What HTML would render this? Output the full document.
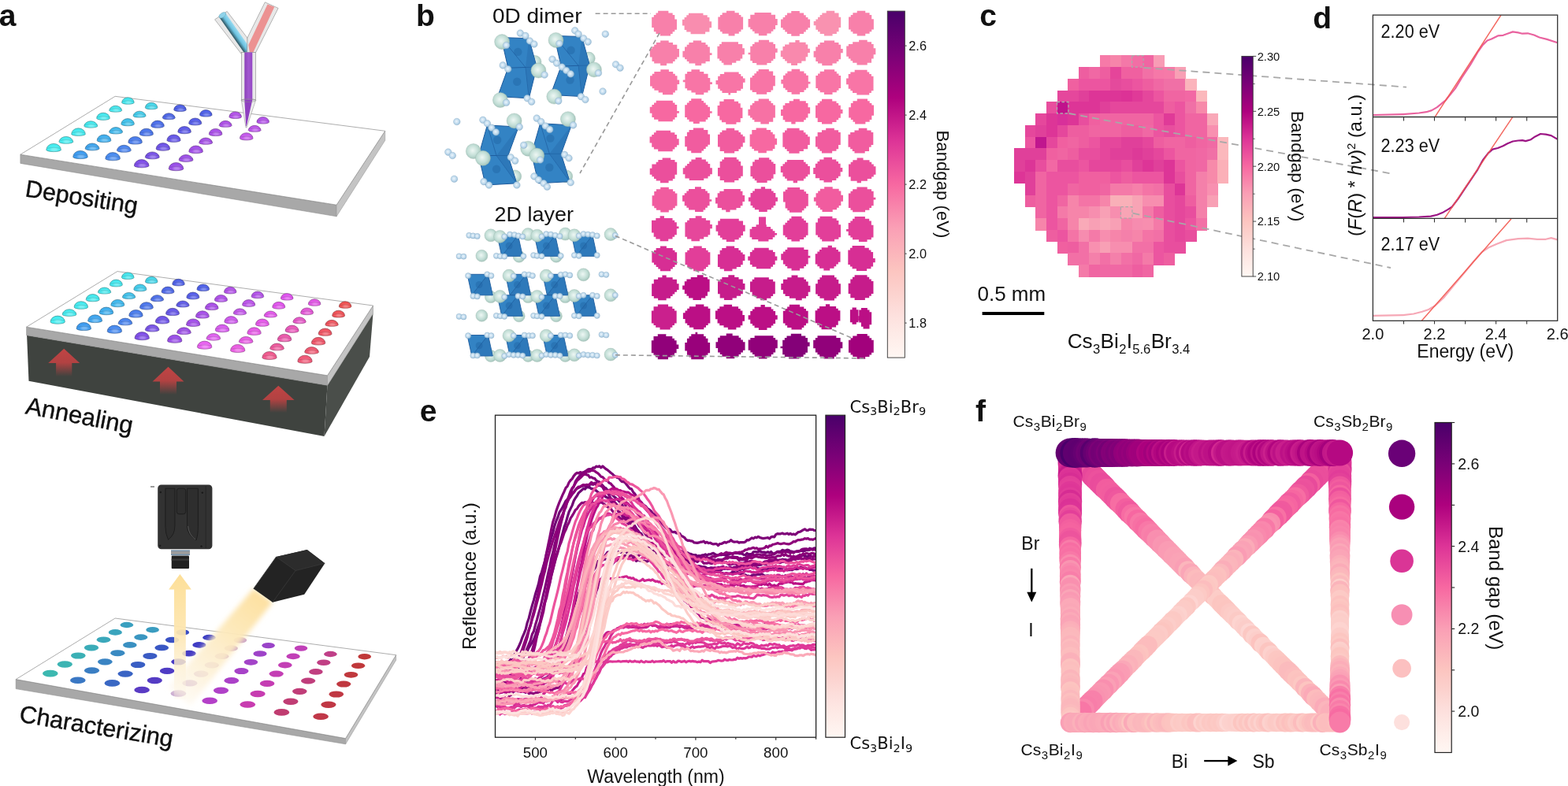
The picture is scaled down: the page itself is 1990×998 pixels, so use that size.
<!DOCTYPE html>
<html><head><meta charset="utf-8"><title>Figure</title>
<style>
html,body{margin:0;padding:0;background:#fff;overflow:hidden}
svg{display:block}
.t{font-family:"Liberation Sans",Arial,sans-serif;fill:#111}
.dj{font-family:"DejaVu Sans","Liberation Sans",sans-serif;fill:#111}
</style></head><body>
<svg width="1990" height="998" viewBox="0 0 1990 998">
<defs>
<linearGradient id="redfade" x1="0" y1="0" x2="0" y2="1">
 <stop offset="0" stop-color="#c04444"/><stop offset="0.5" stop-color="#b24242"/><stop offset="1" stop-color="#b24242" stop-opacity="0"/>
</linearGradient>
<linearGradient id="yelfade" x1="0" y1="0" x2="0" y2="1">
 <stop offset="0" stop-color="#fddf98"/><stop offset="0.45" stop-color="#fde6b0" stop-opacity="0.95"/><stop offset="0.75" stop-color="#fdf0d2" stop-opacity="0.8"/><stop offset="1" stop-color="#fdf4e0" stop-opacity="0.2"/>
</linearGradient>
<filter id="soft" x="-0.2" y="-0.2" width="1.4" height="1.4"><feGaussianBlur stdDeviation="3.2"/></filter>
<filter id="blur1" x="-0.5" y="-0.5" width="2" height="2"><feGaussianBlur stdDeviation="0.8"/></filter>
<linearGradient id="beam" gradientUnits="userSpaceOnUse" x1="334" y1="756" x2="228" y2="885">
 <stop offset="0" stop-color="#fde0a0"/><stop offset="0.35" stop-color="#fde8b8" stop-opacity="0.95"/><stop offset="0.75" stop-color="#fdf1d8" stop-opacity="0.85"/><stop offset="1" stop-color="#fdf6e8" stop-opacity="0.5"/>
</linearGradient>
<linearGradient id="bluetube" gradientUnits="userSpaceOnUse" x1="294.3" y1="43.6" x2="301.7" y2="38.4">
 <stop offset="0" stop-color="#35606e"/><stop offset="0.45" stop-color="#6cc2e0"/><stop offset="1" stop-color="#9adcf2"/>
</linearGradient>
<linearGradient id="purptube" x1="0" y1="0" x2="1" y2="0">
 <stop offset="0" stop-color="#8a40b8"/><stop offset="0.5" stop-color="#a258d0"/><stop offset="1" stop-color="#9448c4"/>
</linearGradient>
<linearGradient id="bgrad_b" x1="0" y1="0" x2="0" y2="1"><stop offset="0.0000" stop-color="#49006a"/><stop offset="0.0625" stop-color="#620070"/><stop offset="0.1250" stop-color="#7a0177"/><stop offset="0.1875" stop-color="#94017a"/><stop offset="0.2500" stop-color="#ae017e"/><stop offset="0.3125" stop-color="#c61a8a"/><stop offset="0.3750" stop-color="#dd3497"/><stop offset="0.4375" stop-color="#ea4e9c"/><stop offset="0.5000" stop-color="#f768a1"/><stop offset="0.5625" stop-color="#f884ab"/><stop offset="0.6250" stop-color="#fa9fb5"/><stop offset="0.6875" stop-color="#fbb2ba"/><stop offset="0.7500" stop-color="#fcc5c0"/><stop offset="0.8125" stop-color="#fcd2ce"/><stop offset="0.8750" stop-color="#fde0dd"/><stop offset="0.9375" stop-color="#feece8"/><stop offset="1.0000" stop-color="#fff7f3"/></linearGradient>
<radialGradient id="csg" cx="0.45" cy="0.45" r="0.6"><stop offset="0" stop-color="#eef7f4"/><stop offset="0.6" stop-color="#c2ded6"/><stop offset="1" stop-color="#9fc0b6"/></radialGradient>
<radialGradient id="hg" cx="0.45" cy="0.45" r="0.6"><stop offset="0" stop-color="#eef6fc"/><stop offset="0.6" stop-color="#bcd8ec"/><stop offset="1" stop-color="#94b8d4"/></radialGradient>
<linearGradient id="egrad" x1="0" y1="0" x2="0" y2="1"><stop offset="0.0000" stop-color="#49006a"/><stop offset="0.0625" stop-color="#620070"/><stop offset="0.1250" stop-color="#7a0177"/><stop offset="0.1875" stop-color="#94017a"/><stop offset="0.2500" stop-color="#ae017e"/><stop offset="0.3125" stop-color="#c61a8a"/><stop offset="0.3750" stop-color="#dd3497"/><stop offset="0.4375" stop-color="#ea4e9c"/><stop offset="0.5000" stop-color="#f768a1"/><stop offset="0.5625" stop-color="#f884ab"/><stop offset="0.6250" stop-color="#fa9fb5"/><stop offset="0.6875" stop-color="#fbb2ba"/><stop offset="0.7500" stop-color="#fcc5c0"/><stop offset="0.8125" stop-color="#fcd2ce"/><stop offset="0.8750" stop-color="#fde0dd"/><stop offset="0.9375" stop-color="#feece8"/><stop offset="1.0000" stop-color="#fff7f3"/></linearGradient><linearGradient id="fgrad" x1="0" y1="0" x2="0" y2="1"><stop offset="0.0000" stop-color="#49006a"/><stop offset="0.0625" stop-color="#620070"/><stop offset="0.1250" stop-color="#7a0177"/><stop offset="0.1875" stop-color="#94017a"/><stop offset="0.2500" stop-color="#ae017e"/><stop offset="0.3125" stop-color="#c61a8a"/><stop offset="0.3750" stop-color="#dd3497"/><stop offset="0.4375" stop-color="#ea4e9c"/><stop offset="0.5000" stop-color="#f768a1"/><stop offset="0.5625" stop-color="#f884ab"/><stop offset="0.6250" stop-color="#fa9fb5"/><stop offset="0.6875" stop-color="#fbb2ba"/><stop offset="0.7500" stop-color="#fcc5c0"/><stop offset="0.8125" stop-color="#fcd2ce"/><stop offset="0.8750" stop-color="#fde0dd"/><stop offset="0.9375" stop-color="#feece8"/><stop offset="1.0000" stop-color="#fff7f3"/></linearGradient><linearGradient id="cgrad" x1="0" y1="0" x2="0" y2="1"><stop offset="0.0000" stop-color="#49006a"/><stop offset="0.0625" stop-color="#620070"/><stop offset="0.1250" stop-color="#7a0177"/><stop offset="0.1875" stop-color="#94017a"/><stop offset="0.2500" stop-color="#ae017e"/><stop offset="0.3125" stop-color="#c61a8a"/><stop offset="0.3750" stop-color="#dd3497"/><stop offset="0.4375" stop-color="#ea4e9c"/><stop offset="0.5000" stop-color="#f768a1"/><stop offset="0.5625" stop-color="#f884ab"/><stop offset="0.6250" stop-color="#fa9fb5"/><stop offset="0.6875" stop-color="#fbb2ba"/><stop offset="0.7500" stop-color="#fcc5c0"/><stop offset="0.8125" stop-color="#fcd2ce"/><stop offset="0.8750" stop-color="#fde0dd"/><stop offset="0.9375" stop-color="#feece8"/><stop offset="1.0000" stop-color="#fff7f3"/></linearGradient></defs>
<rect width="1990" height="998" fill="#fff"/>
<text x="-1.2" y="33.3" font-size="39" font-weight="bold" class="t">a</text>
<polygon points="25.9,196.2 427.1,260.2 427.1,274.8 25.9,207.4" fill="#a8a8a8" stroke="#8f8f8f" stroke-width="0.6"/>
<polygon points="427.1,260.2 488.7,166.3 488.7,178.3 427.1,274.8" fill="#c4c4c4" stroke="#9a9a9a" stroke-width="0.6"/>
<polygon points="25.9,196.2 146.1,122.3 488.7,166.3 427.1,260.2" fill="#ffffff" stroke="#8a8a8a" stroke-width="0.7"/>
<path d="M58.8,190.2 A9.3,7.8 0 0 1 77.4,190.2 A9.3,2.4 0 0 1 58.8,190.2 Z" fill="#46ecef" stroke="#237678" stroke-width="0.55"/><ellipse cx="68.9" cy="189.6" rx="4.7" ry="2.3" fill="#acf6f8" opacity="0.6" filter="url(#blur1)"/><path d="M59.5,188.2 Q68.1,186.4 76.7,188.2" fill="none" stroke="#237678" stroke-width="0.45" opacity="0.55"/>
<path d="M74.8,180.2 A9.1,7.6 0 0 1 92.9,180.2 A9.1,2.4 0 0 1 74.8,180.2 Z" fill="#46ebef" stroke="#237678" stroke-width="0.55"/><ellipse cx="84.6" cy="179.6" rx="4.5" ry="2.3" fill="#acf6f8" opacity="0.6" filter="url(#blur1)"/><path d="M75.5,178.3 Q83.8,176.6 92.1,178.3" fill="none" stroke="#237678" stroke-width="0.45" opacity="0.55"/>
<path d="M90.7,170.2 A8.8,7.4 0 0 1 108.3,170.2 A8.8,2.3 0 0 1 90.7,170.2 Z" fill="#46eaef" stroke="#237578" stroke-width="0.55"/><ellipse cx="100.3" cy="169.6" rx="4.4" ry="2.2" fill="#acf6f8" opacity="0.6" filter="url(#blur1)"/><path d="M91.4,168.4 Q99.5,166.7 107.6,168.4" fill="none" stroke="#237578" stroke-width="0.45" opacity="0.55"/>
<path d="M106.7,160.2 A8.6,7.2 0 0 1 123.8,160.2 A8.6,2.2 0 0 1 106.7,160.2 Z" fill="#46e9ee" stroke="#237477" stroke-width="0.55"/><ellipse cx="116" cy="159.7" rx="4.3" ry="2.2" fill="#acf5f7" opacity="0.6" filter="url(#blur1)"/><path d="M107.4,158.4 Q115.2,156.8 123.1,158.4" fill="none" stroke="#237477" stroke-width="0.45" opacity="0.55"/>
<path d="M122.7,150.2 A8.3,7 0 0 1 139.3,150.2 A8.3,2.2 0 0 1 122.7,150.2 Z" fill="#46e8ee" stroke="#237477" stroke-width="0.55"/><ellipse cx="131.8" cy="149.7" rx="4.2" ry="2.1" fill="#acf5f7" opacity="0.6" filter="url(#blur1)"/><path d="M123.3,148.5 Q131,146.9 138.6,148.5" fill="none" stroke="#237477" stroke-width="0.45" opacity="0.55"/>
<path d="M138.6,140.3 A8.1,6.8 0 0 1 154.7,140.3 A8.1,2.1 0 0 1 138.6,140.3 Z" fill="#46e7ee" stroke="#237477" stroke-width="0.55"/><ellipse cx="147.5" cy="139.7" rx="4" ry="2" fill="#acf4f7" opacity="0.6" filter="url(#blur1)"/><path d="M139.3,138.6 Q146.7,137 154.1,138.6" fill="none" stroke="#237477" stroke-width="0.45" opacity="0.55"/>
<path d="M154.6,130.3 A7.8,6.6 0 0 1 170.2,130.3 A7.8,2 0 0 1 154.6,130.3 Z" fill="#46e6ee" stroke="#237377" stroke-width="0.55"/><ellipse cx="163.2" cy="129.7" rx="3.9" ry="2" fill="#acf4f7" opacity="0.6" filter="url(#blur1)"/><path d="M155.2,128.6 Q162.4,127.1 169.6,128.6" fill="none" stroke="#237377" stroke-width="0.45" opacity="0.55"/>
<path d="M92.7,199.2 A9.3,7.8 0 0 1 111.3,199.2 A9.3,2.4 0 0 1 92.7,199.2 Z" fill="#3f9cf0" stroke="#204e78" stroke-width="0.55"/><ellipse cx="102.8" cy="198.6" rx="4.7" ry="2.3" fill="#a9d2f8" opacity="0.6" filter="url(#blur1)"/><path d="M93.4,197.2 Q102,195.4 110.6,197.2" fill="none" stroke="#204e78" stroke-width="0.45" opacity="0.55"/>
<path d="M108,188.8 A9.1,7.6 0 0 1 126.1,188.8 A9.1,2.4 0 0 1 108,188.8 Z" fill="#40a6ef" stroke="#205378" stroke-width="0.55"/><ellipse cx="117.8" cy="188.2" rx="4.5" ry="2.3" fill="#a9d7f8" opacity="0.6" filter="url(#blur1)"/><path d="M108.7,186.9 Q117,185.1 125.3,186.9" fill="none" stroke="#205378" stroke-width="0.45" opacity="0.55"/>
<path d="M123.2,178.4 A8.8,7.4 0 0 1 140.8,178.4 A8.8,2.3 0 0 1 123.2,178.4 Z" fill="#41afee" stroke="#205877" stroke-width="0.55"/><ellipse cx="132.8" cy="177.8" rx="4.4" ry="2.2" fill="#aadbf7" opacity="0.6" filter="url(#blur1)"/><path d="M123.9,176.5 Q132,174.8 140.1,176.5" fill="none" stroke="#205877" stroke-width="0.45" opacity="0.55"/>
<path d="M138.5,168 A8.6,7.2 0 0 1 155.6,168 A8.6,2.2 0 0 1 138.5,168 Z" fill="#42b9ed" stroke="#215c76" stroke-width="0.55"/><ellipse cx="147.8" cy="167.4" rx="4.3" ry="2.2" fill="#aae0f7" opacity="0.6" filter="url(#blur1)"/><path d="M139.2,166.2 Q147,164.5 154.9,166.2" fill="none" stroke="#215c76" stroke-width="0.45" opacity="0.55"/>
<path d="M153.8,157.6 A8.3,7 0 0 1 170.4,157.6 A8.3,2.2 0 0 1 153.8,157.6 Z" fill="#43c3ec" stroke="#226276" stroke-width="0.55"/><ellipse cx="162.9" cy="157" rx="4.2" ry="2.1" fill="#aae4f6" opacity="0.6" filter="url(#blur1)"/><path d="M154.4,155.8 Q162.1,154.2 169.7,155.8" fill="none" stroke="#226276" stroke-width="0.45" opacity="0.55"/>
<path d="M169,147.2 A8.1,6.8 0 0 1 185.1,147.2 A8.1,2.1 0 0 1 169,147.2 Z" fill="#44cceb" stroke="#226676" stroke-width="0.55"/><ellipse cx="177.9" cy="146.6" rx="4" ry="2" fill="#abe8f6" opacity="0.6" filter="url(#blur1)"/><path d="M169.7,145.5 Q177.1,143.9 184.5,145.5" fill="none" stroke="#226676" stroke-width="0.45" opacity="0.55"/>
<path d="M184.3,136.8 A7.8,6.6 0 0 1 199.9,136.8 A7.8,2 0 0 1 184.3,136.8 Z" fill="#45d6ea" stroke="#226b75" stroke-width="0.55"/><ellipse cx="192.9" cy="136.2" rx="3.9" ry="2" fill="#abedf6" opacity="0.6" filter="url(#blur1)"/><path d="M184.9,135.1 Q192.1,133.6 199.3,135.1" fill="none" stroke="#226b75" stroke-width="0.45" opacity="0.55"/>
<path d="M133.8,201.4 A9.3,7.8 0 0 1 152.4,201.4 A9.3,2.4 0 0 1 133.8,201.4 Z" fill="#4a8cf0" stroke="#254678" stroke-width="0.55"/><ellipse cx="143.9" cy="200.8" rx="4.7" ry="2.3" fill="#aecbf8" opacity="0.6" filter="url(#blur1)"/><path d="M134.5,199.4 Q143.1,197.6 151.7,199.4" fill="none" stroke="#254678" stroke-width="0.45" opacity="0.55"/>
<path d="M148.3,191.1 A9.1,7.6 0 0 1 166.4,191.1 A9.1,2.4 0 0 1 148.3,191.1 Z" fill="#4b85ef" stroke="#264278" stroke-width="0.55"/><ellipse cx="158.1" cy="190.5" rx="4.5" ry="2.3" fill="#aec8f8" opacity="0.6" filter="url(#blur1)"/><path d="M149,189.2 Q157.3,187.4 165.7,189.2" fill="none" stroke="#264278" stroke-width="0.45" opacity="0.55"/>
<path d="M162.8,180.8 A8.8,7.4 0 0 1 180.4,180.8 A8.8,2.3 0 0 1 162.8,180.8 Z" fill="#4c7eed" stroke="#263f76" stroke-width="0.55"/><ellipse cx="172.4" cy="180.2" rx="4.4" ry="2.2" fill="#aec5f7" opacity="0.6" filter="url(#blur1)"/><path d="M163.5,178.9 Q171.6,177.2 179.7,178.9" fill="none" stroke="#263f76" stroke-width="0.45" opacity="0.55"/>
<path d="M177.2,170.4 A8.6,7.2 0 0 1 194.4,170.4 A8.6,2.2 0 0 1 177.2,170.4 Z" fill="#4d77ec" stroke="#263c76" stroke-width="0.55"/><ellipse cx="186.6" cy="169.9" rx="4.3" ry="2.2" fill="#afc2f6" opacity="0.6" filter="url(#blur1)"/><path d="M177.9,168.6 Q185.8,167 193.7,168.6" fill="none" stroke="#263c76" stroke-width="0.45" opacity="0.55"/>
<path d="M191.7,160.1 A8.3,7 0 0 1 208.3,160.1 A8.3,2.2 0 0 1 191.7,160.1 Z" fill="#4e70eb" stroke="#273876" stroke-width="0.55"/><ellipse cx="200.8" cy="159.5" rx="4.2" ry="2.1" fill="#afbff6" opacity="0.6" filter="url(#blur1)"/><path d="M192.4,158.4 Q200,156.8 207.7,158.4" fill="none" stroke="#273876" stroke-width="0.45" opacity="0.55"/>
<path d="M206.2,149.8 A8.1,6.8 0 0 1 222.3,149.8 A8.1,2.1 0 0 1 206.2,149.8 Z" fill="#4f69e9" stroke="#283474" stroke-width="0.55"/><ellipse cx="215.1" cy="149.2" rx="4" ry="2" fill="#b0bcf5" opacity="0.6" filter="url(#blur1)"/><path d="M206.9,148.1 Q214.3,146.5 221.7,148.1" fill="none" stroke="#283474" stroke-width="0.45" opacity="0.55"/>
<path d="M220.7,139.5 A7.8,6.6 0 0 1 236.3,139.5 A7.8,2 0 0 1 220.7,139.5 Z" fill="#5062e8" stroke="#283174" stroke-width="0.55"/><ellipse cx="229.3" cy="138.9" rx="3.9" ry="2" fill="#b0b8f5" opacity="0.6" filter="url(#blur1)"/><path d="M221.3,137.8 Q228.5,136.3 235.7,137.8" fill="none" stroke="#283174" stroke-width="0.45" opacity="0.55"/>
<path d="M170.4,210.4 A9.3,7.8 0 0 1 189,210.4 A9.3,2.4 0 0 1 170.4,210.4 Z" fill="#8050e8" stroke="#402874" stroke-width="0.55"/><ellipse cx="180.5" cy="209.8" rx="4.7" ry="2.3" fill="#c6b0f5" opacity="0.6" filter="url(#blur1)"/><path d="M171.1,208.4 Q179.7,206.6 188.3,208.4" fill="none" stroke="#402874" stroke-width="0.45" opacity="0.55"/>
<path d="M184.2,199.7 A9.1,7.6 0 0 1 202.3,199.7 A9.1,2.4 0 0 1 184.2,199.7 Z" fill="#7853e8" stroke="#3c2a74" stroke-width="0.55"/><ellipse cx="194.1" cy="199.1" rx="4.5" ry="2.3" fill="#c2b2f5" opacity="0.6" filter="url(#blur1)"/><path d="M185,197.8 Q193.3,196 201.6,197.8" fill="none" stroke="#3c2a74" stroke-width="0.45" opacity="0.55"/>
<path d="M198.1,189 A8.8,7.4 0 0 1 215.7,189 A8.8,2.3 0 0 1 198.1,189 Z" fill="#7056e9" stroke="#382b74" stroke-width="0.55"/><ellipse cx="207.7" cy="188.4" rx="4.4" ry="2.2" fill="#bfb3f5" opacity="0.6" filter="url(#blur1)"/><path d="M198.8,187.1 Q206.9,185.4 215,187.1" fill="none" stroke="#382b74" stroke-width="0.45" opacity="0.55"/>
<path d="M211.9,178.2 A8.6,7.2 0 0 1 229.1,178.2 A8.6,2.2 0 0 1 211.9,178.2 Z" fill="#6859e9" stroke="#342c74" stroke-width="0.55"/><ellipse cx="221.3" cy="177.7" rx="4.3" ry="2.2" fill="#bbb4f5" opacity="0.6" filter="url(#blur1)"/><path d="M212.6,176.4 Q220.5,174.8 228.4,176.4" fill="none" stroke="#342c74" stroke-width="0.45" opacity="0.55"/>
<path d="M225.8,167.5 A8.3,7 0 0 1 242.4,167.5 A8.3,2.2 0 0 1 225.8,167.5 Z" fill="#5f5ce9" stroke="#302e74" stroke-width="0.55"/><ellipse cx="234.9" cy="166.9" rx="4.2" ry="2.1" fill="#b7b6f5" opacity="0.6" filter="url(#blur1)"/><path d="M226.5,165.8 Q234.1,164.2 241.7,165.8" fill="none" stroke="#302e74" stroke-width="0.45" opacity="0.55"/>
<path d="M239.6,156.8 A8.1,6.8 0 0 1 255.8,156.8 A8.1,2.1 0 0 1 239.6,156.8 Z" fill="#575fea" stroke="#2c3075" stroke-width="0.55"/><ellipse cx="248.5" cy="156.2" rx="4" ry="2" fill="#b3b7f6" opacity="0.6" filter="url(#blur1)"/><path d="M240.3,155.1 Q247.7,153.5 255.1,155.1" fill="none" stroke="#2c3075" stroke-width="0.45" opacity="0.55"/>
<path d="M253.5,146.1 A7.8,6.6 0 0 1 269.1,146.1 A7.8,2 0 0 1 253.5,146.1 Z" fill="#4f62ea" stroke="#283175" stroke-width="0.55"/><ellipse cx="262.1" cy="145.5" rx="3.9" ry="2" fill="#b0b8f6" opacity="0.6" filter="url(#blur1)"/><path d="M254.1,144.4 Q261.3,142.9 268.5,144.4" fill="none" stroke="#283175" stroke-width="0.45" opacity="0.55"/>
<path d="M214.2,214.3 A9.3,7.8 0 0 1 232.8,214.3 A9.3,2.4 0 0 1 214.2,214.3 Z" fill="#9a50e8" stroke="#4d2874" stroke-width="0.55"/><ellipse cx="224.3" cy="213.7" rx="4.7" ry="2.3" fill="#d2b0f5" opacity="0.6" filter="url(#blur1)"/><path d="M214.9,212.3 Q223.5,210.5 232.1,212.3" fill="none" stroke="#4d2874" stroke-width="0.45" opacity="0.55"/>
<path d="M227,203.3 A9.1,7.6 0 0 1 245.1,203.3 A9.1,2.4 0 0 1 227,203.3 Z" fill="#9e50e8" stroke="#4f2874" stroke-width="0.55"/><ellipse cx="236.8" cy="202.7" rx="4.5" ry="2.3" fill="#d3b0f5" opacity="0.6" filter="url(#blur1)"/><path d="M227.7,201.4 Q236,199.7 244.4,201.4" fill="none" stroke="#4f2874" stroke-width="0.45" opacity="0.55"/>
<path d="M239.8,192.4 A8.8,7.4 0 0 1 257.4,192.4 A8.8,2.3 0 0 1 239.8,192.4 Z" fill="#a351e9" stroke="#522874" stroke-width="0.55"/><ellipse cx="249.4" cy="191.8" rx="4.4" ry="2.2" fill="#d6b1f5" opacity="0.6" filter="url(#blur1)"/><path d="M240.5,190.5 Q248.6,188.8 256.7,190.5" fill="none" stroke="#522874" stroke-width="0.45" opacity="0.55"/>
<path d="M252.6,181.4 A8.6,7.2 0 0 1 269.7,181.4 A8.6,2.2 0 0 1 252.6,181.4 Z" fill="#a751e9" stroke="#542874" stroke-width="0.55"/><ellipse cx="261.9" cy="180.8" rx="4.3" ry="2.2" fill="#d7b1f5" opacity="0.6" filter="url(#blur1)"/><path d="M253.2,179.6 Q261.1,177.9 269,179.6" fill="none" stroke="#542874" stroke-width="0.45" opacity="0.55"/>
<path d="M265.3,170.4 A8.3,7 0 0 1 281.9,170.4 A8.3,2.2 0 0 1 265.3,170.4 Z" fill="#ab51e9" stroke="#562874" stroke-width="0.55"/><ellipse cx="274.4" cy="169.8" rx="4.2" ry="2.1" fill="#d9b1f5" opacity="0.6" filter="url(#blur1)"/><path d="M266,168.7 Q273.6,167.1 281.3,168.7" fill="none" stroke="#562874" stroke-width="0.45" opacity="0.55"/>
<path d="M278.1,159.4 A8.1,6.8 0 0 1 294.2,159.4 A8.1,2.1 0 0 1 278.1,159.4 Z" fill="#b052ea" stroke="#582975" stroke-width="0.55"/><ellipse cx="287" cy="158.9" rx="4" ry="2" fill="#dbb1f6" opacity="0.6" filter="url(#blur1)"/><path d="M278.8,157.7 Q286.2,156.2 293.6,157.7" fill="none" stroke="#582975" stroke-width="0.45" opacity="0.55"/>
<path d="M290.9,148.5 A7.8,6.6 0 0 1 306.5,148.5 A7.8,2 0 0 1 290.9,148.5 Z" fill="#b452ea" stroke="#5a2975" stroke-width="0.55"/><ellipse cx="299.5" cy="147.9" rx="3.9" ry="2" fill="#ddb1f6" opacity="0.6" filter="url(#blur1)"/><path d="M291.5,146.8 Q298.7,145.3 305.9,146.8" fill="none" stroke="#5a2975" stroke-width="0.45" opacity="0.55"/>
<path d="M304.4,175.7 A8.3,7 0 0 1 321,175.7 A8.3,2.2 0 0 1 304.4,175.7 Z" fill="#c559ec" stroke="#622c76" stroke-width="0.55"/><ellipse cx="313.5" cy="175.1" rx="4.2" ry="2.1" fill="#e5b4f6" opacity="0.6" filter="url(#blur1)"/><path d="M305,174 Q312.7,172.4 320.3,174" fill="none" stroke="#622c76" stroke-width="0.45" opacity="0.55"/>
<path d="M315.1,165.4 A8.1,6.8 0 0 1 331.2,165.4 A8.1,2.1 0 0 1 315.1,165.4 Z" fill="#bd56eb" stroke="#5e2b76" stroke-width="0.55"/><ellipse cx="324" cy="164.8" rx="4" ry="2" fill="#e1b3f6" opacity="0.6" filter="url(#blur1)"/><path d="M315.8,163.7 Q323.2,162.1 330.6,163.7" fill="none" stroke="#5e2b76" stroke-width="0.45" opacity="0.55"/>
<path d="M325.9,155.1 A7.8,6.6 0 0 1 341.5,155.1 A7.8,2 0 0 1 325.9,155.1 Z" fill="#b454ea" stroke="#5a2a75" stroke-width="0.55"/><ellipse cx="334.5" cy="154.5" rx="3.9" ry="2" fill="#ddb2f6" opacity="0.6" filter="url(#blur1)"/><path d="M326.5,153.4 Q333.7,151.9 340.9,153.4" fill="none" stroke="#5a2a75" stroke-width="0.45" opacity="0.55"/>
<polygon points="272.6,24.8 288.2,14.4 313.9,48.1 318.5,66.5 306.7,68.9" fill="#e6e6e6" stroke="#7a7a7a" stroke-width="0.6" opacity="0.9"/>
<polygon points="278,21.5 286.5,17 318,62 317.5,68 310.5,68" fill="url(#bluetube)"/>
<ellipse cx="282.3" cy="19.3" rx="5" ry="2.8" transform="rotate(-33 282.3 19.3)" fill="#8fd3ea" stroke="#6a9aaa" stroke-width="0.4"/>
<polygon points="336.3,2.8 353.1,10.4 324.7,66.5 313.5,66.5 313.9,48.1" fill="#e6e6e6" stroke="#7a7a7a" stroke-width="0.6" opacity="0.9"/>
<polygon points="339.5,5.6 348.3,8.8 321.5,66.3 316.8,66.3 315.3,57" fill="#ec9292"/>
<rect x="306.3" y="66.5" width="18.4" height="60.5" fill="#e9e9e9" stroke="#8a8a8a" stroke-width="0.6"/>
<rect x="310.3" y="66.5" width="10" height="62" fill="url(#purptube)"/>
<polygon points="306.3,127 324.7,127 313,162 312,162" fill="#ececec" stroke="#8a8a8a" stroke-width="0.5"/>
<polygon points="310.3,127 320.3,127 312.9,160 312.2,160" fill="#8e40c0"/>
<ellipse cx="315.5" cy="127.5" rx="9.2" ry="2" fill="none" stroke="#8a8a8a" stroke-width="0.5"/>
<text transform="translate(30.9,249.3) rotate(8.9)" font-size="30.5" class="t" stroke="#000" stroke-width="0.35">Depositing</text>
<polygon points="34.1,425.7 415.5,489.3 411.5,553.9 36.5,483.8" fill="#3f433f"/>
<polygon points="415.5,489.3 473.5,398 469,453 411.5,553.9" fill="#4a4e4a"/>
<polygon points="33.6,415.2 415.5,476.8 415.5,489.3 33.6,425.7" fill="#a8a8a8" stroke="#8f8f8f" stroke-width="0.6"/>
<polygon points="415.5,476.8 473.5,388 473.5,398 415.5,489.3" fill="#c4c4c4" stroke="#9a9a9a" stroke-width="0.6"/>
<polygon points="33.6,415.2 148.9,344.6 473.5,388 415.5,476.8" fill="#ffffff" stroke="#8a8a8a" stroke-width="0.7"/>
<polygon points="81.2,442.8 101.2,461 91.3,461 91.3,478 71.1,478 71.1,461 61.2,461" fill="url(#redfade)"/>
<polygon points="213.5,465.8 233.5,484.6 224,484.6 224,501 203,501 203,484.6 193.5,484.6" fill="url(#redfade)"/>
<polygon points="353.3,489.8 373.6,508 363.8,508 363.8,524 342.8,524 342.8,508 333,508" fill="url(#redfade)"/>
<path d="M64,408.8 A9.2,7.7 0 0 1 82.4,408.8 A9.2,2.4 0 0 1 64,408.8 Z" fill="#46ecef" stroke="#237678" stroke-width="0.55"/><ellipse cx="74" cy="408.1" rx="4.6" ry="2.3" fill="#acf6f8" opacity="0.6" filter="url(#blur1)"/><path d="M64.7,406.8 Q73.2,405.1 81.7,406.8" fill="none" stroke="#237678" stroke-width="0.45" opacity="0.55"/>
<path d="M79.1,399.4 A9,7.5 0 0 1 97,399.4 A9,2.3 0 0 1 79.1,399.4 Z" fill="#46ebef" stroke="#237678" stroke-width="0.55"/><ellipse cx="88.8" cy="398.8" rx="4.5" ry="2.3" fill="#acf6f8" opacity="0.6" filter="url(#blur1)"/><path d="M79.8,397.5 Q88,395.8 96.3,397.5" fill="none" stroke="#237678" stroke-width="0.45" opacity="0.55"/>
<path d="M94.1,390 A8.7,7.3 0 0 1 111.6,390 A8.7,2.3 0 0 1 94.1,390 Z" fill="#46eaef" stroke="#237578" stroke-width="0.55"/><ellipse cx="103.7" cy="389.4" rx="4.4" ry="2.2" fill="#acf6f8" opacity="0.6" filter="url(#blur1)"/><path d="M94.8,388.2 Q102.9,386.5 110.9,388.2" fill="none" stroke="#237578" stroke-width="0.45" opacity="0.55"/>
<path d="M109.2,380.6 A8.5,7.1 0 0 1 126.2,380.6 A8.5,2.2 0 0 1 109.2,380.6 Z" fill="#46e9ee" stroke="#237477" stroke-width="0.55"/><ellipse cx="118.5" cy="380" rx="4.2" ry="2.1" fill="#acf5f7" opacity="0.6" filter="url(#blur1)"/><path d="M109.9,378.8 Q117.7,377.2 125.5,378.8" fill="none" stroke="#237477" stroke-width="0.45" opacity="0.55"/>
<path d="M124.3,371.2 A8.3,6.9 0 0 1 140.8,371.2 A8.3,2.1 0 0 1 124.3,371.2 Z" fill="#46e8ee" stroke="#237477" stroke-width="0.55"/><ellipse cx="133.3" cy="370.7" rx="4.1" ry="2.1" fill="#acf5f7" opacity="0.6" filter="url(#blur1)"/><path d="M124.9,369.5 Q132.5,367.9 140.1,369.5" fill="none" stroke="#237477" stroke-width="0.45" opacity="0.55"/>
<path d="M139.3,361.8 A8,6.7 0 0 1 155.4,361.8 A8,2.1 0 0 1 139.3,361.8 Z" fill="#46e7ee" stroke="#237477" stroke-width="0.55"/><ellipse cx="148.2" cy="361.3" rx="4" ry="2" fill="#acf4f7" opacity="0.6" filter="url(#blur1)"/><path d="M140,360.2 Q147.4,358.6 154.8,360.2" fill="none" stroke="#237477" stroke-width="0.45" opacity="0.55"/>
<path d="M154.4,352.5 A7.8,6.6 0 0 1 170,352.5 A7.8,2 0 0 1 154.4,352.5 Z" fill="#46e6ee" stroke="#237377" stroke-width="0.55"/><ellipse cx="163" cy="351.9" rx="3.9" ry="2" fill="#acf4f7" opacity="0.6" filter="url(#blur1)"/><path d="M155,350.8 Q162.2,349.3 169.4,350.8" fill="none" stroke="#237377" stroke-width="0.45" opacity="0.55"/>
<path d="M97.1,417.2 A9.2,7.7 0 0 1 115.5,417.2 A9.2,2.4 0 0 1 97.1,417.2 Z" fill="#3f9cf0" stroke="#204e78" stroke-width="0.55"/><ellipse cx="107.1" cy="416.5" rx="4.6" ry="2.3" fill="#a9d2f8" opacity="0.6" filter="url(#blur1)"/><path d="M97.8,415.2 Q106.3,413.5 114.8,415.2" fill="none" stroke="#204e78" stroke-width="0.45" opacity="0.55"/>
<path d="M111.6,407.3 A9,7.5 0 0 1 129.6,407.3 A9,2.3 0 0 1 111.6,407.3 Z" fill="#40a6ef" stroke="#205378" stroke-width="0.55"/><ellipse cx="121.4" cy="406.7" rx="4.5" ry="2.3" fill="#a9d7f8" opacity="0.6" filter="url(#blur1)"/><path d="M112.4,405.4 Q120.6,403.7 128.9,405.4" fill="none" stroke="#205378" stroke-width="0.45" opacity="0.55"/>
<path d="M126.2,397.4 A8.7,7.3 0 0 1 143.7,397.4 A8.7,2.3 0 0 1 126.2,397.4 Z" fill="#41afee" stroke="#205877" stroke-width="0.55"/><ellipse cx="135.7" cy="396.8" rx="4.4" ry="2.2" fill="#aadbf7" opacity="0.6" filter="url(#blur1)"/><path d="M126.9,395.6 Q134.9,393.9 143,395.6" fill="none" stroke="#205877" stroke-width="0.45" opacity="0.55"/>
<path d="M140.8,387.5 A8.5,7.1 0 0 1 157.8,387.5 A8.5,2.2 0 0 1 140.8,387.5 Z" fill="#42b9ed" stroke="#215c76" stroke-width="0.55"/><ellipse cx="150.1" cy="386.9" rx="4.2" ry="2.1" fill="#aae0f7" opacity="0.6" filter="url(#blur1)"/><path d="M141.4,385.7 Q149.2,384.1 157.1,385.7" fill="none" stroke="#215c76" stroke-width="0.45" opacity="0.55"/>
<path d="M155.3,377.6 A8.3,6.9 0 0 1 171.8,377.6 A8.3,2.1 0 0 1 155.3,377.6 Z" fill="#43c3ec" stroke="#226276" stroke-width="0.55"/><ellipse cx="164.4" cy="377.1" rx="4.1" ry="2.1" fill="#aae4f6" opacity="0.6" filter="url(#blur1)"/><path d="M156,375.9 Q163.6,374.3 171.2,375.9" fill="none" stroke="#226276" stroke-width="0.45" opacity="0.55"/>
<path d="M169.8,367.7 A8,6.7 0 0 1 185.9,367.7 A8,2.1 0 0 1 169.8,367.7 Z" fill="#44cceb" stroke="#226676" stroke-width="0.55"/><ellipse cx="178.7" cy="367.2" rx="4" ry="2" fill="#abe8f6" opacity="0.6" filter="url(#blur1)"/><path d="M170.5,366.1 Q177.9,364.5 185.3,366.1" fill="none" stroke="#226676" stroke-width="0.45" opacity="0.55"/>
<path d="M184.4,357.9 A7.8,6.6 0 0 1 200,357.9 A7.8,2 0 0 1 184.4,357.9 Z" fill="#45d6ea" stroke="#226b75" stroke-width="0.55"/><ellipse cx="193" cy="357.3" rx="3.9" ry="2" fill="#abedf6" opacity="0.6" filter="url(#blur1)"/><path d="M185,356.2 Q192.2,354.7 199.4,356.2" fill="none" stroke="#226b75" stroke-width="0.45" opacity="0.55"/>
<path d="M136.2,420.8 A9.2,7.7 0 0 1 154.6,420.8 A9.2,2.4 0 0 1 136.2,420.8 Z" fill="#4a8cf0" stroke="#254678" stroke-width="0.55"/><ellipse cx="146.2" cy="420.1" rx="4.6" ry="2.3" fill="#aecbf8" opacity="0.6" filter="url(#blur1)"/><path d="M136.9,418.8 Q145.4,417.1 153.9,418.8" fill="none" stroke="#254678" stroke-width="0.45" opacity="0.55"/>
<path d="M150,410.8 A9,7.5 0 0 1 167.9,410.8 A9,2.3 0 0 1 150,410.8 Z" fill="#4b85ef" stroke="#264278" stroke-width="0.55"/><ellipse cx="159.7" cy="410.2" rx="4.5" ry="2.3" fill="#aec8f8" opacity="0.6" filter="url(#blur1)"/><path d="M150.7,408.9 Q158.9,407.2 167.2,408.9" fill="none" stroke="#264278" stroke-width="0.45" opacity="0.55"/>
<path d="M163.7,400.8 A8.7,7.3 0 0 1 181.2,400.8 A8.7,2.3 0 0 1 163.7,400.8 Z" fill="#4c7eed" stroke="#263f76" stroke-width="0.55"/><ellipse cx="173.2" cy="400.2" rx="4.4" ry="2.2" fill="#aec5f7" opacity="0.6" filter="url(#blur1)"/><path d="M164.4,399 Q172.4,397.3 180.5,399" fill="none" stroke="#263f76" stroke-width="0.45" opacity="0.55"/>
<path d="M177.4,390.8 A8.5,7.1 0 0 1 194.4,390.8 A8.5,2.2 0 0 1 177.4,390.8 Z" fill="#4d77ec" stroke="#263c76" stroke-width="0.55"/><ellipse cx="186.8" cy="390.2" rx="4.2" ry="2.1" fill="#afc2f6" opacity="0.6" filter="url(#blur1)"/><path d="M178.1,389 Q185.9,387.4 193.8,389" fill="none" stroke="#263c76" stroke-width="0.45" opacity="0.55"/>
<path d="M191.2,380.8 A8.3,6.9 0 0 1 207.7,380.8 A8.3,2.1 0 0 1 191.2,380.8 Z" fill="#4e70eb" stroke="#273876" stroke-width="0.55"/><ellipse cx="200.3" cy="380.3" rx="4.1" ry="2.1" fill="#afbff6" opacity="0.6" filter="url(#blur1)"/><path d="M191.9,379.1 Q199.5,377.5 207.1,379.1" fill="none" stroke="#273876" stroke-width="0.45" opacity="0.55"/>
<path d="M205,370.8 A8,6.7 0 0 1 221,370.8 A8,2.1 0 0 1 205,370.8 Z" fill="#4f69e9" stroke="#283474" stroke-width="0.55"/><ellipse cx="213.8" cy="370.3" rx="4" ry="2" fill="#b0bcf5" opacity="0.6" filter="url(#blur1)"/><path d="M205.6,369.2 Q213,367.6 220.4,369.2" fill="none" stroke="#283474" stroke-width="0.45" opacity="0.55"/>
<path d="M218.7,360.9 A7.8,6.6 0 0 1 234.3,360.9 A7.8,2 0 0 1 218.7,360.9 Z" fill="#5062e8" stroke="#283174" stroke-width="0.55"/><ellipse cx="227.3" cy="360.3" rx="3.9" ry="2" fill="#b0b8f5" opacity="0.6" filter="url(#blur1)"/><path d="M219.3,359.2 Q226.5,357.7 233.7,359.2" fill="none" stroke="#283174" stroke-width="0.45" opacity="0.55"/>
<path d="M171,429.3 A9.2,7.7 0 0 1 189.4,429.3 A9.2,2.4 0 0 1 171,429.3 Z" fill="#8050e8" stroke="#402874" stroke-width="0.55"/><ellipse cx="181" cy="428.6" rx="4.6" ry="2.3" fill="#c6b0f5" opacity="0.6" filter="url(#blur1)"/><path d="M171.7,427.3 Q180.2,425.6 188.7,427.3" fill="none" stroke="#402874" stroke-width="0.45" opacity="0.55"/>
<path d="M184.2,419 A9,7.5 0 0 1 202.1,419 A9,2.3 0 0 1 184.2,419 Z" fill="#7853e8" stroke="#3c2a74" stroke-width="0.55"/><ellipse cx="193.9" cy="418.4" rx="4.5" ry="2.3" fill="#c2b2f5" opacity="0.6" filter="url(#blur1)"/><path d="M184.9,417.1 Q193.1,415.4 201.4,417.1" fill="none" stroke="#3c2a74" stroke-width="0.45" opacity="0.55"/>
<path d="M197.3,408.7 A8.7,7.3 0 0 1 214.8,408.7 A8.7,2.3 0 0 1 197.3,408.7 Z" fill="#7056e9" stroke="#382b74" stroke-width="0.55"/><ellipse cx="206.9" cy="408.1" rx="4.4" ry="2.2" fill="#bfb3f5" opacity="0.6" filter="url(#blur1)"/><path d="M198,406.8 Q206.1,405.1 214.1,406.8" fill="none" stroke="#382b74" stroke-width="0.45" opacity="0.55"/>
<path d="M210.5,398.4 A8.5,7.1 0 0 1 227.5,398.4 A8.5,2.2 0 0 1 210.5,398.4 Z" fill="#6859e9" stroke="#342c74" stroke-width="0.55"/><ellipse cx="219.8" cy="397.8" rx="4.2" ry="2.1" fill="#bbb4f5" opacity="0.6" filter="url(#blur1)"/><path d="M211.2,396.6 Q219,394.9 226.8,396.6" fill="none" stroke="#342c74" stroke-width="0.45" opacity="0.55"/>
<path d="M223.7,388.1 A8.3,6.9 0 0 1 240.2,388.1 A8.3,2.1 0 0 1 223.7,388.1 Z" fill="#5f5ce9" stroke="#302e74" stroke-width="0.55"/><ellipse cx="232.7" cy="387.5" rx="4.1" ry="2.1" fill="#b7b6f5" opacity="0.6" filter="url(#blur1)"/><path d="M224.3,386.3 Q231.9,384.7 239.5,386.3" fill="none" stroke="#302e74" stroke-width="0.45" opacity="0.55"/>
<path d="M236.8,377.8 A8,6.7 0 0 1 252.9,377.8 A8,2.1 0 0 1 236.8,377.8 Z" fill="#575fea" stroke="#2c3075" stroke-width="0.55"/><ellipse cx="245.7" cy="377.2" rx="4" ry="2" fill="#b3b7f6" opacity="0.6" filter="url(#blur1)"/><path d="M237.5,376.1 Q244.9,374.5 252.3,376.1" fill="none" stroke="#2c3075" stroke-width="0.45" opacity="0.55"/>
<path d="M250,367.5 A7.8,6.6 0 0 1 265.6,367.5 A7.8,2 0 0 1 250,367.5 Z" fill="#4f62ea" stroke="#283175" stroke-width="0.55"/><ellipse cx="258.6" cy="366.9" rx="3.9" ry="2" fill="#b0b8f6" opacity="0.6" filter="url(#blur1)"/><path d="M250.6,365.8 Q257.8,364.3 265,365.8" fill="none" stroke="#283175" stroke-width="0.45" opacity="0.55"/>
<path d="M212.5,432.9 A9.2,7.7 0 0 1 230.9,432.9 A9.2,2.4 0 0 1 212.5,432.9 Z" fill="#9a50e8" stroke="#4d2874" stroke-width="0.55"/><ellipse cx="222.5" cy="432.2" rx="4.6" ry="2.3" fill="#d2b0f5" opacity="0.6" filter="url(#blur1)"/><path d="M213.2,430.9 Q221.7,429.2 230.2,430.9" fill="none" stroke="#4d2874" stroke-width="0.45" opacity="0.55"/>
<path d="M224.5,422.5 A9,7.5 0 0 1 242.4,422.5 A9,2.3 0 0 1 224.5,422.5 Z" fill="#9e50e8" stroke="#4f2874" stroke-width="0.55"/><ellipse cx="234.2" cy="421.9" rx="4.5" ry="2.3" fill="#d3b0f5" opacity="0.6" filter="url(#blur1)"/><path d="M225.2,420.7 Q233.4,418.9 241.7,420.7" fill="none" stroke="#4f2874" stroke-width="0.45" opacity="0.55"/>
<path d="M236.5,412.2 A8.7,7.3 0 0 1 253.9,412.2 A8.7,2.3 0 0 1 236.5,412.2 Z" fill="#a351e9" stroke="#522874" stroke-width="0.55"/><ellipse cx="246" cy="411.6" rx="4.4" ry="2.2" fill="#d6b1f5" opacity="0.6" filter="url(#blur1)"/><path d="M237.2,410.4 Q245.2,408.7 253.2,410.4" fill="none" stroke="#522874" stroke-width="0.45" opacity="0.55"/>
<path d="M248.4,401.9 A8.5,7.1 0 0 1 265.4,401.9 A8.5,2.2 0 0 1 248.4,401.9 Z" fill="#a751e9" stroke="#542874" stroke-width="0.55"/><ellipse cx="257.8" cy="401.3" rx="4.2" ry="2.1" fill="#d7b1f5" opacity="0.6" filter="url(#blur1)"/><path d="M249.1,400.1 Q256.9,398.4 264.8,400.1" fill="none" stroke="#542874" stroke-width="0.45" opacity="0.55"/>
<path d="M260.4,391.5 A8.3,6.9 0 0 1 277,391.5 A8.3,2.1 0 0 1 260.4,391.5 Z" fill="#ab51e9" stroke="#562874" stroke-width="0.55"/><ellipse cx="269.5" cy="391" rx="4.1" ry="2.1" fill="#d9b1f5" opacity="0.6" filter="url(#blur1)"/><path d="M261.1,389.8 Q268.7,388.2 276.3,389.8" fill="none" stroke="#562874" stroke-width="0.45" opacity="0.55"/>
<path d="M272.4,381.2 A8,6.7 0 0 1 288.5,381.2 A8,2.1 0 0 1 272.4,381.2 Z" fill="#b052ea" stroke="#582975" stroke-width="0.55"/><ellipse cx="281.2" cy="380.7" rx="4" ry="2" fill="#dbb1f6" opacity="0.6" filter="url(#blur1)"/><path d="M273.1,379.5 Q280.4,378 287.8,379.5" fill="none" stroke="#582975" stroke-width="0.45" opacity="0.55"/>
<path d="M284.4,370.9 A7.8,6.6 0 0 1 300,370.9 A7.8,2 0 0 1 284.4,370.9 Z" fill="#b452ea" stroke="#5a2975" stroke-width="0.55"/><ellipse cx="293" cy="370.3" rx="3.9" ry="2" fill="#ddb1f6" opacity="0.6" filter="url(#blur1)"/><path d="M285,369.2 Q292.2,367.7 299.4,369.2" fill="none" stroke="#5a2975" stroke-width="0.45" opacity="0.55"/>
<path d="M250.4,440.8 A9.2,7.7 0 0 1 268.8,440.8 A9.2,2.4 0 0 1 250.4,440.8 Z" fill="#e862f0" stroke="#743178" stroke-width="0.55"/><ellipse cx="260.4" cy="440.1" rx="4.6" ry="2.3" fill="#f5b8f8" opacity="0.6" filter="url(#blur1)"/><path d="M251.1,438.8 Q259.6,437.1 268.1,438.8" fill="none" stroke="#743178" stroke-width="0.45" opacity="0.55"/>
<path d="M261.9,430.1 A9,7.5 0 0 1 279.8,430.1 A9,2.3 0 0 1 261.9,430.1 Z" fill="#df60ef" stroke="#703078" stroke-width="0.55"/><ellipse cx="271.6" cy="429.5" rx="4.5" ry="2.3" fill="#f1b7f8" opacity="0.6" filter="url(#blur1)"/><path d="M262.6,428.2 Q270.8,426.5 279.1,428.2" fill="none" stroke="#703078" stroke-width="0.45" opacity="0.55"/>
<path d="M273.3,419.4 A8.7,7.3 0 0 1 290.8,419.4 A8.7,2.3 0 0 1 273.3,419.4 Z" fill="#d75dee" stroke="#6c2e77" stroke-width="0.55"/><ellipse cx="282.8" cy="418.8" rx="4.4" ry="2.2" fill="#edb6f7" opacity="0.6" filter="url(#blur1)"/><path d="M274,417.6 Q282,415.9 290.1,417.6" fill="none" stroke="#6c2e77" stroke-width="0.45" opacity="0.55"/>
<path d="M284.8,408.7 A8.5,7.1 0 0 1 301.8,408.7 A8.5,2.2 0 0 1 284.8,408.7 Z" fill="#ce5bed" stroke="#672e76" stroke-width="0.55"/><ellipse cx="294.1" cy="408.1" rx="4.2" ry="2.1" fill="#e9b5f7" opacity="0.6" filter="url(#blur1)"/><path d="M285.4,406.9 Q293.2,405.3 301.1,406.9" fill="none" stroke="#672e76" stroke-width="0.45" opacity="0.55"/>
<path d="M296.2,398 A8.3,6.9 0 0 1 312.7,398 A8.3,2.1 0 0 1 296.2,398 Z" fill="#c559ec" stroke="#622c76" stroke-width="0.55"/><ellipse cx="305.3" cy="397.5" rx="4.1" ry="2.1" fill="#e5b4f6" opacity="0.6" filter="url(#blur1)"/><path d="M296.9,396.3 Q304.5,394.7 312.1,396.3" fill="none" stroke="#622c76" stroke-width="0.45" opacity="0.55"/>
<path d="M307.6,387.3 A8,6.7 0 0 1 323.7,387.3 A8,2.1 0 0 1 307.6,387.3 Z" fill="#bd56eb" stroke="#5e2b76" stroke-width="0.55"/><ellipse cx="316.5" cy="386.8" rx="4" ry="2" fill="#e1b3f6" opacity="0.6" filter="url(#blur1)"/><path d="M308.3,385.7 Q315.7,384.1 323.1,385.7" fill="none" stroke="#5e2b76" stroke-width="0.45" opacity="0.55"/>
<path d="M319.1,376.7 A7.8,6.6 0 0 1 334.7,376.7 A7.8,2 0 0 1 319.1,376.7 Z" fill="#b454ea" stroke="#5a2a75" stroke-width="0.55"/><ellipse cx="327.7" cy="376.1" rx="3.9" ry="2" fill="#ddb2f6" opacity="0.6" filter="url(#blur1)"/><path d="M319.7,375 Q326.9,373.5 334.1,375" fill="none" stroke="#5a2a75" stroke-width="0.45" opacity="0.55"/>
<path d="M292.5,445.1 A9.2,7.7 0 0 1 310.9,445.1 A9.2,2.4 0 0 1 292.5,445.1 Z" fill="#ea5ee2" stroke="#752f71" stroke-width="0.55"/><ellipse cx="302.5" cy="444.4" rx="4.6" ry="2.3" fill="#f6b7f2" opacity="0.6" filter="url(#blur1)"/><path d="M293.2,443.1 Q301.7,441.4 310.2,443.1" fill="none" stroke="#752f71" stroke-width="0.45" opacity="0.55"/>
<path d="M303.2,434.1 A9,7.5 0 0 1 321.1,434.1 A9,2.3 0 0 1 303.2,434.1 Z" fill="#e85ce4" stroke="#742e72" stroke-width="0.55"/><ellipse cx="312.9" cy="433.5" rx="4.5" ry="2.3" fill="#f5b6f3" opacity="0.6" filter="url(#blur1)"/><path d="M303.9,432.2 Q312.1,430.5 320.4,432.2" fill="none" stroke="#742e72" stroke-width="0.45" opacity="0.55"/>
<path d="M313.8,423.1 A8.7,7.3 0 0 1 331.3,423.1 A8.7,2.3 0 0 1 313.8,423.1 Z" fill="#e75be7" stroke="#742e74" stroke-width="0.55"/><ellipse cx="323.3" cy="422.5" rx="4.4" ry="2.2" fill="#f4b5f4" opacity="0.6" filter="url(#blur1)"/><path d="M314.5,421.2 Q322.5,419.5 330.6,421.2" fill="none" stroke="#742e74" stroke-width="0.45" opacity="0.55"/>
<path d="M324.4,412.1 A8.5,7.1 0 0 1 341.4,412.1 A8.5,2.2 0 0 1 324.4,412.1 Z" fill="#e559e9" stroke="#722c74" stroke-width="0.55"/><ellipse cx="333.8" cy="411.5" rx="4.2" ry="2.1" fill="#f3b4f5" opacity="0.6" filter="url(#blur1)"/><path d="M325.1,410.3 Q332.9,408.6 340.8,410.3" fill="none" stroke="#722c74" stroke-width="0.45" opacity="0.55"/>
<path d="M335.1,401.1 A8.3,6.9 0 0 1 351.6,401.1 A8.3,2.1 0 0 1 335.1,401.1 Z" fill="#e357eb" stroke="#722c76" stroke-width="0.55"/><ellipse cx="344.2" cy="400.5" rx="4.1" ry="2.1" fill="#f2b3f6" opacity="0.6" filter="url(#blur1)"/><path d="M335.8,399.3 Q343.4,397.7 351,399.3" fill="none" stroke="#722c76" stroke-width="0.45" opacity="0.55"/>
<path d="M345.7,390.1 A8,6.7 0 0 1 361.8,390.1 A8,2.1 0 0 1 345.7,390.1 Z" fill="#e256ee" stroke="#712b77" stroke-width="0.55"/><ellipse cx="354.6" cy="389.5" rx="4" ry="2" fill="#f2b3f7" opacity="0.6" filter="url(#blur1)"/><path d="M346.4,388.4 Q353.8,386.8 361.2,388.4" fill="none" stroke="#712b77" stroke-width="0.45" opacity="0.55"/>
<path d="M356.4,379.1 A7.8,6.6 0 0 1 372,379.1 A7.8,2 0 0 1 356.4,379.1 Z" fill="#e054f0" stroke="#702a78" stroke-width="0.55"/><ellipse cx="365" cy="378.5" rx="3.9" ry="2" fill="#f1b2f8" opacity="0.6" filter="url(#blur1)"/><path d="M357,377.4 Q364.2,375.9 371.4,377.4" fill="none" stroke="#702a78" stroke-width="0.45" opacity="0.55"/>
<path d="M332.8,454.1 A9.2,7.7 0 0 1 351.2,454.1 A9.2,2.4 0 0 1 332.8,454.1 Z" fill="#f05a8e" stroke="#782d47" stroke-width="0.55"/><ellipse cx="342.8" cy="453.4" rx="4.6" ry="2.3" fill="#f8b5cc" opacity="0.6" filter="url(#blur1)"/><path d="M333.5,452.1 Q342,450.4 350.5,452.1" fill="none" stroke="#782d47" stroke-width="0.45" opacity="0.55"/>
<path d="M342.6,442.8 A9,7.5 0 0 1 360.5,442.8 A9,2.3 0 0 1 342.6,442.8 Z" fill="#ee5a9d" stroke="#772d4e" stroke-width="0.55"/><ellipse cx="352.3" cy="442.2" rx="4.5" ry="2.3" fill="#f7b5d3" opacity="0.6" filter="url(#blur1)"/><path d="M343.3,440.9 Q351.5,439.2 359.8,440.9" fill="none" stroke="#772d4e" stroke-width="0.45" opacity="0.55"/>
<path d="M352.3,431.5 A8.7,7.3 0 0 1 369.8,431.5 A8.7,2.3 0 0 1 352.3,431.5 Z" fill="#eb59ab" stroke="#762c56" stroke-width="0.55"/><ellipse cx="361.8" cy="430.9" rx="4.4" ry="2.2" fill="#f6b4d9" opacity="0.6" filter="url(#blur1)"/><path d="M353,429.6 Q361,427.9 369.1,429.6" fill="none" stroke="#762c56" stroke-width="0.45" opacity="0.55"/>
<path d="M362.1,420.2 A8.5,7.1 0 0 1 379.1,420.2 A8.5,2.2 0 0 1 362.1,420.2 Z" fill="#e959ba" stroke="#742c5d" stroke-width="0.55"/><ellipse cx="371.4" cy="419.6" rx="4.2" ry="2.1" fill="#f5b4e0" opacity="0.6" filter="url(#blur1)"/><path d="M362.7,418.4 Q370.6,416.7 378.4,418.4" fill="none" stroke="#742c5d" stroke-width="0.45" opacity="0.55"/>
<path d="M371.8,408.9 A8.3,6.9 0 0 1 388.3,408.9 A8.3,2.1 0 0 1 371.8,408.9 Z" fill="#e759c9" stroke="#742c64" stroke-width="0.55"/><ellipse cx="380.9" cy="408.3" rx="4.1" ry="2.1" fill="#f4b4e7" opacity="0.6" filter="url(#blur1)"/><path d="M372.5,407.1 Q380.1,405.5 387.7,407.1" fill="none" stroke="#742c64" stroke-width="0.45" opacity="0.55"/>
<path d="M381.6,397.6 A8,6.7 0 0 1 397.6,397.6 A8,2.1 0 0 1 381.6,397.6 Z" fill="#e458d7" stroke="#722c6c" stroke-width="0.55"/><ellipse cx="390.4" cy="397" rx="4" ry="2" fill="#f3b4ed" opacity="0.6" filter="url(#blur1)"/><path d="M382.2,395.9 Q389.6,394.3 397,395.9" fill="none" stroke="#722c6c" stroke-width="0.45" opacity="0.55"/>
<path d="M391.3,386.3 A7.8,6.6 0 0 1 406.9,386.3 A7.8,2 0 0 1 391.3,386.3 Z" fill="#e258e6" stroke="#712c73" stroke-width="0.55"/><ellipse cx="399.9" cy="385.7" rx="3.9" ry="2" fill="#f2b4f4" opacity="0.6" filter="url(#blur1)"/><path d="M391.9,384.6 Q399.1,383.1 406.3,384.6" fill="none" stroke="#712c73" stroke-width="0.45" opacity="0.55"/>
<path d="M377.8,458.9 A9.2,7.7 0 0 1 396.2,458.9 A9.2,2.4 0 0 1 377.8,458.9 Z" fill="#f05a78" stroke="#782d3c" stroke-width="0.55"/><ellipse cx="387.8" cy="458.2" rx="4.6" ry="2.3" fill="#f8b5c2" opacity="0.6" filter="url(#blur1)"/><path d="M378.5,456.9 Q387,455.2 395.5,456.9" fill="none" stroke="#782d3c" stroke-width="0.45" opacity="0.55"/>
<path d="M386.6,447.3 A9,7.5 0 0 1 404.5,447.3 A9,2.3 0 0 1 386.6,447.3 Z" fill="#f05972" stroke="#782c39" stroke-width="0.55"/><ellipse cx="396.3" cy="446.7" rx="4.5" ry="2.3" fill="#f8b4c0" opacity="0.6" filter="url(#blur1)"/><path d="M387.3,445.4 Q395.5,443.7 403.8,445.4" fill="none" stroke="#782c39" stroke-width="0.45" opacity="0.55"/>
<path d="M395.3,435.7 A8.7,7.3 0 0 1 412.8,435.7 A8.7,2.3 0 0 1 395.3,435.7 Z" fill="#f0576b" stroke="#782c36" stroke-width="0.55"/><ellipse cx="404.8" cy="435.1" rx="4.4" ry="2.2" fill="#f8b3bc" opacity="0.6" filter="url(#blur1)"/><path d="M396,433.8 Q404,432.1 412.1,433.8" fill="none" stroke="#782c36" stroke-width="0.45" opacity="0.55"/>
<path d="M404.1,424.1 A8.5,7.1 0 0 1 421.1,424.1 A8.5,2.2 0 0 1 404.1,424.1 Z" fill="#f05665" stroke="#782b32" stroke-width="0.55"/><ellipse cx="413.4" cy="423.5" rx="4.2" ry="2.1" fill="#f8b3ba" opacity="0.6" filter="url(#blur1)"/><path d="M404.7,422.3 Q412.6,420.6 420.4,422.3" fill="none" stroke="#782b32" stroke-width="0.45" opacity="0.55"/>
<path d="M412.8,412.5 A8.3,6.9 0 0 1 429.3,412.5 A8.3,2.1 0 0 1 412.8,412.5 Z" fill="#f0555f" stroke="#782a30" stroke-width="0.55"/><ellipse cx="421.9" cy="411.9" rx="4.1" ry="2.1" fill="#f8b2b7" opacity="0.6" filter="url(#blur1)"/><path d="M413.5,410.7 Q421.1,409.1 428.7,410.7" fill="none" stroke="#782a30" stroke-width="0.45" opacity="0.55"/>
<path d="M421.6,400.9 A8,6.7 0 0 1 437.6,400.9 A8,2.1 0 0 1 421.6,400.9 Z" fill="#f05358" stroke="#782a2c" stroke-width="0.55"/><ellipse cx="430.4" cy="400.3" rx="4" ry="2" fill="#f8b2b4" opacity="0.6" filter="url(#blur1)"/><path d="M422.2,399.2 Q429.6,397.6 437,399.2" fill="none" stroke="#782a2c" stroke-width="0.45" opacity="0.55"/>
<path d="M430.3,389.3 A7.8,6.6 0 0 1 445.9,389.3 A7.8,2 0 0 1 430.3,389.3 Z" fill="#f05252" stroke="#782929" stroke-width="0.55"/><ellipse cx="438.9" cy="388.7" rx="3.9" ry="2" fill="#f8b1b1" opacity="0.6" filter="url(#blur1)"/><path d="M430.9,387.6 Q438.1,386.1 445.3,387.6" fill="none" stroke="#782929" stroke-width="0.45" opacity="0.55"/>
<text transform="translate(31.2,525) rotate(10.8)" font-size="31" class="t" stroke="#000" stroke-width="0.35">Annealing</text>
<polygon points="20.2,862.6 438.6,937.6 438.6,944.8 20.2,874.6" fill="#a8a8a8" stroke="#8f8f8f" stroke-width="0.6"/>
<polygon points="438.6,937.6 502.6,831.7 502.6,838.2 438.6,944.8" fill="#c4c4c4" stroke="#9a9a9a" stroke-width="0.6"/>
<polygon points="20.2,862.6 146.1,785 502.6,831.7 438.6,937.6" fill="#ffffff" stroke="#8a8a8a" stroke-width="0.7"/>
<ellipse cx="63.8" cy="855.1" rx="9.8" ry="4.3" fill="#3cb8b0"/>
<ellipse cx="82.3" cy="843.5" rx="9.6" ry="4.2" fill="#3cb4b3"/>
<ellipse cx="99.3" cy="832.5" rx="9.3" ry="4.1" fill="#3bb0b5"/>
<ellipse cx="116" cy="822.4" rx="9.1" ry="4" fill="#3bacb8"/>
<ellipse cx="131.5" cy="812.3" rx="8.8" ry="3.9" fill="#3ba8bb"/>
<ellipse cx="146.3" cy="802.9" rx="8.6" ry="3.8" fill="#3aa4bd"/>
<ellipse cx="160.9" cy="793.5" rx="8.3" ry="3.7" fill="#3aa0c0"/>
<ellipse cx="98.8" cy="863.7" rx="9.8" ry="4.3" fill="#3a78c4"/>
<ellipse cx="116.5" cy="851.4" rx="9.6" ry="4.2" fill="#3a7ec3"/>
<ellipse cx="133.3" cy="840.3" rx="9.3" ry="4.1" fill="#3a84c3"/>
<ellipse cx="149.3" cy="829.2" rx="9.1" ry="4" fill="#3a8ac2"/>
<ellipse cx="164.8" cy="818.9" rx="8.8" ry="3.9" fill="#3a90c1"/>
<ellipse cx="178.8" cy="809.1" rx="8.6" ry="3.8" fill="#3a96c1"/>
<ellipse cx="193.6" cy="799.7" rx="8.3" ry="3.7" fill="#3a9cc0"/>
<ellipse cx="142.4" cy="867.4" rx="9.8" ry="4.3" fill="#3a68c4"/>
<ellipse cx="159.1" cy="855.6" rx="9.6" ry="4.2" fill="#3a64c4"/>
<ellipse cx="175.1" cy="844" rx="9.3" ry="4.1" fill="#3a5fc4"/>
<ellipse cx="190.4" cy="832.9" rx="9.1" ry="4" fill="#3a5bc4"/>
<ellipse cx="205.2" cy="822.4" rx="8.8" ry="3.9" fill="#3a57c4"/>
<ellipse cx="218.5" cy="812.5" rx="8.6" ry="3.8" fill="#3a52c4"/>
<ellipse cx="231.8" cy="802.9" rx="8.3" ry="3.7" fill="#3a4ec4"/>
<ellipse cx="180.1" cy="876" rx="9.8" ry="4.3" fill="#5a3cc4"/>
<ellipse cx="196.3" cy="864" rx="9.6" ry="4.2" fill="#553cc4"/>
<ellipse cx="212.1" cy="851.9" rx="9.3" ry="4.1" fill="#4f3cc4"/>
<ellipse cx="226.4" cy="840.3" rx="9.1" ry="4" fill="#4a3cc4"/>
<ellipse cx="239.9" cy="829.7" rx="8.8" ry="3.9" fill="#453cc4"/>
<ellipse cx="252.9" cy="818.9" rx="8.6" ry="3.8" fill="#3f3cc4"/>
<ellipse cx="265.5" cy="809.5" rx="8.3" ry="3.7" fill="#3a3cc4"/>
<ellipse cx="226.4" cy="880.5" rx="9.8" ry="4.3" fill="#c8a8d0"/>
<ellipse cx="240.9" cy="867.4" rx="9.6" ry="4.2" fill="#c8a7cf"/>
<ellipse cx="255.2" cy="855.6" rx="9.3" ry="4.1" fill="#c8a5cd"/>
<ellipse cx="268.7" cy="844.5" rx="9.1" ry="4" fill="#c8a4cc"/>
<ellipse cx="281.5" cy="833.2" rx="8.8" ry="3.9" fill="#c8a3cb"/>
<ellipse cx="293.3" cy="823.1" rx="8.6" ry="3.8" fill="#c8a1c9"/>
<ellipse cx="304.9" cy="812.8" rx="8.3" ry="3.7" fill="#c8a0c8"/>
<ellipse cx="266.2" cy="889.8" rx="9.8" ry="4.3" fill="#b440c8"/>
<ellipse cx="280.5" cy="876.8" rx="9.6" ry="4.2" fill="#b041c8"/>
<ellipse cx="293.8" cy="864.2" rx="9.3" ry="4.1" fill="#ab41c8"/>
<ellipse cx="306.4" cy="852.1" rx="9.1" ry="4" fill="#a742c8"/>
<ellipse cx="318.4" cy="840.8" rx="8.8" ry="3.9" fill="#a343c8"/>
<ellipse cx="330" cy="830" rx="8.6" ry="3.8" fill="#9e43c8"/>
<ellipse cx="340.6" cy="819.6" rx="8.3" ry="3.7" fill="#9a44c8"/>
<ellipse cx="314.3" cy="894.5" rx="9.8" ry="4.3" fill="#c83cb0"/>
<ellipse cx="327.1" cy="881" rx="9.6" ry="4.2" fill="#c73db1"/>
<ellipse cx="339.1" cy="867.9" rx="9.3" ry="4.1" fill="#c53db3"/>
<ellipse cx="350.7" cy="855.6" rx="9.1" ry="4" fill="#c43eb4"/>
<ellipse cx="361.8" cy="844.5" rx="8.8" ry="3.9" fill="#c33fb5"/>
<ellipse cx="372.1" cy="833.4" rx="8.6" ry="3.8" fill="#c13fb7"/>
<ellipse cx="382" cy="823.1" rx="8.3" ry="3.7" fill="#c040b8"/>
<ellipse cx="357.4" cy="904.4" rx="9.8" ry="4.3" fill="#c03c70"/>
<ellipse cx="368.9" cy="890.8" rx="9.6" ry="4.2" fill="#c03d74"/>
<ellipse cx="380.3" cy="877.8" rx="9.3" ry="4.1" fill="#c03d78"/>
<ellipse cx="391.1" cy="864.5" rx="9.1" ry="4" fill="#c03e7c"/>
<ellipse cx="400.9" cy="852.9" rx="8.8" ry="3.9" fill="#c03f80"/>
<ellipse cx="410.8" cy="841.3" rx="8.6" ry="3.8" fill="#c03f84"/>
<ellipse cx="419.4" cy="830.5" rx="8.3" ry="3.7" fill="#c04088"/>
<ellipse cx="407.1" cy="909.8" rx="9.8" ry="4.3" fill="#c03848"/>
<ellipse cx="416.9" cy="894.8" rx="9.6" ry="4.2" fill="#c03845"/>
<ellipse cx="426.8" cy="881.5" rx="9.3" ry="4.1" fill="#c03843"/>
<ellipse cx="436.2" cy="868.6" rx="9.1" ry="4" fill="#c03840"/>
<ellipse cx="445.5" cy="856.8" rx="8.8" ry="3.9" fill="#c0383d"/>
<ellipse cx="454.6" cy="845.3" rx="8.6" ry="3.8" fill="#c0383b"/>
<ellipse cx="462.7" cy="833.7" rx="8.3" ry="3.7" fill="#c03838"/>
<rect x="200.2" y="615.4" width="69.2" height="81.8" rx="4.5" fill="#323232"/>
<path d="M261.2,617 L261.2,696" stroke="#262626" stroke-width="1"/>
<path d="M209.9,620.2 L221.9,620.2 L221.9,668 Q221.9,679 213.5,685.2 Q209.9,678 209.9,668 Z" fill="#2e2e2e" stroke="#1c1c1c" stroke-width="0.9"/>
<path d="M237.5,620.2 L251.4,620.2 L251.4,668 Q251.4,679 249,685.8 Q237.5,679 237.5,668 Z" fill="#2e2e2e" stroke="#1c1c1c" stroke-width="0.9"/>
<path d="M238.6,668 Q239.5,679 248,685" stroke="#5a5a5a" stroke-width="0.9" fill="none"/>
<rect x="224.3" y="620.2" width="11.4" height="32.5" rx="3" fill="#2e2e2e" stroke="#1c1c1c" stroke-width="0.9"/>
<circle cx="203.8" cy="625" r="1.7" fill="#1a1a1a" stroke="#444" stroke-width="0.4"/>
<circle cx="256.8" cy="625.6" r="1.7" fill="#1a1a1a" stroke="#444" stroke-width="0.4"/>
<circle cx="203.2" cy="693" r="1.7" fill="#1a1a1a" stroke="#444" stroke-width="0.4"/>
<circle cx="255.6" cy="693.6" r="1.7" fill="#1a1a1a" stroke="#444" stroke-width="0.4"/>
<rect x="217" y="698.5" width="24" height="6.5" fill="#9c9c9c"/>
<line x1="217" y1="699.2" x2="241" y2="699.2" stroke="#5d8db5" stroke-width="0.9"/>
<line x1="217" y1="704.3" x2="241" y2="704.3" stroke="#5d8db5" stroke-width="0.9"/>
<rect x="217.7" y="705.5" width="22.3" height="16.5" rx="1" fill="#202020"/>
<rect x="217.7" y="709.5" width="22.3" height="2.2" fill="#383838"/>
<line x1="191" y1="618" x2="196" y2="618" stroke="#222" stroke-width="0.9"/>
<polygon points="228.4,729 242.9,748.6 235.8,748.6 235.8,888 221,888 221,748.6 214.1,748.6" fill="url(#yelfade)"/>
<polygon points="322,747 346,764.7 242,896 213,873" fill="url(#beam)" filter="url(#soft)"/>
<polygon points="350.5,707 389.7,698 412.3,715.2 386.2,754.8 346,764.7 321.7,747.5" fill="#232323"/>
<polygon points="350.5,707 389.7,698 412.3,715.2 375,724.5" fill="#2c2c2c"/>
<polyline points="321.7,747.5 350.5,707 375,724.5 346,764.7" fill="none" stroke="#3a3a3a" stroke-width="0.8"/>
<line x1="375" y1="724.5" x2="412.3" y2="715.2" stroke="#3a3a3a" stroke-width="0.8"/>
<text transform="translate(23.4,916.3) rotate(9.4)" font-size="30.6" class="t" stroke="#000" stroke-width="0.35">Characterizing</text>
<text x="527.9" y="33.2" font-size="39" font-weight="bold" class="t">b</text>
<text x="625" y="28.8" font-size="26.4" class="t" textLength="113.5" lengthAdjust="spacingAndGlyphs">0D dimer</text>
<text x="627.6" y="280.8" font-size="26.4" class="t" textLength="100.5" lengthAdjust="spacingAndGlyphs">2D layer</text>
<circle cx="679" cy="78.5" r="8" fill="url(#csg)" stroke="#9fbcb4" stroke-width="0.4"/>
<circle cx="747.3" cy="74.1" r="8" fill="url(#csg)" stroke="#9fbcb4" stroke-width="0.4"/>
<circle cx="653.7" cy="223.9" r="8" fill="url(#csg)" stroke="#9fbcb4" stroke-width="0.4"/>
<circle cx="718.7" cy="223.9" r="8" fill="url(#csg)" stroke="#9fbcb4" stroke-width="0.4"/>
<polygon points="636,47.6 671.3,48.7 681.2,85.1 671.3,124.8 631.6,122.6 644.8,86.2" fill="#3383c4" stroke="#1d5a9c" stroke-width="1"/>
<polyline points="644.8,86.2 681.2,85.1" stroke="#1d5a9c" stroke-width="0.9" fill="none"/>
<polyline points="636,47.6 667,85.6 671.3,124.8" stroke="#1d5a9c" stroke-width="0.8" fill="none" opacity="0.8"/>
<polygon points="671.3,48.7 681.2,85.1 667,85.6" fill="#2a72b2" opacity="0.6"/>
<polygon points="681.2,85.1 671.3,124.8 667,85.6" fill="#2a72b2" opacity="0.6"/>
<circle cx="657.3" cy="65.9" r="5.2" fill="#1b5c9a" opacity="0.35"/>
<circle cx="656.2" cy="103.7" r="5.2" fill="#1b5c9a" opacity="0.35"/>
<polygon points="703.3,45.4 738.5,46.5 748.4,82.9 738.5,122.6 698.8,120.4 712.1,84" fill="#3383c4" stroke="#1d5a9c" stroke-width="1"/>
<polyline points="712.1,84 748.4,82.9" stroke="#1d5a9c" stroke-width="0.9" fill="none"/>
<polyline points="703.3,45.4 734.2,83.4 738.5,122.6" stroke="#1d5a9c" stroke-width="0.8" fill="none" opacity="0.8"/>
<polygon points="738.5,46.5 748.4,82.9 734.2,83.4" fill="#2a72b2" opacity="0.6"/>
<polygon points="748.4,82.9 738.5,122.6 734.2,83.4" fill="#2a72b2" opacity="0.6"/>
<circle cx="724.6" cy="63.7" r="5.2" fill="#1b5c9a" opacity="0.35"/>
<circle cx="723.5" cy="101.5" r="5.2" fill="#1b5c9a" opacity="0.35"/>
<polygon points="618.4,158.9 658.1,161.1 644.8,197.5 655.9,232.8 616.2,235 607.4,197.5" fill="#3383c4" stroke="#1d5a9c" stroke-width="1"/>
<polyline points="607.4,197.5 644.8,197.5" stroke="#1d5a9c" stroke-width="0.9" fill="none"/>
<polyline points="618.4,158.9 630.1,197.5 655.9,232.8" stroke="#1d5a9c" stroke-width="0.8" fill="none" opacity="0.8"/>
<polygon points="658.1,161.1 644.8,197.5 630.1,197.5" fill="#2a72b2" opacity="0.6"/>
<polygon points="644.8,197.5 655.9,232.8 630.1,197.5" fill="#2a72b2" opacity="0.6"/>
<circle cx="631.2" cy="177.8" r="5.2" fill="#1b5c9a" opacity="0.35"/>
<circle cx="630.1" cy="214.7" r="5.2" fill="#1b5c9a" opacity="0.35"/>
<polygon points="685.6,156.7 725.3,158.9 712.1,195.3 723.1,230.6 683.4,232.8 674.6,195.3" fill="#3383c4" stroke="#1d5a9c" stroke-width="1"/>
<polyline points="674.6,195.3 712.1,195.3" stroke="#1d5a9c" stroke-width="0.9" fill="none"/>
<polyline points="685.6,156.7 697.3,195.3 723.1,230.6" stroke="#1d5a9c" stroke-width="0.8" fill="none" opacity="0.8"/>
<polygon points="725.3,158.9 712.1,195.3 697.3,195.3" fill="#2a72b2" opacity="0.6"/>
<polygon points="712.1,195.3 723.1,230.6 697.3,195.3" fill="#2a72b2" opacity="0.6"/>
<circle cx="698.4" cy="175.6" r="5.2" fill="#1b5c9a" opacity="0.35"/>
<circle cx="697.3" cy="212.5" r="5.2" fill="#1b5c9a" opacity="0.35"/>
<circle cx="637.1" cy="53.1" r="9.5" fill="url(#csg)" stroke="#9fbcb4" stroke-width="0.4"/>
<circle cx="683.4" cy="89.5" r="9.5" fill="url(#csg)" stroke="#9fbcb4" stroke-width="0.4"/>
<circle cx="634.9" cy="127" r="9.5" fill="url(#csg)" stroke="#9fbcb4" stroke-width="0.4"/>
<circle cx="705.5" cy="50.9" r="9.5" fill="url(#csg)" stroke="#9fbcb4" stroke-width="0.4"/>
<circle cx="753.9" cy="88.4" r="9.5" fill="url(#csg)" stroke="#9fbcb4" stroke-width="0.4"/>
<circle cx="703.3" cy="122.6" r="9.5" fill="url(#csg)" stroke="#9fbcb4" stroke-width="0.4"/>
<circle cx="652.6" cy="153.4" r="9.5" fill="url(#csg)" stroke="#9fbcb4" stroke-width="0.4"/>
<circle cx="600.8" cy="192" r="9.5" fill="url(#csg)" stroke="#9fbcb4" stroke-width="0.4"/>
<circle cx="612.9" cy="200.8" r="9.5" fill="url(#csg)" stroke="#9fbcb4" stroke-width="0.4"/>
<circle cx="720.9" cy="151.2" r="9.5" fill="url(#csg)" stroke="#9fbcb4" stroke-width="0.4"/>
<circle cx="670.2" cy="188.7" r="9.5" fill="url(#csg)" stroke="#9fbcb4" stroke-width="0.4"/>
<circle cx="681.2" cy="197.5" r="9.5" fill="url(#csg)" stroke="#9fbcb4" stroke-width="0.4"/>
<circle cx="642.6" cy="57.5" r="4.3" fill="url(#hg)" stroke="#8fb0c8" stroke-width="0.4"/>
<circle cx="660.3" cy="42.1" r="4.3" fill="url(#hg)" stroke="#8fb0c8" stroke-width="0.4"/>
<circle cx="666.9" cy="45.4" r="4.3" fill="url(#hg)" stroke="#8fb0c8" stroke-width="0.4"/>
<circle cx="672.4" cy="52" r="4.3" fill="url(#hg)" stroke="#8fb0c8" stroke-width="0.4"/>
<circle cx="677.9" cy="56" r="4.3" fill="url(#hg)" stroke="#8fb0c8" stroke-width="0.4"/>
<circle cx="638.2" cy="82.9" r="4.3" fill="url(#hg)" stroke="#8fb0c8" stroke-width="0.4"/>
<circle cx="644.8" cy="87.7" r="4.3" fill="url(#hg)" stroke="#8fb0c8" stroke-width="0.4"/>
<circle cx="691.1" cy="95" r="4.3" fill="url(#hg)" stroke="#8fb0c8" stroke-width="0.4"/>
<circle cx="669.1" cy="124.8" r="4.3" fill="url(#hg)" stroke="#8fb0c8" stroke-width="0.4"/>
<circle cx="674.6" cy="129.2" r="4.3" fill="url(#hg)" stroke="#8fb0c8" stroke-width="0.4"/>
<circle cx="768.3" cy="43.2" r="4.3" fill="url(#hg)" stroke="#8fb0c8" stroke-width="0.4"/>
<circle cx="781.5" cy="81.8" r="4.3" fill="url(#hg)" stroke="#8fb0c8" stroke-width="0.4"/>
<circle cx="787" cy="86.2" r="4.3" fill="url(#hg)" stroke="#8fb0c8" stroke-width="0.4"/>
<circle cx="765" cy="116" r="4.3" fill="url(#hg)" stroke="#8fb0c8" stroke-width="0.4"/>
<circle cx="709.9" cy="55.3" r="4.3" fill="url(#hg)" stroke="#8fb0c8" stroke-width="0.4"/>
<circle cx="729.7" cy="38.8" r="4.3" fill="url(#hg)" stroke="#8fb0c8" stroke-width="0.4"/>
<circle cx="734.1" cy="43.2" r="4.3" fill="url(#hg)" stroke="#8fb0c8" stroke-width="0.4"/>
<circle cx="740.7" cy="48.7" r="4.3" fill="url(#hg)" stroke="#8fb0c8" stroke-width="0.4"/>
<circle cx="746.2" cy="53.1" r="4.3" fill="url(#hg)" stroke="#8fb0c8" stroke-width="0.4"/>
<circle cx="701" cy="75.2" r="4.3" fill="url(#hg)" stroke="#8fb0c8" stroke-width="0.4"/>
<circle cx="706.6" cy="80.2" r="4.3" fill="url(#hg)" stroke="#8fb0c8" stroke-width="0.4"/>
<circle cx="713.2" cy="85.1" r="4.3" fill="url(#hg)" stroke="#8fb0c8" stroke-width="0.4"/>
<circle cx="718.7" cy="89.5" r="4.3" fill="url(#hg)" stroke="#8fb0c8" stroke-width="0.4"/>
<circle cx="724.2" cy="93.9" r="4.3" fill="url(#hg)" stroke="#8fb0c8" stroke-width="0.4"/>
<circle cx="737.4" cy="122.6" r="4.3" fill="url(#hg)" stroke="#8fb0c8" stroke-width="0.4"/>
<circle cx="742.9" cy="126.5" r="4.3" fill="url(#hg)" stroke="#8fb0c8" stroke-width="0.4"/>
<circle cx="759.4" cy="92.8" r="4.3" fill="url(#hg)" stroke="#8fb0c8" stroke-width="0.4"/>
<circle cx="708.8" cy="128.1" r="4.3" fill="url(#hg)" stroke="#8fb0c8" stroke-width="0.4"/>
<circle cx="642.6" cy="130.3" r="4.3" fill="url(#hg)" stroke="#8fb0c8" stroke-width="0.4"/>
<circle cx="579.8" cy="154.5" r="4.3" fill="url(#hg)" stroke="#8fb0c8" stroke-width="0.4"/>
<circle cx="612.9" cy="152.3" r="4.3" fill="url(#hg)" stroke="#8fb0c8" stroke-width="0.4"/>
<circle cx="618.4" cy="156.7" r="4.3" fill="url(#hg)" stroke="#8fb0c8" stroke-width="0.4"/>
<circle cx="623.9" cy="162.2" r="4.3" fill="url(#hg)" stroke="#8fb0c8" stroke-width="0.4"/>
<circle cx="629.4" cy="167.7" r="4.3" fill="url(#hg)" stroke="#8fb0c8" stroke-width="0.4"/>
<circle cx="659.2" cy="161.1" r="4.3" fill="url(#hg)" stroke="#8fb0c8" stroke-width="0.4"/>
<circle cx="568.8" cy="193.1" r="4.3" fill="url(#hg)" stroke="#8fb0c8" stroke-width="0.4"/>
<circle cx="574.3" cy="197.5" r="4.3" fill="url(#hg)" stroke="#8fb0c8" stroke-width="0.4"/>
<circle cx="576.5" cy="227.2" r="4.3" fill="url(#hg)" stroke="#8fb0c8" stroke-width="0.4"/>
<circle cx="648.2" cy="199.7" r="4.3" fill="url(#hg)" stroke="#8fb0c8" stroke-width="0.4"/>
<circle cx="653.7" cy="204.1" r="4.3" fill="url(#hg)" stroke="#8fb0c8" stroke-width="0.4"/>
<circle cx="614" cy="230.6" r="4.3" fill="url(#hg)" stroke="#8fb0c8" stroke-width="0.4"/>
<circle cx="620.6" cy="235" r="4.3" fill="url(#hg)" stroke="#8fb0c8" stroke-width="0.4"/>
<circle cx="655.9" cy="235" r="4.3" fill="url(#hg)" stroke="#8fb0c8" stroke-width="0.4"/>
<circle cx="681.2" cy="150.1" r="4.3" fill="url(#hg)" stroke="#8fb0c8" stroke-width="0.4"/>
<circle cx="686.7" cy="154.5" r="4.3" fill="url(#hg)" stroke="#8fb0c8" stroke-width="0.4"/>
<circle cx="692.2" cy="160" r="4.3" fill="url(#hg)" stroke="#8fb0c8" stroke-width="0.4"/>
<circle cx="697.7" cy="164.4" r="4.3" fill="url(#hg)" stroke="#8fb0c8" stroke-width="0.4"/>
<circle cx="727.5" cy="158.9" r="4.3" fill="url(#hg)" stroke="#8fb0c8" stroke-width="0.4"/>
<circle cx="664.7" cy="184.3" r="4.3" fill="url(#hg)" stroke="#8fb0c8" stroke-width="0.4"/>
<circle cx="685.6" cy="203" r="4.3" fill="url(#hg)" stroke="#8fb0c8" stroke-width="0.4"/>
<circle cx="716.5" cy="196.4" r="4.3" fill="url(#hg)" stroke="#8fb0c8" stroke-width="0.4"/>
<circle cx="722" cy="200.8" r="4.3" fill="url(#hg)" stroke="#8fb0c8" stroke-width="0.4"/>
<circle cx="677.9" cy="223.9" r="4.3" fill="url(#hg)" stroke="#8fb0c8" stroke-width="0.4"/>
<circle cx="683.4" cy="228.3" r="4.3" fill="url(#hg)" stroke="#8fb0c8" stroke-width="0.4"/>
<circle cx="690" cy="232.8" r="4.3" fill="url(#hg)" stroke="#8fb0c8" stroke-width="0.4"/>
<circle cx="694.4" cy="237.2" r="4.3" fill="url(#hg)" stroke="#8fb0c8" stroke-width="0.4"/>
<circle cx="724.2" cy="231.7" r="4.3" fill="url(#hg)" stroke="#8fb0c8" stroke-width="0.4"/>
<circle cx="611.4" cy="324.8" r="7.5" fill="url(#csg)" stroke="#9fbcb4" stroke-width="0.4"/>
<circle cx="658.7" cy="325.7" r="7.5" fill="url(#csg)" stroke="#9fbcb4" stroke-width="0.4"/>
<circle cx="705.9" cy="325.7" r="7.5" fill="url(#csg)" stroke="#9fbcb4" stroke-width="0.4"/>
<circle cx="611.4" cy="400.8" r="7.5" fill="url(#csg)" stroke="#9fbcb4" stroke-width="0.4"/>
<circle cx="658.7" cy="401.3" r="7.5" fill="url(#csg)" stroke="#9fbcb4" stroke-width="0.4"/>
<circle cx="705.9" cy="401.3" r="7.5" fill="url(#csg)" stroke="#9fbcb4" stroke-width="0.4"/>
<circle cx="622.9" cy="377.1" r="7.5" fill="url(#csg)" stroke="#9fbcb4" stroke-width="0.4"/>
<circle cx="670.2" cy="377.1" r="7.5" fill="url(#csg)" stroke="#9fbcb4" stroke-width="0.4"/>
<circle cx="717.4" cy="377.1" r="7.5" fill="url(#csg)" stroke="#9fbcb4" stroke-width="0.4"/>
<circle cx="622.9" cy="452" r="7.5" fill="url(#csg)" stroke="#9fbcb4" stroke-width="0.4"/>
<circle cx="670.2" cy="452" r="7.5" fill="url(#csg)" stroke="#9fbcb4" stroke-width="0.4"/>
<circle cx="717.4" cy="452" r="7.5" fill="url(#csg)" stroke="#9fbcb4" stroke-width="0.4"/>
<polygon points="631,298.8 657.5,298.8 663.3,325.3 636.8,325.3" fill="#3383c4" stroke="#1d5a9c" stroke-width="0.9"/><line x1="657.5" y1="298.8" x2="636.8" y2="325.3" stroke="#1d5a9c" stroke-width="0.8"/><polygon points="657.5,298.8 663.3,325.3 636.8,325.3" fill="#2a6fb0" opacity="0.5"/><circle cx="646.1" cy="312.0" r="4.5" fill="#1b5c9a" opacity="0.35"/>
<polygon points="678.2,298.8 704.7,298.8 710.5,325.3 684,325.3" fill="#3383c4" stroke="#1d5a9c" stroke-width="0.9"/><line x1="704.7" y1="298.8" x2="684" y2="325.3" stroke="#1d5a9c" stroke-width="0.8"/><polygon points="704.7,298.8 710.5,325.3 684,325.3" fill="#2a6fb0" opacity="0.5"/><circle cx="693.4" cy="312.0" r="4.5" fill="#1b5c9a" opacity="0.35"/>
<polygon points="725.5,298.8 752,298.8 757.7,325.3 731.2,325.3" fill="#3383c4" stroke="#1d5a9c" stroke-width="0.9"/><line x1="752" y1="298.8" x2="731.2" y2="325.3" stroke="#1d5a9c" stroke-width="0.8"/><polygon points="752,298.8 757.7,325.3 731.2,325.3" fill="#2a6fb0" opacity="0.5"/><circle cx="740.6" cy="312.0" r="4.5" fill="#1b5c9a" opacity="0.35"/>
<polygon points="593,348.3 619.5,348.3 625.3,374.8 598.8,374.8" fill="#3383c4" stroke="#1d5a9c" stroke-width="0.9"/><line x1="619.5" y1="348.3" x2="598.8" y2="374.8" stroke="#1d5a9c" stroke-width="0.8"/><polygon points="619.5,348.3 625.3,374.8 598.8,374.8" fill="#2a6fb0" opacity="0.5"/><circle cx="608.1" cy="361.5" r="4.5" fill="#1b5c9a" opacity="0.35"/>
<polygon points="641.4,348.3 667.9,348.3 673.6,374.8 647.1,374.8" fill="#3383c4" stroke="#1d5a9c" stroke-width="0.9"/><line x1="667.9" y1="348.3" x2="647.1" y2="374.8" stroke="#1d5a9c" stroke-width="0.8"/><polygon points="667.9,348.3 673.6,374.8 647.1,374.8" fill="#2a6fb0" opacity="0.5"/><circle cx="656.5" cy="361.5" r="4.5" fill="#1b5c9a" opacity="0.35"/>
<polygon points="688.6,348.3 715.1,348.3 720.9,374.8 694.4,374.8" fill="#3383c4" stroke="#1d5a9c" stroke-width="0.9"/><line x1="715.1" y1="348.3" x2="694.4" y2="374.8" stroke="#1d5a9c" stroke-width="0.8"/><polygon points="715.1,348.3 720.9,374.8 694.4,374.8" fill="#2a6fb0" opacity="0.5"/><circle cx="703.7" cy="361.5" r="4.5" fill="#1b5c9a" opacity="0.35"/>
<polygon points="631,374.8 657.5,374.8 663.3,401.3 636.8,401.3" fill="#3383c4" stroke="#1d5a9c" stroke-width="0.9"/><line x1="657.5" y1="374.8" x2="636.8" y2="401.3" stroke="#1d5a9c" stroke-width="0.8"/><polygon points="657.5,374.8 663.3,401.3 636.8,401.3" fill="#2a6fb0" opacity="0.5"/><circle cx="646.1" cy="388.0" r="4.5" fill="#1b5c9a" opacity="0.35"/>
<polygon points="678.2,374.8 704.7,374.8 710.5,401.3 684,401.3" fill="#3383c4" stroke="#1d5a9c" stroke-width="0.9"/><line x1="704.7" y1="374.8" x2="684" y2="401.3" stroke="#1d5a9c" stroke-width="0.8"/><polygon points="704.7,374.8 710.5,401.3 684,401.3" fill="#2a6fb0" opacity="0.5"/><circle cx="693.4" cy="388.0" r="4.5" fill="#1b5c9a" opacity="0.35"/>
<polygon points="725.5,374.8 752,374.8 757.7,401.3 731.2,401.3" fill="#3383c4" stroke="#1d5a9c" stroke-width="0.9"/><line x1="752" y1="374.8" x2="731.2" y2="401.3" stroke="#1d5a9c" stroke-width="0.8"/><polygon points="752,374.8 757.7,401.3 731.2,401.3" fill="#2a6fb0" opacity="0.5"/><circle cx="740.6" cy="388.0" r="4.5" fill="#1b5c9a" opacity="0.35"/>
<polygon points="593,425.5 619.5,425.5 625.3,452 598.8,452" fill="#3383c4" stroke="#1d5a9c" stroke-width="0.9"/><line x1="619.5" y1="425.5" x2="598.8" y2="452" stroke="#1d5a9c" stroke-width="0.8"/><polygon points="619.5,425.5 625.3,452 598.8,452" fill="#2a6fb0" opacity="0.5"/><circle cx="608.1" cy="438.7" r="4.5" fill="#1b5c9a" opacity="0.35"/>
<polygon points="641.4,425.5 667.9,425.5 673.6,452 647.1,452" fill="#3383c4" stroke="#1d5a9c" stroke-width="0.9"/><line x1="667.9" y1="425.5" x2="647.1" y2="452" stroke="#1d5a9c" stroke-width="0.8"/><polygon points="667.9,425.5 673.6,452 647.1,452" fill="#2a6fb0" opacity="0.5"/><circle cx="656.5" cy="438.7" r="4.5" fill="#1b5c9a" opacity="0.35"/>
<polygon points="688.6,425.5 715.1,425.5 720.9,452 694.4,452" fill="#3383c4" stroke="#1d5a9c" stroke-width="0.9"/><line x1="715.1" y1="425.5" x2="694.4" y2="452" stroke="#1d5a9c" stroke-width="0.8"/><polygon points="715.1,425.5 720.9,452 694.4,452" fill="#2a6fb0" opacity="0.5"/><circle cx="703.7" cy="438.7" r="4.5" fill="#1b5c9a" opacity="0.35"/>
<circle cx="622.9" cy="298.8" r="8" fill="url(#csg)" stroke="#9fbcb4" stroke-width="0.4"/>
<circle cx="634.5" cy="300.4" r="8" fill="url(#csg)" stroke="#9fbcb4" stroke-width="0.4"/>
<circle cx="670.2" cy="297.6" r="8" fill="url(#csg)" stroke="#9fbcb4" stroke-width="0.4"/>
<circle cx="681.7" cy="299.2" r="8" fill="url(#csg)" stroke="#9fbcb4" stroke-width="0.4"/>
<circle cx="717.4" cy="297.1" r="8" fill="url(#csg)" stroke="#9fbcb4" stroke-width="0.4"/>
<circle cx="728.9" cy="298.8" r="8" fill="url(#csg)" stroke="#9fbcb4" stroke-width="0.4"/>
<circle cx="775" cy="297.6" r="8" fill="url(#csg)" stroke="#9fbcb4" stroke-width="0.4"/>
<circle cx="646" cy="350.1" r="8" fill="url(#csg)" stroke="#9fbcb4" stroke-width="0.4"/>
<circle cx="693.2" cy="350.1" r="8" fill="url(#csg)" stroke="#9fbcb4" stroke-width="0.4"/>
<circle cx="740.5" cy="348.8" r="8" fill="url(#csg)" stroke="#9fbcb4" stroke-width="0.4"/>
<circle cx="775" cy="374.8" r="8" fill="url(#csg)" stroke="#9fbcb4" stroke-width="0.4"/>
<circle cx="634.5" cy="376.4" r="8" fill="url(#csg)" stroke="#9fbcb4" stroke-width="0.4"/>
<circle cx="681.7" cy="376.4" r="8" fill="url(#csg)" stroke="#9fbcb4" stroke-width="0.4"/>
<circle cx="728.9" cy="375.5" r="8" fill="url(#csg)" stroke="#9fbcb4" stroke-width="0.4"/>
<circle cx="646" cy="426.2" r="8" fill="url(#csg)" stroke="#9fbcb4" stroke-width="0.4"/>
<circle cx="693.2" cy="426.2" r="8" fill="url(#csg)" stroke="#9fbcb4" stroke-width="0.4"/>
<circle cx="740.5" cy="425.5" r="8" fill="url(#csg)" stroke="#9fbcb4" stroke-width="0.4"/>
<circle cx="775" cy="450.1" r="8" fill="url(#csg)" stroke="#9fbcb4" stroke-width="0.4"/>
<circle cx="634.5" cy="451.5" r="8" fill="url(#csg)" stroke="#9fbcb4" stroke-width="0.4"/>
<circle cx="681.7" cy="451.5" r="8" fill="url(#csg)" stroke="#9fbcb4" stroke-width="0.4"/>
<circle cx="728.9" cy="450.8" r="8" fill="url(#csg)" stroke="#9fbcb4" stroke-width="0.4"/>
<circle cx="595.3" cy="298.8" r="3.6" fill="url(#hg)" stroke="#8fb0c8" stroke-width="0.4"/>
<circle cx="600.4" cy="299.4" r="3.6" fill="url(#hg)" stroke="#8fb0c8" stroke-width="0.4"/>
<circle cx="605.7" cy="299.9" r="3.6" fill="url(#hg)" stroke="#8fb0c8" stroke-width="0.4"/>
<circle cx="640.2" cy="300.4" r="3.6" fill="url(#hg)" stroke="#8fb0c8" stroke-width="0.4"/>
<circle cx="647.1" cy="297.6" r="3.6" fill="url(#hg)" stroke="#8fb0c8" stroke-width="0.4"/>
<circle cx="652.9" cy="298.1" r="3.6" fill="url(#hg)" stroke="#8fb0c8" stroke-width="0.4"/>
<circle cx="658" cy="299.4" r="3.6" fill="url(#hg)" stroke="#8fb0c8" stroke-width="0.4"/>
<circle cx="663.3" cy="300.4" r="3.6" fill="url(#hg)" stroke="#8fb0c8" stroke-width="0.4"/>
<circle cx="687.5" cy="300.4" r="3.6" fill="url(#hg)" stroke="#8fb0c8" stroke-width="0.4"/>
<circle cx="693.2" cy="297.1" r="3.6" fill="url(#hg)" stroke="#8fb0c8" stroke-width="0.4"/>
<circle cx="699" cy="297.6" r="3.6" fill="url(#hg)" stroke="#8fb0c8" stroke-width="0.4"/>
<circle cx="704.7" cy="298.8" r="3.6" fill="url(#hg)" stroke="#8fb0c8" stroke-width="0.4"/>
<circle cx="710.5" cy="299.9" r="3.6" fill="url(#hg)" stroke="#8fb0c8" stroke-width="0.4"/>
<circle cx="734.7" cy="299.4" r="3.6" fill="url(#hg)" stroke="#8fb0c8" stroke-width="0.4"/>
<circle cx="740.5" cy="297.1" r="3.6" fill="url(#hg)" stroke="#8fb0c8" stroke-width="0.4"/>
<circle cx="746.2" cy="297.6" r="3.6" fill="url(#hg)" stroke="#8fb0c8" stroke-width="0.4"/>
<circle cx="752" cy="298.1" r="3.6" fill="url(#hg)" stroke="#8fb0c8" stroke-width="0.4"/>
<circle cx="757.7" cy="299.4" r="3.6" fill="url(#hg)" stroke="#8fb0c8" stroke-width="0.4"/>
<circle cx="780.8" cy="298.8" r="3.6" fill="url(#hg)" stroke="#8fb0c8" stroke-width="0.4"/>
<circle cx="582.6" cy="325.3" r="3.6" fill="url(#hg)" stroke="#8fb0c8" stroke-width="0.4"/>
<circle cx="588.4" cy="325.7" r="3.6" fill="url(#hg)" stroke="#8fb0c8" stroke-width="0.4"/>
<circle cx="629.9" cy="324.8" r="3.6" fill="url(#hg)" stroke="#8fb0c8" stroke-width="0.4"/>
<circle cx="634.9" cy="325.3" r="3.6" fill="url(#hg)" stroke="#8fb0c8" stroke-width="0.4"/>
<circle cx="640.2" cy="325.7" r="3.6" fill="url(#hg)" stroke="#8fb0c8" stroke-width="0.4"/>
<circle cx="664.4" cy="325.3" r="3.6" fill="url(#hg)" stroke="#8fb0c8" stroke-width="0.4"/>
<circle cx="677.1" cy="324.1" r="3.6" fill="url(#hg)" stroke="#8fb0c8" stroke-width="0.4"/>
<circle cx="681.7" cy="324.8" r="3.6" fill="url(#hg)" stroke="#8fb0c8" stroke-width="0.4"/>
<circle cx="687.5" cy="325.3" r="3.6" fill="url(#hg)" stroke="#8fb0c8" stroke-width="0.4"/>
<circle cx="711.7" cy="324.8" r="3.6" fill="url(#hg)" stroke="#8fb0c8" stroke-width="0.4"/>
<circle cx="728.9" cy="324.1" r="3.6" fill="url(#hg)" stroke="#8fb0c8" stroke-width="0.4"/>
<circle cx="734.7" cy="324.8" r="3.6" fill="url(#hg)" stroke="#8fb0c8" stroke-width="0.4"/>
<circle cx="757.7" cy="324.1" r="3.6" fill="url(#hg)" stroke="#8fb0c8" stroke-width="0.4"/>
<circle cx="594.1" cy="350.1" r="3.6" fill="url(#hg)" stroke="#8fb0c8" stroke-width="0.4"/>
<circle cx="618.3" cy="348.3" r="3.6" fill="url(#hg)" stroke="#8fb0c8" stroke-width="0.4"/>
<circle cx="623.4" cy="350.1" r="3.6" fill="url(#hg)" stroke="#8fb0c8" stroke-width="0.4"/>
<circle cx="651.8" cy="350.6" r="3.6" fill="url(#hg)" stroke="#8fb0c8" stroke-width="0.4"/>
<circle cx="665.6" cy="348.3" r="3.6" fill="url(#hg)" stroke="#8fb0c8" stroke-width="0.4"/>
<circle cx="671.3" cy="348.8" r="3.6" fill="url(#hg)" stroke="#8fb0c8" stroke-width="0.4"/>
<circle cx="675.9" cy="350.1" r="3.6" fill="url(#hg)" stroke="#8fb0c8" stroke-width="0.4"/>
<circle cx="699" cy="350.1" r="3.6" fill="url(#hg)" stroke="#8fb0c8" stroke-width="0.4"/>
<circle cx="711.7" cy="348.8" r="3.6" fill="url(#hg)" stroke="#8fb0c8" stroke-width="0.4"/>
<circle cx="717.4" cy="348.3" r="3.6" fill="url(#hg)" stroke="#8fb0c8" stroke-width="0.4"/>
<circle cx="723.2" cy="349.4" r="3.6" fill="url(#hg)" stroke="#8fb0c8" stroke-width="0.4"/>
<circle cx="763.5" cy="348.3" r="3.6" fill="url(#hg)" stroke="#8fb0c8" stroke-width="0.4"/>
<circle cx="769.3" cy="348.8" r="3.6" fill="url(#hg)" stroke="#8fb0c8" stroke-width="0.4"/>
<circle cx="600.4" cy="375.9" r="3.6" fill="url(#hg)" stroke="#8fb0c8" stroke-width="0.4"/>
<circle cx="605.7" cy="376.4" r="3.6" fill="url(#hg)" stroke="#8fb0c8" stroke-width="0.4"/>
<circle cx="640.2" cy="377.1" r="3.6" fill="url(#hg)" stroke="#8fb0c8" stroke-width="0.4"/>
<circle cx="657.5" cy="375.9" r="3.6" fill="url(#hg)" stroke="#8fb0c8" stroke-width="0.4"/>
<circle cx="663.3" cy="376.4" r="3.6" fill="url(#hg)" stroke="#8fb0c8" stroke-width="0.4"/>
<circle cx="687.5" cy="377.1" r="3.6" fill="url(#hg)" stroke="#8fb0c8" stroke-width="0.4"/>
<circle cx="704.7" cy="375.9" r="3.6" fill="url(#hg)" stroke="#8fb0c8" stroke-width="0.4"/>
<circle cx="710.5" cy="375.9" r="3.6" fill="url(#hg)" stroke="#8fb0c8" stroke-width="0.4"/>
<circle cx="734.7" cy="375.9" r="3.6" fill="url(#hg)" stroke="#8fb0c8" stroke-width="0.4"/>
<circle cx="740.5" cy="374.8" r="3.6" fill="url(#hg)" stroke="#8fb0c8" stroke-width="0.4"/>
<circle cx="752" cy="374.8" r="3.6" fill="url(#hg)" stroke="#8fb0c8" stroke-width="0.4"/>
<circle cx="757.7" cy="375.9" r="3.6" fill="url(#hg)" stroke="#8fb0c8" stroke-width="0.4"/>
<circle cx="780.8" cy="374.8" r="3.6" fill="url(#hg)" stroke="#8fb0c8" stroke-width="0.4"/>
<circle cx="582.6" cy="401.8" r="3.6" fill="url(#hg)" stroke="#8fb0c8" stroke-width="0.4"/>
<circle cx="588.4" cy="402.4" r="3.6" fill="url(#hg)" stroke="#8fb0c8" stroke-width="0.4"/>
<circle cx="629.9" cy="400.8" r="3.6" fill="url(#hg)" stroke="#8fb0c8" stroke-width="0.4"/>
<circle cx="634.9" cy="401.3" r="3.6" fill="url(#hg)" stroke="#8fb0c8" stroke-width="0.4"/>
<circle cx="640.2" cy="401.8" r="3.6" fill="url(#hg)" stroke="#8fb0c8" stroke-width="0.4"/>
<circle cx="677.1" cy="400.8" r="3.6" fill="url(#hg)" stroke="#8fb0c8" stroke-width="0.4"/>
<circle cx="681.7" cy="401.3" r="3.6" fill="url(#hg)" stroke="#8fb0c8" stroke-width="0.4"/>
<circle cx="687.5" cy="401.8" r="3.6" fill="url(#hg)" stroke="#8fb0c8" stroke-width="0.4"/>
<circle cx="728.9" cy="400.8" r="3.6" fill="url(#hg)" stroke="#8fb0c8" stroke-width="0.4"/>
<circle cx="734.7" cy="401.3" r="3.6" fill="url(#hg)" stroke="#8fb0c8" stroke-width="0.4"/>
<circle cx="757.7" cy="400.8" r="3.6" fill="url(#hg)" stroke="#8fb0c8" stroke-width="0.4"/>
<circle cx="594.1" cy="426.2" r="3.6" fill="url(#hg)" stroke="#8fb0c8" stroke-width="0.4"/>
<circle cx="618.3" cy="425.5" r="3.6" fill="url(#hg)" stroke="#8fb0c8" stroke-width="0.4"/>
<circle cx="623.4" cy="426.2" r="3.6" fill="url(#hg)" stroke="#8fb0c8" stroke-width="0.4"/>
<circle cx="651.8" cy="426.2" r="3.6" fill="url(#hg)" stroke="#8fb0c8" stroke-width="0.4"/>
<circle cx="665.6" cy="425.5" r="3.6" fill="url(#hg)" stroke="#8fb0c8" stroke-width="0.4"/>
<circle cx="671.3" cy="426.2" r="3.6" fill="url(#hg)" stroke="#8fb0c8" stroke-width="0.4"/>
<circle cx="675.9" cy="426.2" r="3.6" fill="url(#hg)" stroke="#8fb0c8" stroke-width="0.4"/>
<circle cx="699" cy="426.2" r="3.6" fill="url(#hg)" stroke="#8fb0c8" stroke-width="0.4"/>
<circle cx="711.7" cy="425.5" r="3.6" fill="url(#hg)" stroke="#8fb0c8" stroke-width="0.4"/>
<circle cx="717.4" cy="425.5" r="3.6" fill="url(#hg)" stroke="#8fb0c8" stroke-width="0.4"/>
<circle cx="723.2" cy="426.2" r="3.6" fill="url(#hg)" stroke="#8fb0c8" stroke-width="0.4"/>
<circle cx="763.5" cy="424.8" r="3.6" fill="url(#hg)" stroke="#8fb0c8" stroke-width="0.4"/>
<circle cx="769.3" cy="425.5" r="3.6" fill="url(#hg)" stroke="#8fb0c8" stroke-width="0.4"/>
<circle cx="600.4" cy="451.5" r="3.6" fill="url(#hg)" stroke="#8fb0c8" stroke-width="0.4"/>
<circle cx="605.7" cy="451.5" r="3.6" fill="url(#hg)" stroke="#8fb0c8" stroke-width="0.4"/>
<circle cx="640.2" cy="452" r="3.6" fill="url(#hg)" stroke="#8fb0c8" stroke-width="0.4"/>
<circle cx="646" cy="450.1" r="3.6" fill="url(#hg)" stroke="#8fb0c8" stroke-width="0.4"/>
<circle cx="651.8" cy="450.8" r="3.6" fill="url(#hg)" stroke="#8fb0c8" stroke-width="0.4"/>
<circle cx="657.5" cy="450.8" r="3.6" fill="url(#hg)" stroke="#8fb0c8" stroke-width="0.4"/>
<circle cx="663.3" cy="451.5" r="3.6" fill="url(#hg)" stroke="#8fb0c8" stroke-width="0.4"/>
<circle cx="687.5" cy="451.5" r="3.6" fill="url(#hg)" stroke="#8fb0c8" stroke-width="0.4"/>
<circle cx="693.2" cy="450.1" r="3.6" fill="url(#hg)" stroke="#8fb0c8" stroke-width="0.4"/>
<circle cx="699" cy="450.8" r="3.6" fill="url(#hg)" stroke="#8fb0c8" stroke-width="0.4"/>
<circle cx="704.7" cy="450.8" r="3.6" fill="url(#hg)" stroke="#8fb0c8" stroke-width="0.4"/>
<circle cx="710.5" cy="451.5" r="3.6" fill="url(#hg)" stroke="#8fb0c8" stroke-width="0.4"/>
<circle cx="734.7" cy="451.5" r="3.6" fill="url(#hg)" stroke="#8fb0c8" stroke-width="0.4"/>
<circle cx="740.5" cy="450.1" r="3.6" fill="url(#hg)" stroke="#8fb0c8" stroke-width="0.4"/>
<circle cx="746.2" cy="450.8" r="3.6" fill="url(#hg)" stroke="#8fb0c8" stroke-width="0.4"/>
<circle cx="752" cy="450.8" r="3.6" fill="url(#hg)" stroke="#8fb0c8" stroke-width="0.4"/>
<circle cx="757.7" cy="451.5" r="3.6" fill="url(#hg)" stroke="#8fb0c8" stroke-width="0.4"/>
<circle cx="780.8" cy="450.8" r="3.6" fill="url(#hg)" stroke="#8fb0c8" stroke-width="0.4"/>
<path d="M835.12,13.80h13.25v2.65h-13.25zM832.47,16.45h21.20v2.65h-21.20zM829.82,19.10h26.50v2.65h-26.50zM827.17,21.75h29.15v2.65h-29.15zM827.17,24.40h31.80v2.65h-31.80zM827.17,27.05h31.80v2.65h-31.80zM827.17,29.70h31.80v2.65h-31.80zM827.17,32.35h31.80v2.65h-31.80zM829.82,35.00h29.15v2.65h-29.15zM829.82,37.65h26.50v2.65h-26.50zM832.47,40.30h21.20v2.65h-21.20zM837.77,42.95h13.25v2.65h-13.25z" fill="#f880aa"/>
<path d="M873.91,16.69h18.55v2.65h-18.55zM871.26,19.34h26.50v2.65h-26.50zM868.61,21.99h31.80v2.65h-31.80zM865.96,24.64h34.45v2.65h-34.45zM865.96,27.29h37.10v2.65h-37.10zM865.96,29.94h37.10v2.65h-37.10zM868.61,32.59h34.45v2.65h-34.45zM868.61,35.24h31.80v2.65h-31.80zM871.26,37.89h29.15v2.65h-29.15zM876.56,40.54h18.55v2.65h-18.55z" fill="#f98daf"/>
<path d="M921.90,13.67h10.60v2.65h-10.60zM916.60,16.32h21.20v2.65h-21.20zM913.95,18.97h26.50v2.65h-26.50zM911.30,21.62h31.80v2.65h-31.80zM911.30,24.27h31.80v2.65h-31.80zM911.30,26.92h31.80v2.65h-31.80zM911.30,29.57h31.80v2.65h-31.80zM911.30,32.22h31.80v2.65h-31.80zM911.30,34.87h31.80v2.65h-31.80zM913.95,37.52h26.50v2.65h-26.50zM916.60,40.17h21.20v2.65h-21.20zM924.55,42.82h7.95v2.65h-7.95z" fill="#f880aa"/>
<path d="M957.54,16.00h21.20v2.65h-21.20zM952.24,18.65h31.80v2.65h-31.80zM952.24,21.30h31.80v2.65h-31.80zM949.59,23.95h37.10v2.65h-37.10zM949.59,26.60h37.10v2.65h-37.10zM949.59,29.25h37.10v2.65h-37.10zM949.59,31.90h34.45v2.65h-34.45zM952.24,34.55h31.80v2.65h-31.80zM954.89,37.20h26.50v2.65h-26.50zM957.54,39.85h21.20v2.65h-21.20zM962.84,42.50h10.60v2.65h-10.60z" fill="#f880aa"/>
<path d="M1004.22,13.94h10.60v2.65h-10.60zM998.92,16.59h21.20v2.65h-21.20zM996.27,19.24h26.50v2.65h-26.50zM993.62,21.89h31.80v2.65h-31.80zM990.97,24.54h37.10v2.65h-37.10zM990.97,27.19h37.10v2.65h-37.10zM990.97,29.84h37.10v2.65h-37.10zM990.97,32.49h37.10v2.65h-37.10zM993.62,35.14h31.80v2.65h-31.80zM996.27,37.79h26.50v2.65h-26.50zM998.92,40.44h21.20v2.65h-21.20zM1004.22,43.09h10.60v2.65h-10.60z" fill="#f880aa"/>
<path d="M1048.61,13.79h10.60v2.65h-10.60zM1043.31,16.44h21.20v2.65h-21.20zM1040.66,19.09h23.85v2.65h-23.85zM1038.01,21.74h29.15v2.65h-29.15zM1035.36,24.39h31.80v2.65h-31.80zM1032.71,27.04h34.45v2.65h-34.45zM1032.71,29.69h34.45v2.65h-34.45zM1035.36,32.34h31.80v2.65h-31.80zM1035.36,34.99h29.15v2.65h-29.15zM1038.01,37.64h26.50v2.65h-26.50zM1040.66,40.29h21.20v2.65h-21.20zM1045.96,42.94h10.60v2.65h-10.60z" fill="#f992b0"/>
<path d="M1087.67,13.67h10.60v2.65h-10.60zM1082.37,16.32h21.20v2.65h-21.20zM1079.72,18.97h26.50v2.65h-26.50zM1077.07,21.62h29.15v2.65h-29.15zM1077.07,24.27h31.80v2.65h-31.80zM1077.07,26.92h31.80v2.65h-31.80zM1077.07,29.57h31.80v2.65h-31.80zM1077.07,32.22h31.80v2.65h-31.80zM1077.07,34.87h31.80v2.65h-31.80zM1079.72,37.52h26.50v2.65h-26.50zM1082.37,40.17h21.20v2.65h-21.20zM1087.67,42.82h10.60v2.65h-10.60z" fill="#f880aa"/>
<path d="M838.11,51.42h10.60v2.65h-10.60zM832.81,54.07h21.20v2.65h-21.20zM830.16,56.72h29.15v2.65h-29.15zM827.51,59.37h31.80v2.65h-31.80zM824.86,62.02h37.10v2.65h-37.10zM824.86,64.67h37.10v2.65h-37.10zM824.86,67.32h37.10v2.65h-37.10zM824.86,69.97h37.10v2.65h-37.10zM827.51,72.62h31.80v2.65h-31.80zM827.51,75.27h29.15v2.65h-29.15zM830.16,77.92h23.85v2.65h-23.85zM838.11,80.57h7.95v2.65h-7.95z" fill="#f880aa"/>
<path d="M879.64,51.44h10.60v2.65h-10.60zM874.34,54.09h21.20v2.65h-21.20zM871.69,56.74h26.50v2.65h-26.50zM869.04,59.39h31.80v2.65h-31.80zM869.04,62.04h31.80v2.65h-31.80zM866.39,64.69h34.45v2.65h-34.45zM866.39,67.34h37.10v2.65h-37.10zM866.39,69.99h34.45v2.65h-34.45zM869.04,72.64h31.80v2.65h-31.80zM871.69,75.29h29.15v2.65h-29.15zM874.34,77.94h21.20v2.65h-21.20zM882.29,80.59h7.95v2.65h-7.95z" fill="#f880aa"/>
<path d="M915.74,53.37h21.20v2.65h-21.20zM913.09,56.02h29.15v2.65h-29.15zM910.44,58.67h31.80v2.65h-31.80zM910.44,61.32h34.45v2.65h-34.45zM910.44,63.97h34.45v2.65h-34.45zM910.44,66.62h34.45v2.65h-34.45zM910.44,69.27h31.80v2.65h-31.80zM910.44,71.92h31.80v2.65h-31.80zM913.09,74.57h26.50v2.65h-26.50zM915.74,77.22h18.55v2.65h-18.55zM918.39,79.87h10.60v2.65h-10.60z" fill="#f880aa"/>
<path d="M962.83,50.80h13.25v2.65h-13.25zM957.53,53.45h23.85v2.65h-23.85zM954.88,56.10h29.15v2.65h-29.15zM952.23,58.75h31.80v2.65h-31.80zM952.23,61.40h34.45v2.65h-34.45zM952.23,64.05h34.45v2.65h-34.45zM949.58,66.70h34.45v2.65h-34.45zM952.23,69.35h31.80v2.65h-31.80zM952.23,72.00h31.80v2.65h-31.80zM952.23,74.65h29.15v2.65h-29.15zM954.88,77.30h23.85v2.65h-23.85zM960.18,79.95h13.25v2.65h-13.25z" fill="#f880aa"/>
<path d="M1009.35,51.09h5.30v2.65h-5.30zM1001.40,53.74h21.20v2.65h-21.20zM996.10,56.39h29.15v2.65h-29.15zM993.45,59.04h31.80v2.65h-31.80zM993.45,61.69h34.45v2.65h-34.45zM990.80,64.34h37.10v2.65h-37.10zM990.80,66.99h34.45v2.65h-34.45zM990.80,69.64h34.45v2.65h-34.45zM993.45,72.29h29.15v2.65h-29.15zM996.10,74.94h26.50v2.65h-26.50zM998.75,77.59h18.55v2.65h-18.55zM1004.05,80.24h7.95v2.65h-7.95z" fill="#f989ad"/>
<path d="M1045.88,51.43h13.25v2.65h-13.25zM1040.58,54.08h23.85v2.65h-23.85zM1037.93,56.73h29.15v2.65h-29.15zM1035.28,59.38h31.80v2.65h-31.80zM1035.28,62.03h34.45v2.65h-34.45zM1032.63,64.68h37.10v2.65h-37.10zM1032.63,67.33h34.45v2.65h-34.45zM1032.63,69.98h34.45v2.65h-34.45zM1035.28,72.63h31.80v2.65h-31.80zM1035.28,75.28h29.15v2.65h-29.15zM1037.93,77.93h23.85v2.65h-23.85zM1043.23,80.58h13.25v2.65h-13.25z" fill="#f880aa"/>
<path d="M1090.12,50.66h10.60v2.65h-10.60zM1082.17,53.31h23.85v2.65h-23.85zM1076.87,55.96h31.80v2.65h-31.80zM1074.22,58.61h34.45v2.65h-34.45zM1074.22,61.26h37.10v2.65h-37.10zM1074.22,63.91h37.10v2.65h-37.10zM1074.22,66.56h37.10v2.65h-37.10zM1074.22,69.21h34.45v2.65h-34.45zM1076.87,71.86h31.80v2.65h-31.80zM1079.52,74.51h26.50v2.65h-26.50zM1082.17,77.16h23.85v2.65h-23.85zM1087.47,79.81h13.25v2.65h-13.25z" fill="#f880aa"/>
<path d="M838.30,88.37h10.60v2.65h-10.60zM830.35,91.02h23.85v2.65h-23.85zM827.70,93.67h29.15v2.65h-29.15zM825.05,96.32h34.45v2.65h-34.45zM825.05,98.97h34.45v2.65h-34.45zM825.05,101.62h37.10v2.65h-37.10zM825.05,104.27h37.10v2.65h-37.10zM825.05,106.92h34.45v2.65h-34.45zM827.70,109.57h31.80v2.65h-31.80zM830.35,112.22h29.15v2.65h-29.15zM835.65,114.87h21.20v2.65h-21.20zM840.95,117.52h13.25v2.65h-13.25z" fill="#f875a6"/>
<path d="M877.38,88.37h10.60v2.65h-10.60zM872.08,91.02h21.20v2.65h-21.20zM869.43,93.67h29.15v2.65h-29.15zM869.43,96.32h29.15v2.65h-29.15zM869.43,98.97h31.80v2.65h-31.80zM866.78,101.62h34.45v2.65h-34.45zM869.43,104.27h34.45v2.65h-34.45zM869.43,106.92h31.80v2.65h-31.80zM869.43,109.57h31.80v2.65h-31.80zM872.08,112.22h29.15v2.65h-29.15zM877.38,114.87h21.20v2.65h-21.20zM882.68,117.52h10.60v2.65h-10.60z" fill="#f875a6"/>
<path d="M919.10,91.44h18.55v2.65h-18.55zM913.80,94.09h26.50v2.65h-26.50zM911.15,96.74h31.80v2.65h-31.80zM911.15,99.39h34.45v2.65h-34.45zM908.50,102.04h37.10v2.65h-37.10zM908.50,104.69h34.45v2.65h-34.45zM911.15,107.34h31.80v2.65h-31.80zM911.15,109.99h31.80v2.65h-31.80zM913.80,112.64h26.50v2.65h-26.50zM916.45,115.29h18.55v2.65h-18.55zM924.40,117.94h2.65v2.65h-2.65z" fill="#f875a6"/>
<path d="M962.61,87.95h13.25v2.65h-13.25zM959.96,90.60h21.20v2.65h-21.20zM957.31,93.25h23.85v2.65h-23.85zM954.66,95.90h29.15v2.65h-29.15zM952.01,98.55h31.80v2.65h-31.80zM952.01,101.20h31.80v2.65h-31.80zM952.01,103.85h31.80v2.65h-31.80zM952.01,106.50h31.80v2.65h-31.80zM952.01,109.15h29.15v2.65h-29.15zM952.01,111.80h29.15v2.65h-29.15zM954.66,114.45h23.85v2.65h-23.85zM959.96,117.10h13.25v2.65h-13.25z" fill="#f875a6"/>
<path d="M1004.57,87.84h10.60v2.65h-10.60zM999.27,90.49h21.20v2.65h-21.20zM996.62,93.14h26.50v2.65h-26.50zM993.97,95.79h31.80v2.65h-31.80zM993.97,98.44h31.80v2.65h-31.80zM991.32,101.09h34.45v2.65h-34.45zM991.32,103.74h37.10v2.65h-37.10zM993.97,106.39h31.80v2.65h-31.80zM993.97,109.04h31.80v2.65h-31.80zM996.62,111.69h26.50v2.65h-26.50zM999.27,114.34h21.20v2.65h-21.20zM1004.57,116.99h10.60v2.65h-10.60z" fill="#f875a6"/>
<path d="M1045.92,88.13h13.25v2.65h-13.25zM1040.62,90.78h21.20v2.65h-21.20zM1037.97,93.43h26.50v2.65h-26.50zM1035.32,96.08h31.80v2.65h-31.80zM1035.32,98.73h31.80v2.65h-31.80zM1035.32,101.38h31.80v2.65h-31.80zM1035.32,104.03h31.80v2.65h-31.80zM1035.32,106.68h31.80v2.65h-31.80zM1035.32,109.33h31.80v2.65h-31.80zM1037.97,111.98h26.50v2.65h-26.50zM1040.62,114.63h21.20v2.65h-21.20zM1045.92,117.28h10.60v2.65h-10.60z" fill="#f875a6"/>
<path d="M1084.66,88.80h15.90v2.65h-15.90zM1079.36,91.45h23.85v2.65h-23.85zM1076.71,94.10h29.15v2.65h-29.15zM1076.71,96.75h31.80v2.65h-31.80zM1074.06,99.40h34.45v2.65h-34.45zM1074.06,102.05h34.45v2.65h-34.45zM1074.06,104.70h34.45v2.65h-34.45zM1076.71,107.35h31.80v2.65h-31.80zM1076.71,110.00h31.80v2.65h-31.80zM1079.36,112.65h29.15v2.65h-29.15zM1082.01,115.30h23.85v2.65h-23.85zM1087.31,117.95h15.90v2.65h-15.90z" fill="#f875a6"/>
<path d="M832.70,127.78h21.20v2.65h-21.20zM830.05,130.43h26.50v2.65h-26.50zM827.40,133.08h31.80v2.65h-31.80zM824.75,135.73h34.45v2.65h-34.45zM824.75,138.38h34.45v2.65h-34.45zM824.75,141.03h37.10v2.65h-37.10zM827.40,143.68h31.80v2.65h-31.80zM827.40,146.33h31.80v2.65h-31.80zM830.05,148.98h26.50v2.65h-26.50zM835.35,151.63h18.55v2.65h-18.55z" fill="#f768a1"/>
<path d="M877.16,125.26h13.25v2.65h-13.25zM874.51,127.91h18.55v2.65h-18.55zM871.86,130.56h23.85v2.65h-23.85zM869.21,133.21h29.15v2.65h-29.15zM869.21,135.86h31.80v2.65h-31.80zM869.21,138.51h31.80v2.65h-31.80zM869.21,141.16h34.45v2.65h-34.45zM869.21,143.81h31.80v2.65h-31.80zM869.21,146.46h31.80v2.65h-31.80zM871.86,149.11h26.50v2.65h-26.50zM874.51,151.76h21.20v2.65h-21.20zM879.81,154.41h7.95v2.65h-7.95z" fill="#f768a1"/>
<path d="M918.56,126.06h13.25v2.65h-13.25zM913.26,128.71h23.85v2.65h-23.85zM913.26,131.36h26.50v2.65h-26.50zM910.61,134.01h29.15v2.65h-29.15zM910.61,136.66h31.80v2.65h-31.80zM910.61,139.31h31.80v2.65h-31.80zM910.61,141.96h31.80v2.65h-31.80zM910.61,144.61h31.80v2.65h-31.80zM913.26,147.26h29.15v2.65h-29.15zM913.26,149.91h26.50v2.65h-26.50zM915.91,152.56h23.85v2.65h-23.85zM921.21,155.21h13.25v2.65h-13.25z" fill="#f768a1"/>
<path d="M962.66,125.62h13.25v2.65h-13.25zM957.36,128.27h21.20v2.65h-21.20zM954.71,130.92h26.50v2.65h-26.50zM952.06,133.57h31.80v2.65h-31.80zM952.06,136.22h31.80v2.65h-31.80zM949.41,138.87h34.45v2.65h-34.45zM949.41,141.52h34.45v2.65h-34.45zM949.41,144.17h34.45v2.65h-34.45zM952.06,146.82h31.80v2.65h-31.80zM954.71,149.47h26.50v2.65h-26.50zM957.36,152.12h23.85v2.65h-23.85zM965.31,154.77h10.60v2.65h-10.60z" fill="#f771a4"/>
<path d="M1006.91,125.72h7.95v2.65h-7.95zM1001.61,128.37h21.20v2.65h-21.20zM996.31,131.02h29.15v2.65h-29.15zM993.66,133.67h31.80v2.65h-31.80zM993.66,136.32h34.45v2.65h-34.45zM991.01,138.97h37.10v2.65h-37.10zM991.01,141.62h37.10v2.65h-37.10zM991.01,144.27h34.45v2.65h-34.45zM993.66,146.92h31.80v2.65h-31.80zM993.66,149.57h29.15v2.65h-29.15zM996.31,152.22h23.85v2.65h-23.85zM1004.26,154.87h5.30v2.65h-5.30z" fill="#f768a1"/>
<path d="M1042.98,125.82h13.25v2.65h-13.25zM1040.33,128.47h21.20v2.65h-21.20zM1037.68,131.12h26.50v2.65h-26.50zM1035.03,133.77h31.80v2.65h-31.80zM1035.03,136.42h31.80v2.65h-31.80zM1035.03,139.07h34.45v2.65h-34.45zM1035.03,141.72h34.45v2.65h-34.45zM1035.03,144.37h31.80v2.65h-31.80zM1035.03,147.02h31.80v2.65h-31.80zM1037.68,149.67h26.50v2.65h-26.50zM1037.68,152.32h23.85v2.65h-23.85zM1042.98,154.97h13.25v2.65h-13.25z" fill="#f768a1"/>
<path d="M1087.78,125.62h13.25v2.65h-13.25zM1082.48,128.27h21.20v2.65h-21.20zM1079.83,130.92h26.50v2.65h-26.50zM1079.83,133.57h29.15v2.65h-29.15zM1077.18,136.22h31.80v2.65h-31.80zM1077.18,138.87h31.80v2.65h-31.80zM1077.18,141.52h31.80v2.65h-31.80zM1077.18,144.17h31.80v2.65h-31.80zM1077.18,146.82h29.15v2.65h-29.15zM1079.83,149.47h26.50v2.65h-26.50zM1082.48,152.12h21.20v2.65h-21.20zM1085.13,154.77h13.25v2.65h-13.25z" fill="#f768a1"/>
<path d="M832.52,165.63h18.55v2.65h-18.55zM829.87,168.28h26.50v2.65h-26.50zM827.22,170.93h31.80v2.65h-31.80zM824.57,173.58h34.45v2.65h-34.45zM824.57,176.23h37.10v2.65h-37.10zM824.57,178.88h37.10v2.65h-37.10zM827.22,181.53h34.45v2.65h-34.45zM827.22,184.18h31.80v2.65h-31.80zM829.87,186.83h26.50v2.65h-26.50zM835.17,189.48h18.55v2.65h-18.55z" fill="#f15c9f"/>
<path d="M879.83,162.46h13.25v2.65h-13.25zM874.53,165.11h23.85v2.65h-23.85zM871.88,167.76h26.50v2.65h-26.50zM871.88,170.41h29.15v2.65h-29.15zM869.23,173.06h31.80v2.65h-31.80zM869.23,175.71h31.80v2.65h-31.80zM869.23,178.36h31.80v2.65h-31.80zM869.23,181.01h31.80v2.65h-31.80zM869.23,183.66h29.15v2.65h-29.15zM871.88,186.31h23.85v2.65h-23.85zM871.88,188.96h21.20v2.65h-21.20zM877.18,191.61h13.25v2.65h-13.25z" fill="#f15c9f"/>
<path d="M921.58,162.75h10.60v2.65h-10.60zM916.28,165.40h21.20v2.65h-21.20zM913.63,168.05h26.50v2.65h-26.50zM910.98,170.70h31.80v2.65h-31.80zM910.98,173.35h34.45v2.65h-34.45zM910.98,176.00h34.45v2.65h-34.45zM910.98,178.65h34.45v2.65h-34.45zM910.98,181.30h31.80v2.65h-31.80zM910.98,183.95h31.80v2.65h-31.80zM913.63,186.60h26.50v2.65h-26.50zM913.63,189.25h23.85v2.65h-23.85zM918.93,191.90h13.25v2.65h-13.25z" fill="#f15c9f"/>
<path d="M959.57,162.46h13.25v2.65h-13.25zM954.27,165.11h23.85v2.65h-23.85zM954.27,167.76h26.50v2.65h-26.50zM951.62,170.41h31.80v2.65h-31.80zM951.62,173.06h31.80v2.65h-31.80zM951.62,175.71h34.45v2.65h-34.45zM951.62,178.36h34.45v2.65h-34.45zM951.62,181.01h34.45v2.65h-34.45zM951.62,183.66h31.80v2.65h-31.80zM954.27,186.31h29.15v2.65h-29.15zM956.92,188.96h23.85v2.65h-23.85zM962.22,191.61h10.60v2.65h-10.60z" fill="#f768a1"/>
<path d="M998.65,162.86h15.90v2.65h-15.90zM996.00,165.51h23.85v2.65h-23.85zM993.35,168.16h29.15v2.65h-29.15zM993.35,170.81h31.80v2.65h-31.80zM993.35,173.46h34.45v2.65h-34.45zM993.35,176.11h34.45v2.65h-34.45zM993.35,178.76h34.45v2.65h-34.45zM993.35,181.41h34.45v2.65h-34.45zM993.35,184.06h31.80v2.65h-31.80zM996.00,186.71h29.15v2.65h-29.15zM998.65,189.36h21.20v2.65h-21.20zM1001.30,192.01h13.25v2.65h-13.25z" fill="#f15c9f"/>
<path d="M1048.21,162.71h10.60v2.65h-10.60zM1042.91,165.36h21.20v2.65h-21.20zM1037.61,168.01h29.15v2.65h-29.15zM1037.61,170.66h29.15v2.65h-29.15zM1034.96,173.31h31.80v2.65h-31.80zM1034.96,175.96h31.80v2.65h-31.80zM1034.96,178.61h31.80v2.65h-31.80zM1034.96,181.26h31.80v2.65h-31.80zM1034.96,183.91h29.15v2.65h-29.15zM1037.61,186.56h26.50v2.65h-26.50zM1040.26,189.21h21.20v2.65h-21.20zM1042.91,191.86h13.25v2.65h-13.25z" fill="#f15c9f"/>
<path d="M1089.75,162.78h10.60v2.65h-10.60zM1084.45,165.43h21.20v2.65h-21.20zM1079.15,168.08h29.15v2.65h-29.15zM1076.50,170.73h31.80v2.65h-31.80zM1076.50,173.38h31.80v2.65h-31.80zM1076.50,176.03h31.80v2.65h-31.80zM1076.50,178.68h31.80v2.65h-31.80zM1076.50,181.33h31.80v2.65h-31.80zM1076.50,183.98h29.15v2.65h-29.15zM1079.15,186.63h23.85v2.65h-23.85zM1081.80,189.28h21.20v2.65h-21.20zM1084.45,191.93h13.25v2.65h-13.25z" fill="#f15c9f"/>
<path d="M840.62,200.44h10.60v2.65h-10.60zM835.32,203.09h21.20v2.65h-21.20zM832.67,205.74h26.50v2.65h-26.50zM827.37,208.39h31.80v2.65h-31.80zM827.37,211.04h31.80v2.65h-31.80zM824.72,213.69h34.45v2.65h-34.45zM824.72,216.34h34.45v2.65h-34.45zM824.72,218.99h34.45v2.65h-34.45zM827.37,221.64h29.15v2.65h-29.15zM830.02,224.29h26.50v2.65h-26.50zM832.67,226.94h21.20v2.65h-21.20zM837.97,229.59h10.60v2.65h-10.60z" fill="#eb4f9c"/>
<path d="M882.65,199.94h7.95v2.65h-7.95zM877.35,202.59h18.55v2.65h-18.55zM874.70,205.24h23.85v2.65h-23.85zM872.05,207.89h29.15v2.65h-29.15zM869.40,210.54h31.80v2.65h-31.80zM866.75,213.19h37.10v2.65h-37.10zM866.75,215.84h37.10v2.65h-37.10zM866.75,218.49h37.10v2.65h-37.10zM869.40,221.14h31.80v2.65h-31.80zM869.40,223.79h29.15v2.65h-29.15zM874.70,226.44h18.55v2.65h-18.55z" fill="#eb4f9c"/>
<path d="M918.95,199.80h15.90v2.65h-15.90zM916.30,202.45h21.20v2.65h-21.20zM913.65,205.10h26.50v2.65h-26.50zM913.65,207.75h26.50v2.65h-26.50zM913.65,210.40h29.15v2.65h-29.15zM911.00,213.05h31.80v2.65h-31.80zM911.00,215.70h31.80v2.65h-31.80zM911.00,218.35h31.80v2.65h-31.80zM911.00,221.00h31.80v2.65h-31.80zM913.65,223.65h26.50v2.65h-26.50zM913.65,226.30h23.85v2.65h-23.85zM918.95,228.95h13.25v2.65h-13.25z" fill="#eb4f9c"/>
<path d="M963.03,200.14h13.25v2.65h-13.25zM957.73,202.79h21.20v2.65h-21.20zM955.08,205.44h26.50v2.65h-26.50zM955.08,208.09h29.15v2.65h-29.15zM952.43,210.74h31.80v2.65h-31.80zM952.43,213.39h31.80v2.65h-31.80zM952.43,216.04h31.80v2.65h-31.80zM952.43,218.69h31.80v2.65h-31.80zM952.43,221.34h29.15v2.65h-29.15zM955.08,223.99h26.50v2.65h-26.50zM957.73,226.64h21.20v2.65h-21.20zM960.38,229.29h13.25v2.65h-13.25z" fill="#eb4f9c"/>
<path d="M998.74,203.00h21.20v2.65h-21.20zM996.09,205.65h26.50v2.65h-26.50zM993.44,208.30h31.80v2.65h-31.80zM990.79,210.95h37.10v2.65h-37.10zM990.79,213.60h37.10v2.65h-37.10zM990.79,216.25h37.10v2.65h-37.10zM993.44,218.90h34.45v2.65h-34.45zM993.44,221.55h31.80v2.65h-31.80zM996.09,224.20h26.50v2.65h-26.50zM998.74,226.85h21.20v2.65h-21.20zM1006.69,229.50h5.30v2.65h-5.30z" fill="#eb4f9c"/>
<path d="M1045.43,199.82h10.60v2.65h-10.60zM1040.13,202.47h21.20v2.65h-21.20zM1037.48,205.12h26.50v2.65h-26.50zM1034.83,207.77h31.80v2.65h-31.80zM1034.83,210.42h31.80v2.65h-31.80zM1032.18,213.07h37.10v2.65h-37.10zM1032.18,215.72h37.10v2.65h-37.10zM1032.18,218.37h34.45v2.65h-34.45zM1034.83,221.02h31.80v2.65h-31.80zM1034.83,223.67h29.15v2.65h-29.15zM1040.13,226.32h21.20v2.65h-21.20zM1045.43,228.97h10.60v2.65h-10.60z" fill="#eb4f9c"/>
<path d="M1087.61,200.54h7.95v2.65h-7.95zM1082.31,203.19h21.20v2.65h-21.20zM1079.66,205.84h26.50v2.65h-26.50zM1077.01,208.49h31.80v2.65h-31.80zM1077.01,211.14h34.45v2.65h-34.45zM1077.01,213.79h34.45v2.65h-34.45zM1077.01,216.44h34.45v2.65h-34.45zM1077.01,219.09h34.45v2.65h-34.45zM1077.01,221.74h31.80v2.65h-31.80zM1079.66,224.39h26.50v2.65h-26.50zM1079.66,227.04h21.20v2.65h-21.20zM1087.61,229.69h5.30v2.65h-5.30z" fill="#eb4f9c"/>
<path d="M838.21,237.64h10.60v2.65h-10.60zM832.91,240.29h21.20v2.65h-21.20zM830.26,242.94h26.50v2.65h-26.50zM830.26,245.59h29.15v2.65h-29.15zM827.61,248.24h31.80v2.65h-31.80zM827.61,250.89h31.80v2.65h-31.80zM827.61,253.54h31.80v2.65h-31.80zM827.61,256.19h31.80v2.65h-31.80zM827.61,258.84h31.80v2.65h-31.80zM830.26,261.49h26.50v2.65h-26.50zM832.91,264.14h21.20v2.65h-21.20zM838.21,266.79h10.60v2.65h-10.60z" fill="#f15c9f"/>
<path d="M881.98,237.29h7.95v2.65h-7.95zM874.03,239.94h21.20v2.65h-21.20zM871.38,242.59h26.50v2.65h-26.50zM868.73,245.24h31.80v2.65h-31.80zM866.08,247.89h34.45v2.65h-34.45zM866.08,250.54h34.45v2.65h-34.45zM866.08,253.19h37.10v2.65h-37.10zM868.73,255.84h31.80v2.65h-31.80zM868.73,258.49h31.80v2.65h-31.80zM871.38,261.14h26.50v2.65h-26.50zM874.03,263.79h21.20v2.65h-21.20zM881.98,266.44h10.60v2.65h-10.60z" fill="#eb4f9c"/>
<path d="M918.60,240.07h21.20v2.65h-21.20zM913.30,242.72h29.15v2.65h-29.15zM910.65,245.37h31.80v2.65h-31.80zM910.65,248.02h34.45v2.65h-34.45zM908.00,250.67h37.10v2.65h-37.10zM908.00,253.32h37.10v2.65h-37.10zM908.00,255.97h34.45v2.65h-34.45zM910.65,258.62h31.80v2.65h-31.80zM910.65,261.27h29.15v2.65h-29.15zM915.95,263.92h18.55v2.65h-18.55zM921.25,266.57h5.30v2.65h-5.30z" fill="#eb4f9c"/>
<path d="M965.77,237.16h5.30v2.65h-5.30zM957.82,239.81h21.20v2.65h-21.20zM955.17,242.46h26.50v2.65h-26.50zM952.52,245.11h31.80v2.65h-31.80zM952.52,247.76h31.80v2.65h-31.80zM949.87,250.41h37.10v2.65h-37.10zM949.87,253.06h37.10v2.65h-37.10zM952.52,255.71h31.80v2.65h-31.80zM952.52,258.36h31.80v2.65h-31.80zM955.17,261.01h26.50v2.65h-26.50zM957.82,263.66h21.20v2.65h-21.20zM963.12,266.31h10.60v2.65h-10.60z" fill="#e4439a"/>
<path d="M999.28,237.99h15.90v2.65h-15.90zM996.63,240.64h23.85v2.65h-23.85zM993.98,243.29h29.15v2.65h-29.15zM993.98,245.94h31.80v2.65h-31.80zM993.98,248.59h31.80v2.65h-31.80zM993.98,251.24h31.80v2.65h-31.80zM993.98,253.89h31.80v2.65h-31.80zM996.63,256.54h29.15v2.65h-29.15zM996.63,259.19h29.15v2.65h-29.15zM996.63,261.84h26.50v2.65h-26.50zM999.28,264.49h21.20v2.65h-21.20zM1001.93,267.14h15.90v2.65h-15.90z" fill="#eb4f9c"/>
<path d="M1046.13,237.22h10.60v2.65h-10.60zM1040.83,239.87h23.85v2.65h-23.85zM1038.18,242.52h29.15v2.65h-29.15zM1035.53,245.17h31.80v2.65h-31.80zM1035.53,247.82h34.45v2.65h-34.45zM1032.88,250.47h37.10v2.65h-37.10zM1032.88,253.12h37.10v2.65h-37.10zM1035.53,255.77h31.80v2.65h-31.80zM1035.53,258.42h31.80v2.65h-31.80zM1038.18,261.07h26.50v2.65h-26.50zM1040.83,263.72h21.20v2.65h-21.20zM1043.48,266.37h13.25v2.65h-13.25z" fill="#f15c9f"/>
<path d="M1087.46,237.52h13.25v2.65h-13.25zM1082.16,240.17h23.85v2.65h-23.85zM1079.51,242.82h29.15v2.65h-29.15zM1076.86,245.47h31.80v2.65h-31.80zM1076.86,248.12h31.80v2.65h-31.80zM1076.86,250.77h34.45v2.65h-34.45zM1076.86,253.42h31.80v2.65h-31.80zM1076.86,256.07h31.80v2.65h-31.80zM1076.86,258.72h31.80v2.65h-31.80zM1076.86,261.37h29.15v2.65h-29.15zM1079.51,264.02h23.85v2.65h-23.85zM1082.16,266.67h15.90v2.65h-15.90z" fill="#eb4f9c"/>
<path d="M837.63,274.37h5.30v2.65h-5.30zM832.33,277.02h21.20v2.65h-21.20zM827.03,279.67h29.15v2.65h-29.15zM827.03,282.32h31.80v2.65h-31.80zM827.03,284.97h31.80v2.65h-31.80zM827.03,287.62h34.45v2.65h-34.45zM827.03,290.27h31.80v2.65h-31.80zM827.03,292.92h31.80v2.65h-31.80zM829.68,295.57h29.15v2.65h-29.15zM829.68,298.22h26.50v2.65h-26.50zM832.33,300.87h21.20v2.65h-21.20zM837.63,303.52h10.60v2.65h-10.60z" fill="#e23e99"/>
<path d="M882.66,274.35h7.95v2.65h-7.95zM874.71,277.00h21.20v2.65h-21.20zM872.06,279.65h29.15v2.65h-29.15zM869.41,282.30h31.80v2.65h-31.80zM869.41,284.95h34.45v2.65h-34.45zM869.41,287.60h34.45v2.65h-34.45zM869.41,290.25h31.80v2.65h-31.80zM869.41,292.90h31.80v2.65h-31.80zM869.41,295.55h31.80v2.65h-31.80zM869.41,298.20h29.15v2.65h-29.15zM872.06,300.85h21.20v2.65h-21.20zM877.36,303.50h10.60v2.65h-10.60z" fill="#e6479b"/>
<path d="M913.87,277.85h23.85v2.65h-23.85zM911.22,280.50h31.80v2.65h-31.80zM911.22,283.15h31.80v2.65h-31.80zM908.57,285.80h37.10v2.65h-37.10zM908.57,288.45h37.10v2.65h-37.10zM908.57,291.10h37.10v2.65h-37.10zM911.22,293.75h31.80v2.65h-31.80zM911.22,296.40h31.80v2.65h-31.80zM913.87,299.05h26.50v2.65h-26.50zM916.52,301.70h21.20v2.65h-21.20zM921.82,304.35h10.60v2.65h-10.60z" fill="#e23e99"/>
<path d="M959.56,285.35h13.25v2.65h-13.25zM954.26,288.00h23.85v2.65h-23.85zM951.61,290.65h29.15v2.65h-29.15zM951.61,293.30h31.80v2.65h-31.80zM951.61,295.95h34.45v2.65h-34.45zM951.61,298.60h31.80v2.65h-31.80zM954.26,301.25h26.50v2.65h-26.50zM962.21,303.90h13.25v2.65h-13.25z" fill="#e23e99"/>
<rect x="963.0" y="275.4" width="9" height="13" fill="#e23e99"/>
<path d="M1004.36,274.82h13.25v2.65h-13.25zM1001.71,277.47h18.55v2.65h-18.55zM999.06,280.12h23.85v2.65h-23.85zM996.41,282.77h29.15v2.65h-29.15zM993.76,285.42h31.80v2.65h-31.80zM993.76,288.07h31.80v2.65h-31.80zM993.76,290.72h31.80v2.65h-31.80zM993.76,293.37h31.80v2.65h-31.80zM993.76,296.02h31.80v2.65h-31.80zM996.41,298.67h26.50v2.65h-26.50zM999.06,301.32h21.20v2.65h-21.20zM1004.36,303.97h10.60v2.65h-10.60z" fill="#e23e99"/>
<path d="M1040.51,274.64h15.90v2.65h-15.90zM1037.86,277.29h23.85v2.65h-23.85zM1037.86,279.94h26.50v2.65h-26.50zM1035.21,282.59h29.15v2.65h-29.15zM1035.21,285.24h31.80v2.65h-31.80zM1035.21,287.89h31.80v2.65h-31.80zM1035.21,290.54h31.80v2.65h-31.80zM1035.21,293.19h31.80v2.65h-31.80zM1035.21,295.84h31.80v2.65h-31.80zM1037.86,298.49h29.15v2.65h-29.15zM1040.51,301.14h23.85v2.65h-23.85zM1043.16,303.79h15.90v2.65h-15.90z" fill="#e23e99"/>
<path d="M1084.63,275.08h13.25v2.65h-13.25zM1081.98,277.73h21.20v2.65h-21.20zM1079.33,280.38h26.50v2.65h-26.50zM1076.68,283.03h29.15v2.65h-29.15zM1076.68,285.68h31.80v2.65h-31.80zM1076.68,288.33h31.80v2.65h-31.80zM1074.03,290.98h34.45v2.65h-34.45zM1076.68,293.63h31.80v2.65h-31.80zM1076.68,296.28h31.80v2.65h-31.80zM1079.33,298.93h29.15v2.65h-29.15zM1081.98,301.58h23.85v2.65h-23.85zM1089.93,304.23h10.60v2.65h-10.60z" fill="#e23e99"/>
<path d="M837.93,312.42h7.95v2.65h-7.95zM832.63,315.07h21.20v2.65h-21.20zM829.98,317.72h26.50v2.65h-26.50zM827.33,320.37h31.80v2.65h-31.80zM827.33,323.02h31.80v2.65h-31.80zM827.33,325.67h31.80v2.65h-31.80zM827.33,328.32h31.80v2.65h-31.80zM827.33,330.97h31.80v2.65h-31.80zM829.98,333.62h29.15v2.65h-29.15zM832.63,336.27h23.85v2.65h-23.85zM835.28,338.92h18.55v2.65h-18.55zM837.93,341.57h13.25v2.65h-13.25z" fill="#d72e94"/>
<path d="M880.12,312.41h10.60v2.65h-10.60zM874.82,315.06h21.20v2.65h-21.20zM872.17,317.71h26.50v2.65h-26.50zM869.52,320.36h31.80v2.65h-31.80zM869.52,323.01h31.80v2.65h-31.80zM869.52,325.66h31.80v2.65h-31.80zM869.52,328.31h31.80v2.65h-31.80zM869.52,330.96h31.80v2.65h-31.80zM869.52,333.61h31.80v2.65h-31.80zM872.17,336.26h26.50v2.65h-26.50zM874.82,338.91h21.20v2.65h-21.20zM880.12,341.56h13.25v2.65h-13.25z" fill="#e23e99"/>
<path d="M921.53,312.46h10.60v2.65h-10.60zM916.23,315.11h21.20v2.65h-21.20zM913.58,317.76h26.50v2.65h-26.50zM913.58,320.41h29.15v2.65h-29.15zM910.93,323.06h34.45v2.65h-34.45zM910.93,325.71h34.45v2.65h-34.45zM910.93,328.36h34.45v2.65h-34.45zM910.93,331.01h31.80v2.65h-31.80zM910.93,333.66h31.80v2.65h-31.80zM910.93,336.31h29.15v2.65h-29.15zM913.58,338.96h21.20v2.65h-21.20zM918.88,341.61h10.60v2.65h-10.60z" fill="#d72e94"/>
<path d="M957.17,314.78h18.55v2.65h-18.55zM954.52,317.43h26.50v2.65h-26.50zM951.87,320.08h31.80v2.65h-31.80zM951.87,322.73h31.80v2.65h-31.80zM949.22,325.38h37.10v2.65h-37.10zM949.22,328.03h37.10v2.65h-37.10zM951.87,330.68h31.80v2.65h-31.80zM951.87,333.33h31.80v2.65h-31.80zM954.52,335.98h26.50v2.65h-26.50zM959.82,338.63h18.55v2.65h-18.55z" fill="#d72e94"/>
<path d="M999.18,314.25h21.20v2.65h-21.20zM996.53,316.90h29.15v2.65h-29.15zM993.88,319.55h31.80v2.65h-31.80zM991.23,322.20h34.45v2.65h-34.45zM991.23,324.85h37.10v2.65h-37.10zM991.23,327.50h34.45v2.65h-34.45zM993.88,330.15h31.80v2.65h-31.80zM993.88,332.80h31.80v2.65h-31.80zM996.53,335.45h26.50v2.65h-26.50zM999.18,338.10h21.20v2.65h-21.20zM1004.48,340.75h10.60v2.65h-10.60z" fill="#d72e94"/>
<path d="M1050.62,311.67h5.30v2.65h-5.30zM1042.67,314.32h18.55v2.65h-18.55zM1040.02,316.97h23.85v2.65h-23.85zM1037.37,319.62h29.15v2.65h-29.15zM1034.72,322.27h31.80v2.65h-31.80zM1034.72,324.92h31.80v2.65h-31.80zM1034.72,327.57h31.80v2.65h-31.80zM1034.72,330.22h31.80v2.65h-31.80zM1034.72,332.87h29.15v2.65h-29.15zM1037.37,335.52h23.85v2.65h-23.85zM1040.02,338.17h18.55v2.65h-18.55zM1045.32,340.82h7.95v2.65h-7.95z" fill="#d72e94"/>
<path d="M1081.59,312.10h15.90v2.65h-15.90zM1078.94,314.75h23.85v2.65h-23.85zM1076.29,317.40h29.15v2.65h-29.15zM1076.29,320.05h31.80v2.65h-31.80zM1076.29,322.70h31.80v2.65h-31.80zM1076.29,325.35h31.80v2.65h-31.80zM1076.29,328.00h34.45v2.65h-34.45zM1076.29,330.65h34.45v2.65h-34.45zM1076.29,333.30h31.80v2.65h-31.80zM1078.94,335.95h29.15v2.65h-29.15zM1081.59,338.60h23.85v2.65h-23.85zM1086.89,341.25h13.25v2.65h-13.25z" fill="#d72e94"/>
<path d="M840.40,349.55h5.30v2.65h-5.30zM835.10,352.20h18.55v2.65h-18.55zM829.80,354.85h29.15v2.65h-29.15zM829.80,357.50h29.15v2.65h-29.15zM827.15,360.15h34.45v2.65h-34.45zM827.15,362.80h34.45v2.65h-34.45zM827.15,365.45h34.45v2.65h-34.45zM827.15,368.10h31.80v2.65h-31.80zM827.15,370.75h29.15v2.65h-29.15zM827.15,373.40h26.50v2.65h-26.50zM829.80,376.05h21.20v2.65h-21.20zM835.10,378.70h10.60v2.65h-10.60z" fill="#c61c8b"/>
<path d="M884.69,349.23h7.95v2.65h-7.95zM876.74,351.88h21.20v2.65h-21.20zM871.44,354.53h29.15v2.65h-29.15zM868.79,357.18h31.80v2.65h-31.80zM868.79,359.83h31.80v2.65h-31.80zM866.14,362.48h34.45v2.65h-34.45zM866.14,365.13h34.45v2.65h-34.45zM868.79,367.78h31.80v2.65h-31.80zM868.79,370.43h29.15v2.65h-29.15zM871.44,373.08h26.50v2.65h-26.50zM874.09,375.73h21.20v2.65h-21.20zM879.39,378.38h10.60v2.65h-10.60z" fill="#bb0f85"/>
<path d="M924.27,349.28h7.95v2.65h-7.95zM916.32,351.93h21.20v2.65h-21.20zM913.67,354.58h29.15v2.65h-29.15zM911.02,357.23h31.80v2.65h-31.80zM911.02,359.88h34.45v2.65h-34.45zM911.02,362.53h34.45v2.65h-34.45zM911.02,365.18h34.45v2.65h-34.45zM911.02,367.83h31.80v2.65h-31.80zM911.02,370.48h31.80v2.65h-31.80zM913.67,373.13h26.50v2.65h-26.50zM913.67,375.78h21.20v2.65h-21.20zM918.97,378.43h10.60v2.65h-10.60z" fill="#c61c8b"/>
<path d="M957.27,352.15h18.55v2.65h-18.55zM954.62,354.80h26.50v2.65h-26.50zM951.97,357.45h31.80v2.65h-31.80zM951.97,360.10h31.80v2.65h-31.80zM951.97,362.75h31.80v2.65h-31.80zM951.97,365.40h31.80v2.65h-31.80zM951.97,368.05h31.80v2.65h-31.80zM954.62,370.70h29.15v2.65h-29.15zM954.62,373.35h26.50v2.65h-26.50zM959.92,376.00h18.55v2.65h-18.55zM965.22,378.65h7.95v2.65h-7.95z" fill="#c61c8b"/>
<path d="M1004.50,349.52h7.95v2.65h-7.95zM999.20,352.17h21.20v2.65h-21.20zM993.90,354.82h29.15v2.65h-29.15zM993.90,357.47h31.80v2.65h-31.80zM991.25,360.12h34.45v2.65h-34.45zM991.25,362.77h37.10v2.65h-37.10zM991.25,365.42h37.10v2.65h-37.10zM993.90,368.07h34.45v2.65h-34.45zM993.90,370.72h31.80v2.65h-31.80zM996.55,373.37h29.15v2.65h-29.15zM1001.85,376.02h21.20v2.65h-21.20zM1009.80,378.67h7.95v2.65h-7.95z" fill="#c61c8b"/>
<path d="M1043.05,349.60h15.90v2.65h-15.90zM1040.40,352.25h21.20v2.65h-21.20zM1037.75,354.90h26.50v2.65h-26.50zM1037.75,357.55h26.50v2.65h-26.50zM1035.10,360.20h31.80v2.65h-31.80zM1035.10,362.85h31.80v2.65h-31.80zM1035.10,365.50h31.80v2.65h-31.80zM1035.10,368.15h31.80v2.65h-31.80zM1035.10,370.80h31.80v2.65h-31.80zM1037.75,373.45h26.50v2.65h-26.50zM1040.40,376.10h21.20v2.65h-21.20zM1045.70,378.75h13.25v2.65h-13.25z" fill="#c61c8b"/>
<path d="M1084.61,349.15h15.90v2.65h-15.90zM1081.96,351.80h21.20v2.65h-21.20zM1079.31,354.45h26.50v2.65h-26.50zM1079.31,357.10h29.15v2.65h-29.15zM1076.66,359.75h31.80v2.65h-31.80zM1076.66,362.40h31.80v2.65h-31.80zM1076.66,365.05h31.80v2.65h-31.80zM1076.66,367.70h31.80v2.65h-31.80zM1076.66,370.35h31.80v2.65h-31.80zM1079.31,373.00h26.50v2.65h-26.50zM1079.31,375.65h23.85v2.65h-23.85zM1084.61,378.30h13.25v2.65h-13.25z" fill="#c61c8b"/>
<path d="M834.82,386.62h13.25v2.65h-13.25zM829.52,389.27h23.85v2.65h-23.85zM829.52,391.92h26.50v2.65h-26.50zM826.87,394.57h31.80v2.65h-31.80zM826.87,397.22h31.80v2.65h-31.80zM826.87,399.87h31.80v2.65h-31.80zM826.87,402.52h31.80v2.65h-31.80zM826.87,405.17h31.80v2.65h-31.80zM826.87,407.82h31.80v2.65h-31.80zM829.52,410.47h26.50v2.65h-26.50zM832.17,413.12h21.20v2.65h-21.20zM837.47,415.77h13.25v2.65h-13.25z" fill="#ca208d"/>
<path d="M882.79,386.57h10.60v2.65h-10.60zM874.84,389.22h23.85v2.65h-23.85zM872.19,391.87h29.15v2.65h-29.15zM869.54,394.52h31.80v2.65h-31.80zM866.89,397.17h34.45v2.65h-34.45zM866.89,399.82h34.45v2.65h-34.45zM866.89,402.47h34.45v2.65h-34.45zM869.54,405.12h31.80v2.65h-31.80zM869.54,407.77h31.80v2.65h-31.80zM872.19,410.42h26.50v2.65h-26.50zM874.84,413.07h21.20v2.65h-21.20zM880.14,415.72h13.25v2.65h-13.25z" fill="#bb0f85"/>
<path d="M918.51,386.66h10.60v2.65h-10.60zM913.21,389.31h23.85v2.65h-23.85zM910.56,391.96h29.15v2.65h-29.15zM907.91,394.61h34.45v2.65h-34.45zM907.91,397.26h34.45v2.65h-34.45zM907.91,399.91h37.10v2.65h-37.10zM907.91,402.56h37.10v2.65h-37.10zM910.56,405.21h34.45v2.65h-34.45zM910.56,407.86h31.80v2.65h-31.80zM913.21,410.51h29.15v2.65h-29.15zM918.51,413.16h21.20v2.65h-21.20zM923.81,415.81h10.60v2.65h-10.60z" fill="#bb0f85"/>
<path d="M965.51,387.09h5.30v2.65h-5.30zM957.56,389.74h21.20v2.65h-21.20zM954.91,392.39h26.50v2.65h-26.50zM952.26,395.04h31.80v2.65h-31.80zM952.26,397.69h31.80v2.65h-31.80zM949.61,400.34h37.10v2.65h-37.10zM949.61,402.99h37.10v2.65h-37.10zM952.26,405.64h31.80v2.65h-31.80zM952.26,408.29h31.80v2.65h-31.80zM954.91,410.94h26.50v2.65h-26.50zM957.56,413.59h21.20v2.65h-21.20zM962.86,416.24h10.60v2.65h-10.60z" fill="#bb0f85"/>
<path d="M1001.78,386.76h13.25v2.65h-13.25zM999.13,389.41h21.20v2.65h-21.20zM996.48,392.06h26.50v2.65h-26.50zM993.83,394.71h31.80v2.65h-31.80zM993.83,397.36h31.80v2.65h-31.80zM993.83,400.01h31.80v2.65h-31.80zM993.83,402.66h31.80v2.65h-31.80zM993.83,405.31h31.80v2.65h-31.80zM993.83,407.96h31.80v2.65h-31.80zM996.48,410.61h26.50v2.65h-26.50zM999.13,413.26h21.20v2.65h-21.20zM1004.43,415.91h13.25v2.65h-13.25z" fill="#bb0f85"/>
<path d="M1047.85,386.34h5.30v2.65h-5.30zM1039.90,388.99h21.20v2.65h-21.20zM1037.25,391.64h26.50v2.65h-26.50zM1034.60,394.29h31.80v2.65h-31.80zM1034.60,396.94h31.80v2.65h-31.80zM1034.60,399.59h31.80v2.65h-31.80zM1034.60,402.24h31.80v2.65h-31.80zM1034.60,404.89h31.80v2.65h-31.80zM1034.60,407.54h29.15v2.65h-29.15zM1037.25,410.19h26.50v2.65h-26.50zM1039.90,412.84h21.20v2.65h-21.20zM1042.55,415.49h13.25v2.65h-13.25z" fill="#bb0f85"/>
<path d="M1081.54,390.60h5.30v2.65h-5.30zM1078.89,393.25h10.60v2.65h-10.60zM1078.89,395.90h10.60v2.65h-10.60zM1078.89,398.55h10.60v2.65h-10.60zM1078.89,401.20h10.60v2.65h-10.60zM1078.89,403.85h10.60v2.65h-10.60zM1078.89,406.50h10.60v2.65h-10.60zM1081.54,409.15h5.30v2.65h-5.30z" fill="#bb0f85"/>
<path d="M1092.89,390.95h7.95v2.65h-7.95zM1090.24,393.60h13.25v2.65h-13.25zM1090.24,396.25h15.90v2.65h-15.90zM1090.24,398.90h15.90v2.65h-15.90zM1090.24,401.55h15.90v2.65h-15.90zM1090.24,404.20h15.90v2.65h-15.90zM1090.24,406.85h15.90v2.65h-15.90zM1092.89,409.50h13.25v2.65h-13.25zM1092.89,412.15h10.60v2.65h-10.60zM1095.54,414.80h7.95v2.65h-7.95z" fill="#bb0f85"/>
<rect x="1089.2" y="401.2" width="6" height="6" fill="#bb0f85"/>
<path d="M834.77,424.34h10.60v2.65h-10.60zM829.47,426.99h23.85v2.65h-23.85zM829.47,429.64h26.50v2.65h-26.50zM826.82,432.29h31.80v2.65h-31.80zM826.82,434.94h31.80v2.65h-31.80zM826.82,437.59h34.45v2.65h-34.45zM826.82,440.24h34.45v2.65h-34.45zM826.82,442.89h31.80v2.65h-31.80zM826.82,445.54h31.80v2.65h-31.80zM829.47,448.19h26.50v2.65h-26.50zM832.12,450.84h21.20v2.65h-21.20zM834.77,453.49h13.25v2.65h-13.25z" fill="#91017a"/>
<path d="M882.52,421.69h2.65v2.65h-2.65zM877.22,424.34h15.90v2.65h-15.90zM874.57,426.99h21.20v2.65h-21.20zM871.92,429.64h26.50v2.65h-26.50zM871.92,432.29h26.50v2.65h-26.50zM869.27,434.94h31.80v2.65h-31.80zM869.27,437.59h31.80v2.65h-31.80zM869.27,440.24h31.80v2.65h-31.80zM869.27,442.89h31.80v2.65h-31.80zM871.92,445.54h29.15v2.65h-29.15zM871.92,448.19h26.50v2.65h-26.50zM874.57,450.84h21.20v2.65h-21.20zM877.22,453.49h15.90v2.65h-15.90z" fill="#99017b"/>
<path d="M921.70,423.54h7.95v2.65h-7.95zM913.75,426.19h23.85v2.65h-23.85zM911.10,428.84h29.15v2.65h-29.15zM911.10,431.49h31.80v2.65h-31.80zM908.45,434.14h37.10v2.65h-37.10zM908.45,436.79h37.10v2.65h-37.10zM908.45,439.44h37.10v2.65h-37.10zM911.10,442.09h34.45v2.65h-34.45zM911.10,444.74h31.80v2.65h-31.80zM913.75,447.39h26.50v2.65h-26.50zM916.40,450.04h21.20v2.65h-21.20zM921.70,452.69h10.60v2.65h-10.60z" fill="#91017a"/>
<path d="M957.62,426.26h23.85v2.65h-23.85zM952.32,428.91h31.80v2.65h-31.80zM949.67,431.56h37.10v2.65h-37.10zM949.67,434.21h37.10v2.65h-37.10zM949.67,436.86h37.10v2.65h-37.10zM949.67,439.51h37.10v2.65h-37.10zM949.67,442.16h34.45v2.65h-34.45zM952.32,444.81h31.80v2.65h-31.80zM954.97,447.46h26.50v2.65h-26.50zM957.62,450.11h21.20v2.65h-21.20zM962.92,452.76h10.60v2.65h-10.60z" fill="#91017a"/>
<path d="M1003.76,423.82h13.25v2.65h-13.25zM998.46,426.47h23.85v2.65h-23.85zM995.81,429.12h29.15v2.65h-29.15zM993.16,431.77h31.80v2.65h-31.80zM993.16,434.42h34.45v2.65h-34.45zM993.16,437.07h34.45v2.65h-34.45zM990.51,439.72h34.45v2.65h-34.45zM993.16,442.37h31.80v2.65h-31.80zM993.16,445.02h31.80v2.65h-31.80zM993.16,447.67h29.15v2.65h-29.15zM995.81,450.32h23.85v2.65h-23.85zM1001.11,452.97h13.25v2.65h-13.25z" fill="#840178"/>
<path d="M1037.49,426.33h23.85v2.65h-23.85zM1034.84,428.98h31.80v2.65h-31.80zM1032.19,431.63h34.45v2.65h-34.45zM1032.19,434.28h37.10v2.65h-37.10zM1032.19,436.93h37.10v2.65h-37.10zM1032.19,439.58h37.10v2.65h-37.10zM1034.84,442.23h31.80v2.65h-31.80zM1034.84,444.88h31.80v2.65h-31.80zM1037.49,447.53h26.50v2.65h-26.50zM1040.14,450.18h21.20v2.65h-21.20zM1045.44,452.83h13.25v2.65h-13.25z" fill="#91017a"/>
<path d="M1087.55,423.89h13.25v2.65h-13.25zM1082.25,426.54h21.20v2.65h-21.20zM1079.60,429.19h26.50v2.65h-26.50zM1076.95,431.84h31.80v2.65h-31.80zM1076.95,434.49h31.80v2.65h-31.80zM1076.95,437.14h31.80v2.65h-31.80zM1076.95,439.79h31.80v2.65h-31.80zM1076.95,442.44h31.80v2.65h-31.80zM1076.95,445.09h31.80v2.65h-31.80zM1079.60,447.74h26.50v2.65h-26.50zM1082.25,450.39h21.20v2.65h-21.20zM1087.55,453.04h10.60v2.65h-10.60z" fill="#a2017c"/>
<line x1="755.6" y1="17.3" x2="826" y2="17.3" stroke="#999" stroke-width="1.6" stroke-dasharray="6,4" fill="none"/>
<line x1="837" y1="42" x2="736" y2="220" stroke="#999" stroke-width="1.6" stroke-dasharray="6,4" fill="none"/>
<line x1="780.8" y1="299.4" x2="1082" y2="429.6" stroke="#999" stroke-width="1.6" stroke-dasharray="6,4" fill="none"/>
<line x1="780.8" y1="450.8" x2="1100" y2="455" stroke="#999" stroke-width="1.6" stroke-dasharray="6,4" fill="none"/>
<rect x="1126.3" y="14.1" width="22" height="440" fill="url(#bgrad_b)" stroke="#333" stroke-width="0.9"/>
<line x1="1148.3" y1="410.1" x2="1150.8" y2="410.1" stroke="#333" stroke-width="0.9"/>
<text x="1153.3" y="416" font-size="16.3" class="t">1.8</text>
<line x1="1148.3" y1="322.1" x2="1150.8" y2="322.1" stroke="#333" stroke-width="0.9"/>
<text x="1153.3" y="328" font-size="16.3" class="t">2.0</text>
<line x1="1148.3" y1="234.1" x2="1150.8" y2="234.1" stroke="#333" stroke-width="0.9"/>
<text x="1153.3" y="240" font-size="16.3" class="t">2.2</text>
<line x1="1148.3" y1="146.1" x2="1150.8" y2="146.1" stroke="#333" stroke-width="0.9"/>
<text x="1153.3" y="152" font-size="16.3" class="t">2.4</text>
<line x1="1148.3" y1="58.1" x2="1150.8" y2="58.1" stroke="#333" stroke-width="0.9"/>
<text x="1153.3" y="64" font-size="16.3" class="t">2.6</text>
<text transform="translate(1188.5,234) rotate(90)" font-size="22.2" text-anchor="middle" class="t">Bandgap (eV)</text>
<text x="1243.2" y="33.2" font-size="39" font-weight="bold" class="t">c</text>
<rect x="1395.86" y="70.20" width="14.17" height="15.38" fill="#f67aa8" shape-rendering="crispEdges"/>
<rect x="1409.43" y="70.20" width="14.17" height="15.38" fill="#f685aa" shape-rendering="crispEdges"/>
<rect x="1423.00" y="70.20" width="14.17" height="15.38" fill="#f478a8" shape-rendering="crispEdges"/>
<rect x="1436.57" y="70.20" width="14.17" height="15.38" fill="#f26ea5" shape-rendering="crispEdges"/>
<rect x="1450.14" y="70.20" width="14.17" height="15.38" fill="#f065a2" shape-rendering="crispEdges"/>
<rect x="1463.71" y="70.20" width="14.17" height="15.38" fill="#f89cb5" shape-rendering="crispEdges"/>
<rect x="1368.72" y="84.98" width="14.17" height="15.38" fill="#ee5ea0" shape-rendering="crispEdges"/>
<rect x="1382.29" y="84.98" width="14.17" height="15.38" fill="#f068a4" shape-rendering="crispEdges"/>
<rect x="1395.86" y="84.98" width="14.17" height="15.38" fill="#ee5ea0" shape-rendering="crispEdges"/>
<rect x="1409.43" y="84.98" width="14.17" height="15.38" fill="#e5459a" shape-rendering="crispEdges"/>
<rect x="1423.00" y="84.98" width="14.17" height="15.38" fill="#f060a0" shape-rendering="crispEdges"/>
<rect x="1436.57" y="84.98" width="14.17" height="15.38" fill="#f060a0" shape-rendering="crispEdges"/>
<rect x="1450.14" y="84.98" width="14.17" height="15.38" fill="#f270a6" shape-rendering="crispEdges"/>
<rect x="1463.71" y="84.98" width="14.17" height="15.38" fill="#f678a8" shape-rendering="crispEdges"/>
<rect x="1477.28" y="84.98" width="14.17" height="15.38" fill="#f67aa8" shape-rendering="crispEdges"/>
<rect x="1490.85" y="84.98" width="14.17" height="15.38" fill="#f8a0b5" shape-rendering="crispEdges"/>
<rect x="1355.15" y="99.76" width="14.17" height="15.38" fill="#f060a0" shape-rendering="crispEdges"/>
<rect x="1368.72" y="99.76" width="14.17" height="15.38" fill="#ec55a0" shape-rendering="crispEdges"/>
<rect x="1382.29" y="99.76" width="14.17" height="15.38" fill="#ec55a0" shape-rendering="crispEdges"/>
<rect x="1395.86" y="99.76" width="14.17" height="15.38" fill="#ec55a0" shape-rendering="crispEdges"/>
<rect x="1409.43" y="99.76" width="14.17" height="15.38" fill="#e44a9c" shape-rendering="crispEdges"/>
<rect x="1423.00" y="99.76" width="14.17" height="15.38" fill="#e84e9e" shape-rendering="crispEdges"/>
<rect x="1436.57" y="99.76" width="14.17" height="15.38" fill="#ec55a0" shape-rendering="crispEdges"/>
<rect x="1450.14" y="99.76" width="14.17" height="15.38" fill="#ee5ea0" shape-rendering="crispEdges"/>
<rect x="1463.71" y="99.76" width="14.17" height="15.38" fill="#f068a4" shape-rendering="crispEdges"/>
<rect x="1477.28" y="99.76" width="14.17" height="15.38" fill="#f070a6" shape-rendering="crispEdges"/>
<rect x="1490.85" y="99.76" width="14.17" height="15.38" fill="#f070a6" shape-rendering="crispEdges"/>
<rect x="1504.42" y="99.76" width="14.17" height="15.38" fill="#fbb4bc" shape-rendering="crispEdges"/>
<rect x="1341.58" y="114.54" width="14.17" height="15.38" fill="#e5479c" shape-rendering="crispEdges"/>
<rect x="1355.15" y="114.54" width="14.17" height="15.38" fill="#e5479c" shape-rendering="crispEdges"/>
<rect x="1368.72" y="114.54" width="14.17" height="15.38" fill="#e0409a" shape-rendering="crispEdges"/>
<rect x="1382.29" y="114.54" width="14.17" height="15.38" fill="#dd3597" shape-rendering="crispEdges"/>
<rect x="1395.86" y="114.54" width="14.17" height="15.38" fill="#dd3597" shape-rendering="crispEdges"/>
<rect x="1409.43" y="114.54" width="14.17" height="15.38" fill="#dd3597" shape-rendering="crispEdges"/>
<rect x="1423.00" y="114.54" width="14.17" height="15.38" fill="#dc3296" shape-rendering="crispEdges"/>
<rect x="1436.57" y="114.54" width="14.17" height="15.38" fill="#e03a98" shape-rendering="crispEdges"/>
<rect x="1450.14" y="114.54" width="14.17" height="15.38" fill="#e5479c" shape-rendering="crispEdges"/>
<rect x="1463.71" y="114.54" width="14.17" height="15.38" fill="#ec55a0" shape-rendering="crispEdges"/>
<rect x="1477.28" y="114.54" width="14.17" height="15.38" fill="#f065a2" shape-rendering="crispEdges"/>
<rect x="1490.85" y="114.54" width="14.17" height="15.38" fill="#f065a2" shape-rendering="crispEdges"/>
<rect x="1504.42" y="114.54" width="14.17" height="15.38" fill="#f268a4" shape-rendering="crispEdges"/>
<rect x="1517.99" y="114.54" width="14.17" height="15.38" fill="#fbb8bc" shape-rendering="crispEdges"/>
<rect x="1328.01" y="129.32" width="14.17" height="15.38" fill="#e84e9e" shape-rendering="crispEdges"/>
<rect x="1341.58" y="129.32" width="14.17" height="15.38" fill="#c0128c" shape-rendering="crispEdges"/>
<rect x="1355.15" y="129.32" width="14.17" height="15.38" fill="#dd3597" shape-rendering="crispEdges"/>
<rect x="1368.72" y="129.32" width="14.17" height="15.38" fill="#dd3597" shape-rendering="crispEdges"/>
<rect x="1382.29" y="129.32" width="14.17" height="15.38" fill="#dd3597" shape-rendering="crispEdges"/>
<rect x="1395.86" y="129.32" width="14.17" height="15.38" fill="#e0409a" shape-rendering="crispEdges"/>
<rect x="1409.43" y="129.32" width="14.17" height="15.38" fill="#e5479c" shape-rendering="crispEdges"/>
<rect x="1423.00" y="129.32" width="14.17" height="15.38" fill="#e5479c" shape-rendering="crispEdges"/>
<rect x="1436.57" y="129.32" width="14.17" height="15.38" fill="#e5479c" shape-rendering="crispEdges"/>
<rect x="1450.14" y="129.32" width="14.17" height="15.38" fill="#e5479c" shape-rendering="crispEdges"/>
<rect x="1463.71" y="129.32" width="14.17" height="15.38" fill="#e5479c" shape-rendering="crispEdges"/>
<rect x="1477.28" y="129.32" width="14.17" height="15.38" fill="#ee5ea0" shape-rendering="crispEdges"/>
<rect x="1490.85" y="129.32" width="14.17" height="15.38" fill="#ec55a0" shape-rendering="crispEdges"/>
<rect x="1504.42" y="129.32" width="14.17" height="15.38" fill="#f070a6" shape-rendering="crispEdges"/>
<rect x="1517.99" y="129.32" width="14.17" height="15.38" fill="#f78aaa" shape-rendering="crispEdges"/>
<rect x="1314.44" y="144.10" width="14.17" height="15.38" fill="#e5479c" shape-rendering="crispEdges"/>
<rect x="1328.01" y="144.10" width="14.17" height="15.38" fill="#dd3597" shape-rendering="crispEdges"/>
<rect x="1341.58" y="144.10" width="14.17" height="15.38" fill="#d8309a" shape-rendering="crispEdges"/>
<rect x="1355.15" y="144.10" width="14.17" height="15.38" fill="#dd3597" shape-rendering="crispEdges"/>
<rect x="1368.72" y="144.10" width="14.17" height="15.38" fill="#e84e9e" shape-rendering="crispEdges"/>
<rect x="1382.29" y="144.10" width="14.17" height="15.38" fill="#f060a0" shape-rendering="crispEdges"/>
<rect x="1395.86" y="144.10" width="14.17" height="15.38" fill="#f065a2" shape-rendering="crispEdges"/>
<rect x="1409.43" y="144.10" width="14.17" height="15.38" fill="#f065a2" shape-rendering="crispEdges"/>
<rect x="1423.00" y="144.10" width="14.17" height="15.38" fill="#f065a2" shape-rendering="crispEdges"/>
<rect x="1436.57" y="144.10" width="14.17" height="15.38" fill="#f065a2" shape-rendering="crispEdges"/>
<rect x="1450.14" y="144.10" width="14.17" height="15.38" fill="#f065a2" shape-rendering="crispEdges"/>
<rect x="1463.71" y="144.10" width="14.17" height="15.38" fill="#ec55a0" shape-rendering="crispEdges"/>
<rect x="1477.28" y="144.10" width="14.17" height="15.38" fill="#e03a98" shape-rendering="crispEdges"/>
<rect x="1490.85" y="144.10" width="14.17" height="15.38" fill="#ec55a0" shape-rendering="crispEdges"/>
<rect x="1504.42" y="144.10" width="14.17" height="15.38" fill="#f065a2" shape-rendering="crispEdges"/>
<rect x="1517.99" y="144.10" width="14.17" height="15.38" fill="#f065a2" shape-rendering="crispEdges"/>
<rect x="1531.56" y="144.10" width="14.17" height="15.38" fill="#f9a8b8" shape-rendering="crispEdges"/>
<rect x="1300.87" y="158.88" width="14.17" height="15.38" fill="#e5479c" shape-rendering="crispEdges"/>
<rect x="1314.44" y="158.88" width="14.17" height="15.38" fill="#e0409a" shape-rendering="crispEdges"/>
<rect x="1328.01" y="158.88" width="14.17" height="15.38" fill="#dd3597" shape-rendering="crispEdges"/>
<rect x="1341.58" y="158.88" width="14.17" height="15.38" fill="#e5479c" shape-rendering="crispEdges"/>
<rect x="1355.15" y="158.88" width="14.17" height="15.38" fill="#ee5ea0" shape-rendering="crispEdges"/>
<rect x="1368.72" y="158.88" width="14.17" height="15.38" fill="#ee5ea0" shape-rendering="crispEdges"/>
<rect x="1382.29" y="158.88" width="14.17" height="15.38" fill="#f065a2" shape-rendering="crispEdges"/>
<rect x="1395.86" y="158.88" width="14.17" height="15.38" fill="#f065a2" shape-rendering="crispEdges"/>
<rect x="1409.43" y="158.88" width="14.17" height="15.38" fill="#f065a2" shape-rendering="crispEdges"/>
<rect x="1423.00" y="158.88" width="14.17" height="15.38" fill="#ee5ea0" shape-rendering="crispEdges"/>
<rect x="1436.57" y="158.88" width="14.17" height="15.38" fill="#ee5ea0" shape-rendering="crispEdges"/>
<rect x="1450.14" y="158.88" width="14.17" height="15.38" fill="#f068a4" shape-rendering="crispEdges"/>
<rect x="1463.71" y="158.88" width="14.17" height="15.38" fill="#ec55a0" shape-rendering="crispEdges"/>
<rect x="1477.28" y="158.88" width="14.17" height="15.38" fill="#e84e9e" shape-rendering="crispEdges"/>
<rect x="1490.85" y="158.88" width="14.17" height="15.38" fill="#ec55a0" shape-rendering="crispEdges"/>
<rect x="1504.42" y="158.88" width="14.17" height="15.38" fill="#f065a2" shape-rendering="crispEdges"/>
<rect x="1517.99" y="158.88" width="14.17" height="15.38" fill="#f065a2" shape-rendering="crispEdges"/>
<rect x="1531.56" y="158.88" width="14.17" height="15.38" fill="#f890b0" shape-rendering="crispEdges"/>
<rect x="1300.87" y="173.66" width="14.17" height="15.38" fill="#ec55a0" shape-rendering="crispEdges"/>
<rect x="1314.44" y="173.66" width="14.17" height="15.38" fill="#c0168e" shape-rendering="crispEdges"/>
<rect x="1328.01" y="173.66" width="14.17" height="15.38" fill="#e5479c" shape-rendering="crispEdges"/>
<rect x="1341.58" y="173.66" width="14.17" height="15.38" fill="#f060a0" shape-rendering="crispEdges"/>
<rect x="1355.15" y="173.66" width="14.17" height="15.38" fill="#f065a2" shape-rendering="crispEdges"/>
<rect x="1368.72" y="173.66" width="14.17" height="15.38" fill="#ee5ea0" shape-rendering="crispEdges"/>
<rect x="1382.29" y="173.66" width="14.17" height="15.38" fill="#ec55a0" shape-rendering="crispEdges"/>
<rect x="1395.86" y="173.66" width="14.17" height="15.38" fill="#e5479c" shape-rendering="crispEdges"/>
<rect x="1409.43" y="173.66" width="14.17" height="15.38" fill="#e5479c" shape-rendering="crispEdges"/>
<rect x="1423.00" y="173.66" width="14.17" height="15.38" fill="#e0409a" shape-rendering="crispEdges"/>
<rect x="1436.57" y="173.66" width="14.17" height="15.38" fill="#e0409a" shape-rendering="crispEdges"/>
<rect x="1450.14" y="173.66" width="14.17" height="15.38" fill="#e5479c" shape-rendering="crispEdges"/>
<rect x="1463.71" y="173.66" width="14.17" height="15.38" fill="#ee5ea0" shape-rendering="crispEdges"/>
<rect x="1477.28" y="173.66" width="14.17" height="15.38" fill="#f065a2" shape-rendering="crispEdges"/>
<rect x="1490.85" y="173.66" width="14.17" height="15.38" fill="#f065a2" shape-rendering="crispEdges"/>
<rect x="1504.42" y="173.66" width="14.17" height="15.38" fill="#ee5ea0" shape-rendering="crispEdges"/>
<rect x="1517.99" y="173.66" width="14.17" height="15.38" fill="#f065a2" shape-rendering="crispEdges"/>
<rect x="1531.56" y="173.66" width="14.17" height="15.38" fill="#f06aa4" shape-rendering="crispEdges"/>
<rect x="1545.13" y="173.66" width="14.17" height="15.38" fill="#fbb8bc" shape-rendering="crispEdges"/>
<rect x="1287.30" y="188.44" width="14.17" height="15.38" fill="#e0409a" shape-rendering="crispEdges"/>
<rect x="1300.87" y="188.44" width="14.17" height="15.38" fill="#e0409a" shape-rendering="crispEdges"/>
<rect x="1314.44" y="188.44" width="14.17" height="15.38" fill="#e0409a" shape-rendering="crispEdges"/>
<rect x="1328.01" y="188.44" width="14.17" height="15.38" fill="#f060a0" shape-rendering="crispEdges"/>
<rect x="1341.58" y="188.44" width="14.17" height="15.38" fill="#f065a2" shape-rendering="crispEdges"/>
<rect x="1355.15" y="188.44" width="14.17" height="15.38" fill="#ee5ea0" shape-rendering="crispEdges"/>
<rect x="1368.72" y="188.44" width="14.17" height="15.38" fill="#e84e9e" shape-rendering="crispEdges"/>
<rect x="1382.29" y="188.44" width="14.17" height="15.38" fill="#e84e9e" shape-rendering="crispEdges"/>
<rect x="1395.86" y="188.44" width="14.17" height="15.38" fill="#e5479c" shape-rendering="crispEdges"/>
<rect x="1409.43" y="188.44" width="14.17" height="15.38" fill="#e0409a" shape-rendering="crispEdges"/>
<rect x="1423.00" y="188.44" width="14.17" height="15.38" fill="#e0409a" shape-rendering="crispEdges"/>
<rect x="1436.57" y="188.44" width="14.17" height="15.38" fill="#dd3a98" shape-rendering="crispEdges"/>
<rect x="1450.14" y="188.44" width="14.17" height="15.38" fill="#e0409a" shape-rendering="crispEdges"/>
<rect x="1463.71" y="188.44" width="14.17" height="15.38" fill="#e5479c" shape-rendering="crispEdges"/>
<rect x="1477.28" y="188.44" width="14.17" height="15.38" fill="#ec55a0" shape-rendering="crispEdges"/>
<rect x="1490.85" y="188.44" width="14.17" height="15.38" fill="#f065a2" shape-rendering="crispEdges"/>
<rect x="1504.42" y="188.44" width="14.17" height="15.38" fill="#f065a2" shape-rendering="crispEdges"/>
<rect x="1517.99" y="188.44" width="14.17" height="15.38" fill="#f068a4" shape-rendering="crispEdges"/>
<rect x="1531.56" y="188.44" width="14.17" height="15.38" fill="#f070a6" shape-rendering="crispEdges"/>
<rect x="1545.13" y="188.44" width="14.17" height="15.38" fill="#fbb8bc" shape-rendering="crispEdges"/>
<rect x="1287.30" y="203.22" width="14.17" height="15.38" fill="#e0409a" shape-rendering="crispEdges"/>
<rect x="1300.87" y="203.22" width="14.17" height="15.38" fill="#dc3597" shape-rendering="crispEdges"/>
<rect x="1314.44" y="203.22" width="14.17" height="15.38" fill="#e84e9e" shape-rendering="crispEdges"/>
<rect x="1328.01" y="203.22" width="14.17" height="15.38" fill="#f268a4" shape-rendering="crispEdges"/>
<rect x="1341.58" y="203.22" width="14.17" height="15.38" fill="#e84e9e" shape-rendering="crispEdges"/>
<rect x="1355.15" y="203.22" width="14.17" height="15.38" fill="#e84e9e" shape-rendering="crispEdges"/>
<rect x="1368.72" y="203.22" width="14.17" height="15.38" fill="#ec55a0" shape-rendering="crispEdges"/>
<rect x="1382.29" y="203.22" width="14.17" height="15.38" fill="#e5479c" shape-rendering="crispEdges"/>
<rect x="1395.86" y="203.22" width="14.17" height="15.38" fill="#e5479c" shape-rendering="crispEdges"/>
<rect x="1409.43" y="203.22" width="14.17" height="15.38" fill="#e5479c" shape-rendering="crispEdges"/>
<rect x="1423.00" y="203.22" width="14.17" height="15.38" fill="#e84e9e" shape-rendering="crispEdges"/>
<rect x="1436.57" y="203.22" width="14.17" height="15.38" fill="#e0409a" shape-rendering="crispEdges"/>
<rect x="1450.14" y="203.22" width="14.17" height="15.38" fill="#dd3597" shape-rendering="crispEdges"/>
<rect x="1463.71" y="203.22" width="14.17" height="15.38" fill="#e0409a" shape-rendering="crispEdges"/>
<rect x="1477.28" y="203.22" width="14.17" height="15.38" fill="#dd3597" shape-rendering="crispEdges"/>
<rect x="1490.85" y="203.22" width="14.17" height="15.38" fill="#ec55a0" shape-rendering="crispEdges"/>
<rect x="1504.42" y="203.22" width="14.17" height="15.38" fill="#f065a2" shape-rendering="crispEdges"/>
<rect x="1517.99" y="203.22" width="14.17" height="15.38" fill="#f068a4" shape-rendering="crispEdges"/>
<rect x="1531.56" y="203.22" width="14.17" height="15.38" fill="#f78aaa" shape-rendering="crispEdges"/>
<rect x="1545.13" y="203.22" width="14.17" height="15.38" fill="#fbb0b8" shape-rendering="crispEdges"/>
<rect x="1287.30" y="218.00" width="14.17" height="15.38" fill="#dd3597" shape-rendering="crispEdges"/>
<rect x="1300.87" y="218.00" width="14.17" height="15.38" fill="#e0409a" shape-rendering="crispEdges"/>
<rect x="1314.44" y="218.00" width="14.17" height="15.38" fill="#f065a2" shape-rendering="crispEdges"/>
<rect x="1328.01" y="218.00" width="14.17" height="15.38" fill="#ec55a0" shape-rendering="crispEdges"/>
<rect x="1341.58" y="218.00" width="14.17" height="15.38" fill="#ec55a0" shape-rendering="crispEdges"/>
<rect x="1355.15" y="218.00" width="14.17" height="15.38" fill="#ec55a0" shape-rendering="crispEdges"/>
<rect x="1368.72" y="218.00" width="14.17" height="15.38" fill="#f060a0" shape-rendering="crispEdges"/>
<rect x="1382.29" y="218.00" width="14.17" height="15.38" fill="#f060a0" shape-rendering="crispEdges"/>
<rect x="1395.86" y="218.00" width="14.17" height="15.38" fill="#f060a0" shape-rendering="crispEdges"/>
<rect x="1409.43" y="218.00" width="14.17" height="15.38" fill="#ec55a0" shape-rendering="crispEdges"/>
<rect x="1423.00" y="218.00" width="14.17" height="15.38" fill="#ee5ea0" shape-rendering="crispEdges"/>
<rect x="1436.57" y="218.00" width="14.17" height="15.38" fill="#ec55a0" shape-rendering="crispEdges"/>
<rect x="1450.14" y="218.00" width="14.17" height="15.38" fill="#ec55a0" shape-rendering="crispEdges"/>
<rect x="1463.71" y="218.00" width="14.17" height="15.38" fill="#ec55a0" shape-rendering="crispEdges"/>
<rect x="1477.28" y="218.00" width="14.17" height="15.38" fill="#dd3597" shape-rendering="crispEdges"/>
<rect x="1490.85" y="218.00" width="14.17" height="15.38" fill="#e84e9e" shape-rendering="crispEdges"/>
<rect x="1504.42" y="218.00" width="14.17" height="15.38" fill="#f065a2" shape-rendering="crispEdges"/>
<rect x="1517.99" y="218.00" width="14.17" height="15.38" fill="#f480aa" shape-rendering="crispEdges"/>
<rect x="1531.56" y="218.00" width="14.17" height="15.38" fill="#f78aaa" shape-rendering="crispEdges"/>
<rect x="1545.13" y="218.00" width="14.17" height="15.38" fill="#fbb0b8" shape-rendering="crispEdges"/>
<rect x="1300.87" y="232.78" width="14.17" height="15.38" fill="#e0409a" shape-rendering="crispEdges"/>
<rect x="1314.44" y="232.78" width="14.17" height="15.38" fill="#f065a2" shape-rendering="crispEdges"/>
<rect x="1328.01" y="232.78" width="14.17" height="15.38" fill="#ec55a0" shape-rendering="crispEdges"/>
<rect x="1341.58" y="232.78" width="14.17" height="15.38" fill="#ec55a0" shape-rendering="crispEdges"/>
<rect x="1355.15" y="232.78" width="14.17" height="15.38" fill="#f065a2" shape-rendering="crispEdges"/>
<rect x="1368.72" y="232.78" width="14.17" height="15.38" fill="#f060a0" shape-rendering="crispEdges"/>
<rect x="1382.29" y="232.78" width="14.17" height="15.38" fill="#f060a0" shape-rendering="crispEdges"/>
<rect x="1395.86" y="232.78" width="14.17" height="15.38" fill="#f065a2" shape-rendering="crispEdges"/>
<rect x="1409.43" y="232.78" width="14.17" height="15.38" fill="#f47aa8" shape-rendering="crispEdges"/>
<rect x="1423.00" y="232.78" width="14.17" height="15.38" fill="#f47aa8" shape-rendering="crispEdges"/>
<rect x="1436.57" y="232.78" width="14.17" height="15.38" fill="#f680aa" shape-rendering="crispEdges"/>
<rect x="1450.14" y="232.78" width="14.17" height="15.38" fill="#f474a6" shape-rendering="crispEdges"/>
<rect x="1463.71" y="232.78" width="14.17" height="15.38" fill="#f270a6" shape-rendering="crispEdges"/>
<rect x="1477.28" y="232.78" width="14.17" height="15.38" fill="#e84e9e" shape-rendering="crispEdges"/>
<rect x="1490.85" y="232.78" width="14.17" height="15.38" fill="#dd3597" shape-rendering="crispEdges"/>
<rect x="1504.42" y="232.78" width="14.17" height="15.38" fill="#f065a2" shape-rendering="crispEdges"/>
<rect x="1517.99" y="232.78" width="14.17" height="15.38" fill="#f480aa" shape-rendering="crispEdges"/>
<rect x="1531.56" y="232.78" width="14.17" height="15.38" fill="#f890b0" shape-rendering="crispEdges"/>
<rect x="1300.87" y="247.56" width="14.17" height="15.38" fill="#ee5ea0" shape-rendering="crispEdges"/>
<rect x="1314.44" y="247.56" width="14.17" height="15.38" fill="#f065a2" shape-rendering="crispEdges"/>
<rect x="1328.01" y="247.56" width="14.17" height="15.38" fill="#ec55a0" shape-rendering="crispEdges"/>
<rect x="1341.58" y="247.56" width="14.17" height="15.38" fill="#f065a2" shape-rendering="crispEdges"/>
<rect x="1355.15" y="247.56" width="14.17" height="15.38" fill="#f685aa" shape-rendering="crispEdges"/>
<rect x="1368.72" y="247.56" width="14.17" height="15.38" fill="#f474a6" shape-rendering="crispEdges"/>
<rect x="1382.29" y="247.56" width="14.17" height="15.38" fill="#f474a6" shape-rendering="crispEdges"/>
<rect x="1395.86" y="247.56" width="14.17" height="15.38" fill="#f685aa" shape-rendering="crispEdges"/>
<rect x="1409.43" y="247.56" width="14.17" height="15.38" fill="#f9b0b8" shape-rendering="crispEdges"/>
<rect x="1423.00" y="247.56" width="14.17" height="15.38" fill="#f9b0b8" shape-rendering="crispEdges"/>
<rect x="1436.57" y="247.56" width="14.17" height="15.38" fill="#f8a4b5" shape-rendering="crispEdges"/>
<rect x="1450.14" y="247.56" width="14.17" height="15.38" fill="#f78eaf" shape-rendering="crispEdges"/>
<rect x="1463.71" y="247.56" width="14.17" height="15.38" fill="#f78eaf" shape-rendering="crispEdges"/>
<rect x="1477.28" y="247.56" width="14.17" height="15.38" fill="#e84e9e" shape-rendering="crispEdges"/>
<rect x="1490.85" y="247.56" width="14.17" height="15.38" fill="#e5479c" shape-rendering="crispEdges"/>
<rect x="1504.42" y="247.56" width="14.17" height="15.38" fill="#ee5ea0" shape-rendering="crispEdges"/>
<rect x="1517.99" y="247.56" width="14.17" height="15.38" fill="#f480aa" shape-rendering="crispEdges"/>
<rect x="1531.56" y="247.56" width="14.17" height="15.38" fill="#f8a0b5" shape-rendering="crispEdges"/>
<rect x="1314.44" y="262.34" width="14.17" height="15.38" fill="#f065a2" shape-rendering="crispEdges"/>
<rect x="1328.01" y="262.34" width="14.17" height="15.38" fill="#ec55a0" shape-rendering="crispEdges"/>
<rect x="1341.58" y="262.34" width="14.17" height="15.38" fill="#f47aa8" shape-rendering="crispEdges"/>
<rect x="1355.15" y="262.34" width="14.17" height="15.38" fill="#f685aa" shape-rendering="crispEdges"/>
<rect x="1368.72" y="262.34" width="14.17" height="15.38" fill="#f685aa" shape-rendering="crispEdges"/>
<rect x="1382.29" y="262.34" width="14.17" height="15.38" fill="#f78eaf" shape-rendering="crispEdges"/>
<rect x="1395.86" y="262.34" width="14.17" height="15.38" fill="#f8a0b5" shape-rendering="crispEdges"/>
<rect x="1409.43" y="262.34" width="14.17" height="15.38" fill="#f78eaf" shape-rendering="crispEdges"/>
<rect x="1423.00" y="262.34" width="14.17" height="15.38" fill="#f8a4b5" shape-rendering="crispEdges"/>
<rect x="1436.57" y="262.34" width="14.17" height="15.38" fill="#f8a4b5" shape-rendering="crispEdges"/>
<rect x="1450.14" y="262.34" width="14.17" height="15.38" fill="#f47aa8" shape-rendering="crispEdges"/>
<rect x="1463.71" y="262.34" width="14.17" height="15.38" fill="#ee5ea0" shape-rendering="crispEdges"/>
<rect x="1477.28" y="262.34" width="14.17" height="15.38" fill="#e84e9e" shape-rendering="crispEdges"/>
<rect x="1490.85" y="262.34" width="14.17" height="15.38" fill="#e5479c" shape-rendering="crispEdges"/>
<rect x="1504.42" y="262.34" width="14.17" height="15.38" fill="#e84e9e" shape-rendering="crispEdges"/>
<rect x="1517.99" y="262.34" width="14.17" height="15.38" fill="#f480aa" shape-rendering="crispEdges"/>
<rect x="1314.44" y="277.12" width="14.17" height="15.38" fill="#f685aa" shape-rendering="crispEdges"/>
<rect x="1328.01" y="277.12" width="14.17" height="15.38" fill="#ec55a0" shape-rendering="crispEdges"/>
<rect x="1341.58" y="277.12" width="14.17" height="15.38" fill="#f065a2" shape-rendering="crispEdges"/>
<rect x="1355.15" y="277.12" width="14.17" height="15.38" fill="#f685aa" shape-rendering="crispEdges"/>
<rect x="1368.72" y="277.12" width="14.17" height="15.38" fill="#f9aab8" shape-rendering="crispEdges"/>
<rect x="1382.29" y="277.12" width="14.17" height="15.38" fill="#f8a0b5" shape-rendering="crispEdges"/>
<rect x="1395.86" y="277.12" width="14.17" height="15.38" fill="#f9a8b8" shape-rendering="crispEdges"/>
<rect x="1409.43" y="277.12" width="14.17" height="15.38" fill="#f8a0b5" shape-rendering="crispEdges"/>
<rect x="1423.00" y="277.12" width="14.17" height="15.38" fill="#f685aa" shape-rendering="crispEdges"/>
<rect x="1436.57" y="277.12" width="14.17" height="15.38" fill="#f68caf" shape-rendering="crispEdges"/>
<rect x="1450.14" y="277.12" width="14.17" height="15.38" fill="#f78eaf" shape-rendering="crispEdges"/>
<rect x="1463.71" y="277.12" width="14.17" height="15.38" fill="#f47aa8" shape-rendering="crispEdges"/>
<rect x="1477.28" y="277.12" width="14.17" height="15.38" fill="#e84e9e" shape-rendering="crispEdges"/>
<rect x="1490.85" y="277.12" width="14.17" height="15.38" fill="#e5479c" shape-rendering="crispEdges"/>
<rect x="1504.42" y="277.12" width="14.17" height="15.38" fill="#ec55a0" shape-rendering="crispEdges"/>
<rect x="1517.99" y="277.12" width="14.17" height="15.38" fill="#f270a6" shape-rendering="crispEdges"/>
<rect x="1328.01" y="291.90" width="14.17" height="15.38" fill="#ee5ea0" shape-rendering="crispEdges"/>
<rect x="1341.58" y="291.90" width="14.17" height="15.38" fill="#ec55a0" shape-rendering="crispEdges"/>
<rect x="1355.15" y="291.90" width="14.17" height="15.38" fill="#f474a6" shape-rendering="crispEdges"/>
<rect x="1368.72" y="291.90" width="14.17" height="15.38" fill="#f68caf" shape-rendering="crispEdges"/>
<rect x="1382.29" y="291.90" width="14.17" height="15.38" fill="#f47aa8" shape-rendering="crispEdges"/>
<rect x="1395.86" y="291.90" width="14.17" height="15.38" fill="#f78eaf" shape-rendering="crispEdges"/>
<rect x="1409.43" y="291.90" width="14.17" height="15.38" fill="#f685aa" shape-rendering="crispEdges"/>
<rect x="1423.00" y="291.90" width="14.17" height="15.38" fill="#f480aa" shape-rendering="crispEdges"/>
<rect x="1436.57" y="291.90" width="14.17" height="15.38" fill="#f685aa" shape-rendering="crispEdges"/>
<rect x="1450.14" y="291.90" width="14.17" height="15.38" fill="#f474a6" shape-rendering="crispEdges"/>
<rect x="1463.71" y="291.90" width="14.17" height="15.38" fill="#f270a6" shape-rendering="crispEdges"/>
<rect x="1477.28" y="291.90" width="14.17" height="15.38" fill="#e84e9e" shape-rendering="crispEdges"/>
<rect x="1490.85" y="291.90" width="14.17" height="15.38" fill="#e5479c" shape-rendering="crispEdges"/>
<rect x="1504.42" y="291.90" width="14.17" height="15.38" fill="#e84e9e" shape-rendering="crispEdges"/>
<rect x="1341.58" y="306.68" width="14.17" height="15.38" fill="#f060a0" shape-rendering="crispEdges"/>
<rect x="1355.15" y="306.68" width="14.17" height="15.38" fill="#ee5ea0" shape-rendering="crispEdges"/>
<rect x="1368.72" y="306.68" width="14.17" height="15.38" fill="#f270a6" shape-rendering="crispEdges"/>
<rect x="1382.29" y="306.68" width="14.17" height="15.38" fill="#f890b0" shape-rendering="crispEdges"/>
<rect x="1395.86" y="306.68" width="14.17" height="15.38" fill="#f8a0b5" shape-rendering="crispEdges"/>
<rect x="1409.43" y="306.68" width="14.17" height="15.38" fill="#f78eaf" shape-rendering="crispEdges"/>
<rect x="1423.00" y="306.68" width="14.17" height="15.38" fill="#f78eaf" shape-rendering="crispEdges"/>
<rect x="1436.57" y="306.68" width="14.17" height="15.38" fill="#f270a6" shape-rendering="crispEdges"/>
<rect x="1450.14" y="306.68" width="14.17" height="15.38" fill="#f270a6" shape-rendering="crispEdges"/>
<rect x="1463.71" y="306.68" width="14.17" height="15.38" fill="#ec55a0" shape-rendering="crispEdges"/>
<rect x="1477.28" y="306.68" width="14.17" height="15.38" fill="#e84e9e" shape-rendering="crispEdges"/>
<rect x="1490.85" y="306.68" width="14.17" height="15.38" fill="#e84e9e" shape-rendering="crispEdges"/>
<rect x="1355.15" y="321.46" width="14.17" height="15.38" fill="#f270a6" shape-rendering="crispEdges"/>
<rect x="1368.72" y="321.46" width="14.17" height="15.38" fill="#f270a6" shape-rendering="crispEdges"/>
<rect x="1382.29" y="321.46" width="14.17" height="15.38" fill="#f480aa" shape-rendering="crispEdges"/>
<rect x="1395.86" y="321.46" width="14.17" height="15.38" fill="#f270a6" shape-rendering="crispEdges"/>
<rect x="1409.43" y="321.46" width="14.17" height="15.38" fill="#f480aa" shape-rendering="crispEdges"/>
<rect x="1423.00" y="321.46" width="14.17" height="15.38" fill="#f270a6" shape-rendering="crispEdges"/>
<rect x="1436.57" y="321.46" width="14.17" height="15.38" fill="#f068a4" shape-rendering="crispEdges"/>
<rect x="1450.14" y="321.46" width="14.17" height="15.38" fill="#f47aa8" shape-rendering="crispEdges"/>
<rect x="1463.71" y="321.46" width="14.17" height="15.38" fill="#ec55a0" shape-rendering="crispEdges"/>
<rect x="1477.28" y="321.46" width="14.17" height="15.38" fill="#ee5ea0" shape-rendering="crispEdges"/>
<rect x="1368.72" y="336.24" width="14.17" height="15.38" fill="#f47aa8" shape-rendering="crispEdges"/>
<rect x="1382.29" y="336.24" width="14.17" height="15.38" fill="#f065a2" shape-rendering="crispEdges"/>
<rect x="1395.86" y="336.24" width="14.17" height="15.38" fill="#f068a4" shape-rendering="crispEdges"/>
<rect x="1409.43" y="336.24" width="14.17" height="15.38" fill="#f068a4" shape-rendering="crispEdges"/>
<rect x="1423.00" y="336.24" width="14.17" height="15.38" fill="#f068a4" shape-rendering="crispEdges"/>
<rect x="1436.57" y="336.24" width="14.17" height="15.38" fill="#ee5ea0" shape-rendering="crispEdges"/>
<rect x="1450.14" y="336.24" width="14.17" height="15.38" fill="#f065a2" shape-rendering="crispEdges"/>
<rect x="1436.6" y="70.6" width="14.5" height="14.5" fill="none" stroke="#aaa" stroke-width="1.3" stroke-dasharray="3.5,2.5"/>
<rect x="1341.5" y="129.5" width="14.5" height="14.5" fill="none" stroke="#aaa" stroke-width="1.3" stroke-dasharray="3.5,2.5"/>
<rect x="1422.4" y="262.7" width="14.5" height="14.5" fill="none" stroke="#aaa" stroke-width="1.3" stroke-dasharray="3.5,2.5"/>
<line x1="1451.6" y1="86" x2="1785" y2="110.6" stroke="#a8a8a8" stroke-width="1.8" stroke-dasharray="9,6" fill="none"/>
<line x1="1356.5" y1="144" x2="1765" y2="220.3" stroke="#a8a8a8" stroke-width="1.8" stroke-dasharray="9,6" fill="none"/>
<line x1="1437.5" y1="270.7" x2="1765" y2="340" stroke="#a8a8a8" stroke-width="1.8" stroke-dasharray="9,6" fill="none"/>
<rect x="1575.9" y="71.4" width="14.3" height="279.6" fill="url(#cgrad)" stroke="#333" stroke-width="0.9"/>
<line x1="1590.2" y1="71.4" x2="1594.2" y2="71.4" stroke="#333" stroke-width="0.9"/>
<text x="1595.7" y="76.7" font-size="14.7" class="t">2.30</text>
<line x1="1590.2" y1="106.4" x2="1592.7" y2="106.4" stroke="#333" stroke-width="0.8"/>
<line x1="1590.2" y1="141.3" x2="1594.2" y2="141.3" stroke="#333" stroke-width="0.9"/>
<text x="1595.7" y="146.6" font-size="14.7" class="t">2.25</text>
<line x1="1590.2" y1="176.2" x2="1592.7" y2="176.2" stroke="#333" stroke-width="0.8"/>
<line x1="1590.2" y1="211.2" x2="1594.2" y2="211.2" stroke="#333" stroke-width="0.9"/>
<text x="1595.7" y="216.5" font-size="14.7" class="t">2.20</text>
<line x1="1590.2" y1="246.2" x2="1592.7" y2="246.2" stroke="#333" stroke-width="0.8"/>
<line x1="1590.2" y1="281.1" x2="1594.2" y2="281.1" stroke="#333" stroke-width="0.9"/>
<text x="1595.7" y="286.4" font-size="14.7" class="t">2.15</text>
<line x1="1590.2" y1="316.1" x2="1592.7" y2="316.1" stroke="#333" stroke-width="0.8"/>
<line x1="1590.2" y1="351.0" x2="1594.2" y2="351.0" stroke="#333" stroke-width="0.9"/>
<text x="1595.7" y="356.3" font-size="14.7" class="t">2.10</text>
<text transform="translate(1639.2,211) rotate(90)" font-size="22.8" text-anchor="middle" class="t">Bandgap (eV)</text>
<text x="1240.5" y="382.1" font-size="26" class="t">0.5 mm</text>
<rect x="1246.6" y="396" width="78.7" height="4" fill="#000"/>
<text x="1354.7" y="442.4" font-size="26.2" class="t">Cs<tspan font-size="16.6" dx="0.3" dy="6.4">3</tspan><tspan dx="0.3" dy="-6.4">Bi</tspan><tspan font-size="16.6" dx="0.3" dy="6.4">2</tspan><tspan dx="0.3" dy="-6.4">I</tspan><tspan font-size="16.6" dx="0.3" dy="6.4">5.6</tspan><tspan dx="0.3" dy="-6.4">Br</tspan><tspan font-size="16.6" dx="0.3" dy="6.4">3.4</tspan></text>
<text x="1666.3" y="35.8" font-size="39" font-weight="bold" class="t">d</text>
<clipPath id="dclip"><rect x="1742.4" y="19.1" width="234.3" height="388.2"/></clipPath>
<clipPath id="dc0"><rect x="1742.4" y="19.1" width="234.3" height="129.4"/></clipPath>
<path d="M1742.4,146 L1780.6,145.1 L1800.9,143.5 L1810.3,142.2 L1817.1,140.1 L1823.9,136.1 L1834.7,127.3 L1846.9,112.4 L1855,98.9 L1865.8,82.6 L1875.3,66.4 L1882,56.9 L1887.5,51.5 L1892.9,49.5 L1901,45.4 L1907.7,44.8 L1913.2,42.7 L1919.9,40.4 L1926.7,41.4 L1932.1,42.7 L1938.9,42.3 L1947,44.5 L1953.7,47.5 L1963.2,49.9 L1976.7,54.2" stroke="#e9639f" stroke-width="2.2" fill="none" stroke-linejoin="round" clip-path="url(#dc0)"/>
<line x1="1821.2" y1="148.3" x2="1905" y2="19.1" stroke="#f2584f" stroke-width="1.5" opacity="0.9" clip-path="url(#dc0)"/>
<text x="1752.6" y="47.5" font-size="23" class="t" textLength="74.5" lengthAdjust="spacingAndGlyphs">2.20 eV</text>
<clipPath id="dc1"><rect x="1742.4" y="148.5" width="234.3" height="128.89999999999998"/></clipPath>
<path d="M1742.4,276.2 L1780.6,276 L1800.9,275.5 L1815.8,274.6 L1823.9,272.8 L1830.6,270.1 L1837.4,266.1 L1842.8,262.7 L1850.9,251.9 L1859,239.7 L1869.9,223.5 L1875.3,215.3 L1882,203.2 L1888.8,194.4 L1894.2,189.6 L1901,188 L1907.7,185.3 L1913.2,182.2 L1919.9,179.5 L1926.7,178.5 L1932.1,178.1 L1936.2,179.1 L1942.9,177.2 L1948.3,173.4 L1955.1,170 L1961.9,170.7 L1968.6,172.1 L1976.7,176.8" stroke="#9c1584" stroke-width="2.2" fill="none" stroke-linejoin="round" clip-path="url(#dc1)"/>
<line x1="1833.3" y1="277.3" x2="1919.9" y2="148.4" stroke="#f2584f" stroke-width="1.5" opacity="0.9" clip-path="url(#dc1)"/>
<text x="1752.6" y="192.5" font-size="23" class="t" textLength="74.5" lengthAdjust="spacingAndGlyphs">2.23 eV</text>
<clipPath id="dc2"><rect x="1742.4" y="277.4" width="234.3" height="129.90000000000003"/></clipPath>
<path d="M1742.4,400.9 L1780.6,400.1 L1794.1,398.5 L1804.9,395.8 L1813.1,393 L1821.2,388.3 L1832,378.2 L1845.5,361.9 L1859,345.7 L1869.9,332.2 L1880.7,320 L1888.8,314.6 L1899.6,309.8 L1911.8,305.1 L1926.7,303.1 L1938.9,302.7 L1951,303.8 L1961.9,303.8 L1968.6,302.1 L1976.7,304.4" stroke="#f6a8b6" stroke-width="2.2" fill="none" stroke-linejoin="round" clip-path="url(#dc2)"/>
<line x1="1804.3" y1="407.3" x2="1917.9" y2="278.1" stroke="#f2584f" stroke-width="1.5" opacity="0.9" clip-path="url(#dc2)"/>
<text x="1752.6" y="318.3" font-size="23" class="t" textLength="74.5" lengthAdjust="spacingAndGlyphs">2.17 eV</text>
<rect x="1742.4" y="19.1" width="234.3" height="388.2" fill="none" stroke="#333" stroke-width="1.3"/>
<line x1="1742.4" y1="148.5" x2="1976.7" y2="148.5" stroke="#333" stroke-width="1.3"/>
<line x1="1742.4" y1="277.4" x2="1976.7" y2="277.4" stroke="#333" stroke-width="1.3"/>
<line x1="1781.5" y1="148.5" x2="1781.5" y2="153.5" stroke="#333" stroke-width="1.1"/>
<line x1="1781.5" y1="277.4" x2="1781.5" y2="282.4" stroke="#333" stroke-width="1.1"/>
<line x1="1781.5" y1="407.3" x2="1781.5" y2="411.5" stroke="#333" stroke-width="1.1"/>
<line x1="1820.5" y1="148.5" x2="1820.5" y2="153.5" stroke="#333" stroke-width="1.1"/>
<line x1="1820.5" y1="277.4" x2="1820.5" y2="282.4" stroke="#333" stroke-width="1.1"/>
<line x1="1820.5" y1="407.3" x2="1820.5" y2="411.5" stroke="#333" stroke-width="1.1"/>
<line x1="1859.6" y1="148.5" x2="1859.6" y2="153.5" stroke="#333" stroke-width="1.1"/>
<line x1="1859.6" y1="277.4" x2="1859.6" y2="282.4" stroke="#333" stroke-width="1.1"/>
<line x1="1859.6" y1="407.3" x2="1859.6" y2="411.5" stroke="#333" stroke-width="1.1"/>
<line x1="1898.6" y1="148.5" x2="1898.6" y2="153.5" stroke="#333" stroke-width="1.1"/>
<line x1="1898.6" y1="277.4" x2="1898.6" y2="282.4" stroke="#333" stroke-width="1.1"/>
<line x1="1898.6" y1="407.3" x2="1898.6" y2="411.5" stroke="#333" stroke-width="1.1"/>
<line x1="1937.7" y1="148.5" x2="1937.7" y2="153.5" stroke="#333" stroke-width="1.1"/>
<line x1="1937.7" y1="277.4" x2="1937.7" y2="282.4" stroke="#333" stroke-width="1.1"/>
<line x1="1937.7" y1="407.3" x2="1937.7" y2="411.5" stroke="#333" stroke-width="1.1"/>
<text x="1742.4" y="431" font-size="20" text-anchor="middle" class="t">2.0</text>
<text x="1820.5" y="431" font-size="20" text-anchor="middle" class="t">2.2</text>
<text x="1898.6" y="431" font-size="20" text-anchor="middle" class="t">2.4</text>
<text x="1976.7" y="431" font-size="20" text-anchor="middle" class="t">2.6</text>
<text x="1859.7" y="453.6" font-size="23" text-anchor="middle" class="t">Energy (eV)</text>
<text transform="translate(1727.8,210) rotate(-90)" font-size="23.6" text-anchor="middle" class="t">(<tspan font-style="italic">F</tspan>(<tspan font-style="italic">R</tspan>) * <tspan font-style="italic">hν</tspan>)<tspan font-size="15" dy="-8">2</tspan><tspan dy="8"> (a.u.)</tspan></text>
<text x="532.8" y="535.4" font-size="39" font-weight="bold" class="t">e</text>
<clipPath id="eclip"><rect x="628.5" y="527.2" width="407.0999999999999" height="409.0"/></clipPath>
<g clip-path="url(#eclip)" fill="none" stroke-width="3.2" stroke-linejoin="round">
<path d="M628.5,852.9 L630.5,852.2 L632.6,852.2 L634.6,852.1 L636.6,852.4 L638.7,852.2 L640.7,851.6 L642.7,850.6 L644.8,849.9 L646.8,850.3 L648.9,848.9 L650.9,847.4 L652.9,847.5 L655.0,844.1 L657.0,841.0 L659.0,839.8 L661.1,838.0 L663.1,834.0 L665.1,831.2 L667.2,828.7 L669.2,826.5 L671.2,822.4 L673.3,818.9 L675.3,815.8 L677.4,812.3 L679.4,806.9 L681.4,800.4 L683.5,794.4 L685.5,789.1 L687.5,779.1 L689.6,772.8 L691.6,764.3 L693.6,755.5 L695.7,745.6 L697.7,740.1 L699.7,731.1 L701.8,723.0 L703.8,714.7 L705.8,705.9 L707.9,699.9 L709.9,693.2 L712.0,684.4 L714.0,677.2 L716.0,669.4 L718.1,663.8 L720.1,656.4 L722.1,650.0 L724.2,645.6 L726.2,641.6 L728.2,635.9 L730.3,632.2 L732.3,629.5 L734.3,625.9 L736.4,624.0 L738.4,622.3 L740.5,620.4 L742.5,621.1 L744.5,618.4 L746.6,618.9 L748.6,615.3 L750.6,614.8 L752.7,615.2 L754.7,614.3 L756.7,613.6 L758.8,614.0 L760.8,614.3 L762.8,614.7 L764.9,616.5 L766.9,619.0 L768.9,619.7 L771.0,622.5 L773.0,623.4 L775.1,626.3 L777.1,628.2 L779.1,630.5 L781.2,631.9 L783.2,633.6 L785.2,636.0 L787.3,637.9 L789.3,640.6 L791.3,644.3 L793.4,645.1 L795.4,648.1 L797.4,652.0 L799.5,656.4 L801.5,660.4 L803.6,664.0 L805.6,667.5 L807.6,671.1 L809.7,674.7 L811.7,676.9 L813.7,679.3 L815.8,682.6 L817.8,683.9 L819.8,687.4 L821.9,689.9 L823.9,692.6 L825.9,696.2 L828.0,697.7 L830.0,698.7 L832.0,703.1 L834.1,704.7 L836.1,708.5 L838.2,710.7 L840.2,712.1 L842.2,712.8 L844.3,714.8 L846.3,715.8 L848.3,715.9 L850.4,716.4 L852.4,717.0 L854.4,717.6 L856.5,717.5 L858.5,719.7 L860.5,721.5 L862.6,721.5 L864.6,722.2 L866.7,723.6 L868.7,726.1 L870.7,724.5 L872.8,725.1 L874.8,727.0 L876.8,726.7 L878.9,726.4 L880.9,726.1 L882.9,726.4 L885.0,726.0 L887.0,725.3 L889.0,724.5 L891.1,724.1 L893.1,725.5 L895.2,725.8 L897.2,726.6 L899.2,727.1 L901.3,726.6 L903.3,725.7 L905.3,725.6 L907.4,725.6 L909.4,724.1 L911.4,723.8 L913.5,722.9 L915.5,723.6 L917.5,722.2 L919.6,721.9 L921.6,722.1 L923.6,721.8 L925.7,722.5 L927.7,722.3 L929.8,721.3 L931.8,721.1 L933.8,721.0 L935.9,721.2 L937.9,721.7 L939.9,721.3 L942.0,719.1 L944.0,719.2 L946.0,718.5 L948.1,719.1 L950.1,717.3 L952.1,716.0 L954.2,714.9 L956.2,716.3 L958.3,715.5 L960.3,717.0 L962.3,717.7 L964.4,717.4 L966.4,716.9 L968.4,715.7 L970.5,716.5 L972.5,716.7 L974.5,713.4 L976.6,713.7 L978.6,711.6 L980.6,713.2 L982.7,711.2 L984.7,710.2 L986.7,711.4 L988.8,711.2 L990.8,710.9 L992.9,710.2 L994.9,710.5 L996.9,710.5 L999.0,711.7 L1001.0,710.9 L1003.0,710.7 L1005.1,709.9 L1007.1,709.4 L1009.1,709.5 L1011.2,707.7 L1013.2,705.9 L1015.2,706.9 L1017.3,705.8 L1019.3,705.0 L1021.4,705.8 L1023.4,706.3 L1025.4,706.5 L1027.5,704.2 L1029.5,706.3 L1031.5,707.5 L1033.6,705.3 L1035.6,704.5" stroke="#6f0174"/>
<path d="M628.5,858.7 L630.5,856.2 L632.6,854.7 L634.6,852.3 L636.6,850.2 L638.7,849.4 L640.7,846.5 L642.7,844.1 L644.8,840.3 L646.8,839.1 L648.9,836.4 L650.9,834.4 L652.9,831.2 L655.0,827.0 L657.0,823.7 L659.0,819.5 L661.1,814.6 L663.1,808.8 L665.1,804.3 L667.2,799.0 L669.2,790.7 L671.2,785.0 L673.3,776.5 L675.3,769.2 L677.4,762.1 L679.4,754.6 L681.4,748.3 L683.5,741.2 L685.5,731.5 L687.5,726.5 L689.6,718.9 L691.6,712.4 L693.6,703.1 L695.7,696.4 L697.7,689.8 L699.7,682.4 L701.8,675.9 L703.8,667.7 L705.8,661.7 L707.9,657.0 L709.9,650.7 L712.0,647.5 L714.0,644.0 L716.0,640.2 L718.1,636.1 L720.1,634.0 L722.1,631.7 L724.2,629.9 L726.2,627.6 L728.2,625.1 L730.3,622.2 L732.3,620.3 L734.3,619.3 L736.4,618.1 L738.4,617.4 L740.5,616.6 L742.5,617.2 L744.5,617.1 L746.6,618.3 L748.6,619.1 L750.6,620.6 L752.7,620.7 L754.7,622.0 L756.7,623.0 L758.8,624.9 L760.8,626.4 L762.8,627.7 L764.9,628.1 L766.9,629.0 L768.9,631.0 L771.0,632.0 L773.0,633.2 L775.1,636.5 L777.1,638.1 L779.1,639.9 L781.2,643.6 L783.2,645.8 L785.2,649.1 L787.3,651.1 L789.3,653.7 L791.3,655.7 L793.4,658.0 L795.4,660.3 L797.4,661.8 L799.5,663.3 L801.5,665.8 L803.6,666.0 L805.6,669.1 L807.6,672.0 L809.7,673.8 L811.7,676.5 L813.7,677.4 L815.8,681.1 L817.8,681.8 L819.8,684.9 L821.9,685.8 L823.9,687.4 L825.9,687.2 L828.0,688.4 L830.0,688.0 L832.0,690.2 L834.1,691.2 L836.1,691.8 L838.2,693.3 L840.2,694.1 L842.2,695.0 L844.3,696.5 L846.3,697.0 L848.3,699.2 L850.4,699.7 L852.4,700.5 L854.4,700.6 L856.5,700.6 L858.5,700.4 L860.5,700.8 L862.6,701.4 L864.6,699.6 L866.7,700.9 L868.7,703.5 L870.7,701.6 L872.8,701.9 L874.8,703.0 L876.8,703.4 L878.9,704.3 L880.9,704.9 L882.9,704.6 L885.0,706.3 L887.0,705.5 L889.0,705.9 L891.1,704.8 L893.1,704.9 L895.2,703.8 L897.2,705.4 L899.2,703.8 L901.3,703.9 L903.3,703.0 L905.3,702.3 L907.4,703.6 L909.4,704.6 L911.4,704.8 L913.5,704.6 L915.5,704.7 L917.5,704.3 L919.6,704.6 L921.6,704.9 L923.6,704.4 L925.7,703.8 L927.7,702.7 L929.8,702.5 L931.8,702.0 L933.8,702.3 L935.9,702.3 L937.9,702.8 L939.9,702.6 L942.0,703.1 L944.0,704.5 L946.0,704.7 L948.1,702.4 L950.1,704.0 L952.1,703.6 L954.2,703.5 L956.2,700.8 L958.3,700.5 L960.3,700.8 L962.3,700.7 L964.4,699.6 L966.4,701.1 L968.4,701.2 L970.5,701.2 L972.5,701.8 L974.5,700.8 L976.6,701.8 L978.6,700.5 L980.6,702.8 L982.7,702.7 L984.7,701.8 L986.7,700.3 L988.8,700.4 L990.8,700.4 L992.9,698.4 L994.9,699.0 L996.9,699.2 L999.0,698.1 L1001.0,698.5 L1003.0,700.0 L1005.1,700.1 L1007.1,701.0 L1009.1,700.5 L1011.2,699.8 L1013.2,700.4 L1015.2,699.7 L1017.3,699.5 L1019.3,699.5 L1021.4,699.5 L1023.4,698.0 L1025.4,698.7 L1027.5,696.2 L1029.5,696.8 L1031.5,697.0 L1033.6,695.8 L1035.6,696.5" stroke="#700174"/>
<path d="M628.5,869.9 L630.5,870.0 L632.6,869.8 L634.6,869.7 L636.6,868.9 L638.7,868.1 L640.7,869.5 L642.7,867.5 L644.8,866.7 L646.8,867.3 L648.9,866.7 L650.9,866.7 L652.9,867.1 L655.0,868.3 L657.0,869.0 L659.0,868.3 L661.1,869.3 L663.1,868.2 L665.1,867.5 L667.2,870.3 L669.2,866.1 L671.2,866.7 L673.3,865.4 L675.3,864.8 L677.4,863.8 L679.4,864.8 L681.4,863.4 L683.5,863.2 L685.5,864.4 L687.5,863.2 L689.6,862.2 L691.6,861.0 L693.6,860.4 L695.7,858.7 L697.7,858.6 L699.7,853.2 L701.8,851.7 L703.8,849.1 L705.8,845.9 L707.9,841.5 L709.9,836.4 L712.0,834.4 L714.0,831.2 L716.0,825.4 L718.1,821.7 L720.1,816.2 L722.1,810.6 L724.2,803.6 L726.2,798.7 L728.2,791.2 L730.3,785.5 L732.3,777.3 L734.3,771.8 L736.4,764.0 L738.4,757.3 L740.5,750.6 L742.5,745.6 L744.5,739.3 L746.6,735.1 L748.6,731.6 L750.6,727.2 L752.7,724.6 L754.7,721.7 L756.7,718.7 L758.8,716.5 L760.8,715.0 L762.8,712.3 L764.9,707.9 L766.9,706.6 L768.9,704.2 L771.0,701.2 L773.0,701.2 L775.1,700.5 L777.1,701.3 L779.1,701.1 L781.2,700.2 L783.2,700.6 L785.2,700.6 L787.3,701.6 L789.3,700.9 L791.3,700.1 L793.4,699.4 L795.4,701.6 L797.4,699.7 L799.5,699.1 L801.5,698.2 L803.6,698.0 L805.6,698.5 L807.6,698.7 L809.7,697.5 L811.7,699.1 L813.7,699.8 L815.8,699.9 L817.8,699.3 L819.8,699.9 L821.9,701.6 L823.9,701.6 L825.9,702.5 L828.0,702.5 L830.0,701.5 L832.0,701.5 L834.1,700.2 L836.1,701.1 L838.2,701.8 L840.2,703.5 L842.2,703.0 L844.3,704.3 L846.3,705.7 L848.3,706.4 L850.4,708.6 L852.4,708.8 L854.4,708.5 L856.5,710.7 L858.5,709.6 L860.5,709.4 L862.6,710.4 L864.6,709.7 L866.7,711.9 L868.7,711.3 L870.7,711.9 L872.8,713.2 L874.8,714.7 L876.8,715.3 L878.9,715.8 L880.9,717.2 L882.9,719.4 L885.0,719.1 L887.0,720.5 L889.0,721.1 L891.1,720.9 L893.1,719.6 L895.2,720.1 L897.2,721.9 L899.2,721.5 L901.3,721.4 L903.3,720.8 L905.3,722.4 L907.4,724.3 L909.4,724.7 L911.4,724.8 L913.5,726.2 L915.5,727.3 L917.5,727.8 L919.6,729.0 L921.6,727.6 L923.6,728.0 L925.7,728.8 L927.7,727.8 L929.8,726.1 L931.8,726.5 L933.8,727.2 L935.9,726.4 L937.9,728.3 L939.9,728.4 L942.0,728.9 L944.0,730.1 L946.0,729.8 L948.1,731.5 L950.1,731.2 L952.1,732.3 L954.2,730.5 L956.2,729.9 L958.3,730.2 L960.3,729.7 L962.3,729.3 L964.4,729.4 L966.4,728.7 L968.4,729.9 L970.5,731.4 L972.5,731.1 L974.5,730.8 L976.6,731.2 L978.6,732.1 L980.6,733.4 L982.7,733.2 L984.7,733.1 L986.7,732.4 L988.8,732.8 L990.8,731.8 L992.9,731.3 L994.9,731.8 L996.9,730.7 L999.0,732.2 L1001.0,731.5 L1003.0,731.5 L1005.1,732.2 L1007.1,733.0 L1009.1,734.3 L1011.2,732.1 L1013.2,733.5 L1015.2,735.0 L1017.3,734.5 L1019.3,733.5 L1021.4,733.4 L1023.4,733.9 L1025.4,733.4 L1027.5,733.0 L1029.5,731.8 L1031.5,730.8 L1033.6,733.1 L1035.6,732.5" stroke="#720175"/>
<path d="M628.5,875.8 L630.5,875.2 L632.6,874.6 L634.6,876.1 L636.6,875.4 L638.7,876.7 L640.7,876.6 L642.7,877.1 L644.8,877.1 L646.8,877.8 L648.9,876.5 L650.9,876.5 L652.9,877.5 L655.0,876.2 L657.0,876.1 L659.0,877.1 L661.1,875.1 L663.1,873.7 L665.1,874.0 L667.2,874.0 L669.2,874.4 L671.2,873.8 L673.3,874.4 L675.3,874.6 L677.4,874.7 L679.4,872.7 L681.4,872.1 L683.5,872.7 L685.5,871.0 L687.5,868.4 L689.6,866.5 L691.6,864.4 L693.6,862.5 L695.7,859.7 L697.7,857.3 L699.7,853.7 L701.8,850.8 L703.8,846.1 L705.8,842.0 L707.9,839.9 L709.9,834.7 L712.0,828.7 L714.0,821.7 L716.0,815.7 L718.1,809.5 L720.1,802.6 L722.1,793.9 L724.2,786.5 L726.2,778.7 L728.2,771.0 L730.3,764.3 L732.3,758.9 L734.3,753.8 L736.4,748.6 L738.4,743.5 L740.5,740.2 L742.5,735.3 L744.5,731.8 L746.6,729.6 L748.6,726.1 L750.6,722.9 L752.7,721.1 L754.7,716.7 L756.7,716.8 L758.8,712.5 L760.8,712.7 L762.8,711.2 L764.9,711.4 L766.9,710.0 L768.9,710.1 L771.0,710.4 L773.0,710.2 L775.1,710.8 L777.1,709.1 L779.1,711.5 L781.2,709.3 L783.2,709.9 L785.2,707.6 L787.3,708.1 L789.3,708.5 L791.3,708.8 L793.4,707.2 L795.4,707.9 L797.4,707.7 L799.5,709.6 L801.5,709.4 L803.6,708.9 L805.6,709.8 L807.6,712.4 L809.7,710.8 L811.7,711.8 L813.7,711.8 L815.8,712.4 L817.8,712.1 L819.8,712.8 L821.9,712.8 L823.9,710.9 L825.9,711.8 L828.0,712.0 L830.0,713.8 L832.0,714.5 L834.1,714.3 L836.1,715.5 L838.2,717.0 L840.2,718.0 L842.2,717.7 L844.3,716.2 L846.3,718.8 L848.3,717.8 L850.4,717.1 L852.4,717.5 L854.4,717.2 L856.5,718.7 L858.5,716.7 L860.5,718.2 L862.6,718.7 L864.6,720.1 L866.7,719.8 L868.7,720.3 L870.7,721.8 L872.8,721.2 L874.8,722.3 L876.8,721.8 L878.9,720.6 L880.9,721.4 L882.9,719.9 L885.0,719.0 L887.0,718.6 L889.0,719.0 L891.1,719.8 L893.1,720.5 L895.2,720.3 L897.2,721.4 L899.2,722.0 L901.3,721.2 L903.3,723.3 L905.3,722.5 L907.4,723.3 L909.4,721.7 L911.4,722.0 L913.5,721.0 L915.5,719.9 L917.5,721.6 L919.6,722.0 L921.6,720.3 L923.6,721.4 L925.7,721.0 L927.7,720.6 L929.8,723.2 L931.8,722.5 L933.8,723.2 L935.9,723.7 L937.9,723.8 L939.9,723.2 L942.0,721.5 L944.0,723.3 L946.0,721.0 L948.1,721.5 L950.1,721.2 L952.1,720.0 L954.2,720.9 L956.2,721.3 L958.3,720.7 L960.3,721.1 L962.3,721.5 L964.4,722.5 L966.4,723.2 L968.4,723.6 L970.5,723.2 L972.5,723.2 L974.5,722.5 L976.6,722.0 L978.6,722.5 L980.6,721.8 L982.7,720.8 L984.7,720.6 L986.7,721.8 L988.8,721.9 L990.8,722.0 L992.9,721.5 L994.9,720.1 L996.9,721.7 L999.0,723.8 L1001.0,723.6 L1003.0,723.4 L1005.1,723.8 L1007.1,722.8 L1009.1,722.3 L1011.2,722.6 L1013.2,722.1 L1015.2,720.6 L1017.3,720.4 L1019.3,721.4 L1021.4,721.0 L1023.4,721.8 L1025.4,722.2 L1027.5,723.3 L1029.5,723.1 L1031.5,724.2 L1033.6,724.3 L1035.6,724.0" stroke="#790177"/>
<path d="M628.5,872.0 L630.5,870.3 L632.6,867.8 L634.6,866.7 L636.6,866.0 L638.7,863.8 L640.7,863.4 L642.7,864.0 L644.8,860.6 L646.8,860.9 L648.9,858.0 L650.9,856.7 L652.9,854.7 L655.0,851.1 L657.0,849.1 L659.0,846.6 L661.1,842.2 L663.1,837.9 L665.1,832.2 L667.2,827.8 L669.2,822.9 L671.2,818.0 L673.3,813.0 L675.3,805.6 L677.4,801.6 L679.4,793.8 L681.4,787.1 L683.5,779.3 L685.5,772.4 L687.5,764.1 L689.6,754.8 L691.6,746.5 L693.6,737.5 L695.7,727.8 L697.7,719.3 L699.7,708.9 L701.8,701.3 L703.8,692.1 L705.8,684.3 L707.9,675.1 L709.9,669.2 L712.0,662.1 L714.0,656.2 L716.0,648.4 L718.1,644.1 L720.1,636.4 L722.1,632.5 L724.2,626.6 L726.2,620.6 L728.2,618.0 L730.3,611.4 L732.3,608.5 L734.3,605.7 L736.4,603.3 L738.4,601.1 L740.5,600.0 L742.5,598.5 L744.5,597.3 L746.6,595.9 L748.6,595.6 L750.6,595.9 L752.7,593.9 L754.7,594.2 L756.7,592.1 L758.8,592.7 L760.8,591.8 L762.8,593.8 L764.9,592.0 L766.9,593.8 L768.9,595.5 L771.0,596.7 L773.0,598.4 L775.1,600.3 L777.1,601.7 L779.1,603.8 L781.2,604.9 L783.2,606.5 L785.2,606.8 L787.3,609.6 L789.3,611.7 L791.3,611.7 L793.4,612.9 L795.4,615.5 L797.4,618.1 L799.5,620.4 L801.5,620.9 L803.6,624.8 L805.6,626.8 L807.6,630.2 L809.7,631.2 L811.7,636.0 L813.7,637.5 L815.8,640.2 L817.8,641.9 L819.8,643.2 L821.9,646.0 L823.9,647.0 L825.9,648.5 L828.0,651.3 L830.0,652.7 L832.0,654.4 L834.1,657.8 L836.1,659.1 L838.2,661.8 L840.2,664.7 L842.2,667.0 L844.3,669.2 L846.3,671.3 L848.3,671.6 L850.4,672.3 L852.4,675.0 L854.4,675.7 L856.5,675.4 L858.5,676.9 L860.5,677.1 L862.6,677.4 L864.6,680.4 L866.7,681.3 L868.7,682.6 L870.7,685.2 L872.8,686.4 L874.8,686.2 L876.8,686.9 L878.9,687.1 L880.9,689.0 L882.9,689.1 L885.0,689.4 L887.0,688.9 L889.0,688.2 L891.1,688.1 L893.1,687.2 L895.2,689.3 L897.2,688.3 L899.2,689.6 L901.3,689.2 L903.3,690.2 L905.3,691.0 L907.4,690.7 L909.4,690.5 L911.4,692.6 L913.5,690.5 L915.5,690.5 L917.5,689.5 L919.6,688.3 L921.6,689.2 L923.6,688.0 L925.7,687.6 L927.7,685.7 L929.8,687.5 L931.8,688.1 L933.8,688.0 L935.9,687.9 L937.9,689.1 L939.9,688.5 L942.0,688.6 L944.0,688.6 L946.0,688.0 L948.1,685.7 L950.1,686.0 L952.1,684.5 L954.2,682.9 L956.2,683.9 L958.3,682.1 L960.3,682.8 L962.3,681.3 L964.4,682.5 L966.4,683.1 L968.4,683.6 L970.5,683.3 L972.5,683.0 L974.5,682.7 L976.6,684.0 L978.6,681.9 L980.6,681.4 L982.7,681.9 L984.7,678.6 L986.7,677.6 L988.8,677.8 L990.8,677.8 L992.9,677.1 L994.9,677.9 L996.9,678.0 L999.0,677.1 L1001.0,678.5 L1003.0,677.4 L1005.1,678.7 L1007.1,678.0 L1009.1,678.9 L1011.2,677.2 L1013.2,675.6 L1015.2,675.2 L1017.3,674.2 L1019.3,672.9 L1021.4,671.8 L1023.4,673.3 L1025.4,673.4 L1027.5,672.1 L1029.5,672.4 L1031.5,672.4 L1033.6,673.5 L1035.6,673.6" stroke="#7e0178"/>
<path d="M628.5,876.0 L630.5,874.1 L632.6,871.5 L634.6,868.8 L636.6,867.2 L638.7,867.3 L640.7,865.9 L642.7,863.7 L644.8,862.3 L646.8,860.8 L648.9,858.0 L650.9,856.2 L652.9,852.6 L655.0,850.4 L657.0,843.8 L659.0,839.3 L661.1,833.7 L663.1,828.0 L665.1,822.0 L667.2,815.7 L669.2,809.3 L671.2,800.3 L673.3,793.3 L675.3,784.6 L677.4,776.4 L679.4,768.5 L681.4,760.1 L683.5,750.8 L685.5,741.1 L687.5,732.5 L689.6,721.2 L691.6,711.9 L693.6,702.1 L695.7,691.8 L697.7,682.3 L699.7,672.0 L701.8,662.4 L703.8,656.5 L705.8,649.1 L707.9,643.1 L709.9,637.9 L712.0,633.1 L714.0,628.4 L716.0,624.2 L718.1,619.4 L720.1,617.3 L722.1,612.6 L724.2,609.7 L726.2,607.9 L728.2,604.4 L730.3,601.9 L732.3,600.4 L734.3,600.9 L736.4,599.5 L738.4,600.4 L740.5,599.7 L742.5,601.8 L744.5,602.9 L746.6,603.4 L748.6,606.3 L750.6,605.8 L752.7,607.1 L754.7,607.3 L756.7,610.2 L758.8,611.1 L760.8,612.0 L762.8,614.8 L764.9,616.9 L766.9,619.0 L768.9,621.8 L771.0,624.5 L773.0,628.7 L775.1,632.9 L777.1,636.0 L779.1,640.0 L781.2,643.1 L783.2,647.0 L785.2,650.1 L787.3,651.9 L789.3,654.7 L791.3,657.3 L793.4,658.7 L795.4,661.0 L797.4,664.4 L799.5,667.6 L801.5,670.6 L803.6,674.2 L805.6,677.7 L807.6,678.7 L809.7,681.3 L811.7,685.0 L813.7,686.9 L815.8,689.2 L817.8,690.6 L819.8,692.6 L821.9,693.7 L823.9,694.4 L825.9,695.1 L828.0,696.0 L830.0,697.7 L832.0,698.2 L834.1,699.4 L836.1,700.9 L838.2,702.5 L840.2,704.4 L842.2,706.5 L844.3,706.0 L846.3,706.7 L848.3,708.1 L850.4,707.8 L852.4,707.2 L854.4,708.6 L856.5,707.4 L858.5,708.8 L860.5,708.0 L862.6,707.6 L864.6,708.1 L866.7,708.9 L868.7,709.4 L870.7,710.9 L872.8,711.4 L874.8,712.0 L876.8,712.2 L878.9,712.2 L880.9,713.3 L882.9,711.6 L885.0,713.5 L887.0,711.7 L889.0,711.0 L891.1,709.7 L893.1,709.7 L895.2,708.6 L897.2,709.6 L899.2,710.2 L901.3,709.2 L903.3,711.7 L905.3,711.6 L907.4,711.0 L909.4,711.3 L911.4,710.9 L913.5,710.6 L915.5,710.8 L917.5,710.3 L919.6,709.4 L921.6,707.4 L923.6,707.2 L925.7,707.4 L927.7,708.1 L929.8,706.7 L931.8,707.1 L933.8,707.3 L935.9,707.6 L937.9,709.2 L939.9,708.7 L942.0,709.9 L944.0,708.6 L946.0,708.5 L948.1,706.5 L950.1,706.3 L952.1,706.8 L954.2,705.1 L956.2,704.6 L958.3,705.3 L960.3,704.0 L962.3,704.0 L964.4,704.1 L966.4,705.1 L968.4,704.5 L970.5,704.1 L972.5,705.8 L974.5,705.2 L976.6,704.8 L978.6,704.9 L980.6,703.7 L982.7,703.9 L984.7,702.1 L986.7,700.9 L988.8,701.8 L990.8,701.3 L992.9,701.1 L994.9,700.0 L996.9,701.3 L999.0,700.7 L1001.0,701.1 L1003.0,702.3 L1005.1,701.2 L1007.1,702.1 L1009.1,700.5 L1011.2,700.5 L1013.2,699.7 L1015.2,699.7 L1017.3,697.7 L1019.3,697.0 L1021.4,696.9 L1023.4,696.8 L1025.4,697.6 L1027.5,698.5 L1029.5,697.2 L1031.5,698.2 L1033.6,697.6 L1035.6,698.4" stroke="#840178"/>
<path d="M628.5,890.8 L630.5,890.4 L632.6,890.1 L634.6,887.5 L636.6,886.3 L638.7,884.5 L640.7,883.3 L642.7,882.0 L644.8,880.3 L646.8,877.7 L648.9,878.1 L650.9,875.5 L652.9,873.4 L655.0,871.2 L657.0,868.8 L659.0,864.4 L661.1,861.0 L663.1,857.2 L665.1,851.9 L667.2,848.2 L669.2,842.1 L671.2,836.0 L673.3,831.3 L675.3,825.5 L677.4,818.8 L679.4,812.7 L681.4,807.4 L683.5,800.3 L685.5,792.0 L687.5,784.9 L689.6,776.9 L691.6,765.3 L693.6,758.9 L695.7,749.4 L697.7,740.8 L699.7,730.7 L701.8,722.1 L703.8,715.0 L705.8,707.9 L707.9,701.2 L709.9,693.7 L712.0,688.9 L714.0,683.0 L716.0,676.7 L718.1,672.6 L720.1,667.1 L722.1,663.5 L724.2,657.9 L726.2,654.9 L728.2,651.5 L730.3,647.5 L732.3,646.0 L734.3,642.7 L736.4,640.4 L738.4,638.4 L740.5,638.5 L742.5,637.7 L744.5,638.0 L746.6,637.9 L748.6,637.3 L750.6,637.9 L752.7,638.4 L754.7,638.7 L756.7,637.7 L758.8,639.5 L760.8,638.4 L762.8,637.6 L764.9,638.8 L766.9,640.1 L768.9,642.0 L771.0,643.7 L773.0,644.9 L775.1,645.8 L777.1,648.6 L779.1,651.1 L781.2,652.4 L783.2,656.0 L785.2,656.1 L787.3,658.1 L789.3,658.7 L791.3,660.6 L793.4,661.5 L795.4,663.0 L797.4,664.6 L799.5,666.7 L801.5,668.9 L803.6,671.5 L805.6,672.3 L807.6,674.7 L809.7,676.6 L811.7,679.7 L813.7,680.6 L815.8,682.4 L817.8,683.8 L819.8,686.9 L821.9,685.8 L823.9,687.8 L825.9,687.6 L828.0,688.5 L830.0,689.8 L832.0,690.2 L834.1,692.1 L836.1,693.1 L838.2,694.8 L840.2,696.4 L842.2,698.7 L844.3,700.0 L846.3,700.2 L848.3,702.6 L850.4,703.5 L852.4,702.5 L854.4,703.3 L856.5,704.6 L858.5,702.7 L860.5,702.8 L862.6,704.8 L864.6,704.5 L866.7,705.7 L868.7,704.4 L870.7,707.0 L872.8,708.6 L874.8,708.7 L876.8,707.6 L878.9,709.9 L880.9,709.7 L882.9,709.9 L885.0,710.1 L887.0,709.9 L889.0,708.7 L891.1,708.0 L893.1,708.8 L895.2,708.0 L897.2,708.4 L899.2,709.7 L901.3,710.2 L903.3,709.9 L905.3,710.4 L907.4,711.7 L909.4,712.8 L911.4,710.2 L913.5,712.2 L915.5,711.0 L917.5,710.3 L919.6,709.5 L921.6,709.2 L923.6,709.1 L925.7,707.5 L927.7,707.3 L929.8,708.3 L931.8,708.5 L933.8,708.1 L935.9,709.2 L937.9,711.4 L939.9,710.6 L942.0,710.3 L944.0,710.6 L946.0,710.5 L948.1,710.5 L950.1,707.7 L952.1,708.1 L954.2,709.0 L956.2,707.4 L958.3,706.7 L960.3,706.5 L962.3,707.3 L964.4,707.5 L966.4,708.0 L968.4,707.6 L970.5,708.2 L972.5,708.4 L974.5,708.2 L976.6,707.7 L978.6,708.1 L980.6,707.3 L982.7,708.0 L984.7,707.3 L986.7,705.6 L988.8,705.8 L990.8,705.8 L992.9,703.2 L994.9,705.4 L996.9,703.9 L999.0,705.5 L1001.0,706.2 L1003.0,705.6 L1005.1,707.9 L1007.1,706.0 L1009.1,707.3 L1011.2,706.4 L1013.2,705.7 L1015.2,704.2 L1017.3,705.0 L1019.3,702.7 L1021.4,703.8 L1023.4,702.4 L1025.4,703.0 L1027.5,703.5 L1029.5,702.7 L1031.5,702.4 L1033.6,703.1 L1035.6,703.8" stroke="#8b0179"/>
<path d="M628.5,891.6 L630.5,891.6 L632.6,892.1 L634.6,890.9 L636.6,890.9 L638.7,888.9 L640.7,888.0 L642.7,887.2 L644.8,886.3 L646.8,883.1 L648.9,882.4 L650.9,878.5 L652.9,876.8 L655.0,874.1 L657.0,872.6 L659.0,868.1 L661.1,865.2 L663.1,862.5 L665.1,859.7 L667.2,855.7 L669.2,849.9 L671.2,845.0 L673.3,838.8 L675.3,834.3 L677.4,826.1 L679.4,818.3 L681.4,807.9 L683.5,800.5 L685.5,790.9 L687.5,782.1 L689.6,770.5 L691.6,762.7 L693.6,752.2 L695.7,742.2 L697.7,730.8 L699.7,723.1 L701.8,712.0 L703.8,702.1 L705.8,692.1 L707.9,682.2 L709.9,673.1 L712.0,664.2 L714.0,656.4 L716.0,648.2 L718.1,640.2 L720.1,634.5 L722.1,629.4 L724.2,623.5 L726.2,619.8 L728.2,617.1 L730.3,613.6 L732.3,610.3 L734.3,608.7 L736.4,606.9 L738.4,604.8 L740.5,602.6 L742.5,602.3 L744.5,598.7 L746.6,598.9 L748.6,598.4 L750.6,597.1 L752.7,597.4 L754.7,598.1 L756.7,599.7 L758.8,600.9 L760.8,602.9 L762.8,605.2 L764.9,605.8 L766.9,608.1 L768.9,610.2 L771.0,610.3 L773.0,613.2 L775.1,613.9 L777.1,616.4 L779.1,618.3 L781.2,621.9 L783.2,623.2 L785.2,626.0 L787.3,630.0 L789.3,632.8 L791.3,635.4 L793.4,640.7 L795.4,644.2 L797.4,646.8 L799.5,649.3 L801.5,653.1 L803.6,655.9 L805.6,660.4 L807.6,661.4 L809.7,665.0 L811.7,668.0 L813.7,670.0 L815.8,672.8 L817.8,676.4 L819.8,679.1 L821.9,680.5 L823.9,685.4 L825.9,686.2 L828.0,690.1 L830.0,693.7 L832.0,694.2 L834.1,698.2 L836.1,700.7 L838.2,700.5 L840.2,700.7 L842.2,704.3 L844.3,703.7 L846.3,704.7 L848.3,706.1 L850.4,708.0 L852.4,709.5 L854.4,712.9 L856.5,712.5 L858.5,713.5 L860.5,715.0 L862.6,716.9 L864.6,719.3 L866.7,717.8 L868.7,719.0 L870.7,719.9 L872.8,719.2 L874.8,719.4 L876.8,719.4 L878.9,720.2 L880.9,719.9 L882.9,722.0 L885.0,720.3 L887.0,722.7 L889.0,723.4 L891.1,723.2 L893.1,723.3 L895.2,724.6 L897.2,723.0 L899.2,723.2 L901.3,722.3 L903.3,722.6 L905.3,721.1 L907.4,720.7 L909.4,721.2 L911.4,720.4 L913.5,720.5 L915.5,721.5 L917.5,719.2 L919.6,720.5 L921.6,721.2 L923.6,722.5 L925.7,720.8 L927.7,721.4 L929.8,721.6 L931.8,720.0 L933.8,719.8 L935.9,719.4 L937.9,718.3 L939.9,718.4 L942.0,718.0 L944.0,716.8 L946.0,717.4 L948.1,717.3 L950.1,717.1 L952.1,716.9 L954.2,718.8 L956.2,717.0 L958.3,718.0 L960.3,718.2 L962.3,715.4 L964.4,716.2 L966.4,714.6 L968.4,715.0 L970.5,714.8 L972.5,713.2 L974.5,713.2 L976.6,713.3 L978.6,712.2 L980.6,712.6 L982.7,712.2 L984.7,713.6 L986.7,713.2 L988.8,714.5 L990.8,714.3 L992.9,712.3 L994.9,712.9 L996.9,712.3 L999.0,711.5 L1001.0,710.8 L1003.0,709.6 L1005.1,709.8 L1007.1,709.1 L1009.1,708.7 L1011.2,707.9 L1013.2,709.2 L1015.2,707.6 L1017.3,709.6 L1019.3,709.5 L1021.4,708.5 L1023.4,709.3 L1025.4,710.3 L1027.5,708.2 L1029.5,707.0 L1031.5,706.8 L1033.6,706.3 L1035.6,706.4" stroke="#8d017a"/>
<path d="M628.5,872.9 L630.5,871.0 L632.6,868.9 L634.6,868.1 L636.6,866.5 L638.7,865.7 L640.7,862.6 L642.7,861.5 L644.8,860.7 L646.8,858.7 L648.9,853.4 L650.9,851.6 L652.9,846.6 L655.0,842.4 L657.0,837.7 L659.0,833.0 L661.1,828.8 L663.1,823.2 L665.1,817.2 L667.2,811.3 L669.2,805.7 L671.2,799.7 L673.3,794.1 L675.3,786.6 L677.4,780.2 L679.4,772.9 L681.4,765.3 L683.5,757.6 L685.5,749.3 L687.5,741.7 L689.6,732.2 L691.6,724.9 L693.6,715.4 L695.7,707.3 L697.7,700.1 L699.7,693.2 L701.8,686.4 L703.8,680.7 L705.8,674.7 L707.9,668.5 L709.9,662.4 L712.0,657.3 L714.0,653.2 L716.0,647.4 L718.1,641.6 L720.1,637.5 L722.1,633.4 L724.2,630.8 L726.2,626.6 L728.2,625.4 L730.3,622.0 L732.3,619.8 L734.3,618.0 L736.4,618.0 L738.4,616.5 L740.5,615.5 L742.5,616.1 L744.5,615.4 L746.6,615.8 L748.6,614.6 L750.6,612.4 L752.7,614.9 L754.7,613.1 L756.7,615.8 L758.8,616.7 L760.8,616.2 L762.8,617.1 L764.9,618.7 L766.9,622.4 L768.9,623.9 L771.0,626.1 L773.0,628.8 L775.1,632.9 L777.1,634.1 L779.1,636.6 L781.2,638.8 L783.2,641.1 L785.2,643.2 L787.3,644.2 L789.3,646.9 L791.3,649.0 L793.4,651.8 L795.4,656.0 L797.4,658.0 L799.5,661.4 L801.5,664.2 L803.6,667.3 L805.6,671.2 L807.6,673.0 L809.7,675.4 L811.7,678.2 L813.7,680.0 L815.8,681.9 L817.8,683.0 L819.8,683.1 L821.9,686.2 L823.9,687.7 L825.9,689.7 L828.0,690.1 L830.0,694.3 L832.0,693.5 L834.1,696.6 L836.1,697.8 L838.2,698.8 L840.2,700.9 L842.2,701.0 L844.3,700.2 L846.3,701.4 L848.3,702.8 L850.4,704.2 L852.4,701.8 L854.4,703.1 L856.5,704.5 L858.5,704.5 L860.5,704.5 L862.6,704.6 L864.6,705.3 L866.7,706.9 L868.7,707.9 L870.7,707.1 L872.8,707.9 L874.8,709.4 L876.8,708.8 L878.9,708.3 L880.9,708.3 L882.9,707.6 L885.0,708.2 L887.0,708.3 L889.0,708.3 L891.1,707.2 L893.1,707.3 L895.2,708.0 L897.2,708.4 L899.2,708.4 L901.3,708.3 L903.3,707.0 L905.3,706.0 L907.4,707.2 L909.4,705.9 L911.4,705.1 L913.5,703.7 L915.5,702.6 L917.5,703.8 L919.6,702.6 L921.6,701.2 L923.6,702.0 L925.7,702.0 L927.7,702.3 L929.8,703.7 L931.8,702.2 L933.8,701.3 L935.9,702.0 L937.9,701.2 L939.9,701.4 L942.0,700.4 L944.0,699.7 L946.0,698.1 L948.1,698.0 L950.1,696.7 L952.1,696.9 L954.2,696.0 L956.2,695.3 L958.3,696.5 L960.3,695.8 L962.3,697.5 L964.4,696.8 L966.4,696.8 L968.4,696.3 L970.5,695.7 L972.5,693.4 L974.5,695.1 L976.6,692.8 L978.6,693.2 L980.6,691.3 L982.7,691.0 L984.7,690.5 L986.7,689.6 L988.8,690.2 L990.8,690.7 L992.9,690.2 L994.9,689.8 L996.9,690.3 L999.0,690.7 L1001.0,691.0 L1003.0,690.3 L1005.1,689.2 L1007.1,687.5 L1009.1,687.9 L1011.2,686.4 L1013.2,685.5 L1015.2,685.7 L1017.3,685.1 L1019.3,684.8 L1021.4,683.7 L1023.4,684.1 L1025.4,683.5 L1027.5,685.0 L1029.5,684.8 L1031.5,685.3 L1033.6,684.4 L1035.6,683.4" stroke="#8e017a"/>
<path d="M628.5,874.1 L630.5,875.7 L632.6,876.0 L634.6,876.0 L636.6,876.4 L638.7,877.3 L640.7,878.7 L642.7,878.9 L644.8,879.3 L646.8,878.1 L648.9,878.6 L650.9,879.0 L652.9,877.4 L655.0,877.0 L657.0,877.5 L659.0,876.9 L661.1,878.1 L663.1,877.8 L665.1,878.3 L667.2,879.4 L669.2,877.4 L671.2,880.7 L673.3,879.7 L675.3,880.1 L677.4,881.0 L679.4,879.8 L681.4,879.4 L683.5,879.1 L685.5,878.2 L687.5,877.6 L689.6,876.5 L691.6,877.5 L693.6,877.2 L695.7,875.6 L697.7,874.6 L699.7,877.1 L701.8,875.3 L703.8,874.4 L705.8,873.6 L707.9,873.4 L709.9,872.3 L712.0,871.2 L714.0,866.7 L716.0,864.4 L718.1,861.3 L720.1,858.1 L722.1,854.5 L724.2,850.6 L726.2,846.0 L728.2,841.6 L730.3,837.0 L732.3,831.8 L734.3,825.8 L736.4,821.6 L738.4,814.7 L740.5,807.9 L742.5,800.2 L744.5,792.9 L746.6,786.1 L748.6,777.2 L750.6,770.0 L752.7,764.0 L754.7,758.5 L756.7,751.0 L758.8,745.9 L760.8,739.4 L762.8,735.9 L764.9,732.5 L766.9,728.8 L768.9,726.9 L771.0,725.3 L773.0,719.9 L775.1,717.7 L777.1,716.6 L779.1,714.0 L781.2,712.2 L783.2,711.7 L785.2,709.4 L787.3,708.3 L789.3,707.0 L791.3,705.6 L793.4,705.3 L795.4,706.3 L797.4,705.8 L799.5,706.0 L801.5,705.0 L803.6,706.7 L805.6,707.0 L807.6,705.2 L809.7,706.7 L811.7,704.0 L813.7,704.0 L815.8,703.5 L817.8,702.7 L819.8,703.3 L821.9,704.4 L823.9,703.0 L825.9,704.6 L828.0,704.6 L830.0,705.6 L832.0,706.8 L834.1,705.9 L836.1,707.3 L838.2,706.8 L840.2,706.9 L842.2,705.0 L844.3,706.4 L846.3,705.1 L848.3,706.2 L850.4,704.6 L852.4,706.5 L854.4,706.2 L856.5,706.9 L858.5,707.6 L860.5,708.9 L862.6,709.1 L864.6,709.4 L866.7,711.9 L868.7,710.3 L870.7,711.1 L872.8,711.8 L874.8,711.6 L876.8,712.0 L878.9,711.8 L880.9,712.4 L882.9,711.1 L885.0,710.7 L887.0,711.5 L889.0,711.5 L891.1,712.8 L893.1,715.3 L895.2,715.1 L897.2,715.2 L899.2,714.5 L901.3,715.1 L903.3,715.6 L905.3,714.1 L907.4,715.8 L909.4,713.4 L911.4,714.6 L913.5,713.4 L915.5,713.6 L917.5,713.5 L919.6,714.3 L921.6,713.7 L923.6,715.7 L925.7,717.1 L927.7,716.8 L929.8,716.1 L931.8,715.6 L933.8,715.9 L935.9,717.2 L937.9,715.2 L939.9,714.9 L942.0,715.2 L944.0,714.9 L946.0,713.5 L948.1,712.8 L950.1,713.5 L952.1,712.4 L954.2,712.6 L956.2,712.9 L958.3,714.4 L960.3,714.0 L962.3,716.1 L964.4,715.6 L966.4,715.2 L968.4,714.5 L970.5,712.9 L972.5,712.9 L974.5,712.4 L976.6,710.7 L978.6,711.2 L980.6,710.8 L982.7,711.0 L984.7,711.1 L986.7,712.0 L988.8,711.4 L990.8,711.6 L992.9,713.4 L994.9,712.9 L996.9,713.9 L999.0,712.7 L1001.0,712.5 L1003.0,712.2 L1005.1,710.8 L1007.1,709.9 L1009.1,710.5 L1011.2,709.5 L1013.2,709.7 L1015.2,709.0 L1017.3,709.2 L1019.3,709.5 L1021.4,709.7 L1023.4,709.4 L1025.4,711.5 L1027.5,710.7 L1029.5,710.7 L1031.5,710.2 L1033.6,709.8 L1035.6,709.8" stroke="#8f017a"/>
<path d="M628.5,852.6 L630.5,851.9 L632.6,851.8 L634.6,851.9 L636.6,853.6 L638.7,852.6 L640.7,851.2 L642.7,852.7 L644.8,851.2 L646.8,851.0 L648.9,851.1 L650.9,850.5 L652.9,850.0 L655.0,849.4 L657.0,850.8 L659.0,851.9 L661.1,851.0 L663.1,851.6 L665.1,850.9 L667.2,851.6 L669.2,850.7 L671.2,850.8 L673.3,849.5 L675.3,849.5 L677.4,848.0 L679.4,847.5 L681.4,846.3 L683.5,846.8 L685.5,845.0 L687.5,842.6 L689.6,841.6 L691.6,840.5 L693.6,838.9 L695.7,838.4 L697.7,835.9 L699.7,832.1 L701.8,826.8 L703.8,822.6 L705.8,816.9 L707.9,810.6 L709.9,803.8 L712.0,796.1 L714.0,787.5 L716.0,777.7 L718.1,768.5 L720.1,758.4 L722.1,748.8 L724.2,738.2 L726.2,728.1 L728.2,717.7 L730.3,705.9 L732.3,697.2 L734.3,687.0 L736.4,677.4 L738.4,668.5 L740.5,661.9 L742.5,654.1 L744.5,648.3 L746.6,643.1 L748.6,638.7 L750.6,636.8 L752.7,633.5 L754.7,630.1 L756.7,629.8 L758.8,629.2 L760.8,628.4 L762.8,627.1 L764.9,627.0 L766.9,625.5 L768.9,625.6 L771.0,624.2 L773.0,623.8 L775.1,625.0 L777.1,624.8 L779.1,624.4 L781.2,625.4 L783.2,627.7 L785.2,628.6 L787.3,632.1 L789.3,632.2 L791.3,634.0 L793.4,636.6 L795.4,638.2 L797.4,639.7 L799.5,642.2 L801.5,643.5 L803.6,645.1 L805.6,648.4 L807.6,651.1 L809.7,652.8 L811.7,654.8 L813.7,658.6 L815.8,662.5 L817.8,666.3 L819.8,671.6 L821.9,674.9 L823.9,679.1 L825.9,682.9 L828.0,687.7 L830.0,691.8 L832.0,694.4 L834.1,700.1 L836.1,702.4 L838.2,707.8 L840.2,711.4 L842.2,715.1 L844.3,719.2 L846.3,723.7 L848.3,728.2 L850.4,731.7 L852.4,737.0 L854.4,741.5 L856.5,745.2 L858.5,747.7 L860.5,753.2 L862.6,755.1 L864.6,756.9 L866.7,759.4 L868.7,762.8 L870.7,763.9 L872.8,766.0 L874.8,768.8 L876.8,770.0 L878.9,773.0 L880.9,775.3 L882.9,776.2 L885.0,778.3 L887.0,779.9 L889.0,783.2 L891.1,784.2 L893.1,784.7 L895.2,785.8 L897.2,785.3 L899.2,785.5 L901.3,787.8 L903.3,786.9 L905.3,787.2 L907.4,787.8 L909.4,788.2 L911.4,789.7 L913.5,790.5 L915.5,791.6 L917.5,792.3 L919.6,794.1 L921.6,793.8 L923.6,792.2 L925.7,795.5 L927.7,794.5 L929.8,794.0 L931.8,793.6 L933.8,794.0 L935.9,793.0 L937.9,793.3 L939.9,792.2 L942.0,793.6 L944.0,793.9 L946.0,793.9 L948.1,795.1 L950.1,795.1 L952.1,796.0 L954.2,794.9 L956.2,795.2 L958.3,797.0 L960.3,796.4 L962.3,795.9 L964.4,795.8 L966.4,795.0 L968.4,793.9 L970.5,792.5 L972.5,794.9 L974.5,793.8 L976.6,794.4 L978.6,795.7 L980.6,795.8 L982.7,797.0 L984.7,795.6 L986.7,796.8 L988.8,797.1 L990.8,796.9 L992.9,795.7 L994.9,794.2 L996.9,795.6 L999.0,794.5 L1001.0,793.7 L1003.0,793.8 L1005.1,794.5 L1007.1,794.9 L1009.1,794.6 L1011.2,795.1 L1013.2,795.7 L1015.2,795.2 L1017.3,797.2 L1019.3,797.2 L1021.4,796.4 L1023.4,795.2 L1025.4,795.8 L1027.5,794.9 L1029.5,794.2 L1031.5,794.1 L1033.6,793.9 L1035.6,792.8" stroke="#b30680"/>
<path d="M628.5,880.5 L630.5,881.7 L632.6,880.7 L634.6,879.6 L636.6,879.4 L638.7,878.6 L640.7,878.4 L642.7,878.6 L644.8,878.3 L646.8,876.5 L648.9,877.0 L650.9,877.2 L652.9,876.6 L655.0,876.3 L657.0,877.6 L659.0,878.0 L661.1,878.4 L663.1,877.3 L665.1,877.9 L667.2,876.9 L669.2,875.7 L671.2,876.0 L673.3,874.1 L675.3,872.9 L677.4,871.8 L679.4,871.5 L681.4,870.8 L683.5,870.0 L685.5,868.5 L687.5,869.4 L689.6,868.7 L691.6,867.2 L693.6,866.8 L695.7,863.6 L697.7,862.0 L699.7,858.8 L701.8,855.6 L703.8,851.9 L705.8,847.1 L707.9,842.8 L709.9,837.6 L712.0,831.9 L714.0,826.4 L716.0,819.4 L718.1,813.3 L720.1,804.9 L722.1,797.2 L724.2,787.9 L726.2,779.4 L728.2,769.2 L730.3,756.4 L732.3,745.9 L734.3,734.4 L736.4,722.0 L738.4,714.0 L740.5,700.9 L742.5,691.9 L744.5,682.8 L746.6,674.2 L748.6,667.5 L750.6,660.7 L752.7,654.7 L754.7,649.7 L756.7,645.0 L758.8,642.0 L760.8,636.4 L762.8,635.5 L764.9,630.9 L766.9,628.1 L768.9,625.8 L771.0,624.8 L773.0,622.4 L775.1,621.3 L777.1,620.0 L779.1,621.6 L781.2,620.4 L783.2,621.1 L785.2,622.7 L787.3,622.6 L789.3,623.8 L791.3,624.0 L793.4,624.9 L795.4,625.1 L797.4,625.2 L799.5,626.8 L801.5,628.2 L803.6,628.7 L805.6,630.5 L807.6,633.1 L809.7,633.7 L811.7,635.6 L813.7,638.3 L815.8,641.3 L817.8,644.0 L819.8,647.0 L821.9,649.2 L823.9,651.5 L825.9,654.6 L828.0,657.7 L830.0,658.0 L832.0,663.0 L834.1,665.5 L836.1,668.0 L838.2,670.7 L840.2,673.9 L842.2,678.1 L844.3,679.2 L846.3,683.5 L848.3,687.6 L850.4,690.6 L852.4,696.0 L854.4,698.7 L856.5,701.2 L858.5,704.5 L860.5,706.7 L862.6,709.5 L864.6,710.5 L866.7,712.6 L868.7,714.9 L870.7,717.0 L872.8,718.3 L874.8,721.4 L876.8,724.1 L878.9,726.5 L880.9,729.0 L882.9,730.6 L885.0,732.7 L887.0,732.7 L889.0,734.3 L891.1,736.1 L893.1,736.0 L895.2,738.9 L897.2,736.2 L899.2,738.3 L901.3,737.4 L903.3,739.8 L905.3,738.3 L907.4,740.3 L909.4,741.8 L911.4,741.4 L913.5,742.1 L915.5,741.8 L917.5,744.5 L919.6,744.4 L921.6,744.4 L923.6,743.3 L925.7,744.5 L927.7,742.5 L929.8,743.1 L931.8,743.1 L933.8,741.6 L935.9,742.3 L937.9,742.3 L939.9,743.6 L942.0,743.9 L944.0,743.3 L946.0,744.9 L948.1,744.7 L950.1,745.2 L952.1,745.3 L954.2,745.4 L956.2,745.2 L958.3,744.3 L960.3,744.4 L962.3,742.6 L964.4,742.0 L966.4,742.7 L968.4,740.7 L970.5,742.2 L972.5,741.5 L974.5,743.1 L976.6,741.0 L978.6,743.1 L980.6,743.9 L982.7,742.8 L984.7,744.0 L986.7,743.7 L988.8,741.3 L990.8,740.9 L992.9,741.2 L994.9,739.9 L996.9,739.6 L999.0,739.1 L1001.0,738.7 L1003.0,739.4 L1005.1,739.3 L1007.1,741.1 L1009.1,740.7 L1011.2,741.0 L1013.2,741.1 L1015.2,741.3 L1017.3,741.3 L1019.3,741.5 L1021.4,739.2 L1023.4,739.0 L1025.4,738.1 L1027.5,737.9 L1029.5,736.7 L1031.5,736.7 L1033.6,736.4 L1035.6,737.2" stroke="#b90d84"/>
<path d="M628.5,885.7 L630.5,885.8 L632.6,886.2 L634.6,885.6 L636.6,885.7 L638.7,886.8 L640.7,886.5 L642.7,887.8 L644.8,888.2 L646.8,887.8 L648.9,888.2 L650.9,889.5 L652.9,889.0 L655.0,888.9 L657.0,887.7 L659.0,887.8 L661.1,887.6 L663.1,888.5 L665.1,888.1 L667.2,887.2 L669.2,886.5 L671.2,886.1 L673.3,887.1 L675.3,888.8 L677.4,889.2 L679.4,888.2 L681.4,890.2 L683.5,889.9 L685.5,889.9 L687.5,889.8 L689.6,889.3 L691.6,888.4 L693.6,887.3 L695.7,886.9 L697.7,887.1 L699.7,886.9 L701.8,887.1 L703.8,886.9 L705.8,887.5 L707.9,888.2 L709.9,887.7 L712.0,888.9 L714.0,887.6 L716.0,886.6 L718.1,885.7 L720.1,884.2 L722.1,880.8 L724.2,880.2 L726.2,877.0 L728.2,874.7 L730.3,872.4 L732.3,870.9 L734.3,866.9 L736.4,864.0 L738.4,860.3 L740.5,855.7 L742.5,854.6 L744.5,847.8 L746.6,844.8 L748.6,837.6 L750.6,834.4 L752.7,828.3 L754.7,824.1 L756.7,821.6 L758.8,817.0 L760.8,813.3 L762.8,810.7 L764.9,809.6 L766.9,807.0 L768.9,804.4 L771.0,802.9 L773.0,802.6 L775.1,803.5 L777.1,801.8 L779.1,800.1 L781.2,800.1 L783.2,799.2 L785.2,797.3 L787.3,796.6 L789.3,797.0 L791.3,794.9 L793.4,795.4 L795.4,795.1 L797.4,794.9 L799.5,795.7 L801.5,796.4 L803.6,796.1 L805.6,796.6 L807.6,796.3 L809.7,797.4 L811.7,796.9 L813.7,797.1 L815.8,797.0 L817.8,796.7 L819.8,796.7 L821.9,795.8 L823.9,793.8 L825.9,792.6 L828.0,794.7 L830.0,794.2 L832.0,794.3 L834.1,795.8 L836.1,797.1 L838.2,797.3 L840.2,796.7 L842.2,797.0 L844.3,796.6 L846.3,796.7 L848.3,796.9 L850.4,796.8 L852.4,795.4 L854.4,795.3 L856.5,795.1 L858.5,795.2 L860.5,794.9 L862.6,796.5 L864.6,794.9 L866.7,796.0 L868.7,797.1 L870.7,797.0 L872.8,797.6 L874.8,797.6 L876.8,797.1 L878.9,797.9 L880.9,796.0 L882.9,796.0 L885.0,795.2 L887.0,795.9 L889.0,796.1 L891.1,793.1 L893.1,795.3 L895.2,795.5 L897.2,795.5 L899.2,796.5 L901.3,796.6 L903.3,797.3 L905.3,797.8 L907.4,798.2 L909.4,797.9 L911.4,797.9 L913.5,796.4 L915.5,795.5 L917.5,795.6 L919.6,794.7 L921.6,796.2 L923.6,795.5 L925.7,794.7 L927.7,795.2 L929.8,796.9 L931.8,797.1 L933.8,797.8 L935.9,798.0 L937.9,798.8 L939.9,797.5 L942.0,798.1 L944.0,798.1 L946.0,797.1 L948.1,796.4 L950.1,796.2 L952.1,795.2 L954.2,796.0 L956.2,795.3 L958.3,795.8 L960.3,795.9 L962.3,797.3 L964.4,796.7 L966.4,797.7 L968.4,798.2 L970.5,798.5 L972.5,798.8 L974.5,797.7 L976.6,797.9 L978.6,796.4 L980.6,797.0 L982.7,795.4 L984.7,794.4 L986.7,795.5 L988.8,794.7 L990.8,796.6 L992.9,796.0 L994.9,796.2 L996.9,797.8 L999.0,797.2 L1001.0,797.8 L1003.0,797.3 L1005.1,798.2 L1007.1,796.7 L1009.1,796.0 L1011.2,796.4 L1013.2,796.3 L1015.2,795.5 L1017.3,795.0 L1019.3,794.9 L1021.4,794.2 L1023.4,795.8 L1025.4,795.0 L1027.5,796.7 L1029.5,797.6 L1031.5,797.0 L1033.6,798.0 L1035.6,796.9" stroke="#c81d8c"/>
<path d="M628.5,874.7 L630.5,874.5 L632.6,873.2 L634.6,873.8 L636.6,873.3 L638.7,873.9 L640.7,875.3 L642.7,874.7 L644.8,873.6 L646.8,873.3 L648.9,875.2 L650.9,874.2 L652.9,875.4 L655.0,874.2 L657.0,874.1 L659.0,874.2 L661.1,873.1 L663.1,871.6 L665.1,870.7 L667.2,871.9 L669.2,870.8 L671.2,871.1 L673.3,870.9 L675.3,871.8 L677.4,871.0 L679.4,870.6 L681.4,871.3 L683.5,869.9 L685.5,869.6 L687.5,868.4 L689.6,865.8 L691.6,865.2 L693.6,863.0 L695.7,861.4 L697.7,858.2 L699.7,856.2 L701.8,853.7 L703.8,851.6 L705.8,846.7 L707.9,843.7 L709.9,840.0 L712.0,835.2 L714.0,829.8 L716.0,823.0 L718.1,813.8 L720.1,806.2 L722.1,798.2 L724.2,785.8 L726.2,777.5 L728.2,766.0 L730.3,755.9 L732.3,746.2 L734.3,737.2 L736.4,727.1 L738.4,719.3 L740.5,710.6 L742.5,702.7 L744.5,696.5 L746.6,690.1 L748.6,683.3 L750.6,676.2 L752.7,673.6 L754.7,666.7 L756.7,663.3 L758.8,660.6 L760.8,658.0 L762.8,657.6 L764.9,656.0 L766.9,654.6 L768.9,653.8 L771.0,651.9 L773.0,652.0 L775.1,653.3 L777.1,653.6 L779.1,653.0 L781.2,652.4 L783.2,652.9 L785.2,652.7 L787.3,652.6 L789.3,652.0 L791.3,652.7 L793.4,653.7 L795.4,654.6 L797.4,653.3 L799.5,656.1 L801.5,658.1 L803.6,660.1 L805.6,660.4 L807.6,661.9 L809.7,663.7 L811.7,665.7 L813.7,667.0 L815.8,668.2 L817.8,670.5 L819.8,672.6 L821.9,673.1 L823.9,674.6 L825.9,678.5 L828.0,678.9 L830.0,681.5 L832.0,684.8 L834.1,687.7 L836.1,690.9 L838.2,692.4 L840.2,696.0 L842.2,698.1 L844.3,699.9 L846.3,704.4 L848.3,704.9 L850.4,707.0 L852.4,708.3 L854.4,709.4 L856.5,711.3 L858.5,714.8 L860.5,715.2 L862.6,717.2 L864.6,719.5 L866.7,721.0 L868.7,722.9 L870.7,723.9 L872.8,727.4 L874.8,727.5 L876.8,728.9 L878.9,729.9 L880.9,729.5 L882.9,729.5 L885.0,730.4 L887.0,730.5 L889.0,731.4 L891.1,730.2 L893.1,730.4 L895.2,732.4 L897.2,733.0 L899.2,734.0 L901.3,733.9 L903.3,735.0 L905.3,737.3 L907.4,736.1 L909.4,735.5 L911.4,736.1 L913.5,735.8 L915.5,734.0 L917.5,734.6 L919.6,734.8 L921.6,733.0 L923.6,732.6 L925.7,734.3 L927.7,735.2 L929.8,736.6 L931.8,736.4 L933.8,737.6 L935.9,735.9 L937.9,736.7 L939.9,735.4 L942.0,736.1 L944.0,736.7 L946.0,735.0 L948.1,734.3 L950.1,734.5 L952.1,733.1 L954.2,733.4 L956.2,733.6 L958.3,732.4 L960.3,734.6 L962.3,734.9 L964.4,734.7 L966.4,735.0 L968.4,735.0 L970.5,734.9 L972.5,734.8 L974.5,735.7 L976.6,734.6 L978.6,733.8 L980.6,731.7 L982.7,732.8 L984.7,732.0 L986.7,730.0 L988.8,730.0 L990.8,731.5 L992.9,731.7 L994.9,731.6 L996.9,733.8 L999.0,732.9 L1001.0,733.6 L1003.0,732.2 L1005.1,733.2 L1007.1,733.1 L1009.1,731.1 L1011.2,732.1 L1013.2,730.3 L1015.2,730.3 L1017.3,730.1 L1019.3,728.6 L1021.4,730.5 L1023.4,728.1 L1025.4,730.6 L1027.5,730.1 L1029.5,730.4 L1031.5,730.1 L1033.6,731.0 L1035.6,732.7" stroke="#cc218e"/>
<path d="M628.5,896.3 L630.5,896.9 L632.6,898.9 L634.6,897.7 L636.6,898.5 L638.7,899.9 L640.7,900.2 L642.7,899.0 L644.8,899.4 L646.8,898.7 L648.9,897.8 L650.9,898.7 L652.9,896.1 L655.0,896.8 L657.0,895.9 L659.0,895.1 L661.1,897.5 L663.1,896.4 L665.1,895.4 L667.2,896.4 L669.2,896.4 L671.2,896.6 L673.3,895.2 L675.3,895.9 L677.4,894.6 L679.4,894.3 L681.4,891.9 L683.5,888.0 L685.5,886.7 L687.5,885.3 L689.6,881.1 L691.6,879.6 L693.6,875.7 L695.7,872.3 L697.7,868.0 L699.7,863.7 L701.8,858.3 L703.8,850.3 L705.8,844.2 L707.9,833.7 L709.9,823.6 L712.0,814.4 L714.0,800.7 L716.0,791.1 L718.1,777.6 L720.1,764.3 L722.1,751.2 L724.2,737.7 L726.2,726.9 L728.2,717.3 L730.3,705.8 L732.3,695.6 L734.3,689.1 L736.4,680.8 L738.4,673.1 L740.5,667.9 L742.5,660.7 L744.5,656.0 L746.6,651.7 L748.6,648.2 L750.6,645.6 L752.7,641.6 L754.7,639.7 L756.7,638.5 L758.8,636.4 L760.8,636.7 L762.8,635.5 L764.9,635.7 L766.9,635.5 L768.9,636.7 L771.0,635.1 L773.0,634.5 L775.1,635.1 L777.1,634.3 L779.1,634.5 L781.2,634.6 L783.2,633.5 L785.2,633.8 L787.3,635.3 L789.3,635.8 L791.3,638.5 L793.4,639.1 L795.4,639.4 L797.4,640.2 L799.5,643.3 L801.5,644.8 L803.6,645.4 L805.6,647.0 L807.6,647.9 L809.7,650.2 L811.7,649.8 L813.7,653.0 L815.8,654.3 L817.8,655.1 L819.8,659.2 L821.9,661.7 L823.9,664.5 L825.9,668.5 L828.0,671.1 L830.0,674.3 L832.0,675.5 L834.1,678.6 L836.1,683.2 L838.2,684.7 L840.2,688.3 L842.2,691.2 L844.3,692.3 L846.3,695.0 L848.3,697.0 L850.4,698.3 L852.4,700.8 L854.4,702.9 L856.5,705.9 L858.5,707.9 L860.5,711.2 L862.6,712.2 L864.6,716.0 L866.7,715.4 L868.7,717.5 L870.7,719.8 L872.8,719.2 L874.8,721.0 L876.8,721.2 L878.9,721.3 L880.9,722.7 L882.9,723.5 L885.0,724.3 L887.0,724.8 L889.0,725.5 L891.1,726.3 L893.1,727.4 L895.2,728.7 L897.2,728.8 L899.2,728.3 L901.3,727.7 L903.3,727.9 L905.3,727.0 L907.4,727.1 L909.4,726.3 L911.4,726.7 L913.5,726.5 L915.5,727.7 L917.5,728.9 L919.6,728.0 L921.6,727.9 L923.6,729.0 L925.7,728.0 L927.7,728.7 L929.8,729.6 L931.8,728.8 L933.8,728.3 L935.9,728.0 L937.9,727.9 L939.9,726.4 L942.0,726.4 L944.0,726.5 L946.0,724.8 L948.1,725.2 L950.1,725.7 L952.1,725.4 L954.2,726.8 L956.2,726.3 L958.3,726.8 L960.3,726.6 L962.3,726.7 L964.4,725.3 L966.4,726.3 L968.4,725.8 L970.5,724.3 L972.5,724.8 L974.5,725.0 L976.6,723.4 L978.6,723.6 L980.6,723.0 L982.7,724.0 L984.7,722.2 L986.7,724.5 L988.8,724.7 L990.8,724.6 L992.9,724.2 L994.9,725.3 L996.9,723.8 L999.0,723.9 L1001.0,721.8 L1003.0,722.8 L1005.1,721.9 L1007.1,722.1 L1009.1,720.7 L1011.2,719.4 L1013.2,721.0 L1015.2,721.6 L1017.3,721.6 L1019.3,722.5 L1021.4,721.2 L1023.4,722.5 L1025.4,722.2 L1027.5,721.0 L1029.5,721.1 L1031.5,720.9 L1033.6,720.8 L1035.6,719.1" stroke="#ce248f"/>
<path d="M628.5,863.3 L630.5,863.9 L632.6,862.6 L634.6,862.5 L636.6,862.0 L638.7,864.0 L640.7,863.2 L642.7,864.3 L644.8,866.0 L646.8,866.5 L648.9,864.9 L650.9,866.5 L652.9,865.8 L655.0,865.4 L657.0,864.9 L659.0,865.2 L661.1,863.5 L663.1,863.4 L665.1,863.6 L667.2,863.5 L669.2,862.7 L671.2,863.1 L673.3,864.1 L675.3,864.2 L677.4,864.9 L679.4,861.3 L681.4,864.0 L683.5,861.3 L685.5,860.3 L687.5,859.1 L689.6,857.1 L691.6,854.4 L693.6,851.8 L695.7,849.9 L697.7,846.3 L699.7,843.8 L701.8,841.1 L703.8,839.0 L705.8,835.5 L707.9,832.4 L709.9,828.9 L712.0,823.5 L714.0,819.2 L716.0,813.2 L718.1,809.3 L720.1,803.9 L722.1,797.4 L724.2,791.5 L726.2,784.6 L728.2,780.5 L730.3,776.0 L732.3,769.2 L734.3,766.4 L736.4,762.7 L738.4,760.1 L740.5,756.8 L742.5,753.3 L744.5,751.7 L746.6,749.0 L748.6,747.2 L750.6,744.4 L752.7,743.1 L754.7,742.3 L756.7,738.7 L758.8,736.5 L760.8,736.1 L762.8,735.1 L764.9,734.9 L766.9,734.3 L768.9,734.5 L771.0,735.0 L773.0,733.7 L775.1,735.0 L777.1,734.4 L779.1,735.1 L781.2,735.0 L783.2,733.7 L785.2,733.1 L787.3,734.4 L789.3,733.0 L791.3,732.7 L793.4,732.0 L795.4,731.9 L797.4,733.6 L799.5,733.4 L801.5,734.5 L803.6,733.9 L805.6,736.1 L807.6,736.0 L809.7,738.2 L811.7,737.8 L813.7,736.9 L815.8,735.2 L817.8,737.5 L819.8,737.0 L821.9,736.5 L823.9,736.2 L825.9,737.1 L828.0,735.8 L830.0,737.3 L832.0,738.3 L834.1,738.0 L836.1,739.1 L838.2,738.5 L840.2,741.3 L842.2,739.5 L844.3,741.5 L846.3,741.3 L848.3,741.1 L850.4,741.9 L852.4,741.2 L854.4,741.2 L856.5,739.6 L858.5,740.1 L860.5,741.6 L862.6,741.6 L864.6,741.5 L866.7,742.8 L868.7,744.1 L870.7,744.0 L872.8,744.1 L874.8,745.3 L876.8,745.2 L878.9,744.2 L880.9,744.7 L882.9,743.9 L885.0,744.0 L887.0,743.6 L889.0,743.0 L891.1,745.1 L893.1,743.6 L895.2,743.3 L897.2,745.4 L899.2,745.9 L901.3,746.6 L903.3,746.0 L905.3,747.2 L907.4,746.8 L909.4,747.9 L911.4,747.9 L913.5,746.6 L915.5,745.8 L917.5,745.3 L919.6,744.1 L921.6,745.1 L923.6,745.3 L925.7,744.9 L927.7,745.0 L929.8,746.6 L931.8,746.5 L933.8,747.7 L935.9,747.3 L937.9,747.7 L939.9,748.3 L942.0,748.5 L944.0,746.4 L946.0,746.8 L948.1,745.4 L950.1,744.7 L952.1,745.1 L954.2,744.9 L956.2,744.6 L958.3,746.2 L960.3,745.8 L962.3,746.9 L964.4,748.4 L966.4,747.1 L968.4,747.6 L970.5,747.9 L972.5,747.8 L974.5,747.8 L976.6,746.1 L978.6,746.2 L980.6,745.3 L982.7,746.3 L984.7,745.8 L986.7,745.2 L988.8,746.0 L990.8,745.5 L992.9,746.3 L994.9,747.7 L996.9,748.1 L999.0,748.5 L1001.0,748.8 L1003.0,747.9 L1005.1,748.4 L1007.1,748.7 L1009.1,746.4 L1011.2,746.6 L1013.2,746.5 L1015.2,745.7 L1017.3,745.8 L1019.3,745.0 L1021.4,746.2 L1023.4,746.9 L1025.4,745.9 L1027.5,747.5 L1029.5,747.7 L1031.5,747.8 L1033.6,748.8 L1035.6,749.5" stroke="#cf258f"/>
<path d="M628.5,905.5 L630.5,904.8 L632.6,904.5 L634.6,904.2 L636.6,904.6 L638.7,905.5 L640.7,903.9 L642.7,906.4 L644.8,905.1 L646.8,904.9 L648.9,904.4 L650.9,903.8 L652.9,904.2 L655.0,902.9 L657.0,901.5 L659.0,901.0 L661.1,901.6 L663.1,902.7 L665.1,901.9 L667.2,903.6 L669.2,903.2 L671.2,903.8 L673.3,902.5 L675.3,904.7 L677.4,904.3 L679.4,904.8 L681.4,903.4 L683.5,901.4 L685.5,900.4 L687.5,900.4 L689.6,899.2 L691.6,898.7 L693.6,899.7 L695.7,901.2 L697.7,900.6 L699.7,900.5 L701.8,900.5 L703.8,900.1 L705.8,901.1 L707.9,900.7 L709.9,900.2 L712.0,899.3 L714.0,898.7 L716.0,896.8 L718.1,896.3 L720.1,895.7 L722.1,896.0 L724.2,895.3 L726.2,893.0 L728.2,892.8 L730.3,892.7 L732.3,890.7 L734.3,892.1 L736.4,888.9 L738.4,887.1 L740.5,885.4 L742.5,882.1 L744.5,877.4 L746.6,873.0 L748.6,866.9 L750.6,862.5 L752.7,855.4 L754.7,851.1 L756.7,846.2 L758.8,839.9 L760.8,834.8 L762.8,829.0 L764.9,824.6 L766.9,821.4 L768.9,817.4 L771.0,815.2 L773.0,812.0 L775.1,807.3 L777.1,804.2 L779.1,801.4 L781.2,800.2 L783.2,797.9 L785.2,797.4 L787.3,795.8 L789.3,795.2 L791.3,797.1 L793.4,795.9 L795.4,796.0 L797.4,796.8 L799.5,796.5 L801.5,795.4 L803.6,793.5 L805.6,796.2 L807.6,795.3 L809.7,793.8 L811.7,794.1 L813.7,793.1 L815.8,793.7 L817.8,792.2 L819.8,793.1 L821.9,792.1 L823.9,792.5 L825.9,793.0 L828.0,793.1 L830.0,794.3 L832.0,794.1 L834.1,794.9 L836.1,796.1 L838.2,794.7 L840.2,795.2 L842.2,794.2 L844.3,793.9 L846.3,792.3 L848.3,793.2 L850.4,792.7 L852.4,792.7 L854.4,792.5 L856.5,794.0 L858.5,792.6 L860.5,794.8 L862.6,794.6 L864.6,794.3 L866.7,794.7 L868.7,795.6 L870.7,795.1 L872.8,795.1 L874.8,794.4 L876.8,793.2 L878.9,793.8 L880.9,792.5 L882.9,792.4 L885.0,794.3 L887.0,793.3 L889.0,794.0 L891.1,794.5 L893.1,793.3 L895.2,794.9 L897.2,793.5 L899.2,795.1 L901.3,795.7 L903.3,794.8 L905.3,794.4 L907.4,793.3 L909.4,794.1 L911.4,793.8 L913.5,792.9 L915.5,792.5 L917.5,792.4 L919.6,793.0 L921.6,792.7 L923.6,794.6 L925.7,794.2 L927.7,794.4 L929.8,794.8 L931.8,795.0 L933.8,794.5 L935.9,794.4 L937.9,795.4 L939.9,794.7 L942.0,794.4 L944.0,792.4 L946.0,792.8 L948.1,793.0 L950.1,794.2 L952.1,794.0 L954.2,794.7 L956.2,794.2 L958.3,795.4 L960.3,797.4 L962.3,797.5 L964.4,796.3 L966.4,795.6 L968.4,794.8 L970.5,794.9 L972.5,793.2 L974.5,792.9 L976.6,793.3 L978.6,793.1 L980.6,791.9 L982.7,794.8 L984.7,795.6 L986.7,794.3 L988.8,796.2 L990.8,795.6 L992.9,796.5 L994.9,796.0 L996.9,795.8 L999.0,796.4 L1001.0,795.6 L1003.0,796.3 L1005.1,793.8 L1007.1,794.1 L1009.1,793.5 L1011.2,794.6 L1013.2,792.9 L1015.2,794.9 L1017.3,794.0 L1019.3,794.5 L1021.4,797.1 L1023.4,797.2 L1025.4,795.3 L1027.5,797.0 L1029.5,796.2 L1031.5,794.8 L1033.6,795.5 L1035.6,795.2" stroke="#d42a92"/>
<path d="M628.5,893.1 L630.5,892.9 L632.6,891.7 L634.6,891.2 L636.6,891.1 L638.7,891.6 L640.7,891.4 L642.7,891.0 L644.8,893.4 L646.8,893.0 L648.9,893.3 L650.9,893.6 L652.9,893.5 L655.0,893.5 L657.0,892.7 L659.0,891.9 L661.1,892.0 L663.1,890.2 L665.1,891.4 L667.2,890.6 L669.2,890.9 L671.2,890.6 L673.3,891.4 L675.3,891.0 L677.4,892.3 L679.4,892.7 L681.4,893.1 L683.5,891.5 L685.5,892.2 L687.5,892.1 L689.6,893.0 L691.6,889.3 L693.6,890.8 L695.7,889.9 L697.7,889.6 L699.7,888.0 L701.8,889.4 L703.8,888.6 L705.8,889.4 L707.9,891.6 L709.9,889.2 L712.0,891.5 L714.0,891.7 L716.0,890.4 L718.1,890.4 L720.1,890.9 L722.1,889.8 L724.2,888.3 L726.2,886.3 L728.2,885.6 L730.3,886.7 L732.3,884.9 L734.3,884.5 L736.4,883.9 L738.4,882.3 L740.5,880.6 L742.5,879.6 L744.5,878.5 L746.6,876.8 L748.6,874.4 L750.6,870.3 L752.7,868.2 L754.7,863.8 L756.7,859.9 L758.8,854.6 L760.8,852.3 L762.8,848.1 L764.9,844.8 L766.9,842.2 L768.9,838.9 L771.0,837.4 L773.0,833.6 L775.1,833.5 L777.1,830.9 L779.1,830.0 L781.2,828.2 L783.2,826.7 L785.2,826.3 L787.3,823.8 L789.3,823.2 L791.3,822.3 L793.4,821.6 L795.4,822.0 L797.4,820.5 L799.5,820.3 L801.5,819.3 L803.6,820.2 L805.6,822.0 L807.6,820.9 L809.7,821.6 L811.7,820.3 L813.7,821.6 L815.8,822.4 L817.8,821.0 L819.8,820.6 L821.9,819.4 L823.9,820.0 L825.9,820.0 L828.0,819.4 L830.0,819.9 L832.0,819.2 L834.1,820.3 L836.1,819.0 L838.2,820.1 L840.2,821.6 L842.2,821.2 L844.3,820.7 L846.3,822.3 L848.3,821.0 L850.4,821.6 L852.4,819.4 L854.4,821.1 L856.5,819.8 L858.5,819.3 L860.5,818.8 L862.6,818.9 L864.6,820.2 L866.7,820.4 L868.7,821.2 L870.7,822.0 L872.8,822.6 L874.8,823.4 L876.8,822.1 L878.9,820.9 L880.9,822.4 L882.9,821.7 L885.0,821.4 L887.0,821.0 L889.0,821.3 L891.1,820.9 L893.1,820.6 L895.2,819.5 L897.2,821.4 L899.2,821.6 L901.3,822.8 L903.3,821.1 L905.3,823.2 L907.4,823.4 L909.4,821.3 L911.4,822.2 L913.5,821.7 L915.5,821.1 L917.5,820.4 L919.6,820.4 L921.6,820.4 L923.6,820.9 L925.7,819.8 L927.7,820.9 L929.8,822.6 L931.8,821.9 L933.8,822.6 L935.9,824.3 L937.9,822.6 L939.9,823.3 L942.0,823.7 L944.0,823.6 L946.0,822.7 L948.1,821.1 L950.1,822.7 L952.1,822.1 L954.2,820.3 L956.2,821.8 L958.3,821.5 L960.3,821.9 L962.3,822.6 L964.4,822.6 L966.4,823.3 L968.4,823.3 L970.5,823.4 L972.5,824.2 L974.5,824.1 L976.6,824.2 L978.6,822.9 L980.6,822.2 L982.7,822.3 L984.7,821.8 L986.7,822.9 L988.8,821.9 L990.8,821.8 L992.9,821.8 L994.9,822.4 L996.9,823.6 L999.0,824.5 L1001.0,823.4 L1003.0,824.6 L1005.1,824.4 L1007.1,823.9 L1009.1,824.1 L1011.2,823.0 L1013.2,822.9 L1015.2,823.1 L1017.3,821.9 L1019.3,821.9 L1021.4,823.3 L1023.4,823.6 L1025.4,822.3 L1027.5,823.4 L1029.5,825.3 L1031.5,825.0 L1033.6,825.0 L1035.6,824.4" stroke="#db3296"/>
<path d="M628.5,856.6 L630.5,857.1 L632.6,858.4 L634.6,856.8 L636.6,856.6 L638.7,858.0 L640.7,858.6 L642.7,858.5 L644.8,859.1 L646.8,858.7 L648.9,858.3 L650.9,858.7 L652.9,858.1 L655.0,857.2 L657.0,856.2 L659.0,855.0 L661.1,854.8 L663.1,854.4 L665.1,853.9 L667.2,854.6 L669.2,853.9 L671.2,855.0 L673.3,854.5 L675.3,854.4 L677.4,853.7 L679.4,852.3 L681.4,852.0 L683.5,849.9 L685.5,849.7 L687.5,847.6 L689.6,846.2 L691.6,844.6 L693.6,843.3 L695.7,839.1 L697.7,838.0 L699.7,835.6 L701.8,833.4 L703.8,831.0 L705.8,826.5 L707.9,823.6 L709.9,818.3 L712.0,810.6 L714.0,804.4 L716.0,798.0 L718.1,790.6 L720.1,782.5 L722.1,774.0 L724.2,764.9 L726.2,755.2 L728.2,743.9 L730.3,735.8 L732.3,725.9 L734.3,716.6 L736.4,707.8 L738.4,698.1 L740.5,690.5 L742.5,681.7 L744.5,673.0 L746.6,666.2 L748.6,658.7 L750.6,652.6 L752.7,648.0 L754.7,642.2 L756.7,638.5 L758.8,634.5 L760.8,629.9 L762.8,630.4 L764.9,627.6 L766.9,626.2 L768.9,623.5 L771.0,625.4 L773.0,623.4 L775.1,625.3 L777.1,623.7 L779.1,624.2 L781.2,623.8 L783.2,623.7 L785.2,624.4 L787.3,626.4 L789.3,625.6 L791.3,627.3 L793.4,630.3 L795.4,630.7 L797.4,633.4 L799.5,635.7 L801.5,638.2 L803.6,642.0 L805.6,644.5 L807.6,646.4 L809.7,648.6 L811.7,650.0 L813.7,652.2 L815.8,655.1 L817.8,658.3 L819.8,661.8 L821.9,664.6 L823.9,665.6 L825.9,670.4 L828.0,674.4 L830.0,676.9 L832.0,681.7 L834.1,683.5 L836.1,687.5 L838.2,690.5 L840.2,694.2 L842.2,696.9 L844.3,697.8 L846.3,701.1 L848.3,703.5 L850.4,705.1 L852.4,706.9 L854.4,708.3 L856.5,711.5 L858.5,713.7 L860.5,717.6 L862.6,718.5 L864.6,720.9 L866.7,721.5 L868.7,725.4 L870.7,725.7 L872.8,728.7 L874.8,728.2 L876.8,729.8 L878.9,730.5 L880.9,731.0 L882.9,730.6 L885.0,731.7 L887.0,732.2 L889.0,732.5 L891.1,732.8 L893.1,734.0 L895.2,735.4 L897.2,737.2 L899.2,737.1 L901.3,738.3 L903.3,738.6 L905.3,738.2 L907.4,738.7 L909.4,738.0 L911.4,737.5 L913.5,737.5 L915.5,737.4 L917.5,736.3 L919.6,738.3 L921.6,736.5 L923.6,738.6 L925.7,739.5 L927.7,740.5 L929.8,740.5 L931.8,741.2 L933.8,741.0 L935.9,739.6 L937.9,741.8 L939.9,740.1 L942.0,737.7 L944.0,738.2 L946.0,738.9 L948.1,737.3 L950.1,737.7 L952.1,736.7 L954.2,738.2 L956.2,739.6 L958.3,740.3 L960.3,741.1 L962.3,739.6 L964.4,740.3 L966.4,739.0 L968.4,739.7 L970.5,739.8 L972.5,738.4 L974.5,738.0 L976.6,736.5 L978.6,737.3 L980.6,737.1 L982.7,735.5 L984.7,737.4 L986.7,737.0 L988.8,736.9 L990.8,738.7 L992.9,738.2 L994.9,739.9 L996.9,738.0 L999.0,738.2 L1001.0,738.0 L1003.0,735.9 L1005.1,737.8 L1007.1,736.3 L1009.1,735.5 L1011.2,735.6 L1013.2,735.3 L1015.2,734.9 L1017.3,734.5 L1019.3,735.8 L1021.4,735.9 L1023.4,736.6 L1025.4,736.6 L1027.5,735.3 L1029.5,736.7 L1031.5,736.0 L1033.6,734.8 L1035.6,735.3" stroke="#dd3597"/>
<path d="M628.5,906.1 L630.5,906.0 L632.6,905.1 L634.6,907.0 L636.6,905.1 L638.7,905.3 L640.7,906.7 L642.7,906.3 L644.8,906.3 L646.8,905.9 L648.9,905.7 L650.9,906.0 L652.9,904.5 L655.0,907.2 L657.0,904.7 L659.0,906.6 L661.1,905.9 L663.1,906.0 L665.1,905.5 L667.2,905.9 L669.2,905.9 L671.2,905.5 L673.3,903.9 L675.3,906.1 L677.4,903.4 L679.4,904.9 L681.4,903.1 L683.5,902.3 L685.5,902.9 L687.5,902.0 L689.6,901.6 L691.6,900.6 L693.6,897.1 L695.7,895.8 L697.7,895.9 L699.7,893.0 L701.8,889.6 L703.8,887.2 L705.8,884.2 L707.9,879.8 L709.9,876.6 L712.0,873.1 L714.0,869.3 L716.0,866.6 L718.1,862.1 L720.1,859.4 L722.1,855.9 L724.2,853.4 L726.2,852.1 L728.2,849.3 L730.3,847.6 L732.3,846.3 L734.3,845.0 L736.4,844.4 L738.4,843.2 L740.5,842.5 L742.5,843.2 L744.5,842.4 L746.6,841.5 L748.6,841.1 L750.6,841.0 L752.7,840.3 L754.7,840.5 L756.7,839.8 L758.8,840.1 L760.8,839.8 L762.8,841.3 L764.9,840.2 L766.9,840.3 L768.9,840.1 L771.0,841.0 L773.0,839.8 L775.1,839.8 L777.1,840.2 L779.1,840.0 L781.2,840.0 L783.2,839.8 L785.2,839.4 L787.3,840.1 L789.3,839.9 L791.3,839.5 L793.4,839.7 L795.4,839.4 L797.4,840.4 L799.5,839.0 L801.5,840.2 L803.6,840.2 L805.6,839.2 L807.6,840.1 L809.7,840.0 L811.7,840.8 L813.7,839.1 L815.8,840.5 L817.8,840.9 L819.8,839.7 L821.9,840.3 L823.9,840.4 L825.9,840.4 L828.0,839.2 L830.0,840.7 L832.0,839.9 L834.1,840.0 L836.1,839.8 L838.2,839.7 L840.2,839.9 L842.2,838.6 L844.3,840.4 L846.3,839.7 L848.3,839.6 L850.4,839.5 L852.4,841.3 L854.4,839.4 L856.5,840.8 L858.5,841.0 L860.5,839.1 L862.6,839.3 L864.6,840.4 L866.7,839.9 L868.7,839.2 L870.7,840.8 L872.8,839.7 L874.8,839.2 L876.8,840.0 L878.9,839.4 L880.9,839.9 L882.9,839.9 L885.0,840.7 L887.0,840.1 L889.0,840.7 L891.1,838.2 L893.1,839.6 L895.2,839.6 L897.2,839.6 L899.2,839.7 L901.3,841.6 L903.3,840.2 L905.3,839.8 L907.4,839.7 L909.4,839.4 L911.4,838.3 L913.5,838.7 L915.5,839.1 L917.5,839.0 L919.6,837.2 L921.6,838.1 L923.6,838.5 L925.7,837.5 L927.7,838.0 L929.8,838.0 L931.8,837.4 L933.8,837.3 L935.9,835.2 L937.9,836.3 L939.9,835.6 L942.0,836.1 L944.0,835.5 L946.0,835.9 L948.1,835.3 L950.1,834.0 L952.1,834.0 L954.2,834.2 L956.2,832.4 L958.3,833.1 L960.3,833.3 L962.3,831.9 L964.4,832.9 L966.4,831.8 L968.4,831.5 L970.5,830.8 L972.5,830.0 L974.5,828.8 L976.6,829.7 L978.6,830.2 L980.6,827.8 L982.7,829.0 L984.7,828.7 L986.7,828.2 L988.8,827.3 L990.8,827.7 L992.9,827.0 L994.9,828.0 L996.9,825.4 L999.0,826.1 L1001.0,825.3 L1003.0,825.2 L1005.1,825.9 L1007.1,824.4 L1009.1,823.6 L1011.2,824.0 L1013.2,822.3 L1015.2,821.5 L1017.3,821.4 L1019.3,822.3 L1021.4,820.2 L1023.4,820.6 L1025.4,819.4 L1027.5,819.7 L1029.5,819.6 L1031.5,818.4 L1033.6,818.4 L1035.6,818.9" stroke="#de3697"/>
<path d="M628.5,895.4 L630.5,895.8 L632.6,895.7 L634.6,896.1 L636.6,897.7 L638.7,896.8 L640.7,897.5 L642.7,898.6 L644.8,899.8 L646.8,898.5 L648.9,899.6 L650.9,897.9 L652.9,898.9 L655.0,896.7 L657.0,895.4 L659.0,896.6 L661.1,896.3 L663.1,895.7 L665.1,896.6 L667.2,896.4 L669.2,896.6 L671.2,897.9 L673.3,899.0 L675.3,898.3 L677.4,899.0 L679.4,898.8 L681.4,898.8 L683.5,897.1 L685.5,897.6 L687.5,897.4 L689.6,897.6 L691.6,895.7 L693.6,897.1 L695.7,895.0 L697.7,895.7 L699.7,898.0 L701.8,896.6 L703.8,897.7 L705.8,897.6 L707.9,897.8 L709.9,898.3 L712.0,897.5 L714.0,897.7 L716.0,895.9 L718.1,895.3 L720.1,894.7 L722.1,894.1 L724.2,892.5 L726.2,891.7 L728.2,892.0 L730.3,890.4 L732.3,891.0 L734.3,890.5 L736.4,890.1 L738.4,888.1 L740.5,885.4 L742.5,885.7 L744.5,882.0 L746.6,878.6 L748.6,875.8 L750.6,871.8 L752.7,867.6 L754.7,863.7 L756.7,860.9 L758.8,856.5 L760.8,853.5 L762.8,848.5 L764.9,846.2 L766.9,843.8 L768.9,841.1 L771.0,837.8 L773.0,835.5 L775.1,831.8 L777.1,830.9 L779.1,829.3 L781.2,825.1 L783.2,824.7 L785.2,822.2 L787.3,820.3 L789.3,820.9 L791.3,818.4 L793.4,820.3 L795.4,817.9 L797.4,818.4 L799.5,817.4 L801.5,818.2 L803.6,818.6 L805.6,818.7 L807.6,818.5 L809.7,819.3 L811.7,818.4 L813.7,816.9 L815.8,816.5 L817.8,814.6 L819.8,815.7 L821.9,816.2 L823.9,814.7 L825.9,815.9 L828.0,816.0 L830.0,816.8 L832.0,817.5 L834.1,816.3 L836.1,817.8 L838.2,817.4 L840.2,817.9 L842.2,817.1 L844.3,815.7 L846.3,816.3 L848.3,815.5 L850.4,815.3 L852.4,815.6 L854.4,814.0 L856.5,815.1 L858.5,815.5 L860.5,817.1 L862.6,817.7 L864.6,817.9 L866.7,817.5 L868.7,819.3 L870.7,817.4 L872.8,816.4 L874.8,818.4 L876.8,815.0 L878.9,817.1 L880.9,815.3 L882.9,816.4 L885.0,815.1 L887.0,815.5 L889.0,815.1 L891.1,815.6 L893.1,816.0 L895.2,817.2 L897.2,818.1 L899.2,818.8 L901.3,818.4 L903.3,818.3 L905.3,817.7 L907.4,817.4 L909.4,818.2 L911.4,816.5 L913.5,815.2 L915.5,816.7 L917.5,817.0 L919.6,815.9 L921.6,818.0 L923.6,816.5 L925.7,817.3 L927.7,817.9 L929.8,818.0 L931.8,819.2 L933.8,819.6 L935.9,817.0 L937.9,818.0 L939.9,819.6 L942.0,818.3 L944.0,816.3 L946.0,817.5 L948.1,817.4 L950.1,818.0 L952.1,816.4 L954.2,816.7 L956.2,817.3 L958.3,819.3 L960.3,819.1 L962.3,820.6 L964.4,820.7 L966.4,819.2 L968.4,820.0 L970.5,819.7 L972.5,818.9 L974.5,820.0 L976.6,817.7 L978.6,817.9 L980.6,818.6 L982.7,817.5 L984.7,818.3 L986.7,819.1 L988.8,818.7 L990.8,820.8 L992.9,820.4 L994.9,819.8 L996.9,821.5 L999.0,821.5 L1001.0,820.8 L1003.0,820.1 L1005.1,819.9 L1007.1,819.6 L1009.1,820.4 L1011.2,819.5 L1013.2,818.3 L1015.2,819.4 L1017.3,819.1 L1019.3,819.0 L1021.4,821.4 L1023.4,822.2 L1025.4,822.3 L1027.5,823.1 L1029.5,822.6 L1031.5,821.6 L1033.6,822.1 L1035.6,822.3" stroke="#df3898"/>
<path d="M628.5,866.0 L630.5,865.7 L632.6,865.4 L634.6,866.6 L636.6,866.9 L638.7,868.9 L640.7,868.5 L642.7,869.2 L644.8,867.8 L646.8,869.0 L648.9,868.5 L650.9,867.3 L652.9,867.0 L655.0,865.8 L657.0,865.9 L659.0,866.4 L661.1,865.9 L663.1,867.2 L665.1,865.2 L667.2,867.8 L669.2,867.9 L671.2,867.0 L673.3,866.6 L675.3,867.3 L677.4,867.1 L679.4,866.1 L681.4,865.9 L683.5,865.3 L685.5,864.5 L687.5,864.2 L689.6,863.0 L691.6,862.0 L693.6,860.9 L695.7,860.4 L697.7,857.5 L699.7,856.6 L701.8,857.7 L703.8,854.9 L705.8,853.7 L707.9,851.4 L709.9,850.2 L712.0,845.0 L714.0,840.2 L716.0,836.3 L718.1,831.8 L720.1,826.3 L722.1,821.5 L724.2,814.8 L726.2,810.0 L728.2,803.5 L730.3,797.6 L732.3,790.6 L734.3,785.8 L736.4,778.7 L738.4,773.4 L740.5,767.1 L742.5,760.4 L744.5,754.1 L746.6,749.9 L748.6,743.8 L750.6,738.9 L752.7,733.0 L754.7,729.8 L756.7,726.7 L758.8,724.8 L760.8,721.7 L762.8,719.6 L764.9,717.7 L766.9,717.4 L768.9,716.3 L771.0,715.3 L773.0,715.4 L775.1,715.1 L777.1,712.5 L779.1,713.3 L781.2,712.1 L783.2,708.3 L785.2,707.8 L787.3,709.5 L789.3,708.8 L791.3,707.9 L793.4,709.6 L795.4,707.5 L797.4,709.7 L799.5,708.8 L801.5,710.0 L803.6,711.5 L805.6,710.3 L807.6,709.2 L809.7,709.4 L811.7,710.2 L813.7,709.6 L815.8,707.3 L817.8,708.5 L819.8,707.9 L821.9,709.4 L823.9,710.7 L825.9,711.1 L828.0,711.2 L830.0,712.4 L832.0,712.4 L834.1,713.9 L836.1,712.9 L838.2,715.5 L840.2,713.0 L842.2,715.6 L844.3,714.9 L846.3,714.1 L848.3,714.0 L850.4,715.1 L852.4,715.7 L854.4,713.8 L856.5,716.5 L858.5,717.8 L860.5,719.0 L862.6,719.3 L864.6,720.1 L866.7,719.4 L868.7,722.1 L870.7,721.5 L872.8,721.9 L874.8,721.4 L876.8,720.1 L878.9,721.2 L880.9,719.7 L882.9,720.1 L885.0,719.5 L887.0,720.5 L889.0,721.8 L891.1,721.8 L893.1,721.9 L895.2,723.7 L897.2,724.1 L899.2,723.6 L901.3,723.9 L903.3,724.1 L905.3,724.2 L907.4,722.7 L909.4,721.8 L911.4,722.1 L913.5,721.8 L915.5,721.2 L917.5,721.6 L919.6,720.6 L921.6,721.4 L923.6,721.4 L925.7,721.8 L927.7,722.6 L929.8,723.1 L931.8,723.0 L933.8,723.1 L935.9,723.4 L937.9,722.0 L939.9,722.0 L942.0,720.7 L944.0,721.5 L946.0,720.3 L948.1,721.1 L950.1,720.7 L952.1,719.6 L954.2,721.0 L956.2,722.0 L958.3,721.0 L960.3,723.2 L962.3,723.3 L964.4,722.2 L966.4,721.3 L968.4,720.6 L970.5,720.4 L972.5,720.3 L974.5,719.3 L976.6,719.5 L978.6,719.5 L980.6,718.7 L982.7,719.3 L984.7,717.7 L986.7,720.1 L988.8,718.6 L990.8,719.0 L992.9,720.0 L994.9,720.1 L996.9,720.7 L999.0,718.9 L1001.0,718.5 L1003.0,719.4 L1005.1,718.7 L1007.1,717.9 L1009.1,718.3 L1011.2,718.0 L1013.2,716.0 L1015.2,716.9 L1017.3,717.5 L1019.3,718.5 L1021.4,718.0 L1023.4,717.6 L1025.4,717.6 L1027.5,719.3 L1029.5,719.3 L1031.5,718.6 L1033.6,718.0 L1035.6,717.0" stroke="#e23d99"/>
<path d="M628.5,860.2 L630.5,858.9 L632.6,859.8 L634.6,858.9 L636.6,860.0 L638.7,859.1 L640.7,860.6 L642.7,859.3 L644.8,861.0 L646.8,861.4 L648.9,863.6 L650.9,862.2 L652.9,863.5 L655.0,863.4 L657.0,863.4 L659.0,863.0 L661.1,862.9 L663.1,862.5 L665.1,861.1 L667.2,860.9 L669.2,862.1 L671.2,861.4 L673.3,862.0 L675.3,862.9 L677.4,863.2 L679.4,864.0 L681.4,864.2 L683.5,865.5 L685.5,866.3 L687.5,866.6 L689.6,865.5 L691.6,864.7 L693.6,863.8 L695.7,863.5 L697.7,863.8 L699.7,863.5 L701.8,863.2 L703.8,864.1 L705.8,864.7 L707.9,864.9 L709.9,865.7 L712.0,865.9 L714.0,866.6 L716.0,865.5 L718.1,867.5 L720.1,868.5 L722.1,867.5 L724.2,866.9 L726.2,864.9 L728.2,862.9 L730.3,863.3 L732.3,862.4 L734.3,862.5 L736.4,861.4 L738.4,861.6 L740.5,862.2 L742.5,862.1 L744.5,860.7 L746.6,859.8 L748.6,857.1 L750.6,855.6 L752.7,854.3 L754.7,851.6 L756.7,848.5 L758.8,846.4 L760.8,843.0 L762.8,839.8 L764.9,836.7 L766.9,833.9 L768.9,831.9 L771.0,831.5 L773.0,827.8 L775.1,827.1 L777.1,825.4 L779.1,823.9 L781.2,823.0 L783.2,821.9 L785.2,821.4 L787.3,819.1 L789.3,818.3 L791.3,816.6 L793.4,816.1 L795.4,813.6 L797.4,812.6 L799.5,813.6 L801.5,814.1 L803.6,813.7 L805.6,813.9 L807.6,815.4 L809.7,815.4 L811.7,816.9 L813.7,814.3 L815.8,814.9 L817.8,815.1 L819.8,814.8 L821.9,813.8 L823.9,812.5 L825.9,812.5 L828.0,811.9 L830.0,811.4 L832.0,810.7 L834.1,812.1 L836.1,813.5 L838.2,814.0 L840.2,812.9 L842.2,813.4 L844.3,815.3 L846.3,814.2 L848.3,814.7 L850.4,813.2 L852.4,813.2 L854.4,813.4 L856.5,812.9 L858.5,813.1 L860.5,812.1 L862.6,811.8 L864.6,811.8 L866.7,812.5 L868.7,812.2 L870.7,812.7 L872.8,813.4 L874.8,814.7 L876.8,815.0 L878.9,815.1 L880.9,815.1 L882.9,814.2 L885.0,813.0 L887.0,811.9 L889.0,812.0 L891.1,812.4 L893.1,812.0 L895.2,811.5 L897.2,812.0 L899.2,811.4 L901.3,813.2 L903.3,812.8 L905.3,813.7 L907.4,814.0 L909.4,812.9 L911.4,813.8 L913.5,813.9 L915.5,813.1 L917.5,812.6 L919.6,810.3 L921.6,812.1 L923.6,810.9 L925.7,810.2 L927.7,809.9 L929.8,810.7 L931.8,811.9 L933.8,813.0 L935.9,811.8 L937.9,812.8 L939.9,813.8 L942.0,813.8 L944.0,813.5 L946.0,812.9 L948.1,811.2 L950.1,811.6 L952.1,811.4 L954.2,809.4 L956.2,809.8 L958.3,810.2 L960.3,809.8 L962.3,808.8 L964.4,810.9 L966.4,811.2 L968.4,812.7 L970.5,812.3 L972.5,812.5 L974.5,812.6 L976.6,812.7 L978.6,812.0 L980.6,811.9 L982.7,811.0 L984.7,810.8 L986.7,808.6 L988.8,809.2 L990.8,810.1 L992.9,810.3 L994.9,810.4 L996.9,811.1 L999.0,812.1 L1001.0,811.8 L1003.0,812.4 L1005.1,813.4 L1007.1,813.4 L1009.1,811.4 L1011.2,812.5 L1013.2,811.5 L1015.2,812.2 L1017.3,811.0 L1019.3,810.9 L1021.4,808.7 L1023.4,810.4 L1025.4,810.8 L1027.5,811.1 L1029.5,811.5 L1031.5,812.3 L1033.6,813.6 L1035.6,814.0" stroke="#e23e99"/>
<path d="M628.5,856.4 L630.5,857.2 L632.6,855.3 L634.6,855.7 L636.6,855.2 L638.7,856.2 L640.7,855.7 L642.7,853.6 L644.8,853.0 L646.8,854.1 L648.9,854.2 L650.9,854.9 L652.9,854.6 L655.0,854.4 L657.0,856.8 L659.0,855.1 L661.1,855.2 L663.1,855.0 L665.1,855.8 L667.2,854.8 L669.2,853.2 L671.2,853.5 L673.3,852.3 L675.3,850.3 L677.4,850.1 L679.4,849.5 L681.4,848.9 L683.5,848.9 L685.5,846.6 L687.5,845.4 L689.6,844.9 L691.6,843.0 L693.6,842.1 L695.7,839.0 L697.7,834.1 L699.7,831.6 L701.8,826.7 L703.8,822.5 L705.8,817.3 L707.9,812.2 L709.9,803.7 L712.0,799.2 L714.0,790.5 L716.0,783.3 L718.1,776.0 L720.1,769.6 L722.1,761.6 L724.2,751.9 L726.2,745.4 L728.2,735.2 L730.3,727.0 L732.3,718.8 L734.3,710.6 L736.4,703.4 L738.4,696.1 L740.5,689.2 L742.5,682.0 L744.5,678.4 L746.6,674.1 L748.6,670.3 L750.6,668.9 L752.7,665.2 L754.7,663.6 L756.7,661.2 L758.8,660.7 L760.8,658.4 L762.8,658.3 L764.9,656.3 L766.9,655.8 L768.9,654.9 L771.0,653.8 L773.0,653.8 L775.1,653.1 L777.1,654.4 L779.1,655.9 L781.2,656.4 L783.2,658.6 L785.2,660.1 L787.3,661.3 L789.3,664.5 L791.3,665.2 L793.4,666.2 L795.4,667.4 L797.4,671.1 L799.5,672.7 L801.5,673.2 L803.6,675.3 L805.6,680.7 L807.6,682.3 L809.7,684.8 L811.7,688.1 L813.7,690.3 L815.8,695.9 L817.8,700.2 L819.8,702.3 L821.9,705.8 L823.9,708.7 L825.9,713.3 L828.0,715.2 L830.0,717.9 L832.0,720.3 L834.1,722.7 L836.1,726.0 L838.2,726.5 L840.2,730.4 L842.2,733.4 L844.3,735.0 L846.3,737.2 L848.3,739.5 L850.4,742.9 L852.4,745.4 L854.4,745.7 L856.5,747.1 L858.5,748.3 L860.5,748.8 L862.6,750.7 L864.6,749.6 L866.7,750.6 L868.7,752.5 L870.7,752.9 L872.8,752.2 L874.8,753.5 L876.8,753.9 L878.9,755.4 L880.9,755.8 L882.9,759.5 L885.0,757.0 L887.0,759.0 L889.0,758.1 L891.1,758.8 L893.1,758.8 L895.2,757.5 L897.2,757.4 L899.2,756.7 L901.3,757.2 L903.3,755.1 L905.3,756.3 L907.4,758.2 L909.4,757.9 L911.4,760.0 L913.5,759.0 L915.5,759.4 L917.5,759.4 L919.6,760.9 L921.6,759.0 L923.6,758.8 L925.7,758.4 L927.7,757.9 L929.8,757.6 L931.8,757.5 L933.8,757.4 L935.9,756.4 L937.9,756.7 L939.9,757.3 L942.0,758.4 L944.0,757.9 L946.0,758.7 L948.1,758.7 L950.1,758.6 L952.1,759.3 L954.2,759.5 L956.2,760.0 L958.3,758.3 L960.3,755.9 L962.3,755.4 L964.4,755.8 L966.4,756.3 L968.4,755.5 L970.5,755.9 L972.5,756.0 L974.5,756.6 L976.6,757.9 L978.6,758.3 L980.6,758.4 L982.7,757.7 L984.7,758.1 L986.7,757.5 L988.8,757.9 L990.8,755.3 L992.9,755.5 L994.9,756.1 L996.9,755.5 L999.0,754.8 L1001.0,756.7 L1003.0,756.0 L1005.1,755.7 L1007.1,756.0 L1009.1,757.5 L1011.2,757.9 L1013.2,756.6 L1015.2,757.3 L1017.3,758.4 L1019.3,756.1 L1021.4,756.4 L1023.4,755.0 L1025.4,756.2 L1027.5,753.8 L1029.5,753.7 L1031.5,754.5 L1033.6,754.4 L1035.6,754.3" stroke="#e34099"/>
<path d="M628.5,858.5 L630.5,858.2 L632.6,856.7 L634.6,858.7 L636.6,856.2 L638.7,857.4 L640.7,858.6 L642.7,857.9 L644.8,857.8 L646.8,858.7 L648.9,859.6 L650.9,860.1 L652.9,861.6 L655.0,860.3 L657.0,860.1 L659.0,859.1 L661.1,857.6 L663.1,857.9 L665.1,857.5 L667.2,856.2 L669.2,856.6 L671.2,856.7 L673.3,853.9 L675.3,854.9 L677.4,855.0 L679.4,852.7 L681.4,853.6 L683.5,853.1 L685.5,849.9 L687.5,846.7 L689.6,844.4 L691.6,842.3 L693.6,836.7 L695.7,832.1 L697.7,827.3 L699.7,822.1 L701.8,814.8 L703.8,808.3 L705.8,801.5 L707.9,793.0 L709.9,784.7 L712.0,773.5 L714.0,764.7 L716.0,754.4 L718.1,742.9 L720.1,730.3 L722.1,719.9 L724.2,710.0 L726.2,697.5 L728.2,688.8 L730.3,680.1 L732.3,673.6 L734.3,667.0 L736.4,661.7 L738.4,657.3 L740.5,653.8 L742.5,650.4 L744.5,647.1 L746.6,646.0 L748.6,644.4 L750.6,641.3 L752.7,639.4 L754.7,639.2 L756.7,636.6 L758.8,636.7 L760.8,635.0 L762.8,634.7 L764.9,635.0 L766.9,635.3 L768.9,635.6 L771.0,635.4 L773.0,639.1 L775.1,640.3 L777.1,640.3 L779.1,639.8 L781.2,642.5 L783.2,642.5 L785.2,644.0 L787.3,643.1 L789.3,643.9 L791.3,644.6 L793.4,644.6 L795.4,646.3 L797.4,647.4 L799.5,649.5 L801.5,650.9 L803.6,653.3 L805.6,656.5 L807.6,657.9 L809.7,659.3 L811.7,662.0 L813.7,664.1 L815.8,664.4 L817.8,665.6 L819.8,666.5 L821.9,669.5 L823.9,671.1 L825.9,671.2 L828.0,675.6 L830.0,678.4 L832.0,680.2 L834.1,683.8 L836.1,684.9 L838.2,686.7 L840.2,690.8 L842.2,692.5 L844.3,695.2 L846.3,696.9 L848.3,697.1 L850.4,699.9 L852.4,701.9 L854.4,704.0 L856.5,706.3 L858.5,708.5 L860.5,709.9 L862.6,712.0 L864.6,714.0 L866.7,715.8 L868.7,718.8 L870.7,721.1 L872.8,722.7 L874.8,724.4 L876.8,726.9 L878.9,727.8 L880.9,730.0 L882.9,729.6 L885.0,730.0 L887.0,730.9 L889.0,733.5 L891.1,733.3 L893.1,733.5 L895.2,735.9 L897.2,736.2 L899.2,737.8 L901.3,739.4 L903.3,741.1 L905.3,741.0 L907.4,743.4 L909.4,742.9 L911.4,742.9 L913.5,743.7 L915.5,744.2 L917.5,745.1 L919.6,742.7 L921.6,743.8 L923.6,743.8 L925.7,745.2 L927.7,746.1 L929.8,746.1 L931.8,747.8 L933.8,747.8 L935.9,749.4 L937.9,748.3 L939.9,750.2 L942.0,747.1 L944.0,747.7 L946.0,748.9 L948.1,748.8 L950.1,746.7 L952.1,747.0 L954.2,747.5 L956.2,746.8 L958.3,748.4 L960.3,747.2 L962.3,749.4 L964.4,750.1 L966.4,749.8 L968.4,749.2 L970.5,749.9 L972.5,749.4 L974.5,749.1 L976.6,747.8 L978.6,750.2 L980.6,748.0 L982.7,747.4 L984.7,746.7 L986.7,747.1 L988.8,747.2 L990.8,745.5 L992.9,748.7 L994.9,748.3 L996.9,748.7 L999.0,748.0 L1001.0,749.1 L1003.0,749.0 L1005.1,750.2 L1007.1,748.2 L1009.1,748.4 L1011.2,747.4 L1013.2,746.7 L1015.2,746.3 L1017.3,745.1 L1019.3,746.2 L1021.4,746.5 L1023.4,746.6 L1025.4,746.9 L1027.5,746.8 L1029.5,747.7 L1031.5,747.6 L1033.6,748.0 L1035.6,748.5" stroke="#e94c9c"/>
<path d="M628.5,848.2 L630.5,849.1 L632.6,848.0 L634.6,846.6 L636.6,845.8 L638.7,845.5 L640.7,846.2 L642.7,845.0 L644.8,846.8 L646.8,846.8 L648.9,846.6 L650.9,846.1 L652.9,847.0 L655.0,846.8 L657.0,846.4 L659.0,844.2 L661.1,843.8 L663.1,843.0 L665.1,842.4 L667.2,840.3 L669.2,837.9 L671.2,836.2 L673.3,835.7 L675.3,834.3 L677.4,833.2 L679.4,831.4 L681.4,828.0 L683.5,826.6 L685.5,824.1 L687.5,820.1 L689.6,815.2 L691.6,808.9 L693.6,803.9 L695.7,796.5 L697.7,791.3 L699.7,783.2 L701.8,774.2 L703.8,765.8 L705.8,758.4 L707.9,750.0 L709.9,741.2 L712.0,731.7 L714.0,723.9 L716.0,715.7 L718.1,706.4 L720.1,700.5 L722.1,689.7 L724.2,683.3 L726.2,675.6 L728.2,668.9 L730.3,662.1 L732.3,657.8 L734.3,652.7 L736.4,648.3 L738.4,644.9 L740.5,641.6 L742.5,640.5 L744.5,637.7 L746.6,636.7 L748.6,633.7 L750.6,632.5 L752.7,632.4 L754.7,630.8 L756.7,629.2 L758.8,627.9 L760.8,626.0 L762.8,625.6 L764.9,625.9 L766.9,624.8 L768.9,624.0 L771.0,623.8 L773.0,623.6 L775.1,625.8 L777.1,627.3 L779.1,627.6 L781.2,627.2 L783.2,627.2 L785.2,627.4 L787.3,629.7 L789.3,627.9 L791.3,628.7 L793.4,629.9 L795.4,630.7 L797.4,630.2 L799.5,630.4 L801.5,631.8 L803.6,633.8 L805.6,634.5 L807.6,636.7 L809.7,638.9 L811.7,640.2 L813.7,642.4 L815.8,642.9 L817.8,644.9 L819.8,646.5 L821.9,647.5 L823.9,650.7 L825.9,652.5 L828.0,654.0 L830.0,656.2 L832.0,658.3 L834.1,660.0 L836.1,664.2 L838.2,667.4 L840.2,670.4 L842.2,672.6 L844.3,675.7 L846.3,679.1 L848.3,680.5 L850.4,683.0 L852.4,686.2 L854.4,688.5 L856.5,688.5 L858.5,691.9 L860.5,693.3 L862.6,694.2 L864.6,694.9 L866.7,697.1 L868.7,698.9 L870.7,703.2 L872.8,703.4 L874.8,705.1 L876.8,706.8 L878.9,706.9 L880.9,706.8 L882.9,709.7 L885.0,710.2 L887.0,709.7 L889.0,711.7 L891.1,710.6 L893.1,709.3 L895.2,710.8 L897.2,710.0 L899.2,712.0 L901.3,711.9 L903.3,713.1 L905.3,713.5 L907.4,716.4 L909.4,714.6 L911.4,714.5 L913.5,714.3 L915.5,715.0 L917.5,715.2 L919.6,713.2 L921.6,714.7 L923.6,714.9 L925.7,713.2 L927.7,715.0 L929.8,713.3 L931.8,714.7 L933.8,714.3 L935.9,714.9 L937.9,716.7 L939.9,715.1 L942.0,715.4 L944.0,715.8 L946.0,716.2 L948.1,716.0 L950.1,715.1 L952.1,715.6 L954.2,713.9 L956.2,713.0 L958.3,712.7 L960.3,713.3 L962.3,713.8 L964.4,713.5 L966.4,714.5 L968.4,715.9 L970.5,715.4 L972.5,714.8 L974.5,715.7 L976.6,716.2 L978.6,715.5 L980.6,715.3 L982.7,714.5 L984.7,713.5 L986.7,714.5 L988.8,713.6 L990.8,712.5 L992.9,712.2 L994.9,712.5 L996.9,714.0 L999.0,714.7 L1001.0,715.3 L1003.0,714.7 L1005.1,714.4 L1007.1,714.8 L1009.1,714.5 L1011.2,713.5 L1013.2,714.8 L1015.2,713.4 L1017.3,712.9 L1019.3,713.3 L1021.4,711.9 L1023.4,712.8 L1025.4,712.2 L1027.5,711.6 L1029.5,712.6 L1031.5,713.6 L1033.6,714.3 L1035.6,713.9" stroke="#ec539d"/>
<path d="M628.5,840.9 L630.5,840.8 L632.6,840.7 L634.6,841.5 L636.6,842.7 L638.7,842.3 L640.7,841.6 L642.7,841.7 L644.8,840.3 L646.8,840.6 L648.9,839.7 L650.9,839.4 L652.9,837.3 L655.0,837.3 L657.0,840.1 L659.0,838.1 L661.1,838.3 L663.1,839.0 L665.1,838.7 L667.2,839.3 L669.2,837.7 L671.2,838.6 L673.3,838.0 L675.3,835.9 L677.4,835.0 L679.4,835.4 L681.4,832.7 L683.5,831.3 L685.5,830.5 L687.5,828.4 L689.6,825.5 L691.6,825.1 L693.6,823.3 L695.7,821.2 L697.7,819.8 L699.7,816.2 L701.8,811.8 L703.8,809.9 L705.8,802.9 L707.9,796.1 L709.9,790.2 L712.0,782.4 L714.0,774.9 L716.0,767.1 L718.1,757.7 L720.1,750.2 L722.1,740.4 L724.2,730.6 L726.2,721.3 L728.2,712.2 L730.3,703.0 L732.3,693.3 L734.3,685.4 L736.4,674.9 L738.4,667.8 L740.5,659.9 L742.5,652.3 L744.5,645.8 L746.6,638.2 L748.6,633.7 L750.6,627.0 L752.7,623.6 L754.7,620.1 L756.7,618.7 L758.8,614.5 L760.8,615.0 L762.8,613.0 L764.9,611.3 L766.9,609.7 L768.9,609.3 L771.0,610.2 L773.0,606.0 L775.1,606.2 L777.1,606.3 L779.1,605.7 L781.2,605.4 L783.2,604.9 L785.2,605.6 L787.3,605.6 L789.3,608.1 L791.3,608.2 L793.4,609.6 L795.4,611.9 L797.4,612.6 L799.5,614.7 L801.5,614.8 L803.6,615.8 L805.6,617.2 L807.6,618.3 L809.7,619.6 L811.7,621.7 L813.7,623.4 L815.8,625.2 L817.8,628.2 L819.8,630.8 L821.9,634.1 L823.9,636.5 L825.9,639.7 L828.0,643.3 L830.0,647.8 L832.0,650.7 L834.1,652.9 L836.1,655.0 L838.2,658.9 L840.2,662.2 L842.2,665.4 L844.3,667.6 L846.3,669.5 L848.3,672.9 L850.4,676.7 L852.4,681.6 L854.4,684.1 L856.5,688.5 L858.5,690.6 L860.5,695.6 L862.6,698.4 L864.6,700.3 L866.7,703.1 L868.7,705.0 L870.7,707.5 L872.8,708.8 L874.8,710.2 L876.8,712.3 L878.9,713.8 L880.9,716.3 L882.9,717.8 L885.0,719.3 L887.0,721.1 L889.0,723.1 L891.1,724.9 L893.1,726.2 L895.2,726.7 L897.2,727.9 L899.2,728.6 L901.3,729.5 L903.3,730.0 L905.3,729.3 L907.4,730.2 L909.4,730.6 L911.4,730.2 L913.5,731.6 L915.5,729.9 L917.5,731.8 L919.6,732.2 L921.6,732.8 L923.6,733.1 L925.7,733.5 L927.7,734.5 L929.8,733.8 L931.8,734.0 L933.8,733.1 L935.9,734.8 L937.9,732.9 L939.9,731.7 L942.0,730.9 L944.0,730.3 L946.0,731.5 L948.1,733.0 L950.1,732.4 L952.1,733.0 L954.2,734.5 L956.2,733.8 L958.3,734.3 L960.3,733.9 L962.3,734.2 L964.4,733.4 L966.4,732.2 L968.4,731.8 L970.5,732.3 L972.5,731.6 L974.5,731.3 L976.6,731.9 L978.6,730.4 L980.6,731.7 L982.7,730.2 L984.7,732.0 L986.7,731.8 L988.8,732.3 L990.8,732.0 L992.9,733.5 L994.9,731.8 L996.9,732.0 L999.0,730.3 L1001.0,730.1 L1003.0,729.2 L1005.1,728.4 L1007.1,728.6 L1009.1,729.0 L1011.2,729.8 L1013.2,729.1 L1015.2,728.5 L1017.3,730.6 L1019.3,729.7 L1021.4,730.7 L1023.4,729.4 L1025.4,729.9 L1027.5,729.7 L1029.5,728.9 L1031.5,728.9 L1033.6,726.9 L1035.6,727.9" stroke="#ed549d"/>
<path d="M628.5,859.7 L630.5,859.3 L632.6,860.3 L634.6,861.3 L636.6,860.6 L638.7,861.3 L640.7,863.1 L642.7,862.5 L644.8,862.7 L646.8,861.7 L648.9,861.4 L650.9,860.7 L652.9,859.6 L655.0,860.3 L657.0,858.2 L659.0,858.2 L661.1,857.6 L663.1,859.5 L665.1,857.6 L667.2,858.9 L669.2,857.0 L671.2,859.0 L673.3,858.6 L675.3,855.8 L677.4,855.4 L679.4,851.6 L681.4,849.9 L683.5,848.4 L685.5,844.6 L687.5,840.9 L689.6,837.8 L691.6,833.5 L693.6,829.3 L695.7,825.9 L697.7,819.0 L699.7,814.4 L701.8,808.7 L703.8,802.4 L705.8,794.3 L707.9,785.5 L709.9,775.2 L712.0,769.0 L714.0,756.4 L716.0,747.1 L718.1,735.3 L720.1,726.5 L722.1,715.0 L724.2,706.2 L726.2,697.9 L728.2,688.8 L730.3,682.8 L732.3,675.5 L734.3,670.0 L736.4,664.1 L738.4,658.0 L740.5,652.5 L742.5,648.6 L744.5,645.4 L746.6,639.8 L748.6,638.3 L750.6,633.5 L752.7,632.6 L754.7,630.6 L756.7,628.2 L758.8,626.8 L760.8,627.1 L762.8,627.1 L764.9,625.7 L766.9,626.8 L768.9,626.6 L771.0,625.4 L773.0,624.7 L775.1,625.7 L777.1,625.1 L779.1,624.0 L781.2,624.1 L783.2,626.1 L785.2,625.2 L787.3,625.5 L789.3,625.3 L791.3,626.8 L793.4,628.7 L795.4,628.6 L797.4,630.2 L799.5,631.8 L801.5,633.0 L803.6,635.0 L805.6,635.3 L807.6,637.0 L809.7,638.1 L811.7,639.2 L813.7,640.4 L815.8,640.8 L817.8,642.6 L819.8,644.3 L821.9,648.0 L823.9,651.0 L825.9,653.8 L828.0,657.6 L830.0,659.5 L832.0,663.5 L834.1,665.9 L836.1,669.3 L838.2,670.9 L840.2,674.0 L842.2,676.0 L844.3,678.4 L846.3,680.2 L848.3,685.1 L850.4,687.6 L852.4,692.4 L854.4,693.6 L856.5,697.1 L858.5,699.4 L860.5,704.2 L862.6,706.1 L864.6,710.9 L866.7,713.7 L868.7,712.9 L870.7,715.7 L872.8,717.0 L874.8,718.8 L876.8,719.8 L878.9,722.3 L880.9,724.3 L882.9,724.9 L885.0,727.2 L887.0,728.0 L889.0,729.9 L891.1,731.7 L893.1,731.5 L895.2,734.5 L897.2,733.7 L899.2,734.4 L901.3,736.1 L903.3,735.2 L905.3,735.1 L907.4,736.3 L909.4,735.4 L911.4,735.1 L913.5,735.0 L915.5,735.1 L917.5,736.3 L919.6,736.6 L921.6,736.8 L923.6,739.4 L925.7,739.0 L927.7,738.1 L929.8,739.5 L931.8,738.8 L933.8,738.8 L935.9,740.1 L937.9,739.2 L939.9,738.0 L942.0,738.0 L944.0,735.8 L946.0,737.1 L948.1,737.1 L950.1,736.1 L952.1,735.8 L954.2,737.7 L956.2,737.9 L958.3,738.0 L960.3,738.4 L962.3,738.5 L964.4,738.9 L966.4,738.9 L968.4,737.0 L970.5,737.6 L972.5,735.8 L974.5,735.0 L976.6,734.9 L978.6,735.2 L980.6,735.0 L982.7,734.8 L984.7,734.3 L986.7,736.1 L988.8,735.6 L990.8,736.1 L992.9,735.7 L994.9,737.4 L996.9,735.6 L999.0,734.5 L1001.0,735.5 L1003.0,734.2 L1005.1,734.2 L1007.1,733.6 L1009.1,731.4 L1011.2,732.2 L1013.2,734.0 L1015.2,732.8 L1017.3,733.1 L1019.3,733.9 L1021.4,734.4 L1023.4,733.8 L1025.4,734.4 L1027.5,734.2 L1029.5,733.6 L1031.5,732.9 L1033.6,732.8 L1035.6,731.9" stroke="#ed549d"/>
<path d="M628.5,852.7 L630.5,852.2 L632.6,852.0 L634.6,850.6 L636.6,852.4 L638.7,850.8 L640.7,852.4 L642.7,852.2 L644.8,852.4 L646.8,853.2 L648.9,854.2 L650.9,855.7 L652.9,854.2 L655.0,856.5 L657.0,854.3 L659.0,855.2 L661.1,854.7 L663.1,854.4 L665.1,854.0 L667.2,854.4 L669.2,853.1 L671.2,854.4 L673.3,853.2 L675.3,855.3 L677.4,855.3 L679.4,854.9 L681.4,856.5 L683.5,857.0 L685.5,856.9 L687.5,857.0 L689.6,855.5 L691.6,856.2 L693.6,855.8 L695.7,854.6 L697.7,853.3 L699.7,852.8 L701.8,854.0 L703.8,855.0 L705.8,854.3 L707.9,854.2 L709.9,855.2 L712.0,853.9 L714.0,854.4 L716.0,852.2 L718.1,853.1 L720.1,851.6 L722.1,851.8 L724.2,849.5 L726.2,847.3 L728.2,845.4 L730.3,842.6 L732.3,840.7 L734.3,840.7 L736.4,837.4 L738.4,835.5 L740.5,835.6 L742.5,832.0 L744.5,830.8 L746.6,828.6 L748.6,827.2 L750.6,826.1 L752.7,824.1 L754.7,820.8 L756.7,821.1 L758.8,818.2 L760.8,817.8 L762.8,816.4 L764.9,814.6 L766.9,814.8 L768.9,814.6 L771.0,813.9 L773.0,813.8 L775.1,814.2 L777.1,816.1 L779.1,815.5 L781.2,815.7 L783.2,814.2 L785.2,814.3 L787.3,811.7 L789.3,814.2 L791.3,812.7 L793.4,813.2 L795.4,811.8 L797.4,811.7 L799.5,810.5 L801.5,812.7 L803.6,812.7 L805.6,813.2 L807.6,813.4 L809.7,814.3 L811.7,813.2 L813.7,813.8 L815.8,813.5 L817.8,812.4 L819.8,813.9 L821.9,811.5 L823.9,811.0 L825.9,811.5 L828.0,811.7 L830.0,811.6 L832.0,811.7 L834.1,810.9 L836.1,811.7 L838.2,811.4 L840.2,813.1 L842.2,813.2 L844.3,813.3 L846.3,813.0 L848.3,813.9 L850.4,812.2 L852.4,813.5 L854.4,811.1 L856.5,811.1 L858.5,812.9 L860.5,811.7 L862.6,812.0 L864.6,811.2 L866.7,812.2 L868.7,813.5 L870.7,812.5 L872.8,812.6 L874.8,813.8 L876.8,814.0 L878.9,814.1 L880.9,814.1 L882.9,812.6 L885.0,811.6 L887.0,813.3 L889.0,811.6 L891.1,810.1 L893.1,812.1 L895.2,810.6 L897.2,810.4 L899.2,812.0 L901.3,811.2 L903.3,810.9 L905.3,812.5 L907.4,813.7 L909.4,812.0 L911.4,812.4 L913.5,812.4 L915.5,811.9 L917.5,810.7 L919.6,810.2 L921.6,809.1 L923.6,809.6 L925.7,809.5 L927.7,810.0 L929.8,808.9 L931.8,811.0 L933.8,811.3 L935.9,810.2 L937.9,811.2 L939.9,812.1 L942.0,811.3 L944.0,810.3 L946.0,811.3 L948.1,808.9 L950.1,808.0 L952.1,808.7 L954.2,808.9 L956.2,808.4 L958.3,808.2 L960.3,808.4 L962.3,807.7 L964.4,809.4 L966.4,808.9 L968.4,808.5 L970.5,810.2 L972.5,808.7 L974.5,809.7 L976.6,808.1 L978.6,808.9 L980.6,809.0 L982.7,807.1 L984.7,806.0 L986.7,805.8 L988.8,806.0 L990.8,806.4 L992.9,808.1 L994.9,807.3 L996.9,807.1 L999.0,807.9 L1001.0,808.1 L1003.0,808.4 L1005.1,807.9 L1007.1,809.2 L1009.1,807.9 L1011.2,806.3 L1013.2,806.6 L1015.2,807.1 L1017.3,806.6 L1019.3,806.0 L1021.4,805.2 L1023.4,805.2 L1025.4,806.2 L1027.5,806.1 L1029.5,806.4 L1031.5,807.8 L1033.6,807.3 L1035.6,807.2" stroke="#ee559d"/>
<path d="M628.5,902.6 L630.5,903.3 L632.6,899.7 L634.6,902.2 L636.6,900.4 L638.7,899.9 L640.7,899.2 L642.7,899.6 L644.8,899.1 L646.8,900.2 L648.9,901.0 L650.9,902.0 L652.9,902.0 L655.0,903.1 L657.0,901.7 L659.0,903.2 L661.1,902.3 L663.1,900.7 L665.1,900.9 L667.2,900.1 L669.2,901.1 L671.2,901.6 L673.3,900.2 L675.3,899.3 L677.4,899.4 L679.4,900.0 L681.4,900.1 L683.5,900.7 L685.5,901.2 L687.5,901.0 L689.6,902.1 L691.6,899.8 L693.6,900.3 L695.7,899.9 L697.7,900.9 L699.7,898.6 L701.8,898.6 L703.8,897.7 L705.8,897.8 L707.9,896.8 L709.9,898.4 L712.0,896.7 L714.0,897.9 L716.0,896.6 L718.1,896.1 L720.1,895.7 L722.1,894.7 L724.2,893.1 L726.2,891.1 L728.2,888.6 L730.3,885.8 L732.3,883.4 L734.3,879.7 L736.4,878.0 L738.4,872.8 L740.5,871.2 L742.5,867.1 L744.5,862.1 L746.6,857.6 L748.6,854.2 L750.6,849.3 L752.7,844.7 L754.7,839.3 L756.7,833.1 L758.8,827.7 L760.8,824.4 L762.8,819.6 L764.9,815.0 L766.9,810.7 L768.9,809.5 L771.0,805.7 L773.0,804.1 L775.1,803.3 L777.1,802.3 L779.1,801.5 L781.2,800.4 L783.2,799.2 L785.2,798.9 L787.3,796.5 L789.3,796.4 L791.3,794.3 L793.4,793.6 L795.4,791.6 L797.4,792.5 L799.5,792.3 L801.5,791.5 L803.6,792.0 L805.6,792.1 L807.6,791.5 L809.7,793.2 L811.7,793.7 L813.7,793.2 L815.8,794.5 L817.8,794.0 L819.8,792.6 L821.9,793.5 L823.9,792.2 L825.9,791.7 L828.0,791.7 L830.0,790.7 L832.0,789.4 L834.1,789.8 L836.1,790.5 L838.2,791.9 L840.2,792.9 L842.2,793.1 L844.3,793.6 L846.3,792.0 L848.3,793.4 L850.4,793.5 L852.4,793.7 L854.4,791.8 L856.5,791.6 L858.5,790.7 L860.5,790.7 L862.6,791.5 L864.6,789.3 L866.7,790.4 L868.7,790.8 L870.7,789.6 L872.8,792.7 L874.8,792.5 L876.8,792.1 L878.9,793.5 L880.9,792.3 L882.9,792.1 L885.0,790.7 L887.0,792.4 L889.0,790.9 L891.1,790.8 L893.1,790.0 L895.2,790.1 L897.2,789.6 L899.2,790.1 L901.3,789.3 L903.3,790.7 L905.3,790.8 L907.4,791.4 L909.4,791.9 L911.4,791.9 L913.5,793.2 L915.5,793.7 L917.5,791.3 L919.6,791.4 L921.6,789.9 L923.6,789.5 L925.7,789.0 L927.7,789.7 L929.8,789.5 L931.8,789.4 L933.8,789.4 L935.9,789.5 L937.9,790.5 L939.9,790.0 L942.0,790.8 L944.0,790.7 L946.0,790.5 L948.1,790.1 L950.1,790.3 L952.1,788.1 L954.2,788.1 L956.2,789.1 L958.3,788.3 L960.3,787.7 L962.3,788.2 L964.4,787.9 L966.4,788.3 L968.4,789.2 L970.5,789.4 L972.5,790.7 L974.5,789.4 L976.6,791.3 L978.6,790.5 L980.6,790.4 L982.7,787.3 L984.7,788.0 L986.7,787.8 L988.8,787.1 L990.8,788.3 L992.9,787.2 L994.9,786.8 L996.9,788.5 L999.0,788.4 L1001.0,788.2 L1003.0,789.4 L1005.1,790.3 L1007.1,790.0 L1009.1,790.1 L1011.2,789.9 L1013.2,788.2 L1015.2,786.7 L1017.3,787.3 L1019.3,787.1 L1021.4,786.3 L1023.4,785.9 L1025.4,784.8 L1027.5,785.3 L1029.5,787.1 L1031.5,786.7 L1033.6,788.4 L1035.6,787.4" stroke="#f565a0"/>
<path d="M628.5,872.0 L630.5,874.2 L632.6,873.7 L634.6,875.1 L636.6,874.1 L638.7,874.1 L640.7,876.2 L642.7,874.2 L644.8,871.9 L646.8,873.2 L648.9,873.3 L650.9,873.9 L652.9,875.1 L655.0,875.2 L657.0,875.1 L659.0,876.0 L661.1,876.5 L663.1,877.6 L665.1,877.1 L667.2,877.9 L669.2,878.5 L671.2,876.8 L673.3,876.3 L675.3,876.7 L677.4,875.6 L679.4,876.2 L681.4,874.8 L683.5,876.9 L685.5,876.4 L687.5,877.9 L689.6,877.6 L691.6,877.3 L693.6,878.2 L695.7,878.8 L697.7,879.7 L699.7,878.9 L701.8,879.5 L703.8,880.7 L705.8,879.3 L707.9,878.2 L709.9,878.5 L712.0,878.1 L714.0,877.1 L716.0,877.4 L718.1,879.7 L720.1,879.4 L722.1,879.4 L724.2,878.6 L726.2,879.1 L728.2,879.8 L730.3,878.8 L732.3,879.1 L734.3,879.2 L736.4,878.3 L738.4,875.2 L740.5,873.8 L742.5,872.4 L744.5,869.4 L746.6,867.4 L748.6,865.4 L750.6,862.3 L752.7,861.3 L754.7,856.0 L756.7,850.8 L758.8,849.1 L760.8,844.1 L762.8,840.8 L764.9,834.6 L766.9,831.1 L768.9,825.6 L771.0,821.2 L773.0,817.5 L775.1,814.3 L777.1,811.3 L779.1,809.0 L781.2,808.2 L783.2,806.1 L785.2,805.2 L787.3,806.4 L789.3,803.6 L791.3,804.5 L793.4,803.8 L795.4,803.7 L797.4,803.0 L799.5,802.2 L801.5,801.5 L803.6,800.9 L805.6,800.9 L807.6,799.6 L809.7,800.6 L811.7,801.4 L813.7,799.6 L815.8,801.8 L817.8,801.1 L819.8,802.0 L821.9,801.6 L823.9,800.8 L825.9,802.9 L828.0,801.3 L830.0,802.1 L832.0,800.8 L834.1,801.6 L836.1,800.2 L838.2,799.6 L840.2,799.0 L842.2,799.4 L844.3,800.7 L846.3,799.8 L848.3,801.3 L850.4,801.0 L852.4,800.6 L854.4,801.9 L856.5,802.4 L858.5,803.3 L860.5,801.9 L862.6,800.1 L864.6,802.0 L866.7,802.5 L868.7,801.2 L870.7,800.5 L872.8,800.3 L874.8,799.8 L876.8,800.5 L878.9,801.6 L880.9,800.3 L882.9,800.7 L885.0,802.0 L887.0,802.0 L889.0,801.6 L891.1,803.4 L893.1,801.8 L895.2,800.6 L897.2,800.9 L899.2,801.8 L901.3,798.8 L903.3,799.5 L905.3,798.5 L907.4,799.8 L909.4,798.3 L911.4,799.2 L913.5,800.1 L915.5,799.8 L917.5,800.8 L919.6,800.5 L921.6,799.8 L923.6,801.2 L925.7,801.3 L927.7,799.8 L929.8,801.1 L931.8,800.5 L933.8,799.7 L935.9,797.4 L937.9,797.1 L939.9,797.2 L942.0,798.4 L944.0,798.4 L946.0,798.9 L948.1,798.7 L950.1,799.1 L952.1,799.9 L954.2,801.4 L956.2,800.4 L958.3,799.1 L960.3,799.4 L962.3,796.9 L964.4,798.1 L966.4,797.1 L968.4,796.2 L970.5,796.5 L972.5,797.6 L974.5,797.0 L976.6,797.0 L978.6,798.6 L980.6,798.7 L982.7,799.6 L984.7,798.1 L986.7,797.7 L988.8,799.3 L990.8,798.2 L992.9,797.6 L994.9,796.3 L996.9,796.4 L999.0,795.8 L1001.0,796.1 L1003.0,795.5 L1005.1,796.5 L1007.1,795.9 L1009.1,796.3 L1011.2,797.3 L1013.2,797.3 L1015.2,797.8 L1017.3,798.7 L1019.3,797.9 L1021.4,798.4 L1023.4,797.1 L1025.4,795.1 L1027.5,796.6 L1029.5,795.4 L1031.5,796.4 L1033.6,794.3 L1035.6,794.5" stroke="#f76aa2"/>
<path d="M628.5,842.9 L630.5,841.6 L632.6,840.5 L634.6,841.0 L636.6,840.3 L638.7,842.2 L640.7,843.2 L642.7,843.0 L644.8,844.1 L646.8,844.2 L648.9,845.1 L650.9,844.5 L652.9,843.3 L655.0,841.9 L657.0,842.8 L659.0,842.0 L661.1,842.1 L663.1,840.0 L665.1,841.5 L667.2,843.0 L669.2,842.3 L671.2,842.7 L673.3,842.7 L675.3,844.1 L677.4,842.3 L679.4,843.7 L681.4,843.4 L683.5,842.9 L685.5,843.1 L687.5,843.5 L689.6,840.5 L691.6,840.9 L693.6,840.6 L695.7,841.7 L697.7,840.4 L699.7,841.9 L701.8,839.7 L703.8,839.8 L705.8,840.1 L707.9,840.1 L709.9,839.6 L712.0,838.5 L714.0,837.4 L716.0,834.9 L718.1,832.5 L720.1,828.6 L722.1,824.4 L724.2,820.1 L726.2,814.2 L728.2,809.6 L730.3,800.7 L732.3,796.1 L734.3,786.5 L736.4,776.4 L738.4,769.1 L740.5,757.9 L742.5,748.6 L744.5,737.7 L746.6,727.8 L748.6,719.2 L750.6,709.1 L752.7,703.2 L754.7,694.6 L756.7,689.3 L758.8,684.4 L760.8,681.1 L762.8,678.5 L764.9,677.4 L766.9,674.8 L768.9,674.5 L771.0,673.4 L773.0,672.7 L775.1,674.1 L777.1,672.3 L779.1,672.1 L781.2,672.0 L783.2,670.8 L785.2,670.7 L787.3,670.2 L789.3,672.2 L791.3,671.3 L793.4,672.4 L795.4,673.0 L797.4,673.0 L799.5,675.5 L801.5,675.9 L803.6,678.0 L805.6,679.1 L807.6,680.8 L809.7,683.1 L811.7,683.3 L813.7,684.3 L815.8,683.5 L817.8,684.6 L819.8,686.8 L821.9,687.9 L823.9,689.4 L825.9,691.4 L828.0,693.1 L830.0,695.3 L832.0,698.6 L834.1,700.2 L836.1,702.1 L838.2,705.6 L840.2,706.9 L842.2,708.6 L844.3,711.8 L846.3,713.3 L848.3,715.9 L850.4,717.7 L852.4,719.3 L854.4,722.1 L856.5,723.5 L858.5,725.5 L860.5,728.4 L862.6,733.3 L864.6,734.2 L866.7,737.1 L868.7,741.1 L870.7,743.9 L872.8,746.2 L874.8,746.8 L876.8,749.9 L878.9,751.2 L880.9,752.0 L882.9,754.9 L885.0,757.5 L887.0,758.3 L889.0,759.6 L891.1,762.0 L893.1,763.8 L895.2,766.7 L897.2,768.2 L899.2,771.1 L901.3,773.9 L903.3,775.0 L905.3,774.3 L907.4,775.9 L909.4,777.6 L911.4,778.0 L913.5,779.8 L915.5,780.2 L917.5,780.4 L919.6,780.2 L921.6,780.5 L923.6,781.7 L925.7,784.3 L927.7,786.5 L929.8,786.6 L931.8,785.7 L933.8,786.8 L935.9,788.1 L937.9,790.8 L939.9,789.5 L942.0,789.1 L944.0,789.6 L946.0,789.1 L948.1,788.3 L950.1,789.5 L952.1,788.1 L954.2,789.8 L956.2,790.8 L958.3,790.6 L960.3,790.8 L962.3,793.2 L964.4,792.9 L966.4,793.8 L968.4,793.1 L970.5,793.9 L972.5,796.1 L974.5,793.6 L976.6,793.7 L978.6,793.1 L980.6,792.8 L982.7,791.6 L984.7,792.3 L986.7,792.6 L988.8,793.5 L990.8,793.6 L992.9,794.1 L994.9,795.9 L996.9,795.2 L999.0,796.2 L1001.0,796.6 L1003.0,796.2 L1005.1,794.2 L1007.1,795.2 L1009.1,795.5 L1011.2,793.7 L1013.2,794.4 L1015.2,793.9 L1017.3,794.5 L1019.3,793.7 L1021.4,794.3 L1023.4,795.8 L1025.4,795.7 L1027.5,795.9 L1029.5,795.9 L1031.5,796.7 L1033.6,796.7 L1035.6,795.7" stroke="#f875a6"/>
<path d="M628.5,847.2 L630.5,846.7 L632.6,846.6 L634.6,845.9 L636.6,846.9 L638.7,847.0 L640.7,848.8 L642.7,848.1 L644.8,848.3 L646.8,848.4 L648.9,848.8 L650.9,848.5 L652.9,849.2 L655.0,849.7 L657.0,846.8 L659.0,846.3 L661.1,846.8 L663.1,847.4 L665.1,846.9 L667.2,846.6 L669.2,847.3 L671.2,846.9 L673.3,848.3 L675.3,848.3 L677.4,849.9 L679.4,849.9 L681.4,850.1 L683.5,849.8 L685.5,849.1 L687.5,847.5 L689.6,846.7 L691.6,847.8 L693.6,848.0 L695.7,847.7 L697.7,847.1 L699.7,848.1 L701.8,848.0 L703.8,847.7 L705.8,848.1 L707.9,848.2 L709.9,849.5 L712.0,848.7 L714.0,848.3 L716.0,846.7 L718.1,847.7 L720.1,846.7 L722.1,845.0 L724.2,843.0 L726.2,841.2 L728.2,838.8 L730.3,837.8 L732.3,835.7 L734.3,834.0 L736.4,829.3 L738.4,824.7 L740.5,820.6 L742.5,813.3 L744.5,806.4 L746.6,796.3 L748.6,785.0 L750.6,775.3 L752.7,761.9 L754.7,749.0 L756.7,737.2 L758.8,724.1 L760.8,712.7 L762.8,703.4 L764.9,693.0 L766.9,684.9 L768.9,679.0 L771.0,673.0 L773.0,668.6 L775.1,664.8 L777.1,662.9 L779.1,659.2 L781.2,656.6 L783.2,654.2 L785.2,652.8 L787.3,653.2 L789.3,651.4 L791.3,649.9 L793.4,649.4 L795.4,651.8 L797.4,652.3 L799.5,652.2 L801.5,653.9 L803.6,655.1 L805.6,656.6 L807.6,655.9 L809.7,657.6 L811.7,659.2 L813.7,658.8 L815.8,659.2 L817.8,660.0 L819.8,661.6 L821.9,663.7 L823.9,663.7 L825.9,665.3 L828.0,667.8 L830.0,669.1 L832.0,671.0 L834.1,673.8 L836.1,676.5 L838.2,678.4 L840.2,679.8 L842.2,681.6 L844.3,684.7 L846.3,686.9 L848.3,687.3 L850.4,688.3 L852.4,690.9 L854.4,693.2 L856.5,695.8 L858.5,697.7 L860.5,700.0 L862.6,703.7 L864.6,706.4 L866.7,708.8 L868.7,712.9 L870.7,713.9 L872.8,716.6 L874.8,719.2 L876.8,721.9 L878.9,722.5 L880.9,725.8 L882.9,725.9 L885.0,727.8 L887.0,730.3 L889.0,732.7 L891.1,734.2 L893.1,736.6 L895.2,740.2 L897.2,741.7 L899.2,743.5 L901.3,744.5 L903.3,747.2 L905.3,747.8 L907.4,750.1 L909.4,751.1 L911.4,751.8 L913.5,753.6 L915.5,753.5 L917.5,754.4 L919.6,753.7 L921.6,756.0 L923.6,756.6 L925.7,757.2 L927.7,759.6 L929.8,762.0 L931.8,762.3 L933.8,762.4 L935.9,763.7 L937.9,762.9 L939.9,764.1 L942.0,765.7 L944.0,765.3 L946.0,763.8 L948.1,764.3 L950.1,766.3 L952.1,766.8 L954.2,766.2 L956.2,766.7 L958.3,767.5 L960.3,768.6 L962.3,767.3 L964.4,769.9 L966.4,768.3 L968.4,769.5 L970.5,769.3 L972.5,769.4 L974.5,768.7 L976.6,767.9 L978.6,768.3 L980.6,768.0 L982.7,767.8 L984.7,768.1 L986.7,768.0 L988.8,767.9 L990.8,768.1 L992.9,770.2 L994.9,771.3 L996.9,771.7 L999.0,769.6 L1001.0,770.4 L1003.0,770.5 L1005.1,769.2 L1007.1,770.7 L1009.1,769.0 L1011.2,768.7 L1013.2,768.9 L1015.2,767.8 L1017.3,768.2 L1019.3,768.2 L1021.4,768.1 L1023.4,768.8 L1025.4,767.9 L1027.5,769.7 L1029.5,770.3 L1031.5,770.6 L1033.6,769.9 L1035.6,770.0" stroke="#f876a6"/>
<path d="M628.5,878.7 L630.5,877.9 L632.6,879.5 L634.6,877.7 L636.6,877.9 L638.7,876.9 L640.7,876.0 L642.7,876.4 L644.8,876.4 L646.8,875.8 L648.9,876.4 L650.9,875.6 L652.9,876.4 L655.0,877.3 L657.0,876.3 L659.0,877.8 L661.1,876.8 L663.1,877.3 L665.1,875.7 L667.2,876.1 L669.2,876.0 L671.2,874.5 L673.3,875.5 L675.3,872.5 L677.4,872.7 L679.4,874.3 L681.4,874.2 L683.5,873.3 L685.5,872.3 L687.5,875.1 L689.6,874.1 L691.6,874.1 L693.6,874.5 L695.7,874.4 L697.7,873.1 L699.7,873.2 L701.8,871.7 L703.8,870.6 L705.8,870.6 L707.9,869.3 L709.9,867.3 L712.0,867.2 L714.0,866.1 L716.0,863.4 L718.1,862.6 L720.1,862.9 L722.1,861.1 L724.2,857.0 L726.2,853.0 L728.2,849.8 L730.3,846.2 L732.3,839.2 L734.3,831.9 L736.4,826.5 L738.4,817.0 L740.5,808.9 L742.5,797.7 L744.5,789.4 L746.6,779.2 L748.6,768.6 L750.6,757.1 L752.7,749.1 L754.7,738.1 L756.7,727.4 L758.8,721.3 L760.8,710.6 L762.8,703.5 L764.9,694.8 L766.9,689.0 L768.9,683.5 L771.0,677.5 L773.0,674.1 L775.1,671.1 L777.1,669.2 L779.1,666.2 L781.2,665.4 L783.2,664.8 L785.2,663.6 L787.3,662.7 L789.3,662.7 L791.3,661.2 L793.4,662.7 L795.4,662.5 L797.4,660.9 L799.5,660.1 L801.5,659.5 L803.6,658.4 L805.6,659.6 L807.6,660.3 L809.7,663.6 L811.7,662.7 L813.7,663.0 L815.8,663.2 L817.8,664.7 L819.8,667.0 L821.9,668.2 L823.9,668.7 L825.9,668.7 L828.0,670.8 L830.0,672.3 L832.0,672.5 L834.1,674.3 L836.1,676.0 L838.2,678.1 L840.2,680.9 L842.2,682.9 L844.3,685.0 L846.3,689.5 L848.3,693.1 L850.4,695.9 L852.4,699.5 L854.4,703.2 L856.5,707.0 L858.5,708.2 L860.5,712.6 L862.6,716.8 L864.6,720.0 L866.7,721.8 L868.7,725.4 L870.7,730.7 L872.8,734.3 L874.8,737.4 L876.8,741.8 L878.9,746.9 L880.9,750.8 L882.9,753.1 L885.0,757.8 L887.0,760.5 L889.0,764.5 L891.1,767.6 L893.1,769.4 L895.2,771.7 L897.2,773.2 L899.2,775.2 L901.3,776.7 L903.3,779.2 L905.3,782.2 L907.4,785.0 L909.4,784.7 L911.4,788.6 L913.5,789.9 L915.5,792.0 L917.5,793.4 L919.6,794.7 L921.6,795.5 L923.6,794.5 L925.7,797.6 L927.7,795.4 L929.8,797.5 L931.8,795.9 L933.8,797.4 L935.9,798.0 L937.9,798.3 L939.9,799.0 L942.0,799.9 L944.0,801.8 L946.0,802.0 L948.1,802.9 L950.1,803.3 L952.1,803.1 L954.2,802.9 L956.2,802.2 L958.3,802.6 L960.3,804.5 L962.3,802.7 L964.4,803.2 L966.4,801.9 L968.4,801.6 L970.5,802.8 L972.5,804.0 L974.5,803.9 L976.6,804.0 L978.6,806.2 L980.6,805.5 L982.7,804.7 L984.7,804.1 L986.7,804.8 L988.8,803.6 L990.8,804.8 L992.9,803.9 L994.9,803.9 L996.9,803.3 L999.0,803.3 L1001.0,803.9 L1003.0,803.6 L1005.1,804.5 L1007.1,804.4 L1009.1,805.4 L1011.2,805.4 L1013.2,805.8 L1015.2,807.6 L1017.3,805.6 L1019.3,805.5 L1021.4,805.4 L1023.4,805.3 L1025.4,804.3 L1027.5,804.1 L1029.5,804.9 L1031.5,803.8 L1033.6,804.2 L1035.6,805.0" stroke="#f883ab"/>
<path d="M628.5,841.9 L630.5,842.6 L632.6,842.3 L634.6,842.6 L636.6,842.5 L638.7,840.5 L640.7,841.0 L642.7,841.7 L644.8,842.3 L646.8,842.9 L648.9,844.1 L650.9,843.1 L652.9,844.6 L655.0,845.0 L657.0,845.5 L659.0,845.1 L661.1,844.4 L663.1,843.3 L665.1,844.2 L667.2,843.5 L669.2,841.5 L671.2,843.2 L673.3,843.7 L675.3,843.8 L677.4,843.1 L679.4,843.6 L681.4,845.2 L683.5,845.5 L685.5,846.2 L687.5,844.5 L689.6,845.8 L691.6,844.6 L693.6,844.4 L695.7,843.6 L697.7,842.4 L699.7,840.9 L701.8,839.7 L703.8,839.9 L705.8,837.8 L707.9,837.3 L709.9,835.2 L712.0,834.4 L714.0,831.3 L716.0,828.7 L718.1,825.4 L720.1,820.3 L722.1,815.0 L724.2,808.5 L726.2,800.6 L728.2,791.6 L730.3,782.2 L732.3,770.6 L734.3,759.5 L736.4,748.6 L738.4,737.7 L740.5,727.7 L742.5,716.2 L744.5,705.2 L746.6,696.9 L748.6,688.5 L750.6,679.5 L752.7,671.4 L754.7,666.7 L756.7,659.7 L758.8,655.2 L760.8,651.0 L762.8,649.2 L764.9,645.0 L766.9,642.0 L768.9,643.0 L771.0,640.1 L773.0,641.0 L775.1,640.9 L777.1,641.4 L779.1,642.0 L781.2,643.0 L783.2,644.3 L785.2,646.1 L787.3,647.3 L789.3,645.9 L791.3,647.5 L793.4,648.3 L795.4,649.0 L797.4,650.1 L799.5,652.5 L801.5,655.0 L803.6,657.1 L805.6,658.9 L807.6,662.4 L809.7,663.7 L811.7,666.4 L813.7,669.7 L815.8,672.8 L817.8,675.7 L819.8,676.8 L821.9,676.6 L823.9,680.3 L825.9,680.7 L828.0,680.3 L830.0,680.4 L832.0,681.1 L834.1,681.3 L836.1,682.7 L838.2,683.7 L840.2,684.8 L842.2,686.6 L844.3,688.4 L846.3,691.1 L848.3,694.3 L850.4,697.1 L852.4,699.9 L854.4,704.8 L856.5,705.9 L858.5,710.3 L860.5,715.3 L862.6,718.7 L864.6,722.3 L866.7,726.1 L868.7,730.1 L870.7,732.7 L872.8,735.3 L874.8,738.0 L876.8,739.2 L878.9,741.4 L880.9,742.1 L882.9,742.9 L885.0,743.3 L887.0,744.2 L889.0,744.4 L891.1,744.4 L893.1,745.5 L895.2,745.8 L897.2,745.0 L899.2,746.1 L901.3,747.6 L903.3,748.1 L905.3,748.4 L907.4,749.7 L909.4,750.0 L911.4,750.4 L913.5,751.2 L915.5,751.0 L917.5,749.5 L919.6,749.4 L921.6,748.9 L923.6,748.7 L925.7,749.0 L927.7,749.8 L929.8,750.1 L931.8,750.8 L933.8,751.2 L935.9,750.5 L937.9,751.0 L939.9,751.9 L942.0,753.0 L944.0,753.1 L946.0,752.6 L948.1,752.0 L950.1,751.4 L952.1,751.9 L954.2,751.7 L956.2,749.8 L958.3,749.4 L960.3,751.0 L962.3,749.9 L964.4,751.1 L966.4,752.0 L968.4,751.0 L970.5,751.3 L972.5,753.2 L974.5,753.6 L976.6,752.1 L978.6,752.7 L980.6,751.8 L982.7,752.7 L984.7,751.9 L986.7,752.6 L988.8,750.3 L990.8,751.5 L992.9,750.1 L994.9,750.9 L996.9,751.2 L999.0,751.2 L1001.0,753.5 L1003.0,752.9 L1005.1,752.7 L1007.1,752.3 L1009.1,752.1 L1011.2,752.8 L1013.2,752.6 L1015.2,751.2 L1017.3,751.1 L1019.3,751.7 L1021.4,751.4 L1023.4,750.8 L1025.4,751.0 L1027.5,752.0 L1029.5,751.8 L1031.5,751.5 L1033.6,753.2 L1035.6,753.9" stroke="#f98aad"/>
<path d="M628.5,889.7 L630.5,890.8 L632.6,888.7 L634.6,889.7 L636.6,889.3 L638.7,888.1 L640.7,886.9 L642.7,887.2 L644.8,886.0 L646.8,887.1 L648.9,887.1 L650.9,886.9 L652.9,887.7 L655.0,887.8 L657.0,889.9 L659.0,889.7 L661.1,887.6 L663.1,888.6 L665.1,889.2 L667.2,888.1 L669.2,888.0 L671.2,886.8 L673.3,886.1 L675.3,886.8 L677.4,885.0 L679.4,885.1 L681.4,888.3 L683.5,886.4 L685.5,887.9 L687.5,887.4 L689.6,888.3 L691.6,887.7 L693.6,887.2 L695.7,887.6 L697.7,886.2 L699.7,885.8 L701.8,884.0 L703.8,884.0 L705.8,881.1 L707.9,880.5 L709.9,879.1 L712.0,878.5 L714.0,877.9 L716.0,876.1 L718.1,873.3 L720.1,871.2 L722.1,867.0 L724.2,862.3 L726.2,856.8 L728.2,849.8 L730.3,842.4 L732.3,834.4 L734.3,822.2 L736.4,812.3 L738.4,799.8 L740.5,787.1 L742.5,772.7 L744.5,758.5 L746.6,745.8 L748.6,732.2 L750.6,721.1 L752.7,709.2 L754.7,698.3 L756.7,688.7 L758.8,679.5 L760.8,673.6 L762.8,664.8 L764.9,659.4 L766.9,654.4 L768.9,650.6 L771.0,648.5 L773.0,646.4 L775.1,644.2 L777.1,642.5 L779.1,640.5 L781.2,643.0 L783.2,642.7 L785.2,643.3 L787.3,644.0 L789.3,644.7 L791.3,644.4 L793.4,645.2 L795.4,644.1 L797.4,645.8 L799.5,645.2 L801.5,646.5 L803.6,647.1 L805.6,648.4 L807.6,650.7 L809.7,651.4 L811.7,652.5 L813.7,653.8 L815.8,654.8 L817.8,657.2 L819.8,657.1 L821.9,658.9 L823.9,658.7 L825.9,658.1 L828.0,658.4 L830.0,657.2 L832.0,657.0 L834.1,657.4 L836.1,657.6 L838.2,659.8 L840.2,661.2 L842.2,662.8 L844.3,667.6 L846.3,670.6 L848.3,675.2 L850.4,679.4 L852.4,684.9 L854.4,689.1 L856.5,694.0 L858.5,697.5 L860.5,701.2 L862.6,705.6 L864.6,707.7 L866.7,710.5 L868.7,714.7 L870.7,718.0 L872.8,721.4 L874.8,724.2 L876.8,726.3 L878.9,729.9 L880.9,731.7 L882.9,733.8 L885.0,736.2 L887.0,736.3 L889.0,738.1 L891.1,737.1 L893.1,737.8 L895.2,739.6 L897.2,739.8 L899.2,740.7 L901.3,741.5 L903.3,742.1 L905.3,742.9 L907.4,744.8 L909.4,745.1 L911.4,746.6 L913.5,747.9 L915.5,748.1 L917.5,748.7 L919.6,750.1 L921.6,750.3 L923.6,749.7 L925.7,749.4 L927.7,750.5 L929.8,748.5 L931.8,749.5 L933.8,750.4 L935.9,749.7 L937.9,751.9 L939.9,752.8 L942.0,751.3 L944.0,752.5 L946.0,752.9 L948.1,752.0 L950.1,755.5 L952.1,754.0 L954.2,752.0 L956.2,750.6 L958.3,751.0 L960.3,751.9 L962.3,752.1 L964.4,751.3 L966.4,751.2 L968.4,751.8 L970.5,751.7 L972.5,751.3 L974.5,751.7 L976.6,753.5 L978.6,753.2 L980.6,753.4 L982.7,754.2 L984.7,753.2 L986.7,753.2 L988.8,750.0 L990.8,751.7 L992.9,752.3 L994.9,751.5 L996.9,751.3 L999.0,751.3 L1001.0,751.7 L1003.0,752.6 L1005.1,751.5 L1007.1,753.0 L1009.1,753.3 L1011.2,753.7 L1013.2,754.7 L1015.2,752.7 L1017.3,752.3 L1019.3,753.8 L1021.4,751.3 L1023.4,751.5 L1025.4,750.4 L1027.5,750.2 L1029.5,751.4 L1031.5,750.6 L1033.6,751.6 L1035.6,751.1" stroke="#f98aad"/>
<path d="M628.5,854.8 L630.5,853.1 L632.6,851.8 L634.6,851.3 L636.6,852.6 L638.7,852.2 L640.7,850.4 L642.7,853.2 L644.8,852.0 L646.8,852.3 L648.9,852.0 L650.9,853.5 L652.9,853.8 L655.0,852.8 L657.0,853.0 L659.0,850.9 L661.1,851.5 L663.1,850.4 L665.1,849.9 L667.2,850.1 L669.2,850.1 L671.2,849.4 L673.3,850.4 L675.3,850.1 L677.4,851.2 L679.4,850.5 L681.4,851.7 L683.5,849.9 L685.5,851.1 L687.5,850.0 L689.6,849.1 L691.6,846.4 L693.6,846.3 L695.7,847.5 L697.7,845.2 L699.7,845.4 L701.8,844.6 L703.8,842.6 L705.8,841.6 L707.9,840.7 L709.9,839.8 L712.0,837.5 L714.0,835.9 L716.0,832.0 L718.1,830.7 L720.1,825.1 L722.1,818.5 L724.2,813.6 L726.2,806.9 L728.2,799.0 L730.3,789.6 L732.3,782.0 L734.3,773.9 L736.4,765.7 L738.4,756.3 L740.5,748.7 L742.5,738.7 L744.5,731.7 L746.6,724.9 L748.6,719.2 L750.6,711.1 L752.7,705.5 L754.7,701.2 L756.7,696.9 L758.8,692.7 L760.8,689.3 L762.8,687.3 L764.9,685.7 L766.9,682.9 L768.9,683.2 L771.0,684.9 L773.0,684.2 L775.1,683.4 L777.1,685.3 L779.1,683.9 L781.2,685.0 L783.2,685.8 L785.2,685.4 L787.3,686.7 L789.3,686.2 L791.3,687.1 L793.4,686.3 L795.4,687.1 L797.4,689.6 L799.5,688.2 L801.5,688.7 L803.6,690.7 L805.6,690.8 L807.6,692.2 L809.7,692.4 L811.7,692.1 L813.7,691.6 L815.8,691.3 L817.8,689.6 L819.8,690.0 L821.9,690.4 L823.9,689.9 L825.9,690.9 L828.0,692.7 L830.0,693.3 L832.0,697.5 L834.1,700.2 L836.1,705.5 L838.2,709.2 L840.2,714.7 L842.2,718.5 L844.3,724.1 L846.3,728.9 L848.3,732.1 L850.4,735.6 L852.4,737.9 L854.4,739.6 L856.5,744.6 L858.5,747.0 L860.5,748.7 L862.6,749.8 L864.6,753.3 L866.7,756.2 L868.7,760.0 L870.7,760.3 L872.8,762.6 L874.8,765.3 L876.8,768.3 L878.9,769.6 L880.9,770.2 L882.9,771.8 L885.0,774.1 L887.0,775.4 L889.0,775.7 L891.1,777.5 L893.1,777.4 L895.2,778.4 L897.2,779.9 L899.2,783.0 L901.3,782.8 L903.3,785.3 L905.3,787.7 L907.4,788.7 L909.4,789.3 L911.4,790.8 L913.5,790.1 L915.5,791.9 L917.5,791.1 L919.6,792.1 L921.6,792.7 L923.6,792.3 L925.7,792.1 L927.7,793.3 L929.8,793.5 L931.8,794.7 L933.8,796.2 L935.9,797.0 L937.9,798.2 L939.9,798.2 L942.0,798.9 L944.0,798.0 L946.0,799.0 L948.1,798.2 L950.1,798.0 L952.1,797.6 L954.2,796.8 L956.2,798.0 L958.3,798.4 L960.3,799.0 L962.3,799.5 L964.4,799.1 L966.4,801.8 L968.4,801.6 L970.5,801.0 L972.5,802.7 L974.5,802.4 L976.6,801.4 L978.6,800.7 L980.6,800.1 L982.7,801.7 L984.7,800.3 L986.7,800.8 L988.8,800.1 L990.8,801.1 L992.9,799.5 L994.9,801.3 L996.9,800.5 L999.0,801.5 L1001.0,803.6 L1003.0,801.7 L1005.1,803.5 L1007.1,803.2 L1009.1,801.7 L1011.2,802.2 L1013.2,801.3 L1015.2,801.5 L1017.3,800.5 L1019.3,800.1 L1021.4,800.5 L1023.4,800.0 L1025.4,801.3 L1027.5,801.2 L1029.5,802.2 L1031.5,801.8 L1033.6,803.1 L1035.6,804.4" stroke="#f994b1"/>
<path d="M628.5,870.1 L630.5,871.0 L632.6,871.5 L634.6,871.2 L636.6,872.0 L638.7,871.8 L640.7,870.9 L642.7,871.2 L644.8,870.3 L646.8,870.3 L648.9,870.2 L650.9,869.4 L652.9,869.0 L655.0,867.4 L657.0,867.4 L659.0,868.1 L661.1,868.7 L663.1,869.9 L665.1,867.5 L667.2,868.4 L669.2,869.9 L671.2,869.6 L673.3,870.0 L675.3,870.4 L677.4,868.6 L679.4,868.1 L681.4,867.9 L683.5,867.6 L685.5,867.1 L687.5,866.8 L689.6,865.6 L691.6,866.1 L693.6,865.7 L695.7,866.9 L697.7,866.8 L699.7,866.5 L701.8,865.7 L703.8,863.9 L705.8,866.0 L707.9,863.1 L709.9,861.9 L712.0,861.3 L714.0,860.0 L716.0,856.5 L718.1,853.8 L720.1,850.9 L722.1,848.5 L724.2,845.0 L726.2,841.3 L728.2,835.4 L730.3,832.5 L732.3,825.3 L734.3,819.2 L736.4,812.4 L738.4,804.7 L740.5,795.2 L742.5,785.0 L744.5,777.0 L746.6,767.0 L748.6,758.0 L750.6,748.9 L752.7,741.4 L754.7,734.8 L756.7,728.0 L758.8,722.8 L760.8,717.5 L762.8,714.4 L764.9,710.5 L766.9,707.1 L768.9,706.1 L771.0,703.7 L773.0,701.6 L775.1,699.7 L777.1,699.2 L779.1,697.3 L781.2,697.3 L783.2,694.7 L785.2,696.2 L787.3,695.1 L789.3,695.9 L791.3,695.9 L793.4,696.9 L795.4,698.4 L797.4,698.9 L799.5,698.7 L801.5,700.1 L803.6,699.9 L805.6,699.3 L807.6,700.7 L809.7,701.5 L811.7,702.6 L813.7,702.9 L815.8,701.7 L817.8,702.3 L819.8,702.9 L821.9,705.0 L823.9,705.8 L825.9,709.8 L828.0,710.1 L830.0,712.5 L832.0,713.7 L834.1,714.7 L836.1,716.3 L838.2,717.9 L840.2,718.5 L842.2,719.6 L844.3,718.8 L846.3,719.9 L848.3,721.2 L850.4,723.1 L852.4,723.2 L854.4,725.7 L856.5,727.2 L858.5,728.8 L860.5,730.8 L862.6,732.0 L864.6,733.6 L866.7,734.6 L868.7,735.0 L870.7,737.5 L872.8,736.0 L874.8,737.8 L876.8,737.9 L878.9,739.2 L880.9,739.4 L882.9,739.8 L885.0,741.7 L887.0,741.6 L889.0,742.5 L891.1,744.1 L893.1,745.1 L895.2,745.4 L897.2,747.3 L899.2,748.6 L901.3,747.5 L903.3,746.2 L905.3,746.0 L907.4,746.3 L909.4,746.5 L911.4,745.8 L913.5,746.9 L915.5,746.4 L917.5,747.6 L919.6,747.8 L921.6,749.3 L923.6,748.6 L925.7,751.1 L927.7,749.9 L929.8,750.6 L931.8,750.3 L933.8,750.1 L935.9,749.3 L937.9,749.3 L939.9,749.5 L942.0,748.1 L944.0,748.6 L946.0,748.7 L948.1,748.4 L950.1,747.4 L952.1,748.5 L954.2,750.5 L956.2,750.7 L958.3,750.9 L960.3,751.5 L962.3,750.6 L964.4,751.8 L966.4,751.1 L968.4,749.7 L970.5,749.7 L972.5,748.8 L974.5,748.5 L976.6,749.2 L978.6,748.2 L980.6,747.6 L982.7,750.0 L984.7,749.6 L986.7,751.3 L988.8,750.2 L990.8,750.0 L992.9,750.5 L994.9,751.7 L996.9,751.6 L999.0,750.9 L1001.0,750.2 L1003.0,749.4 L1005.1,749.3 L1007.1,747.7 L1009.1,748.1 L1011.2,747.8 L1013.2,748.8 L1015.2,749.6 L1017.3,748.7 L1019.3,747.2 L1021.4,749.4 L1023.4,749.2 L1025.4,749.7 L1027.5,750.7 L1029.5,749.1 L1031.5,747.8 L1033.6,749.2 L1035.6,748.5" stroke="#f995b1"/>
<path d="M628.5,893.1 L630.5,894.0 L632.6,893.2 L634.6,894.2 L636.6,894.7 L638.7,894.2 L640.7,894.5 L642.7,893.8 L644.8,892.5 L646.8,893.8 L648.9,893.2 L650.9,893.4 L652.9,891.5 L655.0,890.6 L657.0,890.8 L659.0,890.3 L661.1,891.9 L663.1,891.7 L665.1,891.8 L667.2,892.8 L669.2,891.6 L671.2,891.8 L673.3,892.2 L675.3,891.6 L677.4,892.0 L679.4,891.1 L681.4,890.5 L683.5,889.5 L685.5,888.5 L687.5,888.6 L689.6,887.5 L691.6,886.2 L693.6,888.0 L695.7,888.7 L697.7,888.3 L699.7,887.7 L701.8,888.8 L703.8,887.7 L705.8,886.3 L707.9,885.9 L709.9,884.8 L712.0,881.9 L714.0,882.2 L716.0,879.9 L718.1,877.1 L720.1,876.7 L722.1,873.6 L724.2,872.9 L726.2,868.7 L728.2,867.5 L730.3,864.5 L732.3,858.8 L734.3,855.0 L736.4,848.9 L738.4,842.5 L740.5,834.6 L742.5,827.2 L744.5,817.6 L746.6,806.0 L748.6,795.5 L750.6,783.0 L752.7,771.3 L754.7,758.7 L756.7,746.6 L758.8,736.4 L760.8,725.5 L762.8,715.1 L764.9,704.4 L766.9,695.1 L768.9,686.3 L771.0,678.0 L773.0,670.6 L775.1,665.1 L777.1,658.8 L779.1,653.4 L781.2,648.0 L783.2,645.8 L785.2,641.9 L787.3,639.6 L789.3,637.4 L791.3,636.6 L793.4,635.6 L795.4,634.7 L797.4,634.1 L799.5,635.4 L801.5,634.1 L803.6,632.1 L805.6,632.9 L807.6,631.1 L809.7,630.3 L811.7,628.4 L813.7,627.7 L815.8,626.0 L817.8,624.6 L819.8,622.7 L821.9,622.4 L823.9,622.6 L825.9,620.8 L828.0,620.5 L830.0,619.5 L832.0,620.1 L834.1,621.3 L836.1,621.3 L838.2,624.1 L840.2,626.6 L842.2,627.9 L844.3,632.5 L846.3,635.8 L848.3,641.3 L850.4,646.5 L852.4,651.8 L854.4,658.1 L856.5,663.7 L858.5,670.4 L860.5,675.8 L862.6,681.1 L864.6,685.9 L866.7,693.0 L868.7,696.5 L870.7,701.2 L872.8,705.2 L874.8,709.0 L876.8,713.6 L878.9,717.6 L880.9,722.0 L882.9,726.7 L885.0,731.7 L887.0,737.3 L889.0,740.1 L891.1,745.0 L893.1,749.0 L895.2,752.9 L897.2,757.0 L899.2,761.1 L901.3,763.4 L903.3,766.7 L905.3,767.1 L907.4,768.8 L909.4,770.8 L911.4,773.3 L913.5,776.0 L915.5,778.3 L917.5,779.4 L919.6,781.0 L921.6,782.7 L923.6,783.7 L925.7,786.7 L927.7,788.5 L929.8,787.2 L931.8,789.4 L933.8,789.2 L935.9,789.4 L937.9,789.4 L939.9,789.1 L942.0,791.3 L944.0,789.9 L946.0,790.6 L948.1,790.6 L950.1,793.4 L952.1,793.2 L954.2,794.2 L956.2,794.5 L958.3,794.4 L960.3,795.6 L962.3,795.4 L964.4,796.1 L966.4,795.0 L968.4,794.6 L970.5,793.5 L972.5,795.4 L974.5,794.0 L976.6,795.5 L978.6,794.9 L980.6,795.2 L982.7,796.1 L984.7,794.7 L986.7,798.1 L988.8,798.7 L990.8,798.2 L992.9,797.7 L994.9,798.1 L996.9,798.1 L999.0,798.1 L1001.0,796.3 L1003.0,795.9 L1005.1,795.7 L1007.1,797.1 L1009.1,795.4 L1011.2,795.9 L1013.2,797.3 L1015.2,797.8 L1017.3,798.4 L1019.3,799.0 L1021.4,799.0 L1023.4,799.7 L1025.4,800.6 L1027.5,799.3 L1029.5,798.5 L1031.5,797.4 L1033.6,797.8 L1035.6,797.8" stroke="#fa98b2"/>
<path d="M628.5,842.0 L630.5,841.4 L632.6,843.9 L634.6,842.3 L636.6,842.6 L638.7,842.3 L640.7,840.8 L642.7,843.3 L644.8,841.7 L646.8,842.0 L648.9,840.9 L650.9,841.5 L652.9,840.4 L655.0,841.6 L657.0,841.7 L659.0,842.5 L661.1,843.4 L663.1,844.7 L665.1,843.3 L667.2,845.3 L669.2,842.9 L671.2,844.3 L673.3,843.4 L675.3,843.2 L677.4,842.0 L679.4,842.2 L681.4,842.2 L683.5,842.1 L685.5,841.1 L687.5,841.7 L689.6,842.6 L691.6,841.9 L693.6,841.3 L695.7,841.2 L697.7,840.6 L699.7,840.2 L701.8,837.9 L703.8,834.9 L705.8,832.9 L707.9,829.9 L709.9,826.8 L712.0,824.9 L714.0,822.4 L716.0,818.1 L718.1,813.7 L720.1,808.2 L722.1,802.8 L724.2,797.6 L726.2,790.7 L728.2,784.5 L730.3,775.0 L732.3,768.4 L734.3,759.8 L736.4,749.3 L738.4,741.6 L740.5,732.7 L742.5,725.1 L744.5,718.2 L746.6,708.8 L748.6,704.8 L750.6,698.2 L752.7,694.7 L754.7,690.9 L756.7,688.3 L758.8,684.9 L760.8,682.9 L762.8,680.9 L764.9,679.5 L766.9,676.2 L768.9,674.4 L771.0,673.9 L773.0,672.4 L775.1,671.7 L777.1,671.9 L779.1,670.0 L781.2,669.7 L783.2,670.2 L785.2,671.1 L787.3,672.8 L789.3,673.9 L791.3,674.9 L793.4,673.8 L795.4,675.0 L797.4,675.7 L799.5,675.4 L801.5,675.5 L803.6,675.6 L805.6,677.8 L807.6,677.0 L809.7,678.3 L811.7,678.8 L813.7,681.6 L815.8,681.9 L817.8,684.0 L819.8,686.1 L821.9,688.3 L823.9,690.0 L825.9,691.9 L828.0,693.4 L830.0,693.2 L832.0,696.3 L834.1,696.3 L836.1,698.3 L838.2,699.2 L840.2,700.9 L842.2,702.7 L844.3,705.2 L846.3,705.8 L848.3,708.5 L850.4,711.3 L852.4,714.3 L854.4,715.0 L856.5,718.3 L858.5,720.5 L860.5,720.0 L862.6,723.2 L864.6,723.2 L866.7,723.3 L868.7,724.8 L870.7,725.5 L872.8,726.2 L874.8,728.1 L876.8,729.6 L878.9,730.7 L880.9,732.5 L882.9,735.1 L885.0,737.6 L887.0,737.5 L889.0,738.4 L891.1,739.6 L893.1,740.1 L895.2,739.4 L897.2,741.1 L899.2,740.6 L901.3,739.9 L903.3,740.6 L905.3,741.8 L907.4,741.6 L909.4,743.7 L911.4,743.9 L913.5,744.5 L915.5,745.8 L917.5,746.8 L919.6,747.3 L921.6,747.5 L923.6,747.0 L925.7,748.6 L927.7,746.1 L929.8,746.7 L931.8,747.4 L933.8,747.1 L935.9,745.6 L937.9,746.2 L939.9,746.8 L942.0,746.5 L944.0,747.9 L946.0,748.2 L948.1,749.1 L950.1,748.0 L952.1,750.7 L954.2,749.4 L956.2,751.3 L958.3,750.0 L960.3,749.2 L962.3,747.6 L964.4,750.2 L966.4,748.8 L968.4,748.7 L970.5,747.5 L972.5,748.8 L974.5,748.9 L976.6,749.5 L978.6,749.8 L980.6,749.1 L982.7,751.0 L984.7,751.5 L986.7,750.2 L988.8,751.8 L990.8,750.8 L992.9,751.2 L994.9,749.4 L996.9,748.2 L999.0,749.1 L1001.0,748.3 L1003.0,748.3 L1005.1,748.4 L1007.1,749.4 L1009.1,750.1 L1011.2,751.5 L1013.2,751.9 L1015.2,751.4 L1017.3,752.2 L1019.3,751.3 L1021.4,752.7 L1023.4,751.1 L1025.4,751.1 L1027.5,749.3 L1029.5,751.1 L1031.5,749.1 L1033.6,749.0 L1035.6,749.4" stroke="#fa9fb5"/>
<path d="M628.5,868.3 L630.5,867.5 L632.6,868.6 L634.6,867.9 L636.6,869.3 L638.7,867.7 L640.7,869.5 L642.7,871.3 L644.8,870.7 L646.8,870.9 L648.9,870.4 L650.9,871.3 L652.9,872.1 L655.0,870.4 L657.0,871.9 L659.0,869.1 L661.1,869.7 L663.1,869.9 L665.1,870.3 L667.2,868.8 L669.2,870.7 L671.2,869.8 L673.3,871.4 L675.3,871.9 L677.4,872.6 L679.4,872.3 L681.4,873.3 L683.5,873.2 L685.5,871.2 L687.5,871.9 L689.6,871.3 L691.6,871.9 L693.6,870.9 L695.7,869.9 L697.7,869.2 L699.7,871.0 L701.8,870.1 L703.8,870.5 L705.8,870.4 L707.9,870.5 L709.9,867.9 L712.0,868.3 L714.0,865.1 L716.0,863.6 L718.1,860.2 L720.1,855.3 L722.1,852.4 L724.2,847.6 L726.2,841.3 L728.2,835.9 L730.3,827.3 L732.3,818.6 L734.3,809.7 L736.4,799.2 L738.4,788.6 L740.5,778.1 L742.5,766.6 L744.5,755.6 L746.6,746.0 L748.6,735.8 L750.6,726.5 L752.7,720.0 L754.7,713.7 L756.7,706.4 L758.8,702.8 L760.8,698.5 L762.8,696.3 L764.9,693.6 L766.9,692.1 L768.9,693.2 L771.0,692.9 L773.0,692.5 L775.1,691.2 L777.1,691.3 L779.1,691.4 L781.2,690.0 L783.2,690.4 L785.2,690.7 L787.3,689.0 L789.3,689.8 L791.3,690.0 L793.4,691.9 L795.4,691.9 L797.4,693.6 L799.5,694.5 L801.5,695.7 L803.6,697.8 L805.6,699.6 L807.6,700.1 L809.7,701.8 L811.7,700.7 L813.7,703.1 L815.8,704.9 L817.8,704.9 L819.8,705.6 L821.9,708.1 L823.9,707.6 L825.9,710.3 L828.0,712.2 L830.0,713.8 L832.0,716.1 L834.1,718.7 L836.1,718.9 L838.2,721.1 L840.2,723.5 L842.2,725.5 L844.3,726.5 L846.3,727.1 L848.3,728.1 L850.4,729.7 L852.4,730.5 L854.4,732.9 L856.5,734.8 L858.5,735.3 L860.5,738.4 L862.6,739.6 L864.6,741.7 L866.7,744.3 L868.7,745.8 L870.7,747.6 L872.8,747.6 L874.8,750.5 L876.8,750.9 L878.9,751.6 L880.9,752.7 L882.9,752.9 L885.0,753.7 L887.0,753.2 L889.0,756.7 L891.1,755.3 L893.1,759.2 L895.2,759.6 L897.2,760.2 L899.2,761.2 L901.3,760.8 L903.3,762.4 L905.3,763.4 L907.4,764.7 L909.4,763.1 L911.4,762.3 L913.5,763.2 L915.5,762.8 L917.5,762.1 L919.6,763.0 L921.6,764.1 L923.6,764.5 L925.7,764.4 L927.7,765.4 L929.8,766.0 L931.8,766.6 L933.8,767.9 L935.9,768.4 L937.9,767.3 L939.9,768.5 L942.0,766.0 L944.0,767.2 L946.0,764.9 L948.1,766.0 L950.1,765.9 L952.1,765.1 L954.2,764.6 L956.2,764.6 L958.3,766.1 L960.3,766.7 L962.3,767.1 L964.4,766.7 L966.4,768.5 L968.4,768.5 L970.5,768.1 L972.5,767.7 L974.5,767.4 L976.6,766.7 L978.6,766.1 L980.6,765.0 L982.7,765.9 L984.7,765.0 L986.7,766.0 L988.8,765.6 L990.8,766.1 L992.9,765.1 L994.9,766.7 L996.9,767.9 L999.0,766.7 L1001.0,767.9 L1003.0,766.4 L1005.1,767.3 L1007.1,765.6 L1009.1,765.4 L1011.2,763.8 L1013.2,762.8 L1015.2,764.1 L1017.3,763.1 L1019.3,764.7 L1021.4,764.3 L1023.4,765.5 L1025.4,765.9 L1027.5,766.7 L1029.5,765.3 L1031.5,766.8 L1033.6,765.5 L1035.6,765.9" stroke="#faa0b5"/>
<path d="M628.5,891.9 L630.5,891.1 L632.6,893.7 L634.6,891.1 L636.6,891.0 L638.7,890.4 L640.7,891.2 L642.7,888.6 L644.8,889.5 L646.8,889.6 L648.9,889.5 L650.9,889.9 L652.9,891.0 L655.0,889.4 L657.0,891.1 L659.0,890.3 L661.1,891.1 L663.1,890.9 L665.1,891.3 L667.2,889.5 L669.2,889.3 L671.2,889.1 L673.3,888.7 L675.3,889.5 L677.4,887.2 L679.4,888.8 L681.4,888.1 L683.5,887.6 L685.5,888.9 L687.5,889.6 L689.6,890.2 L691.6,889.5 L693.6,890.2 L695.7,890.0 L697.7,889.8 L699.7,887.7 L701.8,888.6 L703.8,887.2 L705.8,887.3 L707.9,887.1 L709.9,886.4 L712.0,886.0 L714.0,886.4 L716.0,885.7 L718.1,886.3 L720.1,886.5 L722.1,886.2 L724.2,885.7 L726.2,885.6 L728.2,885.1 L730.3,881.1 L732.3,880.9 L734.3,876.9 L736.4,875.3 L738.4,873.5 L740.5,871.3 L742.5,869.4 L744.5,866.0 L746.6,863.7 L748.6,861.1 L750.6,858.5 L752.7,854.6 L754.7,853.6 L756.7,851.4 L758.8,847.8 L760.8,843.5 L762.8,841.3 L764.9,837.2 L766.9,836.0 L768.9,835.2 L771.0,832.0 L773.0,831.5 L775.1,829.7 L777.1,828.2 L779.1,827.9 L781.2,828.9 L783.2,828.7 L785.2,827.8 L787.3,828.0 L789.3,828.0 L791.3,827.9 L793.4,826.6 L795.4,826.5 L797.4,825.5 L799.5,824.8 L801.5,823.8 L803.6,822.4 L805.6,822.5 L807.6,821.0 L809.7,821.8 L811.7,820.9 L813.7,818.1 L815.8,817.8 L817.8,816.9 L819.8,818.1 L821.9,817.4 L823.9,816.3 L825.9,816.7 L828.0,814.8 L830.0,814.8 L832.0,815.0 L834.1,813.9 L836.1,813.7 L838.2,814.7 L840.2,817.2 L842.2,818.6 L844.3,819.6 L846.3,821.7 L848.3,822.4 L850.4,822.7 L852.4,823.9 L854.4,826.2 L856.5,825.6 L858.5,824.9 L860.5,824.9 L862.6,826.5 L864.6,823.4 L866.7,823.1 L868.7,824.8 L870.7,824.2 L872.8,822.8 L874.8,824.9 L876.8,826.7 L878.9,826.0 L880.9,827.0 L882.9,827.0 L885.0,827.0 L887.0,827.6 L889.0,827.2 L891.1,826.2 L893.1,827.1 L895.2,824.9 L897.2,824.7 L899.2,825.7 L901.3,826.4 L903.3,824.9 L905.3,826.1 L907.4,826.6 L909.4,827.0 L911.4,827.1 L913.5,828.8 L915.5,827.7 L917.5,828.5 L919.6,828.2 L921.6,829.0 L923.6,828.2 L925.7,827.3 L927.7,827.1 L929.8,827.1 L931.8,826.7 L933.8,827.3 L935.9,825.8 L937.9,827.3 L939.9,827.6 L942.0,828.0 L944.0,830.2 L946.0,830.4 L948.1,830.5 L950.1,830.8 L952.1,830.1 L954.2,830.4 L956.2,829.3 L958.3,829.0 L960.3,829.6 L962.3,828.2 L964.4,828.7 L966.4,828.5 L968.4,828.4 L970.5,828.5 L972.5,829.9 L974.5,830.6 L976.6,831.1 L978.6,832.1 L980.6,831.5 L982.7,832.3 L984.7,832.4 L986.7,830.0 L988.8,830.6 L990.8,830.1 L992.9,830.2 L994.9,828.2 L996.9,829.1 L999.0,829.4 L1001.0,829.6 L1003.0,830.6 L1005.1,830.8 L1007.1,831.0 L1009.1,832.5 L1011.2,832.6 L1013.2,832.6 L1015.2,831.8 L1017.3,831.8 L1019.3,832.7 L1021.4,831.3 L1023.4,830.8 L1025.4,830.4 L1027.5,831.1 L1029.5,830.1 L1031.5,830.7 L1033.6,831.0 L1035.6,832.1" stroke="#fba9b8"/>
<path d="M628.5,835.6 L630.5,835.1 L632.6,835.7 L634.6,835.0 L636.6,835.0 L638.7,833.0 L640.7,833.6 L642.7,833.2 L644.8,835.3 L646.8,833.5 L648.9,833.9 L650.9,833.3 L652.9,834.3 L655.0,835.7 L657.0,834.4 L659.0,835.6 L661.1,834.5 L663.1,833.7 L665.1,832.9 L667.2,832.0 L669.2,831.0 L671.2,832.2 L673.3,831.8 L675.3,831.6 L677.4,832.0 L679.4,832.2 L681.4,830.9 L683.5,831.5 L685.5,832.4 L687.5,830.3 L689.6,830.9 L691.6,830.0 L693.6,830.4 L695.7,828.3 L697.7,827.3 L699.7,825.3 L701.8,823.8 L703.8,822.7 L705.8,820.8 L707.9,820.6 L709.9,818.7 L712.0,816.6 L714.0,814.9 L716.0,810.7 L718.1,809.3 L720.1,804.8 L722.1,799.3 L724.2,794.3 L726.2,788.8 L728.2,782.0 L730.3,773.9 L732.3,767.8 L734.3,760.9 L736.4,753.1 L738.4,744.6 L740.5,738.3 L742.5,731.3 L744.5,724.5 L746.6,719.5 L748.6,712.6 L750.6,706.5 L752.7,702.2 L754.7,697.8 L756.7,693.4 L758.8,689.4 L760.8,685.9 L762.8,683.2 L764.9,679.3 L766.9,678.4 L768.9,677.9 L771.0,677.0 L773.0,676.1 L775.1,676.4 L777.1,676.3 L779.1,676.3 L781.2,676.3 L783.2,675.9 L785.2,677.0 L787.3,676.8 L789.3,675.8 L791.3,675.3 L793.4,677.1 L795.4,677.7 L797.4,676.6 L799.5,679.0 L801.5,679.8 L803.6,682.1 L805.6,682.7 L807.6,684.1 L809.7,687.8 L811.7,689.7 L813.7,690.2 L815.8,693.7 L817.8,694.2 L819.8,696.2 L821.9,698.4 L823.9,700.1 L825.9,701.4 L828.0,703.9 L830.0,705.9 L832.0,708.1 L834.1,712.2 L836.1,713.9 L838.2,717.0 L840.2,719.9 L842.2,723.4 L844.3,726.3 L846.3,729.4 L848.3,731.4 L850.4,735.6 L852.4,736.2 L854.4,737.7 L856.5,740.7 L858.5,742.1 L860.5,744.0 L862.6,746.3 L864.6,749.1 L866.7,751.4 L868.7,752.2 L870.7,755.1 L872.8,757.5 L874.8,759.9 L876.8,760.8 L878.9,763.2 L880.9,763.8 L882.9,764.8 L885.0,766.1 L887.0,766.4 L889.0,767.2 L891.1,768.2 L893.1,767.5 L895.2,768.5 L897.2,769.1 L899.2,770.7 L901.3,771.3 L903.3,773.5 L905.3,774.0 L907.4,774.5 L909.4,775.6 L911.4,774.1 L913.5,775.5 L915.5,777.3 L917.5,775.3 L919.6,774.8 L921.6,775.0 L923.6,774.0 L925.7,774.7 L927.7,775.6 L929.8,775.4 L931.8,777.0 L933.8,776.3 L935.9,776.3 L937.9,778.3 L939.9,776.8 L942.0,778.5 L944.0,777.4 L946.0,778.4 L948.1,777.7 L950.1,776.8 L952.1,776.6 L954.2,776.8 L956.2,776.2 L958.3,775.6 L960.3,776.5 L962.3,777.9 L964.4,776.3 L966.4,776.6 L968.4,777.5 L970.5,777.9 L972.5,778.3 L974.5,778.5 L976.6,778.1 L978.6,778.5 L980.6,777.1 L982.7,776.1 L984.7,776.9 L986.7,775.3 L988.8,775.5 L990.8,775.4 L992.9,775.0 L994.9,774.2 L996.9,777.3 L999.0,776.5 L1001.0,775.9 L1003.0,776.6 L1005.1,777.2 L1007.1,777.7 L1009.1,776.8 L1011.2,776.2 L1013.2,776.4 L1015.2,777.2 L1017.3,774.6 L1019.3,774.7 L1021.4,774.5 L1023.4,774.6 L1025.4,774.4 L1027.5,774.4 L1029.5,775.6 L1031.5,775.8 L1033.6,776.2 L1035.6,777.0" stroke="#fbb2ba"/>
<path d="M628.5,844.7 L630.5,844.5 L632.6,844.9 L634.6,846.5 L636.6,846.9 L638.7,848.2 L640.7,847.7 L642.7,847.2 L644.8,846.9 L646.8,847.0 L648.9,846.4 L650.9,845.5 L652.9,845.3 L655.0,845.7 L657.0,845.0 L659.0,846.7 L661.1,846.5 L663.1,846.6 L665.1,847.4 L667.2,847.7 L669.2,848.2 L671.2,848.3 L673.3,848.8 L675.3,848.3 L677.4,848.2 L679.4,848.7 L681.4,848.2 L683.5,845.7 L685.5,847.4 L687.5,846.6 L689.6,846.3 L691.6,847.2 L693.6,846.7 L695.7,849.1 L697.7,847.8 L699.7,848.5 L701.8,848.8 L703.8,848.2 L705.8,847.6 L707.9,847.1 L709.9,846.9 L712.0,846.3 L714.0,843.6 L716.0,841.7 L718.1,840.5 L720.1,838.7 L722.1,836.7 L724.2,833.4 L726.2,830.5 L728.2,826.6 L730.3,823.3 L732.3,817.5 L734.3,811.3 L736.4,806.0 L738.4,797.5 L740.5,787.3 L742.5,776.4 L744.5,766.8 L746.6,755.8 L748.6,745.4 L750.6,734.5 L752.7,724.8 L754.7,716.9 L756.7,709.7 L758.8,702.5 L760.8,697.5 L762.8,692.9 L764.9,690.1 L766.9,687.0 L768.9,683.9 L771.0,681.3 L773.0,680.5 L775.1,678.7 L777.1,677.4 L779.1,675.8 L781.2,675.4 L783.2,676.9 L785.2,675.5 L787.3,676.8 L789.3,677.6 L791.3,678.2 L793.4,679.3 L795.4,681.7 L797.4,684.0 L799.5,685.8 L801.5,685.1 L803.6,687.6 L805.6,688.6 L807.6,689.7 L809.7,691.0 L811.7,691.5 L813.7,692.4 L815.8,693.9 L817.8,696.5 L819.8,698.9 L821.9,700.2 L823.9,703.6 L825.9,706.6 L828.0,710.4 L830.0,710.9 L832.0,714.0 L834.1,718.0 L836.1,719.6 L838.2,721.0 L840.2,724.6 L842.2,725.4 L844.3,727.9 L846.3,730.4 L848.3,731.7 L850.4,734.7 L852.4,737.7 L854.4,740.8 L856.5,743.9 L858.5,747.5 L860.5,750.0 L862.6,753.5 L864.6,754.9 L866.7,756.6 L868.7,760.3 L870.7,761.8 L872.8,763.1 L874.8,763.7 L876.8,766.0 L878.9,768.8 L880.9,770.6 L882.9,773.4 L885.0,774.1 L887.0,776.6 L889.0,779.0 L891.1,782.9 L893.1,783.2 L895.2,785.5 L897.2,786.5 L899.2,788.4 L901.3,789.2 L903.3,789.7 L905.3,790.8 L907.4,791.9 L909.4,792.0 L911.4,792.2 L913.5,795.7 L915.5,793.6 L917.5,796.3 L919.6,796.8 L921.6,798.2 L923.6,800.7 L925.7,800.6 L927.7,802.6 L929.8,804.0 L931.8,803.4 L933.8,804.2 L935.9,804.7 L937.9,803.9 L939.9,802.5 L942.0,804.4 L944.0,803.7 L946.0,803.6 L948.1,806.7 L950.1,805.2 L952.1,806.5 L954.2,807.2 L956.2,808.3 L958.3,808.5 L960.3,809.5 L962.3,809.7 L964.4,809.6 L966.4,811.4 L968.4,810.7 L970.5,809.8 L972.5,809.0 L974.5,810.2 L976.6,808.5 L978.6,809.8 L980.6,810.5 L982.7,810.1 L984.7,810.0 L986.7,811.5 L988.8,811.7 L990.8,810.9 L992.9,812.3 L994.9,812.1 L996.9,813.3 L999.0,812.5 L1001.0,813.0 L1003.0,812.1 L1005.1,809.8 L1007.1,811.9 L1009.1,811.4 L1011.2,811.1 L1013.2,811.9 L1015.2,812.7 L1017.3,814.0 L1019.3,812.3 L1021.4,814.0 L1023.4,813.1 L1025.4,815.2 L1027.5,813.8 L1029.5,814.3 L1031.5,813.1 L1033.6,812.9 L1035.6,811.9" stroke="#fcc2bf"/>
<path d="M628.5,843.9 L630.5,844.1 L632.6,845.0 L634.6,842.3 L636.6,841.8 L638.7,840.4 L640.7,841.5 L642.7,841.5 L644.8,842.5 L646.8,842.5 L648.9,841.9 L650.9,841.7 L652.9,842.2 L655.0,843.4 L657.0,843.3 L659.0,842.1 L661.1,842.0 L663.1,840.8 L665.1,840.3 L667.2,841.5 L669.2,839.4 L671.2,840.3 L673.3,838.9 L675.3,839.2 L677.4,839.9 L679.4,838.7 L681.4,841.6 L683.5,840.6 L685.5,840.5 L687.5,840.4 L689.6,841.5 L691.6,841.7 L693.6,840.1 L695.7,839.2 L697.7,838.4 L699.7,837.8 L701.8,838.1 L703.8,837.8 L705.8,836.2 L707.9,836.2 L709.9,838.9 L712.0,837.3 L714.0,838.0 L716.0,838.4 L718.1,839.6 L720.1,837.7 L722.1,837.9 L724.2,837.7 L726.2,836.5 L728.2,834.5 L730.3,835.5 L732.3,834.6 L734.3,832.9 L736.4,833.6 L738.4,832.7 L740.5,831.8 L742.5,830.1 L744.5,830.5 L746.6,828.2 L748.6,827.1 L750.6,824.5 L752.7,821.6 L754.7,818.1 L756.7,813.0 L758.8,808.1 L760.8,800.3 L762.8,793.7 L764.9,784.9 L766.9,776.9 L768.9,767.8 L771.0,760.2 L773.0,752.0 L775.1,742.6 L777.1,736.3 L779.1,728.7 L781.2,723.9 L783.2,717.1 L785.2,713.4 L787.3,710.9 L789.3,705.8 L791.3,701.8 L793.4,700.1 L795.4,698.4 L797.4,696.3 L799.5,695.6 L801.5,695.9 L803.6,693.6 L805.6,695.1 L807.6,695.2 L809.7,694.8 L811.7,697.4 L813.7,697.1 L815.8,697.9 L817.8,699.9 L819.8,699.9 L821.9,698.9 L823.9,702.0 L825.9,701.0 L828.0,702.6 L830.0,704.1 L832.0,705.3 L834.1,705.3 L836.1,708.0 L838.2,711.5 L840.2,712.3 L842.2,712.9 L844.3,717.2 L846.3,719.8 L848.3,721.7 L850.4,723.8 L852.4,725.1 L854.4,727.1 L856.5,729.9 L858.5,730.0 L860.5,732.7 L862.6,736.1 L864.6,737.4 L866.7,739.5 L868.7,743.5 L870.7,745.8 L872.8,747.8 L874.8,749.0 L876.8,752.6 L878.9,755.2 L880.9,757.2 L882.9,758.1 L885.0,760.0 L887.0,761.2 L889.0,762.4 L891.1,763.3 L893.1,765.7 L895.2,764.9 L897.2,767.0 L899.2,768.3 L901.3,769.3 L903.3,770.9 L905.3,771.6 L907.4,773.7 L909.4,775.4 L911.4,775.9 L913.5,774.6 L915.5,774.5 L917.5,776.7 L919.6,776.3 L921.6,774.7 L923.6,774.8 L925.7,776.3 L927.7,775.7 L929.8,775.4 L931.8,776.3 L933.8,776.5 L935.9,776.8 L937.9,778.5 L939.9,779.3 L942.0,779.9 L944.0,780.5 L946.0,779.9 L948.1,778.6 L950.1,778.6 L952.1,778.4 L954.2,777.4 L956.2,777.5 L958.3,777.9 L960.3,777.1 L962.3,777.5 L964.4,777.8 L966.4,777.7 L968.4,778.4 L970.5,778.4 L972.5,778.9 L974.5,778.9 L976.6,780.0 L978.6,779.7 L980.6,779.7 L982.7,778.1 L984.7,779.3 L986.7,778.5 L988.8,776.5 L990.8,775.9 L992.9,776.9 L994.9,776.3 L996.9,776.4 L999.0,777.8 L1001.0,776.6 L1003.0,779.0 L1005.1,780.3 L1007.1,778.6 L1009.1,777.8 L1011.2,778.2 L1013.2,777.2 L1015.2,777.6 L1017.3,776.5 L1019.3,776.3 L1021.4,775.5 L1023.4,775.5 L1025.4,774.7 L1027.5,775.8 L1029.5,775.2 L1031.5,776.8 L1033.6,776.9 L1035.6,778.3" stroke="#fcc6c1"/>
<path d="M628.5,841.1 L630.5,840.8 L632.6,840.2 L634.6,841.9 L636.6,838.6 L638.7,840.4 L640.7,840.7 L642.7,839.7 L644.8,840.8 L646.8,841.0 L648.9,841.2 L650.9,841.9 L652.9,842.1 L655.0,841.5 L657.0,844.2 L659.0,844.0 L661.1,841.8 L663.1,841.9 L665.1,841.9 L667.2,842.8 L669.2,841.7 L671.2,840.9 L673.3,841.9 L675.3,841.3 L677.4,842.1 L679.4,842.4 L681.4,843.0 L683.5,843.1 L685.5,843.6 L687.5,842.8 L689.6,845.2 L691.6,845.0 L693.6,845.0 L695.7,843.0 L697.7,845.3 L699.7,843.7 L701.8,843.1 L703.8,843.2 L705.8,843.9 L707.9,843.1 L709.9,842.5 L712.0,843.9 L714.0,846.6 L716.0,845.5 L718.1,846.4 L720.1,845.9 L722.1,846.3 L724.2,846.7 L726.2,845.2 L728.2,844.5 L730.3,845.3 L732.3,843.1 L734.3,843.1 L736.4,842.8 L738.4,842.5 L740.5,842.7 L742.5,840.1 L744.5,840.0 L746.6,839.0 L748.6,837.9 L750.6,834.2 L752.7,831.0 L754.7,827.4 L756.7,821.8 L758.8,815.2 L760.8,807.7 L762.8,799.9 L764.9,793.2 L766.9,786.9 L768.9,779.3 L771.0,773.0 L773.0,768.8 L775.1,764.1 L777.1,763.1 L779.1,758.5 L781.2,757.1 L783.2,755.9 L785.2,755.4 L787.3,755.5 L789.3,753.4 L791.3,751.4 L793.4,752.8 L795.4,751.4 L797.4,752.6 L799.5,752.0 L801.5,752.6 L803.6,752.5 L805.6,754.3 L807.6,755.6 L809.7,756.1 L811.7,758.1 L813.7,758.8 L815.8,760.8 L817.8,761.8 L819.8,763.4 L821.9,762.3 L823.9,763.3 L825.9,761.9 L828.0,763.2 L830.0,766.0 L832.0,765.0 L834.1,766.7 L836.1,768.2 L838.2,770.4 L840.2,772.9 L842.2,774.5 L844.3,776.0 L846.3,777.8 L848.3,779.4 L850.4,779.5 L852.4,781.5 L854.4,782.0 L856.5,781.9 L858.5,782.9 L860.5,783.1 L862.6,783.5 L864.6,785.1 L866.7,785.2 L868.7,786.9 L870.7,788.9 L872.8,790.6 L874.8,792.0 L876.8,792.6 L878.9,795.6 L880.9,796.6 L882.9,797.0 L885.0,797.7 L887.0,796.7 L889.0,797.6 L891.1,797.1 L893.1,797.9 L895.2,798.8 L897.2,798.9 L899.2,799.1 L901.3,800.1 L903.3,800.6 L905.3,800.5 L907.4,802.9 L909.4,804.3 L911.4,804.4 L913.5,805.1 L915.5,803.8 L917.5,804.0 L919.6,805.4 L921.6,803.9 L923.6,803.7 L925.7,803.2 L927.7,804.5 L929.8,804.8 L931.8,805.3 L933.8,804.7 L935.9,806.1 L937.9,806.8 L939.9,806.8 L942.0,807.4 L944.0,807.8 L946.0,807.9 L948.1,807.4 L950.1,807.8 L952.1,807.3 L954.2,806.5 L956.2,806.3 L958.3,806.4 L960.3,805.5 L962.3,806.5 L964.4,807.4 L966.4,806.6 L968.4,806.2 L970.5,807.9 L972.5,807.8 L974.5,807.9 L976.6,809.3 L978.6,809.7 L980.6,808.3 L982.7,807.7 L984.7,807.7 L986.7,806.1 L988.8,807.3 L990.8,806.3 L992.9,805.6 L994.9,805.5 L996.9,807.1 L999.0,807.5 L1001.0,806.8 L1003.0,807.5 L1005.1,807.3 L1007.1,808.3 L1009.1,809.9 L1011.2,808.3 L1013.2,809.6 L1015.2,807.7 L1017.3,806.8 L1019.3,807.1 L1021.4,806.2 L1023.4,806.6 L1025.4,805.2 L1027.5,806.1 L1029.5,806.2 L1031.5,806.8 L1033.6,807.8 L1035.6,808.0" stroke="#fcc8c3"/>
<path d="M628.5,905.6 L630.5,905.3 L632.6,905.9 L634.6,904.7 L636.6,903.8 L638.7,904.0 L640.7,904.5 L642.7,904.8 L644.8,905.3 L646.8,906.1 L648.9,905.8 L650.9,905.3 L652.9,905.3 L655.0,905.9 L657.0,905.8 L659.0,905.9 L661.1,904.0 L663.1,905.9 L665.1,903.7 L667.2,904.1 L669.2,903.6 L671.2,904.4 L673.3,904.8 L675.3,904.9 L677.4,904.8 L679.4,905.0 L681.4,907.0 L683.5,906.2 L685.5,905.9 L687.5,906.1 L689.6,906.3 L691.6,904.5 L693.6,904.8 L695.7,904.5 L697.7,904.2 L699.7,903.0 L701.8,902.4 L703.8,902.7 L705.8,902.7 L707.9,904.5 L709.9,903.0 L712.0,903.2 L714.0,904.8 L716.0,904.0 L718.1,901.9 L720.1,901.8 L722.1,901.3 L724.2,897.4 L726.2,895.7 L728.2,893.4 L730.3,889.8 L732.3,888.4 L734.3,883.4 L736.4,880.3 L738.4,873.4 L740.5,870.5 L742.5,862.2 L744.5,854.9 L746.6,847.0 L748.6,837.0 L750.6,825.4 L752.7,814.1 L754.7,802.2 L756.7,790.2 L758.8,777.8 L760.8,767.5 L762.8,756.5 L764.9,747.5 L766.9,738.9 L768.9,729.9 L771.0,726.2 L773.0,719.9 L775.1,714.5 L777.1,711.6 L779.1,707.7 L781.2,706.3 L783.2,703.0 L785.2,702.0 L787.3,700.2 L789.3,699.0 L791.3,699.6 L793.4,698.1 L795.4,698.6 L797.4,699.1 L799.5,699.2 L801.5,701.2 L803.6,703.3 L805.6,703.8 L807.6,705.8 L809.7,708.0 L811.7,710.8 L813.7,710.9 L815.8,713.4 L817.8,713.9 L819.8,715.8 L821.9,718.0 L823.9,718.8 L825.9,721.3 L828.0,722.1 L830.0,724.0 L832.0,726.9 L834.1,728.4 L836.1,732.6 L838.2,734.9 L840.2,738.3 L842.2,738.9 L844.3,741.1 L846.3,742.9 L848.3,744.7 L850.4,745.9 L852.4,747.0 L854.4,749.8 L856.5,751.1 L858.5,752.5 L860.5,754.5 L862.6,755.2 L864.6,757.9 L866.7,758.3 L868.7,760.8 L870.7,763.0 L872.8,765.3 L874.8,764.6 L876.8,767.8 L878.9,769.4 L880.9,768.6 L882.9,768.4 L885.0,770.0 L887.0,770.7 L889.0,772.4 L891.1,771.2 L893.1,771.1 L895.2,773.7 L897.2,775.1 L899.2,774.6 L901.3,776.6 L903.3,777.4 L905.3,778.6 L907.4,778.6 L909.4,779.0 L911.4,779.0 L913.5,778.5 L915.5,779.9 L917.5,779.7 L919.6,778.6 L921.6,779.2 L923.6,778.3 L925.7,779.5 L927.7,780.0 L929.8,779.7 L931.8,781.5 L933.8,782.0 L935.9,782.7 L937.9,780.8 L939.9,782.5 L942.0,782.8 L944.0,781.8 L946.0,782.7 L948.1,782.4 L950.1,782.1 L952.1,781.3 L954.2,780.7 L956.2,780.3 L958.3,780.7 L960.3,780.6 L962.3,782.2 L964.4,781.3 L966.4,782.6 L968.4,783.9 L970.5,783.2 L972.5,783.4 L974.5,782.9 L976.6,784.2 L978.6,781.9 L980.6,781.9 L982.7,781.7 L984.7,782.2 L986.7,780.8 L988.8,781.1 L990.8,780.9 L992.9,780.8 L994.9,781.6 L996.9,781.6 L999.0,782.5 L1001.0,782.1 L1003.0,783.7 L1005.1,783.0 L1007.1,783.4 L1009.1,783.8 L1011.2,780.4 L1013.2,781.4 L1015.2,780.9 L1017.3,780.4 L1019.3,780.0 L1021.4,781.5 L1023.4,779.8 L1025.4,780.8 L1027.5,783.2 L1029.5,782.4 L1031.5,783.4 L1033.6,783.8 L1035.6,783.1" stroke="#fccbc7"/>
<path d="M628.5,865.5 L630.5,866.1 L632.6,865.4 L634.6,865.4 L636.6,864.7 L638.7,863.2 L640.7,863.4 L642.7,862.3 L644.8,862.3 L646.8,862.8 L648.9,862.6 L650.9,863.9 L652.9,865.2 L655.0,864.5 L657.0,864.4 L659.0,865.0 L661.1,866.3 L663.1,866.1 L665.1,863.4 L667.2,863.5 L669.2,863.9 L671.2,863.6 L673.3,862.0 L675.3,861.7 L677.4,862.2 L679.4,861.9 L681.4,863.6 L683.5,863.2 L685.5,862.4 L687.5,864.5 L689.6,864.4 L691.6,865.5 L693.6,864.5 L695.7,863.5 L697.7,864.6 L699.7,864.1 L701.8,861.4 L703.8,860.8 L705.8,862.5 L707.9,861.9 L709.9,861.0 L712.0,863.2 L714.0,860.5 L716.0,860.2 L718.1,862.6 L720.1,861.6 L722.1,863.4 L724.2,862.0 L726.2,859.6 L728.2,859.7 L730.3,856.8 L732.3,855.3 L734.3,852.4 L736.4,850.7 L738.4,847.7 L740.5,843.7 L742.5,838.1 L744.5,835.4 L746.6,829.0 L748.6,823.3 L750.6,814.8 L752.7,807.2 L754.7,798.5 L756.7,788.1 L758.8,777.2 L760.8,766.1 L762.8,754.6 L764.9,744.4 L766.9,734.3 L768.9,725.6 L771.0,717.1 L773.0,710.8 L775.1,703.5 L777.1,700.2 L779.1,696.8 L781.2,693.4 L783.2,690.2 L785.2,688.9 L787.3,690.0 L789.3,687.6 L791.3,688.0 L793.4,686.5 L795.4,687.8 L797.4,686.7 L799.5,686.3 L801.5,685.4 L803.6,688.0 L805.6,687.1 L807.6,690.6 L809.7,691.4 L811.7,693.6 L813.7,693.9 L815.8,696.7 L817.8,697.3 L819.8,699.5 L821.9,701.4 L823.9,702.9 L825.9,703.6 L828.0,705.6 L830.0,707.6 L832.0,707.6 L834.1,710.6 L836.1,712.5 L838.2,714.6 L840.2,715.7 L842.2,719.1 L844.3,721.3 L846.3,726.1 L848.3,727.3 L850.4,730.5 L852.4,731.7 L854.4,735.3 L856.5,736.6 L858.5,739.2 L860.5,740.2 L862.6,743.3 L864.6,745.0 L866.7,746.0 L868.7,748.3 L870.7,750.9 L872.8,753.7 L874.8,755.9 L876.8,758.1 L878.9,760.2 L880.9,762.4 L882.9,763.6 L885.0,767.9 L887.0,769.2 L889.0,771.6 L891.1,772.1 L893.1,772.9 L895.2,773.3 L897.2,773.4 L899.2,776.9 L901.3,777.2 L903.3,778.2 L905.3,780.2 L907.4,781.7 L909.4,782.5 L911.4,784.8 L913.5,785.9 L915.5,787.8 L917.5,785.6 L919.6,788.1 L921.6,788.3 L923.6,789.2 L925.7,787.8 L927.7,789.3 L929.8,789.8 L931.8,788.6 L933.8,790.3 L935.9,789.6 L937.9,790.9 L939.9,792.2 L942.0,794.4 L944.0,794.6 L946.0,794.3 L948.1,795.6 L950.1,793.8 L952.1,795.8 L954.2,794.4 L956.2,795.4 L958.3,796.3 L960.3,794.3 L962.3,795.1 L964.4,794.5 L966.4,794.4 L968.4,794.6 L970.5,795.6 L972.5,796.1 L974.5,796.7 L976.6,796.7 L978.6,797.2 L980.6,798.5 L982.7,798.8 L984.7,797.6 L986.7,796.5 L988.8,796.4 L990.8,796.5 L992.9,796.0 L994.9,796.0 L996.9,796.3 L999.0,795.5 L1001.0,795.6 L1003.0,796.8 L1005.1,797.4 L1007.1,797.1 L1009.1,796.9 L1011.2,797.9 L1013.2,799.5 L1015.2,798.1 L1017.3,797.0 L1019.3,797.0 L1021.4,795.3 L1023.4,795.5 L1025.4,795.6 L1027.5,795.1 L1029.5,794.8 L1031.5,793.8 L1033.6,794.5 L1035.6,796.3" stroke="#fcccc8"/>
<path d="M628.5,849.9 L630.5,850.3 L632.6,849.7 L634.6,851.0 L636.6,849.5 L638.7,849.4 L640.7,847.9 L642.7,848.4 L644.8,849.2 L646.8,848.8 L648.9,848.4 L650.9,849.7 L652.9,850.5 L655.0,850.3 L657.0,850.1 L659.0,851.6 L661.1,850.1 L663.1,850.9 L665.1,851.8 L667.2,850.3 L669.2,851.2 L671.2,848.9 L673.3,850.0 L675.3,849.7 L677.4,848.5 L679.4,848.6 L681.4,849.8 L683.5,849.3 L685.5,850.9 L687.5,850.9 L689.6,851.3 L691.6,853.0 L693.6,852.6 L695.7,851.5 L697.7,851.5 L699.7,851.2 L701.8,851.4 L703.8,850.6 L705.8,850.4 L707.9,849.6 L709.9,850.6 L712.0,849.7 L714.0,849.9 L716.0,851.9 L718.1,851.2 L720.1,852.5 L722.1,852.5 L724.2,852.3 L726.2,852.3 L728.2,850.6 L730.3,850.0 L732.3,850.6 L734.3,849.4 L736.4,846.9 L738.4,846.5 L740.5,844.2 L742.5,843.2 L744.5,842.8 L746.6,841.7 L748.6,840.2 L750.6,837.7 L752.7,835.8 L754.7,831.3 L756.7,827.9 L758.8,822.7 L760.8,817.1 L762.8,811.2 L764.9,802.3 L766.9,796.9 L768.9,786.3 L771.0,777.3 L773.0,770.4 L775.1,761.5 L777.1,753.3 L779.1,747.0 L781.2,739.5 L783.2,733.8 L785.2,727.6 L787.3,721.6 L789.3,716.6 L791.3,713.4 L793.4,709.9 L795.4,707.5 L797.4,703.4 L799.5,701.4 L801.5,698.5 L803.6,697.9 L805.6,697.5 L807.6,698.2 L809.7,697.2 L811.7,698.3 L813.7,700.2 L815.8,701.0 L817.8,702.3 L819.8,704.1 L821.9,706.2 L823.9,707.3 L825.9,709.1 L828.0,710.1 L830.0,712.0 L832.0,714.2 L834.1,717.3 L836.1,719.7 L838.2,721.0 L840.2,725.9 L842.2,727.6 L844.3,731.1 L846.3,736.7 L848.3,740.3 L850.4,744.9 L852.4,748.4 L854.4,751.6 L856.5,755.2 L858.5,758.2 L860.5,761.1 L862.6,763.7 L864.6,766.5 L866.7,769.7 L868.7,771.7 L870.7,775.6 L872.8,779.3 L874.8,781.7 L876.8,784.7 L878.9,787.8 L880.9,791.2 L882.9,791.3 L885.0,793.6 L887.0,797.1 L889.0,798.8 L891.1,798.7 L893.1,799.2 L895.2,801.1 L897.2,800.3 L899.2,800.8 L901.3,803.2 L903.3,802.2 L905.3,803.6 L907.4,805.2 L909.4,807.9 L911.4,808.1 L913.5,808.9 L915.5,809.6 L917.5,810.8 L919.6,810.1 L921.6,809.8 L923.6,810.3 L925.7,810.2 L927.7,809.8 L929.8,809.9 L931.8,808.3 L933.8,808.7 L935.9,811.5 L937.9,809.8 L939.9,811.0 L942.0,812.1 L944.0,812.3 L946.0,812.3 L948.1,813.3 L950.1,813.2 L952.1,812.7 L954.2,812.0 L956.2,811.9 L958.3,811.8 L960.3,810.9 L962.3,810.9 L964.4,810.4 L966.4,810.2 L968.4,810.5 L970.5,809.9 L972.5,812.5 L974.5,812.8 L976.6,813.1 L978.6,813.7 L980.6,813.1 L982.7,812.4 L984.7,812.9 L986.7,812.3 L988.8,812.3 L990.8,811.7 L992.9,810.5 L994.9,810.5 L996.9,808.2 L999.0,807.7 L1001.0,811.4 L1003.0,811.7 L1005.1,810.6 L1007.1,811.9 L1009.1,811.4 L1011.2,812.0 L1013.2,812.6 L1015.2,812.8 L1017.3,812.1 L1019.3,810.2 L1021.4,811.2 L1023.4,810.9 L1025.4,809.8 L1027.5,809.6 L1029.5,809.8 L1031.5,809.8 L1033.6,809.0 L1035.6,809.9" stroke="#fcccc8"/>
<path d="M628.5,852.7 L630.5,852.5 L632.6,854.6 L634.6,853.4 L636.6,855.3 L638.7,854.3 L640.7,855.2 L642.7,854.4 L644.8,854.5 L646.8,854.1 L648.9,852.3 L650.9,853.1 L652.9,852.8 L655.0,852.8 L657.0,852.5 L659.0,852.6 L661.1,852.4 L663.1,852.9 L665.1,853.5 L667.2,855.8 L669.2,853.9 L671.2,854.3 L673.3,854.8 L675.3,855.4 L677.4,854.4 L679.4,855.4 L681.4,852.7 L683.5,852.9 L685.5,853.3 L687.5,852.5 L689.6,854.0 L691.6,852.6 L693.6,851.2 L695.7,853.4 L697.7,852.9 L699.7,854.0 L701.8,855.2 L703.8,855.0 L705.8,854.0 L707.9,854.6 L709.9,853.4 L712.0,853.0 L714.0,853.2 L716.0,851.7 L718.1,850.4 L720.1,850.8 L722.1,849.6 L724.2,850.8 L726.2,848.9 L728.2,849.3 L730.3,848.1 L732.3,846.4 L734.3,847.1 L736.4,846.0 L738.4,842.7 L740.5,839.2 L742.5,837.7 L744.5,833.6 L746.6,828.1 L748.6,824.5 L750.6,817.3 L752.7,813.2 L754.7,806.9 L756.7,801.5 L758.8,796.3 L760.8,789.3 L762.8,785.2 L764.9,780.6 L766.9,775.7 L768.9,769.7 L771.0,766.1 L773.0,761.5 L775.1,757.7 L777.1,755.6 L779.1,753.1 L781.2,750.8 L783.2,750.0 L785.2,747.1 L787.3,745.3 L789.3,745.5 L791.3,744.3 L793.4,745.6 L795.4,746.1 L797.4,745.6 L799.5,745.9 L801.5,745.5 L803.6,744.4 L805.6,746.1 L807.6,744.2 L809.7,743.8 L811.7,743.6 L813.7,743.1 L815.8,742.9 L817.8,743.6 L819.8,744.3 L821.9,744.5 L823.9,745.7 L825.9,747.0 L828.0,747.8 L830.0,748.4 L832.0,749.9 L834.1,748.1 L836.1,750.8 L838.2,749.5 L840.2,749.3 L842.2,750.4 L844.3,749.5 L846.3,750.2 L848.3,749.6 L850.4,750.9 L852.4,752.3 L854.4,751.9 L856.5,752.3 L858.5,754.5 L860.5,755.1 L862.6,755.2 L864.6,756.6 L866.7,756.2 L868.7,757.7 L870.7,757.4 L872.8,757.0 L874.8,756.7 L876.8,757.8 L878.9,756.8 L880.9,759.4 L882.9,758.1 L885.0,760.7 L887.0,760.7 L889.0,760.0 L891.1,761.8 L893.1,762.8 L895.2,764.0 L897.2,763.3 L899.2,765.6 L901.3,763.7 L903.3,764.1 L905.3,763.5 L907.4,762.9 L909.4,762.2 L911.4,764.6 L913.5,764.4 L915.5,763.8 L917.5,764.6 L919.6,766.0 L921.6,765.8 L923.6,765.0 L925.7,768.1 L927.7,767.7 L929.8,768.3 L931.8,767.6 L933.8,769.6 L935.9,767.7 L937.9,767.3 L939.9,766.6 L942.0,765.9 L944.0,764.9 L946.0,766.1 L948.1,766.2 L950.1,767.7 L952.1,767.8 L954.2,768.1 L956.2,767.5 L958.3,769.1 L960.3,769.6 L962.3,769.6 L964.4,770.0 L966.4,768.4 L968.4,768.8 L970.5,766.5 L972.5,767.7 L974.5,765.9 L976.6,768.0 L978.6,767.0 L980.6,767.1 L982.7,767.1 L984.7,769.2 L986.7,768.3 L988.8,769.8 L990.8,770.0 L992.9,770.0 L994.9,769.6 L996.9,768.0 L999.0,768.4 L1001.0,766.6 L1003.0,768.1 L1005.1,766.6 L1007.1,766.3 L1009.1,766.4 L1011.2,767.1 L1013.2,767.1 L1015.2,768.3 L1017.3,765.9 L1019.3,768.6 L1021.4,770.0 L1023.4,767.8 L1025.4,768.6 L1027.5,768.2 L1029.5,768.8 L1031.5,768.4 L1033.6,767.7 L1035.6,767.3" stroke="#fccdc8"/>
<path d="M628.5,829.9 L630.5,828.7 L632.6,828.7 L634.6,827.4 L636.6,828.9 L638.7,828.0 L640.7,828.2 L642.7,828.3 L644.8,830.0 L646.8,829.4 L648.9,830.5 L650.9,831.8 L652.9,831.7 L655.0,830.2 L657.0,829.8 L659.0,830.1 L661.1,831.0 L663.1,827.3 L665.1,828.6 L667.2,827.1 L669.2,828.6 L671.2,828.6 L673.3,828.0 L675.3,830.0 L677.4,829.2 L679.4,829.7 L681.4,830.3 L683.5,830.2 L685.5,831.2 L687.5,830.6 L689.6,830.8 L691.6,829.5 L693.6,830.1 L695.7,828.5 L697.7,828.7 L699.7,827.7 L701.8,828.2 L703.8,827.8 L705.8,827.5 L707.9,829.2 L709.9,829.7 L712.0,827.7 L714.0,829.2 L716.0,829.2 L718.1,829.2 L720.1,828.8 L722.1,827.1 L724.2,827.4 L726.2,825.9 L728.2,822.9 L730.3,820.1 L732.3,818.1 L734.3,816.6 L736.4,813.2 L738.4,807.8 L740.5,803.9 L742.5,798.5 L744.5,792.2 L746.6,783.4 L748.6,774.3 L750.6,764.7 L752.7,754.6 L754.7,743.6 L756.7,733.2 L758.8,722.6 L760.8,711.3 L762.8,703.7 L764.9,696.1 L766.9,689.3 L768.9,684.4 L771.0,680.9 L773.0,677.7 L775.1,674.5 L777.1,674.9 L779.1,674.0 L781.2,674.9 L783.2,672.3 L785.2,674.1 L787.3,673.5 L789.3,672.4 L791.3,673.5 L793.4,671.8 L795.4,673.2 L797.4,673.5 L799.5,675.0 L801.5,676.4 L803.6,677.9 L805.6,679.9 L807.6,682.8 L809.7,684.9 L811.7,686.4 L813.7,689.0 L815.8,691.1 L817.8,691.5 L819.8,693.8 L821.9,696.7 L823.9,697.4 L825.9,699.1 L828.0,701.5 L830.0,702.3 L832.0,706.3 L834.1,709.0 L836.1,710.2 L838.2,714.5 L840.2,716.8 L842.2,720.5 L844.3,722.7 L846.3,725.8 L848.3,728.5 L850.4,730.2 L852.4,731.9 L854.4,734.3 L856.5,737.5 L858.5,737.4 L860.5,740.0 L862.6,742.8 L864.6,745.0 L866.7,747.4 L868.7,750.0 L870.7,751.8 L872.8,755.5 L874.8,757.7 L876.8,759.2 L878.9,760.0 L880.9,762.0 L882.9,762.2 L885.0,764.3 L887.0,764.5 L889.0,766.1 L891.1,767.9 L893.1,767.9 L895.2,767.6 L897.2,770.1 L899.2,771.4 L901.3,773.3 L903.3,774.4 L905.3,775.7 L907.4,777.4 L909.4,777.3 L911.4,777.9 L913.5,777.5 L915.5,779.6 L917.5,779.4 L919.6,778.6 L921.6,779.1 L923.6,779.1 L925.7,778.9 L927.7,780.3 L929.8,779.6 L931.8,780.9 L933.8,782.0 L935.9,782.3 L937.9,784.6 L939.9,783.7 L942.0,784.4 L944.0,784.1 L946.0,784.6 L948.1,785.1 L950.1,784.5 L952.1,784.6 L954.2,783.8 L956.2,782.3 L958.3,783.6 L960.3,783.2 L962.3,785.4 L964.4,783.6 L966.4,785.1 L968.4,785.3 L970.5,787.2 L972.5,786.2 L974.5,786.8 L976.6,786.1 L978.6,787.1 L980.6,787.4 L982.7,787.0 L984.7,786.6 L986.7,785.7 L988.8,784.8 L990.8,784.2 L992.9,783.9 L994.9,786.9 L996.9,785.3 L999.0,786.6 L1001.0,787.7 L1003.0,788.6 L1005.1,787.5 L1007.1,787.7 L1009.1,788.8 L1011.2,787.8 L1013.2,787.2 L1015.2,787.3 L1017.3,785.3 L1019.3,785.8 L1021.4,784.7 L1023.4,786.1 L1025.4,784.7 L1027.5,787.0 L1029.5,787.3 L1031.5,787.6 L1033.6,786.9 L1035.6,789.0" stroke="#fcd0cc"/>
<path d="M628.5,906.9 L630.5,906.1 L632.6,904.5 L634.6,904.8 L636.6,903.7 L638.7,904.8 L640.7,905.7 L642.7,906.0 L644.8,906.8 L646.8,907.8 L648.9,906.9 L650.9,907.8 L652.9,908.2 L655.0,907.8 L657.0,909.2 L659.0,906.4 L661.1,906.5 L663.1,906.5 L665.1,906.2 L667.2,906.2 L669.2,905.7 L671.2,905.9 L673.3,904.6 L675.3,905.9 L677.4,906.6 L679.4,907.0 L681.4,907.3 L683.5,908.0 L685.5,908.5 L687.5,908.1 L689.6,907.8 L691.6,907.0 L693.6,907.1 L695.7,906.0 L697.7,906.5 L699.7,905.2 L701.8,905.7 L703.8,904.5 L705.8,906.3 L707.9,906.1 L709.9,907.0 L712.0,906.6 L714.0,908.6 L716.0,907.9 L718.1,903.9 L720.1,905.0 L722.1,906.1 L724.2,903.6 L726.2,901.0 L728.2,900.2 L730.3,897.0 L732.3,895.3 L734.3,892.5 L736.4,887.0 L738.4,884.4 L740.5,879.9 L742.5,871.8 L744.5,867.4 L746.6,858.8 L748.6,849.8 L750.6,839.1 L752.7,828.3 L754.7,817.3 L756.7,806.2 L758.8,796.6 L760.8,786.0 L762.8,778.6 L764.9,770.6 L766.9,764.6 L768.9,759.9 L771.0,756.6 L773.0,751.7 L775.1,751.2 L777.1,748.6 L779.1,747.5 L781.2,746.4 L783.2,744.9 L785.2,743.8 L787.3,743.7 L789.3,741.2 L791.3,741.9 L793.4,740.4 L795.4,740.6 L797.4,739.6 L799.5,740.3 L801.5,741.7 L803.6,741.6 L805.6,742.2 L807.6,743.1 L809.7,744.1 L811.7,743.8 L813.7,746.0 L815.8,744.7 L817.8,745.6 L819.8,745.5 L821.9,745.0 L823.9,744.8 L825.9,745.9 L828.0,746.1 L830.0,745.9 L832.0,746.5 L834.1,748.6 L836.1,748.3 L838.2,749.5 L840.2,750.4 L842.2,753.0 L844.3,753.9 L846.3,754.3 L848.3,754.7 L850.4,755.2 L852.4,756.0 L854.4,756.8 L856.5,755.3 L858.5,756.8 L860.5,756.9 L862.6,758.7 L864.6,760.0 L866.7,760.5 L868.7,762.1 L870.7,763.5 L872.8,764.0 L874.8,764.4 L876.8,765.8 L878.9,766.7 L880.9,768.1 L882.9,766.6 L885.0,767.0 L887.0,769.6 L889.0,769.1 L891.1,769.7 L893.1,770.4 L895.2,770.0 L897.2,771.0 L899.2,772.1 L901.3,774.0 L903.3,773.9 L905.3,773.1 L907.4,776.3 L909.4,775.9 L911.4,776.0 L913.5,776.1 L915.5,775.5 L917.5,776.0 L919.6,775.5 L921.6,775.9 L923.6,775.1 L925.7,776.2 L927.7,776.1 L929.8,776.7 L931.8,776.7 L933.8,777.2 L935.9,778.8 L937.9,778.3 L939.9,780.9 L942.0,779.4 L944.0,779.5 L946.0,779.2 L948.1,779.6 L950.1,778.8 L952.1,778.2 L954.2,779.0 L956.2,777.4 L958.3,777.5 L960.3,779.2 L962.3,777.8 L964.4,779.9 L966.4,780.2 L968.4,781.6 L970.5,781.1 L972.5,781.0 L974.5,780.0 L976.6,779.8 L978.6,780.2 L980.6,779.2 L982.7,780.7 L984.7,779.9 L986.7,778.2 L988.8,777.7 L990.8,779.0 L992.9,778.5 L994.9,779.2 L996.9,780.7 L999.0,780.1 L1001.0,780.1 L1003.0,781.3 L1005.1,781.2 L1007.1,780.8 L1009.1,780.9 L1011.2,780.1 L1013.2,779.5 L1015.2,778.9 L1017.3,778.9 L1019.3,778.4 L1021.4,778.8 L1023.4,778.3 L1025.4,779.3 L1027.5,779.4 L1029.5,779.4 L1031.5,780.8 L1033.6,780.4 L1035.6,781.6" stroke="#fdd5d1"/>
<path d="M628.5,827.3 L630.5,829.0 L632.6,829.7 L634.6,829.2 L636.6,829.8 L638.7,829.0 L640.7,827.8 L642.7,828.2 L644.8,829.3 L646.8,827.9 L648.9,828.5 L650.9,826.9 L652.9,827.2 L655.0,829.0 L657.0,829.5 L659.0,830.4 L661.1,831.1 L663.1,831.3 L665.1,830.9 L667.2,831.0 L669.2,831.2 L671.2,830.6 L673.3,829.9 L675.3,830.0 L677.4,830.5 L679.4,830.7 L681.4,829.3 L683.5,829.9 L685.5,831.2 L687.5,831.7 L689.6,831.0 L691.6,831.7 L693.6,832.8 L695.7,833.0 L697.7,833.8 L699.7,833.5 L701.8,834.0 L703.8,832.3 L705.8,831.9 L707.9,830.9 L709.9,831.8 L712.0,831.1 L714.0,832.1 L716.0,831.3 L718.1,831.8 L720.1,831.3 L722.1,832.6 L724.2,832.1 L726.2,833.0 L728.2,831.5 L730.3,831.3 L732.3,832.2 L734.3,831.8 L736.4,828.0 L738.4,826.6 L740.5,824.8 L742.5,822.0 L744.5,819.9 L746.6,815.7 L748.6,813.5 L750.6,810.2 L752.7,805.2 L754.7,799.5 L756.7,794.8 L758.8,786.5 L760.8,780.1 L762.8,771.1 L764.9,762.1 L766.9,752.8 L768.9,743.8 L771.0,733.6 L773.0,725.0 L775.1,716.1 L777.1,707.9 L779.1,700.5 L781.2,693.6 L783.2,688.9 L785.2,684.6 L787.3,680.1 L789.3,677.4 L791.3,675.6 L793.4,673.6 L795.4,671.2 L797.4,668.5 L799.5,667.8 L801.5,667.7 L803.6,664.8 L805.6,664.7 L807.6,662.5 L809.7,660.7 L811.7,660.2 L813.7,659.6 L815.8,659.0 L817.8,658.4 L819.8,656.9 L821.9,658.9 L823.9,658.4 L825.9,659.0 L828.0,659.3 L830.0,661.0 L832.0,663.2 L834.1,664.8 L836.1,667.6 L838.2,671.5 L840.2,675.9 L842.2,679.8 L844.3,685.3 L846.3,690.7 L848.3,695.9 L850.4,702.4 L852.4,705.9 L854.4,711.1 L856.5,714.5 L858.5,718.4 L860.5,722.7 L862.6,727.0 L864.6,729.1 L866.7,733.3 L868.7,733.8 L870.7,736.6 L872.8,741.9 L874.8,744.2 L876.8,748.0 L878.9,749.8 L880.9,753.1 L882.9,757.3 L885.0,760.3 L887.0,762.2 L889.0,764.5 L891.1,766.5 L893.1,769.0 L895.2,771.9 L897.2,772.4 L899.2,772.4 L901.3,774.8 L903.3,775.3 L905.3,776.5 L907.4,777.9 L909.4,779.7 L911.4,781.0 L913.5,783.6 L915.5,785.7 L917.5,784.0 L919.6,787.0 L921.6,787.2 L923.6,788.5 L925.7,789.3 L927.7,789.2 L929.8,789.7 L931.8,789.5 L933.8,789.9 L935.9,790.6 L937.9,790.0 L939.9,790.8 L942.0,791.6 L944.0,792.4 L946.0,792.1 L948.1,793.5 L950.1,793.2 L952.1,793.5 L954.2,795.9 L956.2,796.0 L958.3,795.8 L960.3,793.5 L962.3,793.7 L964.4,793.7 L966.4,793.5 L968.4,793.1 L970.5,794.1 L972.5,793.8 L974.5,795.1 L976.6,795.0 L978.6,794.7 L980.6,794.6 L982.7,796.5 L984.7,795.5 L986.7,794.6 L988.8,795.7 L990.8,796.5 L992.9,793.2 L994.9,793.9 L996.9,794.4 L999.0,793.3 L1001.0,792.9 L1003.0,792.7 L1005.1,792.1 L1007.1,793.5 L1009.1,794.7 L1011.2,794.4 L1013.2,795.0 L1015.2,796.1 L1017.3,794.6 L1019.3,795.3 L1021.4,794.3 L1023.4,794.8 L1025.4,793.7 L1027.5,792.8 L1029.5,792.2 L1031.5,791.8 L1033.6,792.3 L1035.6,791.8" stroke="#fdd7d3"/>
<path d="M628.5,883.3 L630.5,882.9 L632.6,882.6 L634.6,884.5 L636.6,884.0 L638.7,884.0 L640.7,882.7 L642.7,882.6 L644.8,881.4 L646.8,881.5 L648.9,880.6 L650.9,882.2 L652.9,882.6 L655.0,881.3 L657.0,881.8 L659.0,882.8 L661.1,883.3 L663.1,884.5 L665.1,884.1 L667.2,884.1 L669.2,884.3 L671.2,884.9 L673.3,884.0 L675.3,884.0 L677.4,884.4 L679.4,882.8 L681.4,882.8 L683.5,883.4 L685.5,881.5 L687.5,882.9 L689.6,883.8 L691.6,883.7 L693.6,884.5 L695.7,885.9 L697.7,885.4 L699.7,885.5 L701.8,886.2 L703.8,884.9 L705.8,884.2 L707.9,885.1 L709.9,885.1 L712.0,884.5 L714.0,882.8 L716.0,883.8 L718.1,882.4 L720.1,883.6 L722.1,883.6 L724.2,884.1 L726.2,882.9 L728.2,883.8 L730.3,883.2 L732.3,881.7 L734.3,878.4 L736.4,877.1 L738.4,873.6 L740.5,869.1 L742.5,863.8 L744.5,858.2 L746.6,851.4 L748.6,843.8 L750.6,835.4 L752.7,825.1 L754.7,815.9 L756.7,804.7 L758.8,795.2 L760.8,786.2 L762.8,777.2 L764.9,767.2 L766.9,762.4 L768.9,757.1 L771.0,750.1 L773.0,745.4 L775.1,742.5 L777.1,739.2 L779.1,737.7 L781.2,735.3 L783.2,735.0 L785.2,735.7 L787.3,735.2 L789.3,735.2 L791.3,736.6 L793.4,737.0 L795.4,738.7 L797.4,737.7 L799.5,737.8 L801.5,738.3 L803.6,739.2 L805.6,739.1 L807.6,740.1 L809.7,740.0 L811.7,742.9 L813.7,741.1 L815.8,742.6 L817.8,743.9 L819.8,746.0 L821.9,748.9 L823.9,750.5 L825.9,750.3 L828.0,751.4 L830.0,753.5 L832.0,754.0 L834.1,754.4 L836.1,755.9 L838.2,755.7 L840.2,756.6 L842.2,757.8 L844.3,758.7 L846.3,761.1 L848.3,761.7 L850.4,763.1 L852.4,763.8 L854.4,765.3 L856.5,768.7 L858.5,769.6 L860.5,769.5 L862.6,769.9 L864.6,771.3 L866.7,770.7 L868.7,771.8 L870.7,771.8 L872.8,771.6 L874.8,773.2 L876.8,773.6 L878.9,773.6 L880.9,773.3 L882.9,776.5 L885.0,777.3 L887.0,778.1 L889.0,778.0 L891.1,778.5 L893.1,779.2 L895.2,779.9 L897.2,778.5 L899.2,778.9 L901.3,777.8 L903.3,778.6 L905.3,777.9 L907.4,778.3 L909.4,778.7 L911.4,778.5 L913.5,780.0 L915.5,780.5 L917.5,780.4 L919.6,780.1 L921.6,780.7 L923.6,782.0 L925.7,781.0 L927.7,781.2 L929.8,781.5 L931.8,781.0 L933.8,780.5 L935.9,780.2 L937.9,778.8 L939.9,778.6 L942.0,779.5 L944.0,779.3 L946.0,780.7 L948.1,781.9 L950.1,782.2 L952.1,782.7 L954.2,783.0 L956.2,781.6 L958.3,781.7 L960.3,781.5 L962.3,782.4 L964.4,779.6 L966.4,780.6 L968.4,779.4 L970.5,779.9 L972.5,779.8 L974.5,779.4 L976.6,780.3 L978.6,781.1 L980.6,780.6 L982.7,781.5 L984.7,781.0 L986.7,782.6 L988.8,782.9 L990.8,781.3 L992.9,781.8 L994.9,780.4 L996.9,781.0 L999.0,780.5 L1001.0,779.7 L1003.0,779.9 L1005.1,780.2 L1007.1,779.4 L1009.1,779.4 L1011.2,781.0 L1013.2,780.5 L1015.2,781.6 L1017.3,781.9 L1019.3,783.1 L1021.4,782.2 L1023.4,781.1 L1025.4,780.5 L1027.5,780.7 L1029.5,780.4 L1031.5,780.1 L1033.6,779.3 L1035.6,779.3" stroke="#fddcd9"/>
<path d="M628.5,834.8 L630.5,833.4 L632.6,835.3 L634.6,835.4 L636.6,834.9 L638.7,833.9 L640.7,833.5 L642.7,835.5 L644.8,833.4 L646.8,833.7 L648.9,834.6 L650.9,834.0 L652.9,833.0 L655.0,833.9 L657.0,834.9 L659.0,835.3 L661.1,837.1 L663.1,836.8 L665.1,837.3 L667.2,836.9 L669.2,836.8 L671.2,837.7 L673.3,836.6 L675.3,837.9 L677.4,837.1 L679.4,836.6 L681.4,836.6 L683.5,835.8 L685.5,836.7 L687.5,837.5 L689.6,837.2 L691.6,836.5 L693.6,838.6 L695.7,839.6 L697.7,840.3 L699.7,840.9 L701.8,838.2 L703.8,840.9 L705.8,840.1 L707.9,838.5 L709.9,838.6 L712.0,837.7 L714.0,837.1 L716.0,837.5 L718.1,838.2 L720.1,836.2 L722.1,836.7 L724.2,837.3 L726.2,837.0 L728.2,835.7 L730.3,833.0 L732.3,833.8 L734.3,829.5 L736.4,827.6 L738.4,824.1 L740.5,819.0 L742.5,814.0 L744.5,809.4 L746.6,804.4 L748.6,795.5 L750.6,790.5 L752.7,784.1 L754.7,775.5 L756.7,767.3 L758.8,758.5 L760.8,750.6 L762.8,740.5 L764.9,732.3 L766.9,724.0 L768.9,716.0 L771.0,709.9 L773.0,702.4 L775.1,698.6 L777.1,692.8 L779.1,689.1 L781.2,686.9 L783.2,684.4 L785.2,682.7 L787.3,683.6 L789.3,681.5 L791.3,682.8 L793.4,683.2 L795.4,682.9 L797.4,684.6 L799.5,682.9 L801.5,684.0 L803.6,685.8 L805.6,685.4 L807.6,686.3 L809.7,685.7 L811.7,687.7 L813.7,687.7 L815.8,687.2 L817.8,688.1 L819.8,690.3 L821.9,692.0 L823.9,692.3 L825.9,693.7 L828.0,696.6 L830.0,695.8 L832.0,697.8 L834.1,700.3 L836.1,703.7 L838.2,706.9 L840.2,710.8 L842.2,714.3 L844.3,720.2 L846.3,725.0 L848.3,732.4 L850.4,736.0 L852.4,740.6 L854.4,745.1 L856.5,750.3 L858.5,754.5 L860.5,758.3 L862.6,760.1 L864.6,764.2 L866.7,765.4 L868.7,767.6 L870.7,769.8 L872.8,769.0 L874.8,773.7 L876.8,776.2 L878.9,776.7 L880.9,779.6 L882.9,781.1 L885.0,783.3 L887.0,785.4 L889.0,787.6 L891.1,789.4 L893.1,789.7 L895.2,791.1 L897.2,791.5 L899.2,791.6 L901.3,793.1 L903.3,794.6 L905.3,794.8 L907.4,794.8 L909.4,794.8 L911.4,797.4 L913.5,796.9 L915.5,800.0 L917.5,799.7 L919.6,802.4 L921.6,801.8 L923.6,801.2 L925.7,801.4 L927.7,803.5 L929.8,801.5 L931.8,801.1 L933.8,802.2 L935.9,801.9 L937.9,801.4 L939.9,802.8 L942.0,803.4 L944.0,803.9 L946.0,803.8 L948.1,804.7 L950.1,805.3 L952.1,806.9 L954.2,806.8 L956.2,806.9 L958.3,807.0 L960.3,806.7 L962.3,806.4 L964.4,804.4 L966.4,805.8 L968.4,804.6 L970.5,805.4 L972.5,804.9 L974.5,805.0 L976.6,804.8 L978.6,808.0 L980.6,807.2 L982.7,806.8 L984.7,806.3 L986.7,806.7 L988.8,807.5 L990.8,807.4 L992.9,806.1 L994.9,806.9 L996.9,806.8 L999.0,804.7 L1001.0,804.8 L1003.0,804.7 L1005.1,806.0 L1007.1,805.7 L1009.1,806.4 L1011.2,805.5 L1013.2,809.2 L1015.2,808.8 L1017.3,806.9 L1019.3,807.3 L1021.4,808.2 L1023.4,806.3 L1025.4,806.1 L1027.5,806.9 L1029.5,805.1 L1031.5,805.0 L1033.6,806.4 L1035.6,804.9" stroke="#fde0dd"/>
<path d="M628.5,905.5 L630.5,903.4 L632.6,903.8 L634.6,903.4 L636.6,904.5 L638.7,902.9 L640.7,905.1 L642.7,903.1 L644.8,904.1 L646.8,904.5 L648.9,905.2 L650.9,905.7 L652.9,905.4 L655.0,905.5 L657.0,904.9 L659.0,903.9 L661.1,902.6 L663.1,902.4 L665.1,901.9 L667.2,901.2 L669.2,903.1 L671.2,901.8 L673.3,902.7 L675.3,903.8 L677.4,903.8 L679.4,904.3 L681.4,903.4 L683.5,903.7 L685.5,905.3 L687.5,903.4 L689.6,903.2 L691.6,903.3 L693.6,902.8 L695.7,902.1 L697.7,900.3 L699.7,900.8 L701.8,899.4 L703.8,902.1 L705.8,900.9 L707.9,901.4 L709.9,901.8 L712.0,902.6 L714.0,902.1 L716.0,902.0 L718.1,900.8 L720.1,899.9 L722.1,898.3 L724.2,898.2 L726.2,895.9 L728.2,894.2 L730.3,893.2 L732.3,891.6 L734.3,889.5 L736.4,886.8 L738.4,885.5 L740.5,882.7 L742.5,878.4 L744.5,874.7 L746.6,868.2 L748.6,861.5 L750.6,853.7 L752.7,844.3 L754.7,833.8 L756.7,822.0 L758.8,810.5 L760.8,798.9 L762.8,785.6 L764.9,773.0 L766.9,761.7 L768.9,749.9 L771.0,739.1 L773.0,731.3 L775.1,721.9 L777.1,716.1 L779.1,708.2 L781.2,702.9 L783.2,696.8 L785.2,694.0 L787.3,688.7 L789.3,685.4 L791.3,684.5 L793.4,681.0 L795.4,679.4 L797.4,679.2 L799.5,678.4 L801.5,679.6 L803.6,680.5 L805.6,681.3 L807.6,681.2 L809.7,680.5 L811.7,681.3 L813.7,683.4 L815.8,682.5 L817.8,681.7 L819.8,683.5 L821.9,684.0 L823.9,684.7 L825.9,686.4 L828.0,686.3 L830.0,687.4 L832.0,689.5 L834.1,690.6 L836.1,694.9 L838.2,697.1 L840.2,699.2 L842.2,700.4 L844.3,705.0 L846.3,706.7 L848.3,708.7 L850.4,709.0 L852.4,711.9 L854.4,714.6 L856.5,716.4 L858.5,718.9 L860.5,722.5 L862.6,725.1 L864.6,728.2 L866.7,730.4 L868.7,733.6 L870.7,737.7 L872.8,739.6 L874.8,743.7 L876.8,745.8 L878.9,748.0 L880.9,748.9 L882.9,750.0 L885.0,751.3 L887.0,753.5 L889.0,756.7 L891.1,755.8 L893.1,758.9 L895.2,759.5 L897.2,761.0 L899.2,763.7 L901.3,764.8 L903.3,765.5 L905.3,768.5 L907.4,768.2 L909.4,769.9 L911.4,769.1 L913.5,770.6 L915.5,769.2 L917.5,770.2 L919.6,770.0 L921.6,771.0 L923.6,770.7 L925.7,771.2 L927.7,770.3 L929.8,771.9 L931.8,771.7 L933.8,773.0 L935.9,774.5 L937.9,773.7 L939.9,775.3 L942.0,775.1 L944.0,773.8 L946.0,774.8 L948.1,772.8 L950.1,773.1 L952.1,773.9 L954.2,771.9 L956.2,771.7 L958.3,772.4 L960.3,773.9 L962.3,771.9 L964.4,772.3 L966.4,774.7 L968.4,774.8 L970.5,775.2 L972.5,773.5 L974.5,774.0 L976.6,773.7 L978.6,774.8 L980.6,772.0 L982.7,774.3 L984.7,771.6 L986.7,771.3 L988.8,771.1 L990.8,772.1 L992.9,771.6 L994.9,773.2 L996.9,772.7 L999.0,773.5 L1001.0,772.2 L1003.0,773.6 L1005.1,774.1 L1007.1,773.5 L1009.1,772.2 L1011.2,771.8 L1013.2,770.9 L1015.2,771.0 L1017.3,770.4 L1019.3,771.2 L1021.4,771.5 L1023.4,771.3 L1025.4,771.3 L1027.5,770.7 L1029.5,771.4 L1031.5,772.9 L1033.6,772.5 L1035.6,774.0" stroke="#fde3e0"/>
</g>
<rect x="628.5" y="527.2" width="407.1" height="409.0" fill="none" stroke="#222" stroke-width="1.3"/>
<line x1="679.4" y1="936.2" x2="679.4" y2="939.7" stroke="#222" stroke-width="1.1"/>
<text x="679.4" y="961.6" font-size="18.7" text-anchor="middle" class="t">500</text>
<line x1="730.3" y1="936.2" x2="730.3" y2="938.7" stroke="#222" stroke-width="1.1"/>
<line x1="781.2" y1="936.2" x2="781.2" y2="939.7" stroke="#222" stroke-width="1.1"/>
<text x="781.2" y="961.6" font-size="18.7" text-anchor="middle" class="t">600</text>
<line x1="832.0" y1="936.2" x2="832.0" y2="938.7" stroke="#222" stroke-width="1.1"/>
<line x1="882.9" y1="936.2" x2="882.9" y2="939.7" stroke="#222" stroke-width="1.1"/>
<text x="882.9" y="961.6" font-size="18.7" text-anchor="middle" class="t">700</text>
<line x1="933.8" y1="936.2" x2="933.8" y2="938.7" stroke="#222" stroke-width="1.1"/>
<line x1="984.7" y1="936.2" x2="984.7" y2="939.7" stroke="#222" stroke-width="1.1"/>
<text x="984.7" y="961.6" font-size="18.7" text-anchor="middle" class="t">800</text>
<line x1="1035.6" y1="936.2" x2="1035.6" y2="938.7" stroke="#222" stroke-width="1.1"/>
<text x="832.5" y="993.5" font-size="23" text-anchor="middle" class="t">Wavelength (nm)</text>
<text transform="translate(604.3,731.5) rotate(-90)" font-size="23.7" text-anchor="middle" class="t">Reflectance (a.u.)</text>
<rect x="1047.9" y="527.2" width="24.6" height="409" fill="url(#egrad)" stroke="#222" stroke-width="1.2"/>
<text x="1078.5" y="523.5" font-size="21" class="dj">Cs<tspan font-size="14.5" dy="3.5">3</tspan><tspan dy="-3.5">Bi</tspan><tspan font-size="14.5" dy="3.5">2</tspan><tspan dy="-3.5">Br</tspan><tspan font-size="14.5" dy="3.5">9</tspan></text>
<text x="1078.5" y="951" font-size="21" class="dj">Cs<tspan font-size="14.5" dy="3.5">3</tspan><tspan dy="-3.5">Bi</tspan><tspan font-size="14.5" dy="3.5">2</tspan><tspan dy="-3.5">I</tspan><tspan font-size="14.5" dy="3.5">9</tspan></text>
<text x="1237.9" y="534.8" font-size="39" font-weight="bold" class="t">f</text>
<circle cx="1373.0" cy="590.0" r="15.1" fill="#d82e94"/>
<circle cx="1376.5" cy="593.5" r="14.6" fill="#e5439a"/>
<circle cx="1380.1" cy="597.1" r="14.6" fill="#e7489b"/>
<circle cx="1383.6" cy="600.6" r="14.1" fill="#f25e9f"/>
<circle cx="1387.2" cy="604.2" r="14.6" fill="#e7489b"/>
<circle cx="1390.7" cy="607.7" r="14.5" fill="#ea4d9c"/>
<circle cx="1394.2" cy="611.2" r="14.4" fill="#ec519d"/>
<circle cx="1397.8" cy="614.8" r="14.5" fill="#e94c9c"/>
<circle cx="1401.3" cy="618.3" r="14.5" fill="#ea4d9c"/>
<circle cx="1404.9" cy="621.9" r="14.1" fill="#f25d9f"/>
<circle cx="1408.4" cy="625.4" r="14.1" fill="#f25e9f"/>
<circle cx="1411.9" cy="628.9" r="14.1" fill="#f15d9f"/>
<circle cx="1415.5" cy="632.5" r="14.3" fill="#ed549d"/>
<circle cx="1419.0" cy="636.0" r="14.2" fill="#ef589e"/>
<circle cx="1422.6" cy="639.6" r="13.8" fill="#f76da3"/>
<circle cx="1426.1" cy="643.1" r="13.8" fill="#f76ea3"/>
<circle cx="1429.6" cy="646.6" r="14.1" fill="#f35f9f"/>
<circle cx="1433.2" cy="650.2" r="14.2" fill="#f05a9e"/>
<circle cx="1436.7" cy="653.7" r="13.8" fill="#f76ca3"/>
<circle cx="1440.2" cy="657.2" r="13.6" fill="#f876a6"/>
<circle cx="1443.8" cy="660.8" r="13.9" fill="#f767a1"/>
<circle cx="1447.3" cy="664.3" r="13.6" fill="#f878a7"/>
<circle cx="1450.9" cy="667.9" r="13.7" fill="#f771a4"/>
<circle cx="1454.4" cy="671.4" r="13.8" fill="#f76ca2"/>
<circle cx="1457.9" cy="674.9" r="13.6" fill="#f878a7"/>
<circle cx="1461.5" cy="678.5" r="13.4" fill="#f881aa"/>
<circle cx="1465.0" cy="682.0" r="13.5" fill="#f87ea9"/>
<circle cx="1468.6" cy="685.6" r="13.2" fill="#f98faf"/>
<circle cx="1472.1" cy="689.1" r="13.2" fill="#f98eaf"/>
<circle cx="1475.6" cy="692.6" r="13.0" fill="#f996b2"/>
<circle cx="1479.2" cy="696.2" r="13.0" fill="#f995b1"/>
<circle cx="1482.7" cy="699.7" r="12.9" fill="#fa9cb4"/>
<circle cx="1486.3" cy="703.3" r="12.9" fill="#fa9cb4"/>
<circle cx="1489.8" cy="706.8" r="12.8" fill="#faa1b5"/>
<circle cx="1493.3" cy="710.3" r="12.8" fill="#faa0b5"/>
<circle cx="1496.9" cy="713.9" r="12.7" fill="#faa3b6"/>
<circle cx="1500.4" cy="717.4" r="12.7" fill="#faa4b6"/>
<circle cx="1504.0" cy="721.0" r="12.9" fill="#fa9fb5"/>
<circle cx="1507.5" cy="724.5" r="12.2" fill="#fbb6bc"/>
<circle cx="1511.0" cy="728.0" r="12.7" fill="#faa6b7"/>
<circle cx="1514.6" cy="731.6" r="12.3" fill="#fbb3bb"/>
<circle cx="1518.1" cy="735.1" r="12.1" fill="#fcbcbd"/>
<circle cx="1521.7" cy="738.7" r="12.2" fill="#fbb8bc"/>
<circle cx="1525.2" cy="742.2" r="12.2" fill="#fbb9bc"/>
<circle cx="1528.7" cy="745.7" r="12.3" fill="#fbb5bb"/>
<circle cx="1532.3" cy="749.3" r="11.8" fill="#fcc5c1"/>
<circle cx="1535.8" cy="752.8" r="12.0" fill="#fcbfbe"/>
<circle cx="1539.3" cy="756.3" r="11.9" fill="#fcc2bf"/>
<circle cx="1542.9" cy="759.9" r="11.5" fill="#fccdc8"/>
<circle cx="1546.4" cy="763.4" r="11.5" fill="#fcccc7"/>
<circle cx="1550.0" cy="767.0" r="11.8" fill="#fcc5c0"/>
<circle cx="1553.5" cy="770.5" r="11.8" fill="#fcc6c1"/>
<circle cx="1557.0" cy="774.0" r="11.8" fill="#fcc5c0"/>
<circle cx="1560.6" cy="777.6" r="11.6" fill="#fcc9c5"/>
<circle cx="1564.1" cy="781.1" r="11.6" fill="#fcccc7"/>
<circle cx="1567.7" cy="784.7" r="11.4" fill="#fcceca"/>
<circle cx="1571.2" cy="788.2" r="11.6" fill="#fccac5"/>
<circle cx="1574.7" cy="791.7" r="11.2" fill="#fdd4d0"/>
<circle cx="1578.3" cy="795.3" r="11.4" fill="#fcd0cc"/>
<circle cx="1581.8" cy="798.8" r="11.5" fill="#fccdc9"/>
<circle cx="1585.4" cy="802.4" r="11.1" fill="#fdd6d3"/>
<circle cx="1588.9" cy="805.9" r="11.7" fill="#fcc8c3"/>
<circle cx="1592.4" cy="809.4" r="11.3" fill="#fcd2ce"/>
<circle cx="1596.0" cy="813.0" r="11.4" fill="#fcceca"/>
<circle cx="1599.5" cy="816.5" r="11.9" fill="#fcc3bf"/>
<circle cx="1603.1" cy="820.1" r="11.3" fill="#fcd2cd"/>
<circle cx="1606.6" cy="823.6" r="11.4" fill="#fcd0cc"/>
<circle cx="1610.1" cy="827.1" r="11.8" fill="#fcc5c0"/>
<circle cx="1613.7" cy="830.7" r="11.3" fill="#fcd1cd"/>
<circle cx="1617.2" cy="834.2" r="11.5" fill="#fcccc8"/>
<circle cx="1620.8" cy="837.8" r="11.7" fill="#fcc7c2"/>
<circle cx="1624.3" cy="841.3" r="11.8" fill="#fcc6c1"/>
<circle cx="1627.8" cy="844.8" r="11.9" fill="#fcc3c0"/>
<circle cx="1631.4" cy="848.4" r="11.9" fill="#fcc3bf"/>
<circle cx="1634.9" cy="851.9" r="12.1" fill="#fbbbbd"/>
<circle cx="1638.4" cy="855.4" r="12.1" fill="#fbbbbd"/>
<circle cx="1642.0" cy="859.0" r="12.0" fill="#fcbdbe"/>
<circle cx="1645.5" cy="862.5" r="11.8" fill="#fcc4c0"/>
<circle cx="1649.1" cy="866.1" r="11.9" fill="#fcc2bf"/>
<circle cx="1652.6" cy="869.6" r="11.7" fill="#fcc8c3"/>
<circle cx="1656.1" cy="873.1" r="12.2" fill="#fbb6bc"/>
<circle cx="1659.7" cy="876.7" r="11.8" fill="#fcc5c0"/>
<circle cx="1663.2" cy="880.2" r="12.3" fill="#fbb2ba"/>
<circle cx="1666.8" cy="883.8" r="12.6" fill="#fbaab8"/>
<circle cx="1670.3" cy="887.3" r="12.1" fill="#fcbcbd"/>
<circle cx="1673.8" cy="890.8" r="12.2" fill="#fbb8bc"/>
<circle cx="1677.4" cy="894.4" r="12.2" fill="#fbb6bc"/>
<circle cx="1680.9" cy="897.9" r="12.5" fill="#fbabb9"/>
<circle cx="1684.5" cy="901.5" r="12.2" fill="#fbb5bc"/>
<circle cx="1688.0" cy="905.0" r="12.4" fill="#fbafba"/>
<circle cx="1686.0" cy="590.0" r="14.4" fill="#ea4e9c"/>
<circle cx="1682.5" cy="593.5" r="14.5" fill="#e94d9c"/>
<circle cx="1678.9" cy="597.1" r="14.7" fill="#e34099"/>
<circle cx="1675.4" cy="600.6" r="14.3" fill="#ee579e"/>
<circle cx="1671.9" cy="604.1" r="14.4" fill="#ea4e9c"/>
<circle cx="1668.4" cy="607.6" r="14.4" fill="#ea4e9c"/>
<circle cx="1664.8" cy="611.2" r="14.5" fill="#e84a9b"/>
<circle cx="1661.3" cy="614.7" r="14.1" fill="#f3609f"/>
<circle cx="1657.8" cy="618.2" r="14.5" fill="#e84b9b"/>
<circle cx="1654.2" cy="621.8" r="14.3" fill="#ec539d"/>
<circle cx="1650.7" cy="625.3" r="14.4" fill="#eb519c"/>
<circle cx="1647.2" cy="628.8" r="14.2" fill="#f05b9e"/>
<circle cx="1643.7" cy="632.3" r="13.8" fill="#f76ea3"/>
<circle cx="1640.1" cy="635.9" r="13.9" fill="#f667a1"/>
<circle cx="1636.6" cy="639.4" r="14.2" fill="#f15c9f"/>
<circle cx="1633.1" cy="642.9" r="14.0" fill="#f665a1"/>
<circle cx="1629.6" cy="646.4" r="13.9" fill="#f769a1"/>
<circle cx="1626.0" cy="650.0" r="14.2" fill="#f05a9e"/>
<circle cx="1622.5" cy="653.5" r="14.2" fill="#f0599e"/>
<circle cx="1619.0" cy="657.0" r="13.7" fill="#f871a4"/>
<circle cx="1615.4" cy="660.6" r="14.0" fill="#f461a0"/>
<circle cx="1611.9" cy="664.1" r="13.2" fill="#f98cae"/>
<circle cx="1608.4" cy="667.6" r="13.1" fill="#f991b0"/>
<circle cx="1604.9" cy="671.1" r="13.6" fill="#f879a7"/>
<circle cx="1601.3" cy="674.7" r="13.3" fill="#f988ad"/>
<circle cx="1597.8" cy="678.2" r="13.4" fill="#f985ab"/>
<circle cx="1594.3" cy="681.7" r="13.3" fill="#f98aad"/>
<circle cx="1590.7" cy="685.3" r="13.1" fill="#f994b1"/>
<circle cx="1587.2" cy="688.8" r="13.1" fill="#f991b0"/>
<circle cx="1583.7" cy="692.3" r="12.9" fill="#fa9bb3"/>
<circle cx="1580.2" cy="695.8" r="12.5" fill="#fbabb8"/>
<circle cx="1576.6" cy="699.4" r="12.8" fill="#faa2b6"/>
<circle cx="1573.1" cy="702.9" r="12.7" fill="#faa5b7"/>
<circle cx="1569.6" cy="706.4" r="12.9" fill="#fa9cb4"/>
<circle cx="1566.0" cy="710.0" r="12.3" fill="#fbb4bb"/>
<circle cx="1562.5" cy="713.5" r="12.4" fill="#fbafba"/>
<circle cx="1559.0" cy="717.0" r="12.2" fill="#fbb5bb"/>
<circle cx="1555.5" cy="720.5" r="12.2" fill="#fbb6bc"/>
<circle cx="1551.9" cy="724.1" r="12.5" fill="#fbadb9"/>
<circle cx="1548.4" cy="727.6" r="12.1" fill="#fbb9bd"/>
<circle cx="1544.9" cy="731.1" r="11.9" fill="#fcc1bf"/>
<circle cx="1541.3" cy="734.7" r="12.0" fill="#fcbfbe"/>
<circle cx="1537.8" cy="738.2" r="12.0" fill="#fcbdbe"/>
<circle cx="1534.3" cy="741.7" r="11.6" fill="#fcc9c4"/>
<circle cx="1530.8" cy="745.2" r="11.7" fill="#fcc7c2"/>
<circle cx="1527.2" cy="748.8" r="12.0" fill="#fcbdbe"/>
<circle cx="1523.7" cy="752.3" r="11.8" fill="#fcc4c0"/>
<circle cx="1520.2" cy="755.8" r="11.6" fill="#fccac5"/>
<circle cx="1516.7" cy="759.3" r="11.5" fill="#fccdc9"/>
<circle cx="1513.1" cy="762.9" r="11.5" fill="#fccdc9"/>
<circle cx="1509.6" cy="766.4" r="11.2" fill="#fdd4d1"/>
<circle cx="1506.1" cy="769.9" r="11.7" fill="#fcc8c3"/>
<circle cx="1502.5" cy="773.5" r="11.6" fill="#fccbc6"/>
<circle cx="1499.0" cy="777.0" r="11.6" fill="#fccbc7"/>
<circle cx="1495.5" cy="780.5" r="11.3" fill="#fcd2ce"/>
<circle cx="1492.0" cy="784.0" r="11.4" fill="#fccfcb"/>
<circle cx="1488.4" cy="787.6" r="11.7" fill="#fcc9c4"/>
<circle cx="1484.9" cy="791.1" r="11.6" fill="#fccac5"/>
<circle cx="1481.4" cy="794.6" r="11.5" fill="#fccdc9"/>
<circle cx="1477.8" cy="798.2" r="11.7" fill="#fcc8c3"/>
<circle cx="1474.3" cy="801.7" r="11.8" fill="#fcc5c0"/>
<circle cx="1470.8" cy="805.2" r="11.6" fill="#fccbc7"/>
<circle cx="1467.3" cy="808.7" r="11.6" fill="#fcc9c5"/>
<circle cx="1463.7" cy="812.3" r="11.6" fill="#fccac5"/>
<circle cx="1460.2" cy="815.8" r="11.6" fill="#fccac5"/>
<circle cx="1456.7" cy="819.3" r="12.1" fill="#fcbcbd"/>
<circle cx="1453.1" cy="822.9" r="12.1" fill="#fcbcbd"/>
<circle cx="1449.6" cy="826.4" r="12.1" fill="#fcbcbd"/>
<circle cx="1446.1" cy="829.9" r="11.8" fill="#fcc4c0"/>
<circle cx="1442.6" cy="833.4" r="11.9" fill="#fcc1bf"/>
<circle cx="1439.0" cy="837.0" r="12.2" fill="#fbb8bc"/>
<circle cx="1435.5" cy="840.5" r="12.2" fill="#fbb8bc"/>
<circle cx="1432.0" cy="844.0" r="12.4" fill="#fbb1ba"/>
<circle cx="1428.4" cy="847.6" r="12.3" fill="#fbb4bb"/>
<circle cx="1424.9" cy="851.1" r="12.6" fill="#faa8b8"/>
<circle cx="1421.4" cy="854.6" r="12.9" fill="#fa9db4"/>
<circle cx="1417.9" cy="858.1" r="12.9" fill="#fa9cb4"/>
<circle cx="1414.3" cy="861.7" r="13.0" fill="#fa97b2"/>
<circle cx="1410.8" cy="865.2" r="12.8" fill="#faa2b6"/>
<circle cx="1407.3" cy="868.7" r="13.0" fill="#fa96b2"/>
<circle cx="1403.8" cy="872.2" r="12.9" fill="#fa9fb5"/>
<circle cx="1400.2" cy="875.8" r="13.2" fill="#f98faf"/>
<circle cx="1396.7" cy="879.3" r="13.0" fill="#fa97b2"/>
<circle cx="1393.2" cy="882.8" r="13.1" fill="#f995b1"/>
<circle cx="1389.6" cy="886.4" r="13.1" fill="#f992b0"/>
<circle cx="1386.1" cy="889.9" r="13.4" fill="#f881aa"/>
<circle cx="1382.6" cy="893.4" r="13.4" fill="#f881aa"/>
<circle cx="1379.1" cy="896.9" r="13.5" fill="#f87ea9"/>
<circle cx="1375.5" cy="900.5" r="13.3" fill="#f988ad"/>
<circle cx="1372.0" cy="904.0" r="13.6" fill="#f877a6"/>
<circle cx="1358.0" cy="575.0" r="15.2" fill="#d22891"/>
<circle cx="1358.0" cy="578.6" r="15.7" fill="#bb0f85"/>
<circle cx="1358.0" cy="582.3" r="15.4" fill="#ca1f8d"/>
<circle cx="1358.0" cy="585.9" r="15.4" fill="#c91e8c"/>
<circle cx="1358.0" cy="589.6" r="15.3" fill="#cd228e"/>
<circle cx="1358.0" cy="593.2" r="15.0" fill="#db3296"/>
<circle cx="1358.0" cy="596.8" r="15.0" fill="#db3296"/>
<circle cx="1358.0" cy="600.5" r="15.2" fill="#d12791"/>
<circle cx="1358.1" cy="604.1" r="15.5" fill="#c61b8b"/>
<circle cx="1358.1" cy="607.7" r="15.0" fill="#dd3497"/>
<circle cx="1358.1" cy="611.4" r="15.0" fill="#db3296"/>
<circle cx="1358.1" cy="615.0" r="15.1" fill="#d72e94"/>
<circle cx="1358.1" cy="618.7" r="14.7" fill="#e33f99"/>
<circle cx="1358.1" cy="622.3" r="14.7" fill="#e4419a"/>
<circle cx="1358.1" cy="625.9" r="14.9" fill="#df3898"/>
<circle cx="1358.1" cy="629.6" r="14.9" fill="#de3697"/>
<circle cx="1358.1" cy="633.2" r="14.8" fill="#e13c99"/>
<circle cx="1358.1" cy="636.9" r="15.1" fill="#d62c93"/>
<circle cx="1358.1" cy="640.5" r="14.8" fill="#e23e99"/>
<circle cx="1358.1" cy="644.1" r="14.8" fill="#e13b98"/>
<circle cx="1358.1" cy="647.8" r="15.0" fill="#db3296"/>
<circle cx="1358.1" cy="651.4" r="15.0" fill="#dc3397"/>
<circle cx="1358.1" cy="655.0" r="14.3" fill="#ed549d"/>
<circle cx="1358.1" cy="658.7" r="14.5" fill="#e94b9b"/>
<circle cx="1358.2" cy="662.3" r="14.7" fill="#e33f99"/>
<circle cx="1358.2" cy="666.0" r="14.2" fill="#f05a9e"/>
<circle cx="1358.2" cy="669.6" r="14.2" fill="#f0599e"/>
<circle cx="1358.2" cy="673.2" r="14.1" fill="#f3609f"/>
<circle cx="1358.2" cy="676.9" r="14.0" fill="#f563a0"/>
<circle cx="1358.2" cy="680.5" r="14.0" fill="#f564a0"/>
<circle cx="1358.2" cy="684.1" r="14.2" fill="#f15b9f"/>
<circle cx="1358.2" cy="687.8" r="14.3" fill="#ed549d"/>
<circle cx="1358.2" cy="691.4" r="14.3" fill="#ed559d"/>
<circle cx="1358.2" cy="695.1" r="13.9" fill="#f666a1"/>
<circle cx="1358.2" cy="698.7" r="13.5" fill="#f87da9"/>
<circle cx="1358.2" cy="702.3" r="13.8" fill="#f76da3"/>
<circle cx="1358.2" cy="706.0" r="13.7" fill="#f873a5"/>
<circle cx="1358.2" cy="709.6" r="13.8" fill="#f770a4"/>
<circle cx="1358.2" cy="713.3" r="13.6" fill="#f878a7"/>
<circle cx="1358.2" cy="716.9" r="13.2" fill="#f98cae"/>
<circle cx="1358.3" cy="720.5" r="13.6" fill="#f879a7"/>
<circle cx="1358.3" cy="724.2" r="13.1" fill="#f995b1"/>
<circle cx="1358.3" cy="727.8" r="13.3" fill="#f98aae"/>
<circle cx="1358.3" cy="731.4" r="13.4" fill="#f984ab"/>
<circle cx="1358.3" cy="735.1" r="13.3" fill="#f987ac"/>
<circle cx="1358.3" cy="738.7" r="13.5" fill="#f87ea9"/>
<circle cx="1358.3" cy="742.4" r="12.7" fill="#faa5b7"/>
<circle cx="1358.3" cy="746.0" r="13.1" fill="#f991b0"/>
<circle cx="1358.3" cy="749.6" r="13.2" fill="#f990af"/>
<circle cx="1358.3" cy="753.3" r="12.9" fill="#fa9cb4"/>
<circle cx="1358.3" cy="756.9" r="13.1" fill="#f995b1"/>
<circle cx="1358.3" cy="760.6" r="12.7" fill="#faa5b7"/>
<circle cx="1358.3" cy="764.2" r="13.0" fill="#fa99b3"/>
<circle cx="1358.3" cy="767.8" r="12.9" fill="#fa9db4"/>
<circle cx="1358.3" cy="771.5" r="12.6" fill="#fba9b8"/>
<circle cx="1358.4" cy="775.1" r="12.6" fill="#fba9b8"/>
<circle cx="1358.4" cy="778.7" r="12.6" fill="#faa7b7"/>
<circle cx="1358.4" cy="782.4" r="12.5" fill="#fbacb9"/>
<circle cx="1358.4" cy="786.0" r="12.8" fill="#faa2b6"/>
<circle cx="1358.4" cy="789.7" r="12.6" fill="#fbaab8"/>
<circle cx="1358.4" cy="793.3" r="12.7" fill="#faa3b6"/>
<circle cx="1358.4" cy="796.9" r="12.7" fill="#faa5b7"/>
<circle cx="1358.4" cy="800.6" r="12.4" fill="#fbaeb9"/>
<circle cx="1358.4" cy="804.2" r="12.4" fill="#fbb1ba"/>
<circle cx="1358.4" cy="807.9" r="12.2" fill="#fbb8bc"/>
<circle cx="1358.4" cy="811.5" r="12.2" fill="#fbb8bc"/>
<circle cx="1358.4" cy="815.1" r="12.1" fill="#fbb9bd"/>
<circle cx="1358.4" cy="818.8" r="12.3" fill="#fbb3bb"/>
<circle cx="1358.4" cy="822.4" r="12.0" fill="#fcbcbe"/>
<circle cx="1358.4" cy="826.0" r="12.2" fill="#fbb7bc"/>
<circle cx="1358.4" cy="829.7" r="12.2" fill="#fbb8bc"/>
<circle cx="1358.5" cy="833.3" r="12.0" fill="#fcbdbe"/>
<circle cx="1358.5" cy="837.0" r="12.1" fill="#fcbcbd"/>
<circle cx="1358.5" cy="840.6" r="12.4" fill="#fbb1ba"/>
<circle cx="1358.5" cy="844.2" r="12.4" fill="#fbb1ba"/>
<circle cx="1358.5" cy="847.9" r="11.9" fill="#fcc2bf"/>
<circle cx="1358.5" cy="851.5" r="12.0" fill="#fcbebe"/>
<circle cx="1358.5" cy="855.1" r="11.9" fill="#fcc0bf"/>
<circle cx="1358.5" cy="858.8" r="11.9" fill="#fcc0bf"/>
<circle cx="1358.5" cy="862.4" r="12.3" fill="#fbb5bb"/>
<circle cx="1358.5" cy="866.1" r="12.1" fill="#fbbbbd"/>
<circle cx="1358.5" cy="869.7" r="12.2" fill="#fbb8bc"/>
<circle cx="1358.5" cy="873.3" r="12.3" fill="#fbb5bb"/>
<circle cx="1358.5" cy="877.0" r="11.8" fill="#fcc4c0"/>
<circle cx="1358.5" cy="880.6" r="11.9" fill="#fcc2bf"/>
<circle cx="1358.5" cy="884.3" r="11.9" fill="#fcc0bf"/>
<circle cx="1358.5" cy="887.9" r="12.1" fill="#fbb9bd"/>
<circle cx="1358.6" cy="891.5" r="11.9" fill="#fcc0bf"/>
<circle cx="1358.6" cy="895.2" r="12.1" fill="#fbbbbd"/>
<circle cx="1358.6" cy="898.8" r="12.2" fill="#fbb7bc"/>
<circle cx="1358.6" cy="902.4" r="12.2" fill="#fbb7bc"/>
<circle cx="1358.6" cy="906.1" r="12.1" fill="#fbbbbd"/>
<circle cx="1358.6" cy="909.7" r="11.9" fill="#fcc3c0"/>
<circle cx="1358.6" cy="913.4" r="11.7" fill="#fcc7c3"/>
<circle cx="1358.6" cy="917.0" r="12.2" fill="#fbb6bc"/>
<circle cx="1358.5" cy="917.5" r="12.8" fill="#faa0b5"/>
<circle cx="1362.1" cy="917.5" r="12.6" fill="#fbaab8"/>
<circle cx="1365.8" cy="917.5" r="12.6" fill="#faa8b7"/>
<circle cx="1369.4" cy="917.5" r="12.6" fill="#faa8b8"/>
<circle cx="1373.0" cy="917.5" r="12.4" fill="#fbb1ba"/>
<circle cx="1376.7" cy="917.5" r="12.7" fill="#faa4b7"/>
<circle cx="1380.3" cy="917.5" r="12.5" fill="#fbacb9"/>
<circle cx="1383.9" cy="917.5" r="12.6" fill="#fba9b8"/>
<circle cx="1387.6" cy="917.5" r="12.8" fill="#faa3b6"/>
<circle cx="1391.2" cy="917.5" r="12.6" fill="#fba9b8"/>
<circle cx="1394.8" cy="917.5" r="12.7" fill="#faa6b7"/>
<circle cx="1398.5" cy="917.5" r="12.6" fill="#faa7b7"/>
<circle cx="1402.1" cy="917.5" r="12.5" fill="#fbaab8"/>
<circle cx="1405.7" cy="917.5" r="12.5" fill="#fbabb9"/>
<circle cx="1409.4" cy="917.5" r="12.8" fill="#faa0b5"/>
<circle cx="1413.0" cy="917.5" r="12.4" fill="#fbafba"/>
<circle cx="1416.6" cy="917.5" r="12.7" fill="#faa3b6"/>
<circle cx="1420.3" cy="917.5" r="12.2" fill="#fbb6bc"/>
<circle cx="1423.9" cy="917.5" r="12.5" fill="#fbabb9"/>
<circle cx="1427.5" cy="917.5" r="12.4" fill="#fbb0ba"/>
<circle cx="1431.2" cy="917.5" r="12.2" fill="#fbb7bc"/>
<circle cx="1434.8" cy="917.5" r="11.8" fill="#fcc5c0"/>
<circle cx="1438.4" cy="917.5" r="12.6" fill="#fba9b8"/>
<circle cx="1442.1" cy="917.5" r="12.0" fill="#fcbdbe"/>
<circle cx="1445.7" cy="917.5" r="12.0" fill="#fcbdbe"/>
<circle cx="1449.3" cy="917.5" r="12.2" fill="#fbb6bc"/>
<circle cx="1453.0" cy="917.5" r="12.2" fill="#fbb8bc"/>
<circle cx="1456.6" cy="917.5" r="12.2" fill="#fbb7bc"/>
<circle cx="1460.2" cy="917.5" r="12.1" fill="#fcbcbd"/>
<circle cx="1463.9" cy="917.5" r="11.8" fill="#fcc5c0"/>
<circle cx="1467.5" cy="917.5" r="12.2" fill="#fbb6bc"/>
<circle cx="1471.1" cy="917.5" r="11.9" fill="#fcc3bf"/>
<circle cx="1474.8" cy="917.5" r="12.0" fill="#fcbdbe"/>
<circle cx="1478.4" cy="917.5" r="12.1" fill="#fbbbbd"/>
<circle cx="1482.0" cy="917.5" r="12.2" fill="#fbb8bc"/>
<circle cx="1485.7" cy="917.5" r="11.9" fill="#fcc2bf"/>
<circle cx="1489.3" cy="917.5" r="11.8" fill="#fcc4c0"/>
<circle cx="1492.9" cy="917.5" r="11.8" fill="#fcc4c0"/>
<circle cx="1496.6" cy="917.5" r="11.5" fill="#fccdc9"/>
<circle cx="1500.2" cy="917.5" r="11.7" fill="#fcc9c4"/>
<circle cx="1503.8" cy="917.5" r="11.6" fill="#fccac6"/>
<circle cx="1507.5" cy="917.5" r="11.5" fill="#fcccc7"/>
<circle cx="1511.1" cy="917.5" r="11.8" fill="#fcc6c1"/>
<circle cx="1514.7" cy="917.5" r="11.6" fill="#fcc9c4"/>
<circle cx="1518.4" cy="917.5" r="12.0" fill="#fcbfbe"/>
<circle cx="1522.0" cy="917.5" r="11.9" fill="#fcc0bf"/>
<circle cx="1525.6" cy="917.5" r="11.3" fill="#fdd3cf"/>
<circle cx="1529.2" cy="917.5" r="11.6" fill="#fccac5"/>
<circle cx="1532.9" cy="917.5" r="11.4" fill="#fccfcb"/>
<circle cx="1536.5" cy="917.5" r="11.7" fill="#fcc8c3"/>
<circle cx="1540.1" cy="917.5" r="11.6" fill="#fccac6"/>
<circle cx="1543.8" cy="917.5" r="11.7" fill="#fcc7c2"/>
<circle cx="1547.4" cy="917.5" r="11.6" fill="#fccac5"/>
<circle cx="1551.0" cy="917.5" r="11.7" fill="#fcc8c3"/>
<circle cx="1554.7" cy="917.5" r="11.5" fill="#fccdc9"/>
<circle cx="1558.3" cy="917.5" r="11.1" fill="#fdd8d5"/>
<circle cx="1561.9" cy="917.5" r="11.3" fill="#fcd2ce"/>
<circle cx="1565.6" cy="917.5" r="11.3" fill="#fcd1cd"/>
<circle cx="1569.2" cy="917.5" r="11.4" fill="#fccfcb"/>
<circle cx="1572.8" cy="917.5" r="11.3" fill="#fcd2ce"/>
<circle cx="1576.5" cy="917.5" r="11.8" fill="#fcc5c0"/>
<circle cx="1580.1" cy="917.5" r="11.5" fill="#fccdc9"/>
<circle cx="1583.7" cy="917.5" r="11.8" fill="#fcc6c1"/>
<circle cx="1587.4" cy="917.5" r="11.5" fill="#fccec9"/>
<circle cx="1591.0" cy="917.5" r="11.9" fill="#fcc3c0"/>
<circle cx="1594.6" cy="917.5" r="11.3" fill="#fcd1cd"/>
<circle cx="1598.3" cy="917.5" r="11.7" fill="#fcc9c4"/>
<circle cx="1601.9" cy="917.5" r="11.3" fill="#fcd2ce"/>
<circle cx="1605.5" cy="917.5" r="11.7" fill="#fcc9c4"/>
<circle cx="1609.2" cy="917.5" r="11.9" fill="#fcc2bf"/>
<circle cx="1612.8" cy="917.5" r="11.3" fill="#fcd2ce"/>
<circle cx="1616.4" cy="917.5" r="11.4" fill="#fcceca"/>
<circle cx="1620.1" cy="917.5" r="11.7" fill="#fcc9c4"/>
<circle cx="1623.7" cy="917.5" r="11.6" fill="#fccac6"/>
<circle cx="1627.3" cy="917.5" r="11.4" fill="#fccfcb"/>
<circle cx="1631.0" cy="917.5" r="11.9" fill="#fcc2bf"/>
<circle cx="1634.6" cy="917.5" r="11.7" fill="#fcc8c3"/>
<circle cx="1638.2" cy="917.5" r="12.0" fill="#fcc0be"/>
<circle cx="1641.9" cy="917.5" r="11.8" fill="#fcc5c0"/>
<circle cx="1645.5" cy="917.5" r="11.5" fill="#fcccc8"/>
<circle cx="1649.1" cy="917.5" r="11.7" fill="#fcc8c4"/>
<circle cx="1652.8" cy="917.5" r="12.0" fill="#fcbcbd"/>
<circle cx="1656.4" cy="917.5" r="11.5" fill="#fcccc7"/>
<circle cx="1660.0" cy="917.5" r="11.7" fill="#fcc7c2"/>
<circle cx="1663.7" cy="917.5" r="12.0" fill="#fcbfbe"/>
<circle cx="1667.3" cy="917.5" r="12.1" fill="#fbbbbd"/>
<circle cx="1670.9" cy="917.5" r="12.1" fill="#fcbcbd"/>
<circle cx="1674.6" cy="917.5" r="11.7" fill="#fcc9c4"/>
<circle cx="1678.2" cy="917.5" r="12.4" fill="#fbb1ba"/>
<circle cx="1681.8" cy="917.5" r="12.0" fill="#fcc0be"/>
<circle cx="1685.5" cy="917.5" r="12.0" fill="#fcbdbe"/>
<circle cx="1689.1" cy="917.5" r="12.0" fill="#fcbdbe"/>
<circle cx="1692.7" cy="917.5" r="12.0" fill="#fcbdbe"/>
<circle cx="1696.4" cy="917.5" r="11.9" fill="#fcc1bf"/>
<circle cx="1700.0" cy="917.5" r="12.1" fill="#fcbcbd"/>
<circle cx="1700.5" cy="575.0" r="15.2" fill="#d22891"/>
<circle cx="1700.5" cy="578.6" r="14.7" fill="#e4439a"/>
<circle cx="1700.5" cy="582.3" r="14.4" fill="#ea4f9c"/>
<circle cx="1700.5" cy="585.9" r="14.9" fill="#dd3597"/>
<circle cx="1700.5" cy="589.6" r="14.9" fill="#df3998"/>
<circle cx="1700.5" cy="593.2" r="14.9" fill="#df3798"/>
<circle cx="1700.5" cy="596.8" r="15.0" fill="#d93095"/>
<circle cx="1700.5" cy="600.5" r="14.5" fill="#e7499b"/>
<circle cx="1700.5" cy="604.1" r="14.7" fill="#e4429a"/>
<circle cx="1700.5" cy="607.7" r="14.7" fill="#e4419a"/>
<circle cx="1700.5" cy="611.4" r="14.8" fill="#e13c99"/>
<circle cx="1700.5" cy="615.0" r="14.7" fill="#e34199"/>
<circle cx="1700.5" cy="618.7" r="14.3" fill="#ee559d"/>
<circle cx="1700.5" cy="622.3" r="14.1" fill="#f25d9f"/>
<circle cx="1700.5" cy="625.9" r="14.3" fill="#ee569e"/>
<circle cx="1700.5" cy="629.6" r="14.0" fill="#f666a1"/>
<circle cx="1700.5" cy="633.2" r="14.4" fill="#eb4f9c"/>
<circle cx="1700.5" cy="636.9" r="14.1" fill="#f3609f"/>
<circle cx="1700.5" cy="640.5" r="14.0" fill="#f463a0"/>
<circle cx="1700.5" cy="644.1" r="13.9" fill="#f76ba2"/>
<circle cx="1700.5" cy="647.8" r="14.3" fill="#ef579e"/>
<circle cx="1700.5" cy="651.4" r="14.0" fill="#f666a1"/>
<circle cx="1700.5" cy="655.0" r="13.7" fill="#f771a4"/>
<circle cx="1700.5" cy="658.7" r="13.9" fill="#f76ba2"/>
<circle cx="1700.5" cy="662.3" r="13.6" fill="#f876a6"/>
<circle cx="1700.5" cy="666.0" r="13.7" fill="#f873a5"/>
<circle cx="1700.5" cy="669.6" r="13.7" fill="#f770a4"/>
<circle cx="1700.5" cy="673.2" r="13.4" fill="#f984ab"/>
<circle cx="1700.5" cy="676.9" r="13.4" fill="#f881aa"/>
<circle cx="1700.5" cy="680.5" r="13.3" fill="#f985ac"/>
<circle cx="1700.5" cy="684.1" r="13.4" fill="#f883ab"/>
<circle cx="1700.5" cy="687.8" r="13.2" fill="#f98dae"/>
<circle cx="1700.5" cy="691.4" r="13.0" fill="#fa96b2"/>
<circle cx="1700.5" cy="695.1" r="12.8" fill="#faa0b5"/>
<circle cx="1700.5" cy="698.7" r="12.9" fill="#fa9bb4"/>
<circle cx="1700.5" cy="702.3" r="12.6" fill="#faa8b8"/>
<circle cx="1700.5" cy="706.0" r="12.9" fill="#fa9fb5"/>
<circle cx="1700.5" cy="709.6" r="12.7" fill="#faa5b7"/>
<circle cx="1700.5" cy="713.3" r="12.7" fill="#faa5b7"/>
<circle cx="1700.5" cy="716.9" r="12.4" fill="#fbaeb9"/>
<circle cx="1700.5" cy="720.5" r="12.3" fill="#fbb3bb"/>
<circle cx="1700.5" cy="724.2" r="12.2" fill="#fbb6bc"/>
<circle cx="1700.5" cy="727.8" r="12.5" fill="#fbabb8"/>
<circle cx="1700.5" cy="731.4" r="12.2" fill="#fbb6bc"/>
<circle cx="1700.5" cy="735.1" r="12.2" fill="#fbb8bc"/>
<circle cx="1700.5" cy="738.7" r="11.8" fill="#fcc4c0"/>
<circle cx="1700.5" cy="742.4" r="12.1" fill="#fbbabd"/>
<circle cx="1700.5" cy="746.0" r="11.4" fill="#fccfcb"/>
<circle cx="1700.5" cy="749.6" r="12.3" fill="#fbb4bb"/>
<circle cx="1700.5" cy="753.3" r="11.9" fill="#fcc1bf"/>
<circle cx="1700.5" cy="756.9" r="11.9" fill="#fcc1bf"/>
<circle cx="1700.5" cy="760.6" r="11.6" fill="#fccac6"/>
<circle cx="1700.5" cy="764.2" r="11.6" fill="#fccac5"/>
<circle cx="1700.5" cy="767.8" r="11.9" fill="#fcc1bf"/>
<circle cx="1700.5" cy="771.5" r="11.7" fill="#fcc7c2"/>
<circle cx="1700.5" cy="775.1" r="11.8" fill="#fcc4c0"/>
<circle cx="1700.5" cy="778.7" r="12.0" fill="#fcbfbe"/>
<circle cx="1700.5" cy="782.4" r="11.8" fill="#fcc4c0"/>
<circle cx="1700.5" cy="786.0" r="11.3" fill="#fcd1cd"/>
<circle cx="1700.5" cy="789.7" r="11.5" fill="#fccdc9"/>
<circle cx="1700.5" cy="793.3" r="11.4" fill="#fccfca"/>
<circle cx="1700.5" cy="796.9" r="11.5" fill="#fcceca"/>
<circle cx="1700.5" cy="800.6" r="11.2" fill="#fdd4d0"/>
<circle cx="1700.5" cy="804.2" r="11.2" fill="#fdd4d0"/>
<circle cx="1700.5" cy="807.9" r="11.5" fill="#fccdc9"/>
<circle cx="1700.5" cy="811.5" r="11.5" fill="#fcccc8"/>
<circle cx="1700.5" cy="815.1" r="11.8" fill="#fcc6c1"/>
<circle cx="1700.5" cy="818.8" r="11.6" fill="#fccac5"/>
<circle cx="1700.5" cy="822.4" r="12.0" fill="#fcbfbe"/>
<circle cx="1700.5" cy="826.0" r="11.4" fill="#fcd0cc"/>
<circle cx="1700.5" cy="829.7" r="11.5" fill="#fccdc9"/>
<circle cx="1700.5" cy="833.3" r="11.8" fill="#fcc5c0"/>
<circle cx="1700.5" cy="837.0" r="11.7" fill="#fcc7c2"/>
<circle cx="1700.5" cy="840.6" r="11.6" fill="#fccac5"/>
<circle cx="1700.5" cy="844.2" r="12.1" fill="#fbbbbd"/>
<circle cx="1700.5" cy="847.9" r="12.3" fill="#fbb4bb"/>
<circle cx="1700.5" cy="851.5" r="12.5" fill="#fbadb9"/>
<circle cx="1700.5" cy="855.1" r="12.3" fill="#fbb4bb"/>
<circle cx="1700.5" cy="858.8" r="12.5" fill="#fbacb9"/>
<circle cx="1700.5" cy="862.4" r="12.7" fill="#faa5b7"/>
<circle cx="1700.5" cy="866.1" r="12.8" fill="#faa2b6"/>
<circle cx="1700.5" cy="869.7" r="13.1" fill="#f992b0"/>
<circle cx="1700.5" cy="873.3" r="13.0" fill="#fa99b3"/>
<circle cx="1700.5" cy="877.0" r="13.3" fill="#f989ad"/>
<circle cx="1700.5" cy="880.6" r="12.9" fill="#fa9eb5"/>
<circle cx="1700.5" cy="884.3" r="13.5" fill="#f87ea9"/>
<circle cx="1700.5" cy="887.9" r="13.7" fill="#f872a5"/>
<circle cx="1700.5" cy="891.5" r="13.4" fill="#f880aa"/>
<circle cx="1700.5" cy="895.2" r="13.7" fill="#f873a5"/>
<circle cx="1700.5" cy="898.8" r="13.2" fill="#f98bae"/>
<circle cx="1700.5" cy="902.4" r="13.5" fill="#f87ba8"/>
<circle cx="1700.5" cy="906.1" r="13.4" fill="#f985ab"/>
<circle cx="1700.5" cy="909.7" r="13.8" fill="#f770a4"/>
<circle cx="1700.5" cy="913.4" r="13.9" fill="#f76ba2"/>
<circle cx="1700.5" cy="917.0" r="13.5" fill="#f87ba8"/>
<circle cx="1358.0" cy="575.0" r="18.4" fill="#640171"/>
<circle cx="1361.1" cy="575.0" r="18.4" fill="#630171"/>
<circle cx="1364.3" cy="575.0" r="19.0" fill="#49006a"/>
<circle cx="1367.4" cy="575.0" r="18.5" fill="#600070"/>
<circle cx="1370.6" cy="575.0" r="18.5" fill="#600070"/>
<circle cx="1373.7" cy="575.0" r="18.5" fill="#5e0070"/>
<circle cx="1376.9" cy="575.0" r="18.5" fill="#600070"/>
<circle cx="1380.0" cy="575.0" r="18.4" fill="#660172"/>
<circle cx="1383.1" cy="575.0" r="18.1" fill="#700174"/>
<circle cx="1386.3" cy="575.0" r="18.2" fill="#6c0173"/>
<circle cx="1389.4" cy="575.0" r="18.7" fill="#58006e"/>
<circle cx="1392.6" cy="575.0" r="18.3" fill="#670172"/>
<circle cx="1395.7" cy="575.0" r="18.1" fill="#700174"/>
<circle cx="1398.8" cy="575.0" r="17.9" fill="#7c0177"/>
<circle cx="1402.0" cy="575.0" r="18.1" fill="#730175"/>
<circle cx="1405.1" cy="575.0" r="18.0" fill="#750176"/>
<circle cx="1408.3" cy="575.0" r="17.8" fill="#7f0178"/>
<circle cx="1411.4" cy="575.0" r="18.1" fill="#740175"/>
<circle cx="1414.6" cy="575.0" r="17.7" fill="#840178"/>
<circle cx="1417.7" cy="575.0" r="17.7" fill="#830178"/>
<circle cx="1420.8" cy="575.0" r="17.8" fill="#7d0177"/>
<circle cx="1424.0" cy="575.0" r="17.7" fill="#860179"/>
<circle cx="1427.1" cy="575.0" r="17.8" fill="#810178"/>
<circle cx="1430.3" cy="575.0" r="17.4" fill="#91017a"/>
<circle cx="1433.4" cy="575.0" r="17.3" fill="#96017b"/>
<circle cx="1436.6" cy="575.0" r="17.4" fill="#90017a"/>
<circle cx="1439.7" cy="575.0" r="17.3" fill="#96017b"/>
<circle cx="1442.8" cy="575.0" r="17.4" fill="#90017a"/>
<circle cx="1446.0" cy="575.0" r="17.2" fill="#9a017b"/>
<circle cx="1449.1" cy="575.0" r="17.1" fill="#a2017c"/>
<circle cx="1452.3" cy="575.0" r="17.1" fill="#a0017c"/>
<circle cx="1455.4" cy="575.0" r="17.1" fill="#9f017c"/>
<circle cx="1458.6" cy="575.0" r="16.7" fill="#b10580"/>
<circle cx="1461.7" cy="575.0" r="16.9" fill="#aa017d"/>
<circle cx="1464.8" cy="575.0" r="16.8" fill="#ad017e"/>
<circle cx="1468.0" cy="575.0" r="17.1" fill="#a1017c"/>
<circle cx="1471.1" cy="575.0" r="16.7" fill="#b20580"/>
<circle cx="1474.3" cy="575.0" r="17.0" fill="#a5017d"/>
<circle cx="1477.4" cy="575.0" r="16.5" fill="#bb0f85"/>
<circle cx="1480.5" cy="575.0" r="16.7" fill="#b20680"/>
<circle cx="1483.7" cy="575.0" r="16.9" fill="#aa017d"/>
<circle cx="1486.8" cy="575.0" r="16.6" fill="#b60a82"/>
<circle cx="1490.0" cy="575.0" r="16.9" fill="#ab017e"/>
<circle cx="1493.1" cy="575.0" r="16.2" fill="#c71c8b"/>
<circle cx="1496.3" cy="575.0" r="16.6" fill="#b70a83"/>
<circle cx="1499.4" cy="575.0" r="16.6" fill="#b60a82"/>
<circle cx="1502.5" cy="575.0" r="16.5" fill="#ba0e84"/>
<circle cx="1505.7" cy="575.0" r="16.2" fill="#c61c8b"/>
<circle cx="1508.8" cy="575.0" r="16.6" fill="#b50982"/>
<circle cx="1512.0" cy="575.0" r="16.0" fill="#cf2590"/>
<circle cx="1515.1" cy="575.0" r="16.7" fill="#b40881"/>
<circle cx="1518.3" cy="575.0" r="16.5" fill="#ba0e85"/>
<circle cx="1521.4" cy="575.0" r="16.6" fill="#b50982"/>
<circle cx="1524.5" cy="575.0" r="16.4" fill="#c01488"/>
<circle cx="1527.7" cy="575.0" r="16.2" fill="#c81d8c"/>
<circle cx="1530.8" cy="575.0" r="16.3" fill="#c31889"/>
<circle cx="1534.0" cy="575.0" r="16.3" fill="#c31889"/>
<circle cx="1537.1" cy="575.0" r="16.5" fill="#bb0f85"/>
<circle cx="1540.2" cy="575.0" r="16.3" fill="#c31889"/>
<circle cx="1543.4" cy="575.0" r="16.5" fill="#bd1186"/>
<circle cx="1546.5" cy="575.0" r="16.5" fill="#bd1186"/>
<circle cx="1549.7" cy="575.0" r="16.7" fill="#b50882"/>
<circle cx="1552.8" cy="575.0" r="16.0" fill="#d22891"/>
<circle cx="1556.0" cy="575.0" r="16.3" fill="#c4198a"/>
<circle cx="1559.1" cy="575.0" r="16.5" fill="#bb0f85"/>
<circle cx="1562.2" cy="575.0" r="16.5" fill="#bb0f85"/>
<circle cx="1565.4" cy="575.0" r="16.3" fill="#c51a8a"/>
<circle cx="1568.5" cy="575.0" r="16.3" fill="#c31889"/>
<circle cx="1571.7" cy="575.0" r="16.4" fill="#c21688"/>
<circle cx="1574.8" cy="575.0" r="16.4" fill="#c01487"/>
<circle cx="1578.0" cy="575.0" r="16.3" fill="#c51a8a"/>
<circle cx="1581.1" cy="575.0" r="16.2" fill="#c61b8b"/>
<circle cx="1584.2" cy="575.0" r="16.2" fill="#ca208d"/>
<circle cx="1587.4" cy="575.0" r="16.3" fill="#c4198a"/>
<circle cx="1590.5" cy="575.0" r="16.6" fill="#b50982"/>
<circle cx="1593.7" cy="575.0" r="16.2" fill="#c91e8c"/>
<circle cx="1596.8" cy="575.0" r="16.6" fill="#b90c84"/>
<circle cx="1599.9" cy="575.0" r="16.8" fill="#b0037f"/>
<circle cx="1603.1" cy="575.0" r="16.4" fill="#bf1387"/>
<circle cx="1606.2" cy="575.0" r="16.8" fill="#ad017e"/>
<circle cx="1609.4" cy="575.0" r="16.3" fill="#c21689"/>
<circle cx="1612.5" cy="575.0" r="16.7" fill="#b20680"/>
<circle cx="1615.7" cy="575.0" r="16.4" fill="#c11688"/>
<circle cx="1618.8" cy="575.0" r="16.1" fill="#cb208d"/>
<circle cx="1621.9" cy="575.0" r="16.4" fill="#be1286"/>
<circle cx="1625.1" cy="575.0" r="16.7" fill="#b1047f"/>
<circle cx="1628.2" cy="575.0" r="16.3" fill="#c51a8a"/>
<circle cx="1631.4" cy="575.0" r="16.5" fill="#bc1186"/>
<circle cx="1634.5" cy="575.0" r="16.2" fill="#c91e8c"/>
<circle cx="1637.7" cy="575.0" r="16.2" fill="#c81d8c"/>
<circle cx="1640.8" cy="575.0" r="16.5" fill="#bc1086"/>
<circle cx="1643.9" cy="575.0" r="16.4" fill="#c11688"/>
<circle cx="1647.1" cy="575.0" r="16.5" fill="#ba0e85"/>
<circle cx="1650.2" cy="575.0" r="16.7" fill="#b40781"/>
<circle cx="1653.4" cy="575.0" r="16.2" fill="#c81d8c"/>
<circle cx="1656.5" cy="575.0" r="16.3" fill="#c31889"/>
<circle cx="1659.7" cy="575.0" r="16.5" fill="#bd1186"/>
<circle cx="1662.8" cy="575.0" r="16.9" fill="#a9017d"/>
<circle cx="1665.9" cy="575.0" r="16.4" fill="#bf1387"/>
<circle cx="1669.1" cy="575.0" r="16.4" fill="#c01487"/>
<circle cx="1672.2" cy="575.0" r="16.6" fill="#b80b83"/>
<circle cx="1675.4" cy="575.0" r="16.9" fill="#a8017d"/>
<circle cx="1678.5" cy="575.0" r="16.4" fill="#bf1487"/>
<circle cx="1681.6" cy="575.0" r="16.5" fill="#bc1186"/>
<circle cx="1684.8" cy="575.0" r="16.6" fill="#b90d84"/>
<circle cx="1687.9" cy="575.0" r="16.7" fill="#b20680"/>
<circle cx="1691.1" cy="575.0" r="17.0" fill="#a5017d"/>
<circle cx="1694.2" cy="575.0" r="16.3" fill="#c21789"/>
<circle cx="1697.4" cy="575.0" r="16.3" fill="#c51a8a"/>
<circle cx="1700.5" cy="575.0" r="16.6" fill="#b50982"/>
<circle cx="1779.1" cy="575.8" r="17.2" fill="#6a0177"/>
<circle cx="1779.1" cy="643.6" r="16.2" fill="#aa017e"/>
<circle cx="1779.1" cy="712.3" r="14.8" fill="#da3596"/>
<circle cx="1779.1" cy="780.6" r="13.4" fill="#f78fb3"/>
<circle cx="1779.1" cy="848.6" r="11.8" fill="#fcc0c0"/>
<circle cx="1779.1" cy="917.1" r="10.1" fill="#fde0dd"/>
<rect x="1821" y="536.5" width="21.2" height="419" fill="url(#fgrad)" stroke="#222" stroke-width="1.2"/>
<line x1="1842.2" y1="903.1" x2="1846.2" y2="903.1" stroke="#222" stroke-width="1.1"/>
<text x="1850.2" y="910.1" font-size="19.5" class="t">2.0</text>
<line x1="1842.2" y1="850.8" x2="1846.2" y2="850.8" stroke="#222" stroke-width="1.1"/>
<line x1="1842.2" y1="798.4" x2="1846.2" y2="798.4" stroke="#222" stroke-width="1.1"/>
<text x="1850.2" y="805.4" font-size="19.5" class="t">2.2</text>
<line x1="1842.2" y1="746.0" x2="1846.2" y2="746.0" stroke="#222" stroke-width="1.1"/>
<line x1="1842.2" y1="693.6" x2="1846.2" y2="693.6" stroke="#222" stroke-width="1.1"/>
<text x="1850.2" y="700.6" font-size="19.5" class="t">2.4</text>
<line x1="1842.2" y1="641.3" x2="1846.2" y2="641.3" stroke="#222" stroke-width="1.1"/>
<line x1="1842.2" y1="588.9" x2="1846.2" y2="588.9" stroke="#222" stroke-width="1.1"/>
<text x="1850.2" y="595.9" font-size="19.5" class="t">2.6</text>
<line x1="1842.2" y1="536.5" x2="1846.2" y2="536.5" stroke="#222" stroke-width="1.1"/>
<text transform="translate(1889.5,746.7) rotate(90)" font-size="24.4" text-anchor="middle" class="t">Band gap (eV)</text>
<text x="1285.5" y="541.5" font-size="21" class="t">Cs<tspan font-size="15" dx="0.6" dy="5.5">3</tspan><tspan dx="0.6" dy="-5.5">Bi</tspan><tspan font-size="15" dx="0.6" dy="5.5">2</tspan><tspan dx="0.6" dy="-5.5">Br</tspan><tspan font-size="15" dx="0.6" dy="5.5">9</tspan></text>
<text x="1667" y="541.5" font-size="21" class="t">Cs<tspan font-size="15" dx="0.6" dy="5.5">3</tspan><tspan dx="0.6" dy="-5.5">Sb</tspan><tspan font-size="15" dx="0.6" dy="5.5">2</tspan><tspan dx="0.6" dy="-5.5">Br</tspan><tspan font-size="15" dx="0.6" dy="5.5">9</tspan></text>
<text x="1295.5" y="958.5" font-size="21" class="t">Cs<tspan font-size="15" dx="0.6" dy="5.5">3</tspan><tspan dx="0.6" dy="-5.5">Bi</tspan><tspan font-size="15" dx="0.6" dy="5.5">2</tspan><tspan dx="0.6" dy="-5.5">I</tspan><tspan font-size="15" dx="0.6" dy="5.5">9</tspan></text>
<text x="1674.5" y="958.5" font-size="21" class="t">Cs<tspan font-size="15" dx="0.6" dy="5.5">3</tspan><tspan dx="0.6" dy="-5.5">Sb</tspan><tspan font-size="15" dx="0.6" dy="5.5">2</tspan><tspan dx="0.6" dy="-5.5">I</tspan><tspan font-size="15" dx="0.6" dy="5.5">9</tspan></text>
<text x="1296.3" y="698.3" font-size="23" class="t">Br</text>
<text x="1305.2" y="808" font-size="23" class="t">I</text>
<line x1="1309.3" y1="721.8" x2="1309.3" y2="753" stroke="#000" stroke-width="2.3"/><polygon points="1303.3,751.8 1315.3,751.8 1309.3,764.6" fill="#000"/>
<text x="1486.8" y="974.8" font-size="23" class="t">Bi</text>
<text x="1589.5" y="974.8" font-size="23" class="t">Sb</text>
<line x1="1528.2" y1="966.1" x2="1560" y2="966.1" stroke="#000" stroke-width="2.3"/><polygon points="1558.4,959.7 1558.4,972.5 1570.4,966.1" fill="#000"/>
</svg>
</body></html>
